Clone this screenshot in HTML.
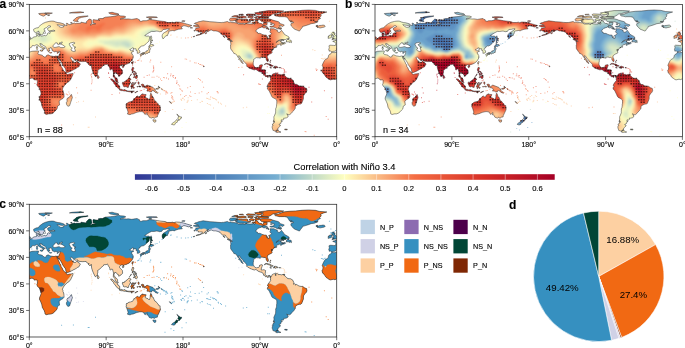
<!DOCTYPE html><html><head><meta charset="utf-8"><title>Correlation with Niño 3.4</title><style>html,body{margin:0;padding:0;background:#fff}svg{display:block}text{font-family:'Liberation Sans', Arial, sans-serif;fill:#000;stroke:#000;stroke-width:0.12px}</style></head><body><svg width="685" height="348" viewBox="0 0 685 348"><defs><path id="land" fill-rule="evenodd" d="M-5.0 47.8L-2.6 48.3L-0.5 47.9L2.6 46.9L6.0 46.7L8.4 46.5L9.4 46.7L8.6 49.4L9.4 50.1L11.3 50.4L13.0 50.8L13.7 51.8L15.4 52.7L17.1 52.2L17.1 51.1L18.8 50.4L20.5 51.2L21.3 51.5L24.8 52.1L26.5 51.6L27.6 51.9L28.6 51.9L28.3 53.4L27.8 53.0L27.8 53.8L28.6 54.9L29.3 56.4L30.3 58.2L30.5 59.1L31.6 60.4L31.8 62.1L32.9 63.5L33.7 65.6L35.4 67.4L36.5 67.9L37.0 68.5L36.9 69.1L38.4 70.2L40.1 69.5L41.8 69.4L43.8 69.0L43.7 70.2L42.7 72.3L41.4 75.0L39.7 77.2L38.7 77.6L36.3 79.7L35.0 81.3L33.9 82.9L33.1 84.8L33.7 86.0L33.7 87.1L34.4 88.5L34.7 90.4L34.8 92.6L33.7 94.0L31.6 95.2L29.8 96.8L30.1 98.8L30.3 100.5L28.3 101.7L28.1 103.2L27.6 104.8L26.5 105.8L25.2 107.3L23.8 108.5L21.9 109.4L19.2 109.5L17.1 110.1L15.7 109.4L15.5 107.6L14.8 105.8L14.1 104.6L13.0 102.8L12.4 99.6L11.3 97.0L10.1 94.6L10.4 92.6L11.4 90.5L11.8 88.9L11.3 87.1L10.5 84.7L10.1 83.6L8.1 81.6L7.5 80.0L8.0 79.0L8.2 77.2L8.3 75.9L7.6 75.4L6.0 75.5L5.1 75.6L4.5 74.5L2.9 73.7L2.0 73.8L0.9 74.2L-0.2 74.5L-1.8 75.2L-3.4 74.8L-6.4 75.5L-7.9 74.8L-9.2 73.8L-10.7 72.8L-11.3 71.9L-11.7 71.0L-12.8 69.9L-13.3 68.9L-14.3 68.4L-14.2 67.5L-14.9 66.4L-14.1 65.3L-13.7 63.4L-13.9 62.2L-14.5 61.0L-13.8 59.1L-12.4 56.4L-11.1 54.9L-9.6 54.2L-8.7 53.4L-8.2 52.6L-8.4 51.6L-7.3 50.0L-6.5 49.7L-5.8 49.4L-5.0 47.8ZM302.4 47.8L304.8 48.3L306.9 47.9L310.0 46.9L313.4 46.7L315.8 46.5L316.8 46.7L316.0 49.4L316.8 50.1L318.7 50.4L320.4 50.8L321.1 51.8L322.8 52.7L324.5 52.2L324.5 51.1L326.2 50.4L327.9 51.2L328.7 51.5L332.2 52.1L333.9 51.6L335.0 51.9L336.0 51.9L335.7 53.4L335.2 53.0L335.2 53.8L336.0 54.9L336.7 56.4L337.7 58.2L337.9 59.1L339.0 60.4L339.2 62.1L340.3 63.5L341.1 65.6L342.8 67.4L343.9 67.9L344.4 68.5L344.3 69.1L345.8 70.2L347.5 69.5L349.2 69.4L351.2 69.0L351.1 70.2L350.1 72.3L348.8 75.0L347.1 77.2L346.1 77.6L343.7 79.7L342.4 81.3L341.3 82.9L340.5 84.8L341.1 86.0L341.1 87.1L341.8 88.5L342.1 90.4L342.2 92.6L341.1 94.0L339.0 95.2L337.2 96.8L337.5 98.8L337.7 100.5L335.7 101.7L335.5 103.2L335.0 104.8L333.9 105.8L332.6 107.3L331.2 108.5L329.3 109.4L326.6 109.5L324.5 110.1L323.1 109.4L322.9 107.6L322.2 105.8L321.5 104.6L320.4 102.8L319.8 99.6L318.7 97.0L317.5 94.6L317.8 92.6L318.8 90.5L319.2 88.9L318.7 87.1L317.9 84.7L317.5 83.6L315.5 81.6L314.9 80.0L315.4 79.0L315.6 77.2L315.7 75.9L315.0 75.4L313.4 75.5L312.5 75.6L311.9 74.5L310.3 73.7L309.4 73.8L308.3 74.2L307.2 74.5L305.6 75.2L304.0 74.8L301.0 75.5L299.5 74.8L298.2 73.8L296.7 72.8L296.1 71.9L295.7 71.0L294.6 69.9L294.1 68.9L293.1 68.4L293.2 67.5L292.5 66.4L293.3 65.3L293.7 63.4L293.5 62.2L292.9 61.0L293.6 59.1L295.0 56.4L296.3 54.9L297.8 54.2L298.7 53.4L299.2 52.6L299.0 51.6L300.1 50.0L300.9 49.7L301.6 49.4L302.4 47.8ZM42.1 90.0L43.1 93.1L42.3 95.3L41.4 97.9L40.3 101.3L38.6 101.9L37.3 100.1L37.0 98.3L37.9 96.8L37.6 94.8L38.4 93.5L39.7 93.2L41.0 91.4ZM27.6 51.9L27.8 53.0L28.6 54.0L29.2 54.9L29.7 53.4L29.9 54.5L31.3 56.4L32.4 58.2L33.4 60.4L34.6 62.2L36.3 64.5L36.5 66.3L37.0 67.6L37.1 68.2L38.4 68.1L41.0 67.0L41.9 66.6L44.6 65.1L46.1 64.4L47.2 63.8L48.2 62.8L49.4 62.6L50.1 61.3L51.1 59.5L50.0 58.6L48.7 58.0L48.2 57.4L48.2 56.2L47.8 56.6L47.2 57.1L46.5 57.8L44.8 58.0L44.1 57.9L44.1 57.3L44.0 56.4L43.4 56.9L43.4 57.5L42.9 56.7L42.8 56.1L42.0 55.1L41.0 53.4L41.4 52.9L42.7 52.7L43.4 53.9L44.8 55.1L46.5 55.9L48.1 55.4L48.7 55.8L48.9 56.6L49.4 56.8L51.7 57.1L53.2 57.2L55.1 57.1L56.8 57.0L57.2 57.5L57.6 58.3L58.2 58.6L58.7 58.9L60.0 59.2L58.9 59.7L60.0 60.9L60.6 61.1L61.6 60.7L61.9 59.8L62.2 60.9L62.2 62.6L62.6 64.4L63.0 65.7L63.9 68.0L65.1 70.6L65.7 71.9L66.2 72.2L66.8 71.5L67.6 71.2L68.1 70.3L68.2 68.8L68.6 67.8L68.4 65.9L69.3 65.4L70.3 64.7L71.1 63.8L72.6 62.4L73.3 61.9L74.2 61.1L74.3 60.4L75.1 60.2L76.4 60.2L77.3 60.0L78.1 59.5L78.4 59.7L78.6 60.6L79.3 61.7L80.5 63.5L80.6 65.3L81.4 65.4L82.2 64.8L82.8 64.4L83.3 65.0L83.8 67.0L84.2 68.4L84.1 70.6L83.9 72.3L85.0 73.2L85.6 73.8L85.6 74.6L86.0 75.9L86.5 76.7L87.3 77.4L88.4 78.2L89.1 78.1L88.4 77.1L88.3 76.0L88.0 74.7L87.3 73.9L86.5 73.3L85.9 73.0L85.4 71.9L84.8 71.3L84.7 70.1L85.2 69.0L85.4 68.3L85.8 67.5L86.2 68.0L86.7 68.3L87.4 68.6L88.0 69.7L88.4 70.0L89.2 70.2L89.5 71.8L90.1 71.4L91.1 70.9L91.5 70.2L92.3 69.8L93.2 68.9L93.3 67.9L93.2 67.2L93.0 65.9L92.4 65.2L91.9 64.7L91.0 63.9L90.3 62.9L90.4 61.9L91.1 61.0L92.2 60.4L93.6 60.4L93.8 61.5L94.4 61.5L94.3 60.6L95.2 60.4L96.5 60.0L97.5 59.7L99.6 58.7L100.8 57.8L102.1 56.4L103.2 54.7L104.1 53.0L103.2 52.7L104.1 52.0L104.1 51.4L103.2 50.6L102.7 49.1L101.9 48.7L102.8 47.5L104.6 46.7L103.7 46.2L101.6 46.5L100.8 45.7L100.5 45.0L101.6 44.8L102.1 44.2L103.3 43.4L104.3 43.6L103.8 45.1L105.0 44.5L106.1 44.2L106.9 44.5L106.7 45.3L106.6 45.9L108.0 46.3L107.9 47.2L108.0 48.1L107.8 48.8L108.9 48.9L110.2 48.4L110.6 47.6L110.5 46.7L109.8 45.7L108.9 44.8L109.3 44.1L110.7 43.3L110.8 42.5L111.6 42.1L112.7 41.4L113.7 41.6L115.7 40.4L117.0 39.2L118.3 37.9L119.8 36.6L119.8 35.7L120.2 34.0L120.7 32.6L120.1 32.2L119.1 31.6L117.4 31.8L115.4 31.1L117.0 30.1L118.0 29.4L120.0 28.2L122.3 27.0L124.7 27.1L127.2 26.7L128.8 26.8L130.2 27.3L132.4 27.0L133.8 25.1L136.6 24.9L137.0 24.7L140.0 24.3L139.4 25.6L138.2 26.2L136.6 27.3L135.1 28.2L133.9 29.0L133.2 30.0L132.9 31.0L132.9 32.6L133.3 33.5L133.8 34.5L135.5 32.6L136.6 31.3L138.2 31.2L138.5 30.0L139.4 28.4L139.2 27.3L140.7 26.5L143.5 26.1L145.4 26.5L145.8 25.9L146.9 25.6L149.0 24.9L153.0 24.4L151.6 22.3L152.4 22.4L153.7 21.7L154.6 21.2L156.7 21.7L159.5 22.6L162.5 21.1L159.7 20.3L158.0 19.8L155.4 19.0L154.1 18.6L152.0 18.2L150.3 17.8L146.9 17.6L145.4 17.9L145.2 18.7L143.5 17.8L141.7 18.1L137.9 18.1L135.8 17.2L132.4 16.8L128.5 16.3L124.7 15.6L120.4 15.2L117.0 16.3L113.6 16.3L112.3 16.9L111.0 16.8L110.1 16.2L110.2 15.4L108.4 14.6L108.0 14.2L105.9 14.4L102.5 15.0L99.1 14.5L96.9 14.6L93.9 14.3L90.9 14.8L92.2 13.9L93.9 13.7L96.5 12.5L94.8 11.7L91.4 11.5L89.1 10.8L85.4 11.9L81.1 12.3L76.0 12.8L73.9 13.7L73.9 14.2L70.9 14.1L68.7 14.6L70.4 16.1L68.7 15.7L66.6 15.6L64.0 15.2L63.6 16.3L63.9 18.7L66.2 19.2L66.2 19.7L63.0 19.7L61.5 20.9L60.8 20.6L62.0 19.4L62.6 18.5L62.2 16.8L61.9 15.2L59.8 14.7L58.5 15.9L57.2 17.2L57.0 18.1L57.2 18.7L55.5 18.5L51.7 17.8L51.5 18.8L48.7 18.9L47.0 18.9L46.1 19.2L45.3 18.6L42.7 19.4L40.1 20.3L39.7 20.5L38.9 19.4L37.8 18.9L37.0 18.9L37.7 20.7L37.6 21.2L35.9 20.8L34.2 21.6L34.6 22.4L32.0 23.0L31.2 22.8L29.7 22.1L27.8 20.2L29.9 20.6L32.9 21.1L34.6 20.7L35.3 20.1L34.0 19.3L30.7 18.4L28.6 18.2L26.5 17.6L24.8 16.9L23.7 16.7L22.0 16.7L19.6 17.0L16.2 17.9L13.7 19.0L12.3 20.0L10.7 21.2L9.4 22.5L8.9 23.4L7.3 23.5L5.3 24.3L4.3 24.9L4.4 26.1L4.9 27.3L6.1 28.2L6.8 28.1L8.1 27.5L9.1 27.1L9.1 26.5L9.6 27.3L10.2 28.5L10.8 29.8L11.1 30.3L12.2 30.4L13.3 29.9L14.0 29.4L14.3 28.4L14.3 27.7L15.6 27.1L16.1 26.5L14.8 25.8L14.9 24.3L17.3 23.1L19.0 21.5L20.6 21.3L21.7 22.1L19.7 23.1L18.4 23.7L18.4 25.1L19.0 26.1L19.6 26.6L21.3 26.3L23.1 26.0L24.5 25.8L25.8 26.5L23.9 26.9L21.2 27.0L20.1 27.2L20.9 27.9L20.6 29.1L19.3 28.4L18.4 28.8L17.9 29.5L18.0 30.3L17.1 31.1L16.7 31.4L16.0 31.4L15.6 31.0L14.1 31.3L12.2 31.8L11.5 31.2L10.3 31.6L9.3 31.8L8.7 31.4L8.1 31.0L8.5 30.4L8.8 29.8L9.3 29.6L9.0 28.8L9.1 28.5L8.1 28.9L7.0 29.1L6.9 30.0L7.2 30.4L7.3 31.0L7.6 31.8L7.4 31.8L6.9 32.1L6.1 32.3L4.1 32.6L3.4 33.5L3.0 34.0L1.6 34.4L0.1 35.7L-1.0 35.8L-1.4 35.5L-1.4 36.4L-4.0 36.7L-3.7 37.2L-2.9 37.3L-1.9 37.7L-1.0 38.6L-0.9 39.2L-1.0 40.0L-1.3 41.0L-1.7 41.2L-3.2 41.0L-4.9 40.9L-6.8 40.8L-7.9 41.5L-7.5 42.2L-7.4 43.1L-7.6 43.9L-8.0 45.2L-7.5 45.5L-7.6 45.9L-7.7 46.7L-6.7 46.7L-5.9 46.6L-5.4 47.2L-4.8 47.6L-4.5 47.5L-3.8 47.0L-2.0 46.9L-1.8 47.0L-0.9 46.2L-0.4 45.6L0.2 45.2L-0.3 44.5L0.8 43.5L1.9 42.9L2.8 42.1L2.6 41.7L3.0 41.2L4.6 41.2L5.1 41.4L6.2 40.8L7.6 40.2L8.4 40.5L8.8 41.0L9.0 41.5L10.1 42.2L10.4 42.5L11.6 43.0L12.1 43.4L12.6 43.6L13.3 44.1L13.5 44.5L13.7 45.2L13.4 45.8L13.7 46.0L14.2 45.5L14.7 44.9L14.1 44.4L14.7 43.7L15.4 44.1L15.7 44.3L15.8 44.0L15.4 43.6L14.4 43.1L13.8 42.4L12.9 42.4L12.1 41.9L11.5 40.9L10.8 40.5L10.7 39.7L10.5 39.3L11.8 39.2L11.6 39.6L11.9 39.9L12.3 39.4L13.0 40.5L14.0 41.0L15.5 41.8L16.4 42.4L16.6 43.0L16.6 43.7L17.1 44.4L17.2 44.5L17.7 45.0L18.2 45.6L18.0 46.0L18.5 46.8L19.2 47.3L19.8 47.3L19.5 46.3L20.1 46.4L20.2 46.0L20.5 46.2L20.5 45.7L19.9 45.3L19.6 44.7L19.3 44.1L19.6 43.6L20.3 44.1L20.8 43.9L20.8 43.3L22.1 43.4L22.4 44.0L22.3 44.5L22.8 44.7L22.9 45.5L22.5 45.6L23.3 46.0L23.4 46.7L24.2 46.9L24.8 47.1L25.3 47.5L26.0 47.4L26.2 46.8L27.3 47.2L28.0 47.6L29.0 47.4L29.5 46.9L30.3 47.1L30.9 47.1L30.7 47.6L30.6 48.1L30.6 49.0L30.3 49.5L29.9 50.5L29.7 51.1L29.3 51.7L28.9 51.9ZM335.0 51.9L335.2 53.0L336.0 54.0L336.6 54.9L337.1 53.4L337.3 54.5L338.7 56.4L339.8 58.2L340.8 60.4L342.0 62.2L343.7 64.5L343.9 66.3L344.4 67.6L344.5 68.2L345.8 68.1L348.4 67.0L349.3 66.6L352.0 65.1L353.5 64.4L354.6 63.8L355.6 62.8L356.8 62.6L357.5 61.3L358.5 59.5L357.4 58.6L356.1 58.0L355.6 57.4L355.6 56.2L355.2 56.6L354.6 57.1L353.9 57.8L352.2 58.0L351.5 57.9L351.5 57.3L351.4 56.4L350.8 56.9L350.8 57.5L350.3 56.7L350.2 56.1L349.4 55.1L348.4 53.4L348.8 52.9L350.1 52.7L350.8 53.9L352.2 55.1L353.9 55.9L355.5 55.4L356.1 55.8L356.3 56.6L356.8 56.8L359.1 57.1L360.6 57.2L362.5 57.1L364.2 57.0L364.6 57.5L365.0 58.3L365.6 58.6L366.1 58.9L367.4 59.2L366.3 59.7L367.4 60.9L368.0 61.1L369.0 60.7L369.3 59.8L369.6 60.9L369.6 62.6L370.0 64.4L370.4 65.7L371.3 68.0L372.5 70.6L373.1 71.9L373.6 72.2L374.2 71.5L375.0 71.2L375.5 70.3L375.6 68.8L376.0 67.8L375.8 65.9L376.7 65.4L377.7 64.7L378.5 63.8L380.0 62.4L380.7 61.9L381.6 61.1L381.7 60.4L382.5 60.2L383.8 60.2L384.7 60.0L385.5 59.5L385.8 59.7L386.0 60.6L386.7 61.7L387.9 63.5L388.0 65.3L388.8 65.4L389.6 64.8L390.2 64.4L390.7 65.0L391.2 67.0L391.6 68.4L391.5 70.6L391.3 72.3L392.4 73.2L393.0 73.8L393.0 74.6L393.4 75.9L393.9 76.7L394.7 77.4L395.8 78.2L396.5 78.1L395.8 77.1L395.7 76.0L395.4 74.7L394.7 73.9L393.9 73.3L393.3 73.0L392.8 71.9L392.2 71.3L392.1 70.1L392.6 69.0L392.8 68.3L393.2 67.5L393.6 68.0L394.1 68.3L394.8 68.6L395.4 69.7L395.8 70.0L396.6 70.2L396.9 71.8L397.5 71.4L398.5 70.9L398.9 70.2L399.7 69.8L400.6 68.9L400.7 67.9L400.6 67.2L400.4 65.9L399.8 65.2L399.3 64.7L398.4 63.9L397.7 62.9L397.8 61.9L398.5 61.0L399.6 60.4L401.0 60.4L401.2 61.5L401.8 61.5L401.7 60.6L402.6 60.4L403.9 60.0L404.9 59.7L407.0 58.7L408.2 57.8L409.5 56.4L410.6 54.7L411.5 53.0L410.6 52.7L411.5 52.0L411.5 51.4L410.6 50.6L410.1 49.1L409.3 48.7L410.2 47.5L412.0 46.7L411.1 46.2L409.0 46.5L408.2 45.7L407.9 45.0L409.0 44.8L409.5 44.2L410.7 43.4L411.7 43.6L411.2 45.1L412.4 44.5L413.5 44.2L414.3 44.5L414.1 45.3L414.0 45.9L415.4 46.3L415.3 47.2L415.4 48.1L415.2 48.8L416.3 48.9L417.6 48.4L418.0 47.6L417.9 46.7L417.2 45.7L416.3 44.8L416.7 44.1L418.1 43.3L418.2 42.5L419.0 42.1L420.1 41.4L421.1 41.6L423.1 40.4L424.4 39.2L425.7 37.9L427.2 36.6L427.2 35.7L427.6 34.0L428.1 32.6L427.5 32.2L426.5 31.6L424.8 31.8L422.8 31.1L424.4 30.1L425.4 29.4L427.4 28.2L429.7 27.0L432.1 27.1L434.6 26.7L436.2 26.8L437.6 27.3L439.8 27.0L441.2 25.1L444.0 24.9L444.4 24.7L447.4 24.3L446.8 25.6L445.6 26.2L444.0 27.3L442.5 28.2L441.3 29.0L440.6 30.0L440.3 31.0L440.3 32.6L440.7 33.5L441.2 34.5L442.9 32.6L444.0 31.3L445.6 31.2L445.9 30.0L446.8 28.4L446.6 27.3L448.1 26.5L450.9 26.1L452.8 26.5L453.2 25.9L454.3 25.6L456.4 24.9L460.4 24.4L459.0 22.3L459.8 22.4L461.1 21.7L462.0 21.2L464.1 21.7L466.9 22.6L469.9 21.1L467.1 20.3L465.4 19.8L462.8 19.0L461.5 18.6L459.4 18.2L457.7 17.8L454.3 17.6L452.8 17.9L452.6 18.7L450.9 17.8L449.1 18.1L445.3 18.1L443.2 17.2L439.8 16.8L435.9 16.3L432.1 15.6L427.8 15.2L424.4 16.3L421.0 16.3L419.7 16.9L418.4 16.8L417.5 16.2L417.6 15.4L415.8 14.6L415.4 14.2L413.3 14.4L409.9 15.0L406.5 14.5L404.3 14.6L401.3 14.3L398.3 14.8L399.6 13.9L401.3 13.7L403.9 12.5L402.2 11.7L398.8 11.5L396.5 10.8L392.8 11.9L388.5 12.3L383.4 12.8L381.3 13.7L381.3 14.2L378.3 14.1L376.1 14.6L377.8 16.1L376.1 15.7L374.0 15.6L371.4 15.2L371.0 16.3L371.3 18.7L373.6 19.2L373.6 19.7L370.4 19.7L368.9 20.9L368.2 20.6L369.4 19.4L370.0 18.5L369.6 16.8L369.3 15.2L367.2 14.7L365.9 15.9L364.6 17.2L364.4 18.1L364.6 18.7L362.9 18.5L359.1 17.8L358.9 18.8L356.1 18.9L354.4 18.9L353.5 19.2L352.7 18.6L350.1 19.4L347.5 20.3L347.1 20.5L346.3 19.4L345.2 18.9L344.4 18.9L345.1 20.7L345.0 21.2L343.3 20.8L341.6 21.6L342.0 22.4L339.4 23.0L338.6 22.8L337.1 22.1L335.2 20.2L337.3 20.6L340.3 21.1L342.0 20.7L342.7 20.1L341.4 19.3L338.1 18.4L336.0 18.2L333.9 17.6L332.2 16.9L331.1 16.7L329.4 16.7L327.0 17.0L323.6 17.9L321.1 19.0L319.7 20.0L318.1 21.2L316.8 22.5L316.3 23.4L314.7 23.5L312.7 24.3L311.7 24.9L311.8 26.1L312.3 27.3L313.5 28.2L314.2 28.1L315.5 27.5L316.5 27.1L316.5 26.5L317.0 27.3L317.6 28.5L318.2 29.8L318.5 30.3L319.6 30.4L320.7 29.9L321.4 29.4L321.7 28.4L321.7 27.7L323.0 27.1L323.5 26.5L322.2 25.8L322.3 24.3L324.7 23.1L326.4 21.5L328.0 21.3L329.1 22.1L327.1 23.1L325.8 23.7L325.8 25.1L326.4 26.1L327.0 26.6L328.7 26.3L330.5 26.0L331.9 25.8L333.2 26.5L331.3 26.9L328.6 27.0L327.5 27.2L328.3 27.9L328.0 29.1L326.7 28.4L325.8 28.8L325.3 29.5L325.4 30.3L324.5 31.1L324.1 31.4L323.4 31.4L323.0 31.0L321.5 31.3L319.6 31.8L318.9 31.2L317.7 31.6L316.7 31.8L316.1 31.4L315.5 31.0L315.9 30.4L316.2 29.8L316.7 29.6L316.4 28.8L316.5 28.5L315.5 28.9L314.4 29.1L314.3 30.0L314.6 30.4L314.7 31.0L315.0 31.8L314.8 31.8L314.3 32.1L313.5 32.3L311.5 32.6L310.8 33.5L310.4 34.0L309.0 34.4L307.5 35.7L306.4 35.8L306.0 35.5L306.0 36.4L303.4 36.7L303.7 37.2L304.5 37.3L305.5 37.7L306.4 38.6L306.5 39.2L306.4 40.0L306.1 41.0L305.7 41.2L304.2 41.0L302.5 40.9L300.6 40.8L299.5 41.5L299.9 42.2L300.0 43.1L299.8 43.9L299.4 45.2L299.9 45.5L299.8 45.9L299.7 46.7L300.7 46.7L301.5 46.6L302.0 47.2L302.6 47.6L302.9 47.5L303.6 47.0L305.4 46.9L305.6 47.0L306.5 46.2L307.0 45.6L307.6 45.2L307.1 44.5L308.2 43.5L309.3 42.9L310.2 42.1L310.0 41.7L310.4 41.2L312.0 41.2L312.5 41.4L313.6 40.8L315.0 40.2L315.8 40.5L316.2 41.0L316.4 41.5L317.5 42.2L317.8 42.5L319.0 43.0L319.5 43.4L320.0 43.6L320.7 44.1L320.9 44.5L321.1 45.2L320.8 45.8L321.1 46.0L321.6 45.5L322.1 44.9L321.5 44.4L322.1 43.7L322.8 44.1L323.1 44.3L323.2 44.0L322.8 43.6L321.8 43.1L321.2 42.4L320.3 42.4L319.5 41.9L318.9 40.9L318.2 40.5L318.1 39.7L317.9 39.3L319.2 39.2L319.0 39.6L319.3 39.9L319.7 39.4L320.4 40.5L321.4 41.0L322.9 41.8L323.8 42.4L324.0 43.0L324.0 43.7L324.5 44.4L324.6 44.5L325.1 45.0L325.6 45.6L325.4 46.0L325.9 46.8L326.6 47.3L327.2 47.3L326.9 46.3L327.5 46.4L327.6 46.0L327.9 46.2L327.9 45.7L327.3 45.3L327.0 44.7L326.7 44.1L327.0 43.6L327.7 44.1L328.2 43.9L328.2 43.3L329.5 43.4L329.8 44.0L329.7 44.5L330.2 44.7L330.3 45.5L329.9 45.6L330.7 46.0L330.8 46.7L331.6 46.9L332.2 47.1L332.7 47.5L333.4 47.4L333.6 46.8L334.7 47.2L335.4 47.6L336.4 47.4L336.9 46.9L337.7 47.1L338.3 47.1L338.1 47.6L338.0 48.1L338.0 49.0L337.7 49.5L337.3 50.5L337.1 51.1L336.7 51.7L336.3 51.9ZM24.8 43.0L23.9 42.4L23.5 41.9L23.8 41.3L24.5 40.4L25.4 39.5L26.2 38.4L27.3 38.4L28.2 38.7L27.8 39.3L28.5 39.5L28.6 40.0L29.2 40.2L30.2 39.7L31.2 39.4L30.3 39.3L29.9 38.8L29.7 38.6L30.3 38.5L31.4 38.2L32.0 37.8L33.2 37.7L32.7 38.2L32.4 38.8L31.9 39.4L31.3 39.6L31.9 39.8L32.3 40.0L33.4 40.5L33.9 40.9L35.0 41.5L35.6 42.2L35.5 42.7L33.9 43.2L32.4 43.2L31.0 43.0L30.1 42.3L28.9 42.3L27.2 42.8L25.9 43.0ZM40.1 39.1L41.4 38.5L42.7 38.2L44.4 37.9L45.4 38.3L45.3 39.2L44.0 39.5L43.5 40.1L43.0 40.3L43.8 41.3L44.8 41.9L45.1 42.5L46.5 42.8L45.2 43.2L45.3 44.1L45.2 44.6L45.8 45.0L46.0 46.3L46.1 46.8L44.4 47.1L42.3 46.3L41.8 45.5L41.8 44.7L43.0 43.8L42.3 43.6L41.8 42.8L41.2 42.3L40.6 41.5L40.6 40.6L40.0 40.0ZM-4.9 35.2L-3.5 35.0L-2.6 34.7L-2.0 34.8L-1.1 34.6L-0.1 34.6L1.2 34.3L0.6 34.0L0.9 33.7L1.5 33.1L1.1 32.7L0.3 32.7L0.1 32.2L-0.3 31.5L-1.0 31.2L-1.2 30.9L-1.7 30.2L-2.6 30.0L-2.2 29.7L-1.8 29.0L-1.5 28.7L-1.7 28.5L-3.6 28.7L-3.3 28.3L-2.6 27.9L-2.6 27.7L-4.3 27.7L-4.5 28.3L-5.0 28.8L-5.0 29.1L-4.7 29.6L-5.0 30.6L-4.2 30.1L-4.0 30.5L-4.4 31.0L-3.8 31.1L-3.0 31.0L-2.9 31.3L-2.5 31.7L-2.6 32.3L-2.8 32.3L-3.9 32.3L-4.0 32.8L-3.5 33.1L-4.0 33.4L-4.5 33.6L-4.4 33.9L-3.4 33.9L-2.7 34.0L-2.3 33.9L-2.6 34.2L-3.6 34.2L-3.8 34.4L-4.4 34.9ZM302.5 35.2L303.9 35.0L304.8 34.7L305.4 34.8L306.3 34.6L307.3 34.6L308.6 34.3L308.0 34.0L308.3 33.7L308.9 33.1L308.5 32.7L307.7 32.7L307.5 32.2L307.1 31.5L306.4 31.2L306.2 30.9L305.7 30.2L304.8 30.0L305.2 29.7L305.6 29.0L305.9 28.7L305.7 28.5L303.8 28.7L304.1 28.3L304.8 27.9L304.8 27.7L303.1 27.7L302.9 28.3L302.4 28.8L302.4 29.1L302.7 29.6L302.4 30.6L303.2 30.1L303.4 30.5L303.0 31.0L303.6 31.1L304.4 31.0L304.5 31.3L304.9 31.7L304.8 32.3L304.6 32.3L303.5 32.3L303.4 32.8L303.9 33.1L303.4 33.4L302.9 33.6L303.0 33.9L304.0 33.9L304.7 34.0L305.1 33.9L304.8 34.2L303.8 34.2L303.6 34.4L303.0 34.9ZM301.1 30.5L302.2 30.7L302.5 31.2L302.7 31.5L302.1 31.8L302.2 32.4L302.0 33.3L301.4 33.4L300.3 33.7L299.0 34.0L298.5 33.4L299.1 33.0L299.7 32.5L298.7 32.2L298.9 31.8L299.7 31.5L300.1 31.5L300.1 31.0L300.3 30.7ZM288.0 23.1L288.6 22.8L286.9 22.1L288.6 21.7L286.5 21.6L287.8 20.8L289.0 21.6L290.1 21.1L292.0 21.0L293.6 20.7L294.9 20.8L295.8 21.6L295.9 22.1L294.6 22.8L292.9 23.1L291.2 23.5L290.1 23.4L289.0 23.1ZM9.4 9.1L12.8 8.9L14.5 8.8L16.2 9.4L17.9 10.0L16.2 10.3L15.8 11.0L14.1 11.8L12.0 11.0L9.8 9.9ZM15.4 8.6L18.8 8.4L23.1 8.7L20.5 9.4L17.9 9.3ZM18.4 10.4L20.5 10.7L19.6 11.2L18.4 11.0ZM44.0 16.3L44.4 15.4L45.7 14.6L47.0 13.2L49.5 12.3L53.8 11.8L58.5 11.5L58.9 11.7L56.4 12.3L52.1 13.0L50.0 13.8L48.7 15.0L47.8 15.9L49.1 16.8L48.9 17.1L47.0 17.0L45.3 16.8ZM40.1 8.6L44.4 8.6L47.8 8.6L51.2 8.3L54.6 8.0L51.2 7.4L47.0 7.6L42.7 8.0ZM81.1 9.7L85.4 10.4L89.7 10.1L88.8 9.3L85.4 8.6L82.8 7.9L79.4 8.4ZM117.0 12.8L119.5 13.4L122.1 13.3L124.7 13.2L128.1 13.1L127.2 12.5L123.0 12.3L119.5 12.3ZM119.5 14.5L122.1 14.7L122.5 14.4L120.4 14.1ZM152.4 16.8L153.7 16.3L155.8 16.5L155.4 16.9L153.7 16.9ZM41.2 18.3L42.3 18.1L43.0 18.5L41.8 18.8ZM121.8 31.4L122.4 33.1L122.3 34.4L123.0 36.0L123.6 36.4L122.1 36.0L121.8 37.5L122.5 38.2L121.8 38.3L121.3 38.9L121.3 37.5L121.3 36.2L121.1 34.4L121.0 33.3L121.3 32.2ZM121.0 39.2L122.1 40.0L124.1 40.3L124.5 41.2L123.3 41.5L122.3 42.3L121.1 41.8L120.4 42.1L120.1 42.5L119.5 42.8L119.5 41.9L119.9 41.2L120.7 41.2L120.9 40.7ZM120.3 42.8L120.8 43.7L121.3 44.5L120.4 45.7L120.4 46.7L120.2 47.9L119.5 48.6L119.4 48.1L118.6 48.9L118.0 48.9L116.9 48.8L116.9 49.1L116.0 49.9L115.4 49.2L115.6 48.9L114.4 48.9L113.1 49.1L111.8 49.4L112.2 49.0L113.6 48.1L114.6 48.1L116.0 48.0L116.7 46.9L117.2 46.3L117.0 46.7L117.2 46.9L118.7 46.0L119.4 45.1L119.3 44.2L119.5 43.6L119.8 43.0ZM113.1 49.5L114.9 49.2L115.0 49.6L114.6 50.1L114.0 49.8L113.6 50.5L113.1 50.0ZM111.9 49.5L112.5 50.1L112.6 50.5L112.3 51.2L111.6 52.0L111.2 51.8L111.2 51.0L110.8 50.5L110.7 50.0L111.3 49.7ZM103.7 57.1L104.2 57.3L103.8 58.2L103.2 60.0L102.6 59.1L102.7 58.0L103.3 57.2ZM92.8 62.4L93.5 63.3L94.4 62.8L94.8 62.0L94.4 61.7L93.3 61.8ZM68.2 70.8L68.6 70.7L69.3 71.8L69.9 72.9L69.7 73.6L68.8 74.2L68.3 73.9L68.1 72.8L68.1 71.9ZM103.0 63.1L104.3 63.1L104.5 64.4L103.8 65.3L103.8 66.6L104.6 66.9L105.9 67.2L106.0 68.3L105.3 67.9L104.7 67.7L103.9 67.1L103.0 67.2L103.0 66.6L102.5 66.2L102.3 65.0L102.7 64.7L102.8 63.9ZM107.1 70.7L107.9 71.9L108.1 72.9L107.8 73.8L107.1 74.4L106.8 74.1L105.9 73.7L105.9 73.0L105.4 72.9L104.3 73.3L104.3 72.5L105.0 71.9L105.7 72.1L106.5 71.8L106.7 71.4ZM106.1 68.4L107.0 68.4L107.3 69.6L106.8 70.4L106.6 70.4L106.2 69.8L106.2 69.2ZM104.2 68.9L105.2 69.2L105.9 69.7L105.4 70.1L105.3 71.2L104.7 71.1L104.5 70.2L104.1 70.2L104.1 69.0ZM100.1 72.0L101.2 70.9L102.0 69.4L101.9 70.3L101.0 71.4L100.4 72.1ZM102.8 67.6L103.7 67.6L103.6 68.5L103.1 68.4ZM81.4 74.4L83.3 74.8L83.9 75.7L84.3 76.0L85.6 77.1L86.7 77.9L88.0 78.9L88.6 79.4L88.3 80.1L89.1 80.4L89.6 81.4L90.5 82.0L90.3 84.5L89.8 84.6L89.3 84.2L88.7 83.7L87.4 82.7L85.7 80.3L84.6 79.1L84.4 77.9L83.4 77.2L82.6 76.1L82.1 75.8L81.4 74.8ZM89.8 85.4L90.5 84.6L91.2 84.8L92.5 84.9L92.7 85.3L94.3 85.5L94.8 85.0L96.1 85.5L96.2 85.7L97.3 86.2L97.8 86.4L97.7 87.0L96.5 86.7L94.8 86.6L93.1 86.2L92.6 86.3L90.9 85.9ZM97.8 86.5L98.8 86.5L99.6 86.7L100.3 86.6L101.6 86.7L102.5 86.7L104.9 86.6L105.0 86.8L104.2 87.2L102.5 87.2L101.6 87.1L99.9 87.4L98.7 87.1L98.2 87.1ZM105.5 88.5L106.3 87.6L108.6 86.8L108.4 87.1L106.7 87.8L105.9 88.5ZM101.6 87.8L102.7 87.7L103.1 88.3L102.5 88.5L101.6 88.0ZM93.6 77.5L94.2 78.0L95.0 78.0L95.1 77.1L96.5 76.6L97.3 75.5L98.2 75.0L99.1 74.1L99.7 73.2L100.5 73.7L100.8 74.2L101.8 74.8L101.2 75.5L100.7 75.6L100.4 76.5L100.8 77.4L101.6 78.5L100.7 78.7L100.3 79.9L99.7 80.5L99.5 81.6L99.1 82.6L99.2 82.9L97.9 83.0L97.9 82.5L96.5 82.2L95.5 82.5L94.1 81.9L93.9 80.7L93.2 79.5L93.0 78.5ZM106.6 78.1L106.9 78.1L106.3 79.0L105.0 78.9L103.3 78.9L102.5 78.9L102.6 80.2L103.7 80.2L105.4 80.2L105.4 80.0L104.9 80.7L103.8 81.1L103.6 81.6L104.3 82.3L105.2 83.3L104.7 84.1L103.8 83.6L103.3 82.9L103.2 81.8L102.7 82.5L102.8 84.2L102.1 84.3L102.0 82.9L101.5 82.5L101.4 81.8L101.9 81.0L102.3 80.1L102.3 79.1L103.1 78.2L104.6 78.5L105.7 78.6ZM108.9 77.4L109.6 77.6L109.9 78.5L109.8 79.1L109.5 80.1L109.1 79.6L108.9 78.7ZM109.3 82.0L110.6 81.8L111.7 82.3L111.4 82.6L109.7 82.5ZM107.6 82.2L108.4 82.1L108.6 82.6L107.8 82.7ZM112.0 80.1L113.1 79.7L114.4 80.1L114.6 81.1L115.1 82.3L115.7 82.3L116.8 81.3L117.8 80.7L120.1 81.6L122.6 82.5L123.5 82.8L124.5 84.0L125.5 84.6L126.2 84.9L125.5 85.3L126.2 86.3L126.8 87.0L127.5 87.3L128.1 88.3L128.8 88.5L128.1 88.8L125.7 87.8L124.7 86.5L123.6 86.2L123.0 86.1L122.5 86.4L122.4 86.9L122.5 87.4L121.3 87.5L120.4 87.4L119.8 86.9L118.7 86.5L117.8 86.8L117.6 85.9L118.4 85.4L117.8 84.2L117.0 83.7L115.5 83.3L114.1 82.6L113.4 82.9L113.0 81.9L114.0 81.6L112.7 81.3L111.9 80.6ZM126.6 84.3L128.1 83.9L129.4 83.1L130.0 83.1L130.0 83.8L128.9 84.6L127.7 84.9L126.7 84.5ZM128.8 81.7L129.4 81.9L130.6 83.3L130.5 83.6L129.4 82.4ZM132.1 84.1L133.1 84.9L133.0 85.5L132.2 84.8ZM140.0 97.1L141.3 97.8L142.6 99.0L142.0 99.0L140.5 97.8ZM121.7 88.8L122.5 90.4L122.8 92.1L124.1 93.0L124.5 94.3L125.4 96.3L126.8 97.1L127.4 98.0L128.8 99.4L128.8 100.0L129.7 100.6L130.1 101.3L130.8 101.2L130.8 103.5L131.2 104.6L130.7 106.1L129.6 108.4L129.2 109.3L128.3 111.1L128.1 112.5L126.4 112.8L125.0 113.9L123.8 113.2L123.7 112.8L122.5 113.7L120.9 113.2L119.9 112.8L119.3 111.6L118.7 110.8L118.3 110.2L117.4 110.4L117.8 109.5L117.7 108.1L116.0 110.1L115.4 109.8L114.6 108.5L114.2 107.7L112.0 107.2L110.1 107.3L107.6 107.9L105.9 108.5L104.1 109.3L102.0 109.7L100.7 110.3L98.3 109.7L98.2 108.9L98.7 108.8L98.8 107.6L97.9 104.8L97.5 103.6L96.9 102.5L96.7 101.4L97.1 101.3L96.9 100.1L97.5 98.6L97.6 99.2L98.3 98.4L99.7 97.6L101.3 97.3L102.9 96.8L103.8 96.0L104.3 95.3L104.3 94.6L104.9 93.8L105.5 94.6L105.5 93.8L106.3 93.1L107.0 92.3L108.4 91.6L109.1 92.3L109.5 92.6L109.7 92.4L110.4 92.5L110.7 92.5L111.0 91.4L111.7 90.3L112.3 90.1L113.1 90.1L113.0 89.3L113.6 89.6L114.8 90.0L115.9 90.1L116.8 90.1L116.6 91.0L116.1 91.6L116.0 92.4L115.6 92.6L116.6 93.4L117.6 93.7L118.7 94.2L119.2 94.8L120.2 94.9L120.7 93.6L120.9 92.2L120.9 90.8L121.1 90.5L121.3 89.1ZM123.6 115.3L125.1 115.6L126.6 115.5L126.6 116.6L126.4 117.5L125.4 117.8L124.7 117.7L124.0 116.6L123.6 115.7ZM147.5 109.7L148.5 110.4L149.0 111.0L149.3 111.9L149.9 111.6L150.2 112.0L150.5 112.5L152.4 112.6L152.0 113.5L151.9 114.0L151.1 114.2L151.2 114.3L150.6 115.3L149.7 116.1L149.3 115.8L149.5 115.1L149.4 114.7L148.4 114.0L148.7 113.8L149.1 112.9L149.2 112.2L148.7 111.5L148.0 110.4ZM147.5 115.1L147.7 115.5L148.0 115.8L148.8 115.5L148.8 116.2L148.3 116.8L147.8 118.0L147.2 118.1L146.3 118.5L146.0 119.2L145.8 119.9L145.0 120.4L143.7 120.5L143.0 120.1L142.3 120.1L142.2 119.7L143.0 118.9L143.3 118.7L144.1 118.1L145.3 117.4L146.0 117.0L146.5 116.2L147.0 115.5ZM10.6 45.9L11.4 45.7L13.3 45.6L12.9 47.0L12.2 46.8L10.7 46.2ZM7.0 43.2L8.1 43.0L8.4 43.7L8.2 44.9L7.5 45.1L7.2 44.5L7.1 43.7ZM7.3 41.9L8.0 41.5L8.1 42.3L7.9 42.9L7.3 42.4ZM20.1 48.0L20.9 48.2L22.5 48.2L22.4 48.5L20.9 48.6L20.1 48.3ZM27.6 48.4L28.2 48.2L29.5 47.9L29.0 48.5L28.2 48.9L27.7 48.8ZM9.4 30.3L10.8 29.9L10.5 30.9L9.6 30.7ZM15.5 28.8L16.2 28.3L16.1 28.8L15.5 29.2ZM173.8 16.4L177.6 16.9L180.6 17.3L185.3 17.6L188.7 18.0L192.1 18.2L193.0 18.0L193.8 18.1L198.1 17.1L199.8 18.1L200.9 17.5L202.4 18.2L204.9 18.2L207.5 18.6L209.2 19.6L211.8 19.7L214.3 19.5L215.2 20.5L215.6 19.6L216.9 19.1L218.2 19.4L220.3 19.6L222.9 19.6L224.1 19.0L225.4 20.0L225.9 19.1L225.4 18.1L226.3 16.0L228.4 16.8L228.8 17.9L229.7 18.5L230.5 19.1L232.3 19.1L232.7 20.0L233.1 20.1L234.4 18.7L234.4 17.8L237.4 17.8L238.0 18.3L237.8 19.1L237.4 19.8L238.0 20.3L236.1 21.0L233.8 20.7L234.0 21.2L233.1 21.6L232.3 22.8L230.0 23.5L228.8 24.0L228.0 24.9L227.1 25.5L226.5 26.5L227.0 27.5L228.0 27.6L228.6 29.1L230.1 28.9L232.3 29.5L232.7 30.0L234.8 30.6L237.1 30.7L237.2 32.6L238.2 33.5L238.7 34.1L239.9 34.0L240.1 33.1L239.9 31.8L239.3 31.2L241.2 30.4L242.1 29.5L242.0 28.7L240.7 27.8L240.4 27.3L241.4 26.5L240.8 25.6L240.8 24.3L242.9 24.4L244.5 24.3L245.9 25.0L247.6 25.6L248.0 25.5L248.1 27.1L249.1 27.8L250.2 27.9L251.1 27.3L251.9 26.2L252.4 26.1L252.8 26.9L254.0 28.0L254.7 29.5L255.9 30.4L257.9 31.5L258.6 31.8L258.7 32.0L259.8 32.8L259.9 33.3L258.9 34.0L257.0 34.7L256.2 35.1L254.6 35.1L250.7 35.1L249.8 35.9L249.2 36.0L247.9 37.0L246.6 38.1L247.6 37.5L248.9 36.6L249.8 36.3L252.3 36.0L252.6 36.3L251.0 37.0L251.9 37.2L251.9 37.8L252.3 38.5L253.2 38.9L254.9 38.9L255.3 37.9L255.7 37.9L256.2 38.6L256.3 38.9L255.3 39.4L253.1 40.0L252.3 40.6L251.4 41.1L251.0 40.7L251.2 40.0L252.3 39.4L252.1 39.2L251.0 39.4L250.2 39.8L249.2 40.3L248.5 40.4L247.5 40.9L247.0 41.5L247.1 41.8L246.8 42.1L247.1 42.5L247.6 42.6L247.6 42.3L247.6 42.7L246.6 42.8L245.9 43.0L245.2 43.0L245.9 43.2L246.0 43.1L244.6 43.6L244.2 43.5L244.2 43.7L244.0 44.5L243.4 45.1L242.9 44.6L243.3 45.2L243.3 45.9L242.6 46.7L242.2 45.9L242.3 44.7L242.1 44.8L242.2 45.9L242.2 46.7L242.5 46.8L242.9 48.3L242.1 48.9L240.8 49.5L240.0 49.7L239.2 50.5L238.2 51.2L237.9 52.7L238.7 54.3L239.1 55.8L239.0 56.6L238.7 57.2L238.1 57.2L237.6 56.4L237.2 55.7L236.8 54.9L236.8 54.0L236.5 53.7L235.7 52.8L234.5 53.2L234.2 52.8L232.9 52.7L232.3 52.7L231.4 52.6L231.1 52.9L231.2 53.5L231.1 53.8L230.5 53.7L229.7 53.6L229.3 53.4L228.6 53.4L227.3 53.2L226.5 53.5L225.5 54.2L224.4 54.9L224.2 55.7L224.4 56.5L224.0 57.8L223.9 59.8L224.3 60.9L225.3 62.4L225.7 62.9L226.8 63.4L228.0 63.2L228.3 63.0L229.0 63.0L230.0 62.3L230.1 61.9L230.2 61.0L230.2 60.9L230.8 60.6L232.3 60.3L233.1 60.4L233.3 60.8L232.8 61.6L232.7 62.4L232.3 63.1L232.4 63.3L232.1 63.9L232.0 64.8L231.7 65.5L232.3 65.4L233.3 65.4L234.0 65.3L235.2 65.4L236.4 66.2L236.2 67.0L236.0 68.4L235.9 68.8L235.9 69.8L236.5 70.6L237.2 71.3L238.1 71.6L239.2 71.1L239.9 70.9L240.8 71.2L241.3 71.7L241.7 72.3L241.4 73.0L240.9 73.0L240.6 72.3L240.5 72.2L240.4 71.5L239.5 71.4L239.3 71.8L239.0 72.2L239.1 72.8L238.3 73.0L238.1 72.7L237.6 72.4L237.2 72.1L236.6 72.3L235.9 72.0L235.7 71.2L235.5 71.1L234.9 70.6L234.7 70.9L234.1 70.5L234.2 69.8L234.1 69.5L233.4 68.6L232.9 68.4L232.7 67.8L232.3 67.7L231.8 67.7L230.7 67.4L229.7 67.1L228.7 66.6L227.6 65.6L226.1 65.1L225.0 65.6L223.7 65.1L222.1 64.5L220.6 63.9L220.1 63.5L218.3 62.6L217.1 61.4L217.5 61.1L217.5 60.4L216.5 58.9L215.4 57.9L214.0 56.8L213.8 55.8L212.7 54.8L211.6 53.8L211.1 52.7L210.5 51.8L209.4 51.3L209.4 52.0L209.9 53.1L210.5 53.9L211.5 55.3L212.4 56.4L213.2 58.0L214.0 58.7L213.6 59.2L213.3 58.7L211.7 57.7L211.5 56.4L210.5 55.7L209.2 54.9L209.9 54.7L210.0 54.2L209.2 53.4L208.6 52.7L207.8 51.3L207.3 50.5L206.3 49.5L204.5 49.0L204.3 48.3L203.3 47.1L202.8 46.0L202.4 45.9L201.8 45.0L201.2 43.7L201.4 42.5L201.1 41.6L201.5 40.1L201.5 38.6L200.9 36.7L202.4 37.0L202.9 37.5L202.8 36.6L202.2 35.9L201.1 35.3L199.4 34.6L198.5 34.0L197.9 33.3L197.2 32.4L196.1 31.5L196.0 30.9L194.9 30.6L193.4 30.9L191.7 29.1L190.8 28.0L188.1 26.9L186.6 26.5L184.4 26.5L183.0 26.0L182.3 25.6L181.0 25.8L179.8 26.5L178.9 27.1L177.7 27.2L178.0 26.8L178.2 25.9L179.3 25.4L177.9 25.8L177.0 26.5L176.1 27.1L175.7 27.2L175.6 28.0L173.8 29.1L172.1 29.7L170.4 30.5L168.5 30.9L167.9 31.0L166.7 31.3L166.9 30.9L168.6 30.3L170.4 30.0L172.1 29.1L172.9 28.0L173.3 27.6L172.1 27.5L170.4 27.6L168.9 27.7L169.2 27.3L168.8 26.5L167.4 26.5L166.5 26.0L165.6 25.1L166.5 24.3L166.7 23.7L167.8 23.7L169.1 23.4L170.1 23.0L169.9 22.5L169.8 22.1L168.6 22.5L166.2 22.5L165.2 21.9L163.9 21.5L165.7 20.9L167.5 20.6L169.1 21.2L169.2 20.7L168.6 20.4L167.5 20.2L166.9 19.7L165.0 19.1L165.5 18.6L167.8 18.1L168.2 17.9L169.2 17.4L170.8 17.1ZM256.8 37.4L257.4 36.6L256.8 36.5L257.9 35.6L258.5 34.7L260.0 33.9L259.4 34.8L259.0 35.3L259.6 35.2L260.0 35.7L261.7 35.9L262.1 36.4L261.7 37.2L262.4 37.4L262.1 38.2L261.3 37.7L260.0 38.0L260.2 37.4L258.9 37.4L258.2 37.4ZM252.4 38.2L254.5 38.4L254.0 38.8L252.9 38.6ZM252.3 35.4L254.5 35.8L254.7 36.1L253.2 35.8ZM202.1 36.7L200.7 36.4L200.1 36.0L198.3 35.2L197.8 34.6L199.0 34.8L200.4 35.3L201.5 36.0ZM193.8 31.6L194.9 31.8L195.5 33.3L194.4 32.6ZM175.5 28.7L177.4 28.2L177.4 28.8L176.3 29.3ZM160.8 23.4L162.2 23.2L163.3 23.5L162.2 23.7ZM164.5 26.3L165.7 26.1L165.9 26.5L165.0 26.6ZM163.9 32.2L165.5 31.8L165.3 32.2L164.1 32.5ZM251.9 24.8L251.0 24.8L249.3 24.4L247.6 24.1L245.9 23.2L243.8 22.6L242.1 22.8L240.8 22.5L240.5 22.1L243.4 21.6L244.2 21.6L244.6 20.7L245.1 19.6L243.4 19.1L242.1 18.3L240.4 17.7L239.9 17.4L237.4 17.7L234.8 17.6L233.1 17.2L231.8 16.8L231.0 15.9L231.0 14.6L234.0 14.3L237.4 14.4L239.1 14.4L242.1 15.1L243.4 15.7L245.9 16.4L248.9 17.2L250.2 18.1L249.8 18.8L252.8 19.8L255.1 20.6L254.5 21.2L253.2 22.1L251.3 21.1L249.8 21.3L251.0 22.5L252.2 23.5L252.2 24.3L251.5 24.2L248.9 23.2L250.6 24.3ZM269.8 26.6L268.1 25.9L265.0 24.7L263.3 22.8L262.1 21.7L261.5 20.4L262.1 18.8L263.9 18.5L264.3 17.7L260.9 17.5L260.8 17.0L263.0 16.8L259.8 16.1L259.4 15.2L257.9 12.8L255.3 12.3L251.0 12.3L250.6 12.4L248.5 11.9L246.3 11.5L245.1 10.4L249.3 9.7L251.9 8.6L255.3 7.5L260.4 6.9L266.4 6.6L273.2 5.9L279.2 5.6L286.1 6.0L290.3 7.1L297.6 7.6L293.7 8.8L291.2 10.1L292.0 11.6L290.3 13.2L291.2 14.1L288.6 15.4L288.6 17.2L285.2 17.2L288.2 17.6L285.2 18.8L281.8 19.3L279.2 20.3L275.4 21.5L273.2 22.1L272.8 23.4L271.5 24.7L270.7 26.2ZM247.6 6.1L254.5 6.6L252.8 7.5L250.2 8.1L246.8 9.1L243.4 9.7L242.5 10.4L240.8 11.5L239.1 12.1L234.8 12.0L231.4 12.0L232.3 11.0L234.0 10.1L233.1 9.3L234.0 8.4L229.7 7.7L233.1 7.1L239.1 6.2ZM225.4 8.4L229.7 7.9L232.7 8.8L232.3 10.1L228.8 10.3L225.9 9.3ZM239.1 12.7L239.1 13.6L236.5 13.7L232.3 13.7L228.8 13.5L228.4 12.3L226.3 11.6L228.8 11.5L231.4 12.1L235.7 12.5ZM225.9 15.9L230.1 15.3L230.5 14.2L226.3 14.0L225.6 15.0ZM220.3 15.9L224.6 16.3L225.0 15.0L222.0 14.1L219.9 15.0ZM217.7 18.9L217.7 18.4L221.2 17.8L221.3 17.0L218.2 16.6L218.2 15.0L217.3 14.6L215.2 14.8L213.5 15.1L210.1 14.6L206.6 15.4L205.8 16.2L208.3 16.5L206.2 17.2L207.1 17.8L208.3 18.3L210.5 18.9L214.3 18.8ZM200.2 15.9L202.6 16.7L205.8 15.9L208.8 14.7L207.1 13.9L204.1 13.7L201.1 13.8L200.2 15.0ZM207.5 13.1L212.6 13.7L216.9 13.2L216.9 12.3L214.3 11.7L210.9 12.2L207.5 12.2ZM218.6 13.1L223.7 13.2L224.1 12.2L221.2 11.7L218.6 12.2ZM225.0 13.2L227.6 13.5L227.6 12.8L225.4 12.7ZM217.7 11.0L223.7 10.8L226.3 10.6L224.6 9.8L218.6 9.5L216.9 10.3ZM202.4 12.3L206.6 12.5L208.8 11.9L208.3 11.0L204.9 11.2ZM210.1 10.6L214.3 10.4L213.5 9.8L210.1 10.0ZM233.1 22.9L234.8 23.6L236.5 22.9L238.7 23.1L238.2 22.5L236.1 21.9L235.2 21.3L234.0 21.4L232.9 22.2ZM222.4 18.5L224.6 19.0L225.9 18.5L225.4 17.7L223.3 17.7ZM241.2 20.0L242.9 20.0L242.9 19.4L241.2 19.4ZM236.5 24.0L237.8 23.9L239.1 24.3L237.4 24.5ZM238.7 24.4L239.5 24.3L239.5 25.1L238.8 25.0ZM237.4 32.5L238.7 32.5L238.8 32.8L237.6 32.8ZM241.3 71.7L241.8 71.8L242.7 71.1L242.9 70.2L243.5 69.6L244.0 69.4L245.2 69.2L246.2 68.4L246.7 69.0L246.0 69.6L246.3 69.8L246.0 70.6L246.3 71.3L246.8 70.7L246.4 69.8L246.9 69.5L247.4 69.2L247.6 68.6L247.8 69.2L249.0 69.5L249.3 70.1L250.3 70.0L251.0 70.0L251.7 70.5L252.2 70.4L252.6 70.1L254.5 69.9L254.0 70.3L255.3 70.9L255.5 71.5L256.2 71.9L257.7 73.4L258.6 74.1L260.3 74.2L261.3 74.3L262.7 75.1L263.4 75.5L263.9 76.7L264.3 77.6L264.7 77.9L264.7 78.7L263.9 79.4L264.3 79.6L265.1 79.1L266.1 79.6L266.0 80.6L267.0 79.9L268.1 80.4L269.1 81.0L269.6 81.6L270.4 81.5L271.7 81.9L273.2 81.8L274.5 82.6L275.5 83.4L277.3 84.0L277.3 84.5L277.7 85.6L277.6 86.5L276.9 87.9L275.8 89.0L274.5 90.8L274.1 92.4L274.2 93.9L273.9 95.1L273.0 97.3L272.4 98.8L271.5 99.7L270.5 99.7L269.4 99.9L267.9 100.5L266.5 101.5L266.0 101.9L266.0 103.7L265.7 104.6L265.0 105.2L264.5 106.1L262.9 107.7L261.8 109.1L260.5 110.2L259.4 110.2L258.0 109.8L257.5 109.4L257.5 109.9L258.0 110.1L258.6 110.6L258.4 111.1L259.0 111.4L258.3 112.9L257.3 113.4L255.3 113.8L254.4 113.7L254.4 115.1L253.8 115.6L252.0 115.4L251.9 116.4L253.1 116.9L252.5 117.2L251.9 117.1L251.8 117.6L251.6 118.6L251.5 119.1L249.8 119.9L249.7 120.4L251.1 120.9L251.1 121.5L249.6 122.9L248.9 123.5L248.3 124.9L249.0 125.5L248.1 125.7L246.9 125.9L246.9 126.8L245.5 126.6L243.6 125.9L243.4 124.8L242.9 123.5L242.9 122.2L243.8 121.0L242.8 120.6L243.8 119.5L243.9 118.6L245.1 118.2L245.2 116.7L244.5 116.1L244.7 114.6L244.6 113.3L244.5 112.5L245.0 111.7L245.4 110.7L246.3 108.5L246.3 107.2L246.4 105.8L246.3 104.5L246.9 103.3L247.2 101.8L247.3 100.2L247.2 99.8L247.5 98.9L247.5 97.2L247.4 95.7L246.5 94.9L245.9 94.4L244.2 93.5L243.2 93.0L242.2 91.6L241.6 90.0L241.1 89.1L240.3 87.4L239.9 86.5L239.2 85.5L238.1 84.7L238.1 83.9L238.0 83.5L238.7 82.5L239.1 82.3L239.2 81.6L238.7 81.7L238.2 81.3L238.5 80.2L238.7 79.7L239.0 79.3L239.3 78.5L240.0 78.1L240.1 77.8L240.5 77.2L241.6 75.9L241.2 75.6L241.2 74.5L241.3 73.6L240.9 73.0ZM248.9 125.8L249.3 126.4L249.6 126.8L250.6 127.4L251.7 127.6L250.6 127.9L249.1 127.8L247.6 128.1L246.3 127.4L247.2 127.1L247.5 126.3L247.3 125.9ZM244.0 117.3L244.2 116.2L244.7 116.4L244.6 117.7ZM255.3 124.7L256.6 124.6L256.7 125.4L255.5 125.4ZM256.8 124.7L258.0 124.8L257.9 125.5L256.8 125.5ZM234.9 60.1L235.7 59.6L236.4 59.1L237.0 59.0L237.7 59.0L238.7 59.2L239.5 59.5L240.8 59.7L241.5 60.2L242.5 60.7L242.8 61.1L243.4 61.2L244.1 61.5L243.3 61.8L242.7 61.8L241.1 61.9L241.6 61.4L241.1 61.1L240.8 61.1L240.3 60.4L239.4 60.2L239.1 60.2L238.7 59.9L238.1 59.9L237.6 59.8L237.1 59.4L236.3 59.8L236.0 59.8L235.4 60.2ZM243.8 63.2L244.4 63.5L245.5 63.3L246.2 63.7L246.4 63.9L246.7 63.3L247.7 63.1L248.7 63.3L249.0 63.0L248.3 62.4L248.0 62.5L247.0 61.9L246.2 61.8L245.7 62.0L244.7 61.9L245.3 62.2L245.6 63.0L244.6 63.1L244.1 62.9ZM240.5 63.3L240.6 63.1L241.7 63.2L242.3 63.5L241.7 63.6L241.1 63.6ZM250.0 63.1L251.4 63.2L251.2 63.5L250.0 63.5ZM254.5 70.5L254.5 69.9L255.4 69.8L255.3 70.5ZM240.5 57.2L241.0 57.2L241.1 58.0L240.7 58.0ZM241.0 55.7L241.7 55.9L241.5 56.4L241.1 56.2ZM174.2 61.6L175.0 61.9L174.6 62.6L174.2 62.4Z"/><clipPath id="cland"><use href="#land" clip-rule="evenodd"/></clipPath><clipPath id="cax"><rect x="0" y="0" width="307.4" height="132.3"/></clipPath><pattern id="dots" x="-1.281" y="-1.323" width="2.562" height="2.646" patternUnits="userSpaceOnUse"><rect x="0.53" y="0.62" width="1.5" height="1.4" fill="#260803" fill-opacity="0.7"/></pattern><filter id="bl" x="-2%" y="-2%" width="104%" height="104%"><feGaussianBlur stdDeviation="0.9"/></filter><linearGradient id="cbar" x1="0" x2="1" y1="0" y2="0"><stop offset="0.000" stop-color="#313695"/><stop offset="0.167" stop-color="#4575b4"/><stop offset="0.333" stop-color="#74add1"/><stop offset="0.500" stop-color="#ffffbf"/><stop offset="0.667" stop-color="#f46d43"/><stop offset="0.833" stop-color="#d73027"/><stop offset="1.000" stop-color="#a50026"/></linearGradient></defs><rect width="685" height="348" fill="#fff"/><g transform="translate(29.3,4.4)"><g clip-path="url(#cax)"><g clip-path="url(#cland)"><g stroke-width="0.6" filter="url(#bl)"><path fill="#87b8cf" stroke="#87b8cf" d="M219.7 52l.3-.4l.7 .4l-.7 .3z"/><path fill="#97c2cc" stroke="#97c2cc" d="M219 52l1-1.2l2 1.1v.1v.1l-2 .8zM220 51.6l-.3 .4l.3 .3l.7-.3z"/><path fill="#a7cbca" stroke="#a7cbca" d="M220 50l2 .9l.6 1.1l-.6 1.6l-2-.1l-1.8-1.5zM220 50.8l-1 1.2l1 .9l2-.8v-.1v-.1zM251.3 106l.7-.8l2 .1l.4 .7v2l-.4 .5l-2 .1l-.6-.6z"/><path fill="#b7d4c8" stroke="#b7d4c8" d="M124.7 26l1.3-.3l.3 .3l-.3 1.7l-.6 .3l-1.4 .5l-1.9-.5l1.9-.9zM96.3 40l1.7-.9l1.2 .9l-.9 2h-.3h-.1zM218.1 50l1.9-.8l2 .8l1.2 2l-.2 2l-1 .4l-2-.2l-.4-.2l-1.6-1.2l-.9-.8l.9-1.9zM220 50l-1.8 2l1.8 1.5l2 .1l.6-1.6l-.6-1.1l-2-.9zM250.3 106l1.7-1.7l2-.3l1.1 2l.2 2l-1.3 1.6l-1.9 .4h-.1h-.1l-1.9-1.7l-.1-.3l.1-.3zM252 105.2l-.7 .8l.1 2l.6 .6l2-.1l.4-.5v-2l-.4-.7z"/><path fill="#c7dec6" stroke="#c7dec6" d="M121.3 26l.7-.3l2-.2l2-.2l.9 .7l.1 2h-1l-2 2v.4l-2-.3l-.5-.1l-1.5-1.1l-.7-.9l.7-.6zM126 25.7l-1.3 .3l-.7 1.1l-1.9 .9l1.9 .5l1.4-.5l.6-.3l.3-1.7zM86 38l2-.2l1.6 .2l.3 2l-1.9 .4l-2-.3l-.1-.1zM90.9 38l1.1-.1l2-.7l2-.7l2 .5l2 1l1.6 2l-.1 2l-1.5 .9l-2 .1l-2-.9l-.3-.1l-1.7-1.2l-2-.8h-1.4zM98 39.1l-1.7 .9l1.6 2h.1h.3l.9-2zM216.4 50l1.6-1.3l2-.2l2 .7l.7 .8l1.1 2l.2 1.1l.2 .9l-.2 .2l-2 .8l-2-.3l-2-.7h-.1l-1.9-1.7l-.2-.3l.2-.8zM220 49.2l-1.9 .8l-.1 .1l-.9 1.9l.9 .8l1.6 1.2l.4 .2l2 .2l1-.4l.2-2l-1.2-2zM251 104l1-.6l2-.7l1 1.3l.9 2l.1 .9l.2 1.1l-.2 .5l-1 1.5l-1 .8l-2 .3l-2-.3l-.9-.8l-.4-2l.5-2l.8-.9zM252 104.3l-1.7 1.7l-.3 1.7l-.1 .3l.1 .3l1.9 1.7h.1h.1l1.9-.4l1.3-1.6l-.2-2l-1.1-2z"/><path fill="#d7e7c4" stroke="#d7e7c4" d="M119 26l1-.4l2-.7l2-.1h2l1.5 1.2l.5 1.8l.2 .2l.1 .3l-.3-.3h-1l-.1-2l-.9-.7l-2 .2l-2 .2l-.7 .3l-1.3 1.4l-.7 .6l.7 .9l1.5 1.1l.5 .1l2 .3v1.5l-2-.3l-2-.3l-2-.4l-1.7-.9v-2l1.7-1.2zM10.1 32l1.9-1.3l2-.2l2 .7l.9 .8l1 2l-.5 2l-1.4 1l-2 .6l-2-.9l-1.1-.7l-.9-1.6l-.4-.4l.4-1.7zM80.9 36l1.1-.2l1.6 .2l.4 .1h2l1-.1l1-.1h2l2-.1l2-.4l2-.2l2 .3l1.3 .5l.7 .3l2 1.5l.2 .2l1.2 2l-.2 2l-1.2 1.1l-2 .9h-2l-2-.7l-2-.7l-2-.5h-2l-2 .4l-2-.3l-.5-.2l-1.5-.6l-2-.8l-1.9-.6l-.1-.1l-2-.3l-2 .2l-2-1.7l-.1-.1l.1-.1l2-1.2l2 .2l2-.4zM86 38l-.1 2l.1 .1l2 .3l1.9-.4l-.3-2l-1.6-.2zM92 37.9l-1.1 .1l-.3 2h1.4l2 .8l1.7 1.2l.3 .1l2 .9l2-.1l1.5-.9l.1-2l-1.6-2l-2-1l-2-.5l-2 .7zM215.6 48l.4-.2l2-.6l2 .4l.7 .4l1.3 .5l1.3 1.5l.7 1.2l.4 .8l.3 2l-.7 .9l-2 .6l-2-.2l-2-.6l-2-.7h-.1l-1.5-2l.1-2zM218 48.7l-1.6 1.3l-.4 1.2l-.2 .8l.2 .3l1.9 1.7h.1l2 .7l2 .3l2-.8l.2-.2l-.2-.9l-.2-1.1l-1.1-2l-.7-.8l-2-.7zM253.1 102l.9-.4l.8 .4l1.2 2v.1l.6 1.9l.3 2l-.6 2l-.3 .4l-2 1.4l-1 .2l-1 .2l-1.6-.2h-.4l-2-1.6l-.4-.4l-.3-2l.7-1.6l.1-.4l1.6-2l.3-.2l2-1.3zM252 103.4l-1 .6l-1 1.1l-.8 .9l-.5 2l.4 2l.9 .8l2 .3l2-.3l1-.8l1-1.5l.2-.5l-.2-1.1l-.1-.9l-.9-2l-1-1.3z"/><path fill="#e7f1c2" stroke="#e7f1c2" d="M8.3 26l1.7-.4h2l2 .3l.4 .1l1.6 .5l2 1.1l.5 .4l1.5 1.5l.4 .5l1.2 2l.4 1l.3 1v2l-.3 .3l-2 1.1l-1 .6l-1 .4l-2 .7l-2 .2l-2-.2l-2-.6l-1.5-.5l-.5-.2l-2-.9l-2-.6l-1-.3l-1-.5l-2-.7l-2-.5v-.3v-2v-1.4l1-.6l1-.5l2-1l1-.5l1-.4l2-.8l2-.7zM12 30.7l-1.9 1.3l-.1 .3l-.4 1.7l.4 .4l.9 1.6l1.1 .7l2 .9l2-.6l1.4-1l.5-2l-1-2l-.9-.8l-2-.7zM115.8 26l.2-.1l2-.7l2-.7l2-.4l2-.1l2 .3l2 1.6l.2 .1l1.3 2l.5 1.3l.6 .7l.2 2l-.3 .5l-.5-.5v-2l-1.7-1.7l-.1-.3l-.2-.2l-.5-1.8l-1.5-1.2h-2l-2 .1l-2 .7l-1 .4l-1 .8l-1.7 1.2v2l1.7 .9l2 .4l2 .3l2 .3v.1v1.8l-2-.6l-2 .1l-2 .3l-2 .1l-2-.7l-1.5-1l-.5-.7l-.5-1.3l.5-1.7l.1-.3l1.9-1zM307.5 29.5l.5 .5l1.6-1.6l.4-.2v1.8v2v2v1.8l-2-.8l-2-.6l-1.6-.4l-.4-.3l-.5-1.7l.5-.7l2-1.1l.3-.2zM92.5 34l1.5-.1l2-.1l2 .1l.4 .1l1.6 .4l2 1l1 .6l1 .8l1.2 1.2l.4 2l-.6 2l-1 1.3l-.7 .7l-1.3 .7l-2 .4l-2-.1l-2-.5l-1.8-.5l-.2-.1l-2-.4l-2 .1l-1.3 .4l-.7 .1l-2-.1l-2-.8l-2-.7l-1.7-.5l-.3-.1l-2-.6l-2-.4l-2-.7l-.5-.2l-1.5-1l-2-.6l-.9-.4l-.5-2l1.4-.9l2 .2l2-.1l2-.1l2 .1l2-.2l2-.4l2-.1l2-.1l2-.2l2-.1l2-.1zM82 35.8l-1.1 .2l-.9 .5l-2 .4l-2-.2l-2 1.2l-.1 .1l.1 .1l2 1.7l2-.2l2 .3l.1 .1l1.9 .6l2 .8l1.5 .6l.5 .2l2 .3l2-.4h2l2 .5l2 .7l2 .7h2l2-.9l1.2-1.1l.2-2l-1.2-2l-.2-.2l-2-1.5l-.7-.3l-1.3-.5l-2-.3l-2 .2l-2 .4l-2 .1h-2l-1 .1l-1 .1h-2l-.4-.1zM37.3 42l.7-1.5l1 1.5l-1 .4zM211.6 46l.4-.5l2-.5l2 .2l2 .5l.7 .3l1.3 .4l2 1.3l.3 .3l1.7 2l1.1 2l.2 2l-1.3 1.6l-1.5 .4l-.5 .1l-1-.1l-1-.1l-2-.4l-2-.6l-2-.9l-1.4-2l-.4-2l-.2-2zM216 47.8l-.4 .2l-1.1 2l-.1 2l1.5 2h.1l2 .7l2 .6l2 .2l2-.6l.7-.9l-.3-2l-.4-.8l-.7-1.2l-1.3-1.5l-1.3-.5l-.7-.4l-2-.4zM251.1 102l.9-.3l2-.8l2 .7l.3 .4l.5 2l.5 2l.3 2l-.2 2l-1.2 2l-.2 .2l-2 1.1l-2 .2l-2-.1l-2-.7l-1-.7l-1-1.5l-.3-.5l-.1-2l.4-.9l.4-1.1l1.6-1.9l.1-.1l1.9-1.4zM254 101.6l-.9 .4l-1.1 .5l-2 1.3l-.3 .2l-1.6 2l-.1 .4l-.7 1.6l.3 2l.4 .4l2 1.6h.4l1.6 .2l1-.2l1-.2l2-1.4l.3-.4l.6-2l-.3-2l-.6-1.9v-.1l-1.2-2z"/><path fill="#f7fac0" stroke="#f7fac0" d="M9.6 22l.4-.1h2l1 .1l1 .1l2 .4l2 .6l1.5 .9l.5 .4l1.6 1.6l.4 .5l.9 1.5l1.1 1.8l.1 .2l.9 2l.9 2l-.1 2l-1.8 1.7l-.3 .3l-1.7 .8l-2 .9l-.9 .3l-1.1 .4l-2 .4l-2 .2h-2l-2-.3l-2-.4l-2-.3h-.3l-1.7-.3l-2-.4l-2-.5l-2-.6v-.2v-2v-1.7l2 .5l2 .7l1 .5l1 .3l2 .6l2 .9l.5 .2l1.5 .5l2 .6l2 .2l2-.2l2-.7l1-.4l1-.6l2-1.1l.3-.3v-2l-.3-1l-.4-1l-1.2-2l-.4-.5l-1.5-1.5l-.5-.4l-2-1.1l-1.6-.5l-.4-.1l-2-.3h-2l-1.7 .4l-.3 .1l-2 .7l-2 .8l-1 .4l-1 .5l-2 1l-1 .5l-1 .6v-.6v-2v-2l2 2l2-2v-1.9l.2-.1l1.8-.6l2-.6l2-.6zM117.4 24l.6-.1l2-.4l2-.1h2l2 .4l.4 .2l1.6 1.2l1.2 .8l.8 1.1l1.2 .9l.8 .9l2 .8l.9 .3l.5 2l-.8 2l-.6 .7l-1.4 1.3h-.6v-2l-1.5-1.5l.3-.5l-.2-2l-.6-.7l-.5-1.3l-1.3-2l-.2-.1l-2-1.6l-2-.3l-2 .1l-2 .4l-2 .7l-2 .7l-.2 .1l-1.8 1l-1.9 1l-.1 .3l-.5 1.7l.5 1.3l.5 .7l1.5 1l2 .7l2-.1l2-.3l2-.1l2 .6v.2v2v.9l-1.4-.9l-.6-.3l-1.3 .3l-.7 .3l-2 1.2l-1.4 .5l-.6 .3l-2 .3h-2l-.9 1.4l-1.1 .8l-1.6 1.2l-.4 .1l-2 1.7l-.1 .2l-1.9 1.4l-1.6 .6l-.4 .1l-2 .2l-2-.2l-.5-.1l-1.5-.4l-2-.6l-2-.4l-2 .1l-2 .4l-2-.1l-2-.5l-2-.4l-.2-.1l-1.8-.7l-2-.7l-1.8-.6h-.2l-2-.9l-2-.7l-2-.4h-.3l-1.7-.5l-2-.4l-1.3 .9l-.7 .2l-2 1l-2 .4l-2-.9l-.6-.7l.5-2l.1-.1l2-1.2l2-.1l2 .5l2-.4l.4-.7l1.6-.9l1.9-1.1h.1l2-.2l2-.1l2 .1l2 .1l2-.1l2-.3l2-.3l2-.2l2-.3l2-.1l2 .1l2-.1l2-.2l2-.1l2 .2l2 .6l1.6 .9l.4 .2l2-.1l.2-.1l1.5-2l.3-1l.2-1l1-2l.8-.7l1.7-1.3l.3-.1l2-.7l2-.7zM94 33.9l-1.5 .1h-.5l-2 .1l-2 .1l-2 .2l-2 .1l-2 .1l-2 .4l-2 .2l-2-.1l-2 .1l-2 .1l-2-.2l-1.4 .9l.5 2l.9 .4l2 .6l1.5 1l.5 .2l2 .7l2 .4l2 .6l.3 .1l1.7 .5l2 .7l2 .8l2 .1l.7-.1l1.3-.4l2-.1l2 .4l.2 .1l1.8 .5l2 .5l2 .1l2-.4l1.3-.7l.7-.7l1-1.3l.6-2l-.4-2l-1.2-1.2l-1-.8l-1-.6l-2-1l-1.6-.4l-.4-.1l-2-.1zM302.5 28l1.5-1.1l1.4-.9h.6v2l1.5 1.5l-1.2 .5l-.3 .2l-2 1.1l-.5 .7l.5 1.7l.4 .3l1.6 .4l2 .6l2 .8v.2v2v1.4l-2-.4l-2-.6l-1.2-.4l-.8-.3l-2-1.1l-.7-.6l-1.2-2l-.1-2l.8-2l1.2-1.5zM309.6 28.4l.4-.4v.2zM257.7 32l.3-.2l.6 .2l1.4 1.8l.1 .2l-.1 .3l-1.4 1.7l-.6 .3l-.6-.3l-.7-2zM36.5 38l1.5-.2l1.2 .2l.8 .3l2 1.5l.2 .2l.2 2l-.4 .4l-2 1.1l-2 .1l-2-1.3l-.4-.3l-.6-2l1-1.8zM38 40.5l-.7 1.5l.7 .4l1-.4zM209.3 44l.7-.6l2-.9l2 .1l2 .5l2 .9h.1l1.9 1.1l1.1 .9l.9 .6l1.2 1.4l.8 .9l.6 1.1l1.1 2l.2 2l-1.4 2l-.5 .3l-2 .3l-2-.2l-2-.3l-.9-.1l-1.1-.2l-2-.7l-2-1.1l-1.5-2l-.4-2l-.1-.3l-1.2-1.7l-.4-2zM212 45.5l-.4 .5l.4 2l.2 2l.4 2l1.4 2l2 .9l2 .6l2 .4l1 .1l1 .1l.5-.1l1.5-.4l1.3-1.6l-.2-2l-1.1-2l-1.7-2l-.3-.3l-2-1.3l-1.3-.4l-.7-.3l-2-.5l-2-.2zM248.9 102l1.1-.4l2-.6l2-.8l2-.1l1.2 1.9l.3 2l.5 2l.4 2l.1 2l-.5 1.8l-.1 .2l-1.8 2l-.1 .1l-2 .8l-2 .1l-2-.1l-2-.4l-1.3-.5l-.7-.4l-2-1.6v-.1l-.9-1.9v-1.1l.9-.9v-1.7l.1-.3l1.9-1.7l.2-.3l1.8-1.5zM252 101.7l-.9 .3l-1.1 .6l-1.9 1.4l-.1 .1l-1.6 1.9l-.4 1.1l-.4 .9l.1 2l.3 .5l1 1.5l1 .7l2 .7l2 .1l2-.2l2-1.1l.2-.2l1.2-2l.2-2l-.3-2l-.5-2l-.5-2l-.3-.4l-2-.7zM149.9 116l.1-.3l.2 .3l.2 1.6l-.4 .4l-.5 .5l.2-.5z"/><path fill="#fef7b8" stroke="#fef7b8" d="M8 20l.7-.7l1.3-.1h2h2l2 .2l2 .1l1.5 .5l.5 .2l2 1.3l.7 .5l1.3 1.5l.3 .5l.9 2l.8 2l.9 2l1.1 1.6l.4 .4l1.6 1.6l.7 .4l1.3 .9l2 .4l2 .1l2 .2l2 .4h.1l1.9 .7l2 1l.9 .3l1.1 1l1.6 1l-.5 2l-1.1 1l-.8 1l-1.2 .9l-2 .4l-2-.2l-2-.4l-1.4-.7l-.6-.4l-1.9-1.6l-.1-.2l-1.9-1.8l-.1-.1l-2-.9h-2l-2 .3l-2 .7h-.1l-1.9 .7l-2 .7l-1.9 .6h-.1l-2 .5l-2 .2h-2l-2-.2l-2-.2l-2-.1l-2 .1l-2 .1l-2-.1l-.4-.3l-1.6-.6v-1.4v-1.8l2 .6l2 .5l2 .4l1.7 .3h.3l2 .3l2 .4l2 .3h2l2-.2l2-.4l1.1-.4l.9-.3l2-.9l1.7-.8l.3-.3l1.8-1.7l.1-2l-.9-2l-.9-2l-.1-.2l-1.1-1.8l-.9-1.5l-.4-.5l-1.6-1.6l-.5-.4l-1.5-.9l-2-.6l-2-.4l-1-.1l-1-.1h-2l-.4 .1l-1.6 .2l-2 .6l-2 .6l-1.8 .6l-.2 .1v-.1l2-2h2zM38 37.8l-1.5 .2l-.5 .2l-1 1.8l.6 2l.4 .3l2 1.3l2-.1l2-1.1l.4-.4l-.2-2l-.2-.2l-2-1.5l-.8-.3zM113 24l1-.3l2-.5l2-.4l2-.1l2-.1l2 .1l2 .6l1.4 .7l.6 .4l2 1.5l.2 .1l1.8 1.4l1.8 .6l.2 .1l2 .7l1.5 1.2l.5 1.7l.1 .3h-.1l-2 2l-2 2h-1.4l1.4-1.3l.6-.7l.8-2l-.5-2l-.9-.3l-2-.8l-.8-.9l-1.2-.9l-.8-1.1l-1.2-.8l-1.6-1.2l-.4-.2l-2-.4h-2l-2 .1l-2 .4l-.6 .1l-1.4 .5l-2 .7l-2 .7l-.3 .1l-1.7 1.3l-.8 .7l-1 2l-.2 1l-.3 1l-1.5 2l-.2 .1l-2 .1l-.4-.2l-1.6-.9l-2-.6l-2-.2l-2 .1l-2 .2l-2 .1l-2-.1l-2 .1l-2 .3l-2 .2l-2 .3l-2 .3l-2 .1l-2-.1l-2-.1l-2 .1l-2 .2h-.1l-1.9 1.1l-1.6 .9l-.4 .7l-2 .4l-2-.5l-2 .1l-2 1.2l-.1 .1l-.5 2l.6 .7l2 .9l2-.4l2-1l.7-.2l1.3-.9l2 .4l1.7 .5h.3l2 .4l2 .7l2 .9h.2l1.8 .6l2 .7l1.8 .7l.2 .1l2 .4l2 .5l2 .1l2-.4l2-.1l2 .4l2 .6l1.5 .4l.5 .1l2 .2l2-.2l.4-.1l1.6-.6l1.9-1.4l.1-.2l2-1.7l.4-.1l1.6-1.2l1.1-.8l.9-1.4h2l2-.3l.6-.3l1.4-.5l2-1.2l.7-.3l1.3-.3l.6 .3l1.4 .9v1.1l2 2v1.2l-2 .2l-2 .3l-.9 .3l-1.1 .3l-2 1l-1.2 .7l-.8 .4l-.9 .5l.9-.9l-2-2l-2 2l1.6 1.6l-.5 .4l-1.1 .4l-2 .7l-2-.4h-2l-2 .4l-2 .2l-2 .1l-2-.3l-2-.5l-2-.6h-.1l-1.9-.4h-2l-1.8 .4h-.2h-2h-.1l-1.9-.4l-2-.4l-2-.7l-1.2-.5l-.8-.3l-2-.9l-2-.8h-.2l-1.8-.6l-2-.3l-2-.1l-2 .2l-2 .7l-.3 .1l-1.7 .6l-2 .5l-2 .3l-2-.7l-1.5-.7l-.5-.7l-1.5-1.3l1.5-2l2-1.1l1.4-.9l.6-.2l2-.6l2-.1l2 .1l2-.3l1.4-.9l.6-.3l2-.7l2-.3l2-.1l2 .1l2 .2l2 .1l2-.5l2-.5h.2l1.8-.4l2-.2l2-.1l2 .1h2l2-.4l2-.3l2-.2l2-.1l1.8-.4l.2-.1l2-1.9l1.9-2l.1-.1l2-.8l2-.7zM300 28l2-2h2h1.4l-1.4 .9l-1.5 1.1l-.5 .5l-1.2 1.5l-.8 2l.1 2l1.2 2l.7 .6l2 1.1l.8 .3l1.2 .4l2 .6l2 .4v.6v2v.4h-2l-.9-.4l-1.1-.4l-2-.8l-2-.6l-.6-.2l-1.4-.6l-.9-.5l.9-.9l-2-2l-1.4-1.4l-.2-.6l.2-2l.7-2h.7zM257.9 29.9l.1 .1h2l2 2v2l1.8 1.8v.2l-.9 2l-.9 .9l-1.9 1.1h-.1l-2-2l-2 2l-.2 .2l-.9-.2l-.9-.5l-.7-1.5l.2-2l.5-2v-.1l1-1.9l1-1.2l1.6-.8zM258 31.8l-.3 .2l-1 2l.7 2l.6 .3l.6-.3l1.4-1.7l.1-.3l-.1-.2l-1.4-1.8zM207.3 42l.7-.5l2-.9l2-.2l2 .2l2 .6l1.5 .8l.5 .2l2 1.4l.3 .4l1.7 1.4l.4 .6l1.6 1.9l.1 .1l1.2 2l.7 1.3l.4 .7l.2 2l-.6 1.3l-.5 .7l-1.5 .8l-2 .3l-2-.1l-2-.3l-2-.3l-2-.2l-.9-.2l-1.1-.4l-2-1.2l-.6-.4l-1.4-1.5l-.5-.5l-1.5-1.8l-.1-.2l-.7-2v-2l.4-2l.4-.5zM210 43.4l-.7 .6l-.9 2l.4 2l1.2 1.7l.1 .3l.4 2l1.5 2l2 1.1l2 .7l1.1 .2l.9 .1l2 .3l2 .2l2-.3l.5-.3l1.4-2l-.2-2l-1.1-2l-.6-1.1l-.8-.9l-1.2-1.4l-.9-.6l-1.1-.9l-1.9-1.1h-.1l-2-.9l-2-.5l-2-.1zM252.7 100l1.3-.4l2-.6l1.9 1l.1 .5l.2 1.5v2l.5 2l.6 2l.3 2l-.2 2l-.8 1.4l-.6 .6l-2 2l-2 .6l-2 .2l-2-.1l-2-.3l-1.5-.4l-.5-.1l-2-.8l-1.9-1.1l-.1-.1v-1.9v-2l1.1-1.1v1.1l.9 1.9v.1l2 1.6l.7 .4l1.3 .5l2 .4l2 .1l2-.1l2-.8l.1-.1l1.8-2l.1-.2l.5-1.8l-.1-2l-.4-2l-.5-2l-.3-2l-1.2-1.9l-2 .1l-2 .8l-2 .6l-1.1 .4l-.9 .5l-1.8 1.5l-.2 .3l-1.9 1.7l-.1 .3v-.3v-2v-.6l2-1.1l.4-.3l1.6-.8l2-.5l2-.4zM146.2 112l1.8-1.3l2-.5h2l.4 .2l1.6 1.6v2l-2 2l-1.6 1.6l-.2-1.6l-.2-.3l-.1 .3l-.2 2l-.2 .5l-1.5 1.5l-2 2h-2h-2l-2-2v-.2l1.7-1.8l.3-.3l1.3-1.7l.7-1l.6-1l1.4-1.8z"/><path fill="#fde6aa" stroke="#fde6aa" d="M10 18l1.4-1.4h.6l2 .1l2 .1l2 .1l2 .3l2 .6l.7 .2l1.3 .6l2 1.3l.1 .1l1.5 2l.4 1.2l.2 .8l.4 2l.3 2l1.1 1.6l.4 .4l1.6 1.1l1.5 .9l.5 .2l2 .8l2 .5l2 .5h.1l1.9 .6l2 .7l2 .4l2 .2l2-.2l2-.1l2-.2l2-.6l2-.6l1.1-.2l.9-.1h2h2l2-.2l2-1l1.9-.7h.1l2-.3l2-.2l2 .1l2 .3l1.1 .1l.9 .1l.4-.1l1.6-.4l2-.7l2-.6l2-.2h2l2 .2l2-.1l.8-.2l1.2-.4l2-.6l2-.7l.8-.3l1.2-.4l2-1.3l.4-.3l1.6-.9l2-1.1l2-.4l2-.5l2-.6l2-.5l2-.2h2l2 .1l1.4 .1h.6l2 .7l2 1.1l.3 .2l1.7 1.3l1.6 .7l.4 .3l2 .9l2 .4l1.5 .4l.5 .4l1.7 1.6l.3 .7v1.3h-1.9l-.1-.3l-.5-1.7l-1.5-1.2l-2-.7l-.2-.1l-1.8-.6l-1.8-1.4l-.2-.1l-2-1.5l-.6-.4l-1.4-.7l-2-.6l-2-.1l-2 .1l-2 .1l-2 .4l-2 .5l-1 .3l-1 .4l-2 .7l-2 .8l-.1 .1l-1.9 2l-2 1.9l-.2 .1l-1.8 .4l-2 .1l-2 .2l-2 .3l-2 .4h-2l-2-.1l-2 .1l-2 .2l-1.8 .4h-.2l-2 .5l-2 .5l-2-.1l-2-.2l-2-.1l-2 .1l-2 .3l-2 .7l-.6 .3l-1.4 .9l-2 .3l-2-.1l-2 .1l-2 .6l-.6 .2l-1.4 .9l-2 1.1l-1.5 2l1.5 1.3l.5 .7l1.5 .7l2 .7l2-.3l2-.5l1.7-.6l.3-.1l2-.7l2-.2l2 .1l2 .3l1.8 .6h.2l2 .8l2 .9l.8 .3l1.2 .5l2 .7l2 .4l1.9 .4h.1h2h.2l1.8-.4h2l1.9 .4h.1l2 .6l2 .5l2 .3l2-.1l2-.2l2-.4h2l2 .4l2-.7l1.1-.4l.5-.4l.4 .4l1.1-1.1l.9-.5l.8-.4l1.2-.7l2-1l1.1-.3l.9-.3l2-.3l2-.2v.8h-2l-2 2v1.7l-.8 .3l-1.2 .3l-2 .6l-2 .8l-.8 .3l-1.2 .3l-2 .4l-2 .2l-2-.2l-2-.2l-2-.1h-2h-2l-2-.3l-.4-.1l-1.6-.5l-2-.7l-2-.4l-2-.1l-2 .3l-2 .1l-2-.3l-2-.2l-.9-.2l-1.1-.4l-2-1l-1.3-.6l-.7-.3l-2-1l-2-.5l-2-.1l-2 .1l-2 .2l-2 .6l-2 .8l-.5 .2l-1.5 .4l-2 .5l-2-.2l-2-.3l-2-.2l-2 .1l-2 .6l-1.7 1.1l-.3 .1l-2 .7h-2l-2-.4l-1.2-.4l-.8-.2l-2-1.2l-1.1-.6l-.9-.8l-2-1.1l-.4-.1l-1.6-.7l-2-.3l-2 .1l-2 .5l-1.1 .4l-.9 .2l-2 .7l-2 .8l-1.5 .3l-.5 .1l-2 .2h-2l-2-.2h-2l-2 .1l-2 .7l-1.3 1.1l-.7 1.5l-.2 .5l-1.4 2l-.4 .3l-2 .3v-.6v-2v-2v-2v-2v-.6l1.6 .6l.4 .3l2 .1l2-.1l2-.1l2 .1l2 .2l2 .2h2l2-.2l2-.5h.1l1.9-.6l2-.7l1.9-.7h.1l2-.7l2-.3h2l2 .9l.1 .1l1.9 1.8l.1 .2l1.9 1.6l.6 .4l1.4 .7l2 .4l2 .2l2-.4l1.2-.9l.8-1l1.1-1l.5-2l-1.6-1l-1.1-1l-.9-.3l-2-1l-1.9-.7h-.1l-2-.4l-2-.2l-2-.1l-2-.4l-1.3-.9l-.7-.4l-1.6-1.6l-.4-.4l-1.1-1.6l-.9-2l-.8-2l-.9-2l-.3-.5l-1.3-1.5l-.7-.5l-2-1.3l-.5-.2l-1.5-.5l-2-.1l-2-.2h-2h-2l-1.3 .1zM254.2 30l1.8-1.6l.2-.2l1.7 1.7l-.3 .1l-1.6 .8l-1 1.2l-1 1.9v.1l-.5 2l-.2 2l.7 1.5l.9 .5l.9 .2l-1.7 1.7h-.1l-2-1.9v-.1l-.4-1.9l.1-2l.3-2l.9-2l1.1-1.7zM296 30h1.3l-.7 2l-.2 2l.2 .6l-.6-.6v-2zM263.8 35.8l.2 .2v2l-2 2h-1.9l1.9-1.1l.9-.9l.9-2zM209.3 38l.7-.1l.9 .1l1.1 .1l2 .6l2 .7l1.3 .6l.7 .3l2 1.7l1.9 2l.1 .1l1.4 1.9l.6 .7l.6 1.3l1.3 2l.1 .1l1 1.9l.3 2l-.6 1.3l-.7 .7v.3l-2 1.1l-2 .2l-2-.1l-2-.3l-2-.2h-2l-2-.2l-2-.5l-.9-.3l-1.1-.6l-1.8-1.2l-.2-.2v-2l-2-2l-1-1l-.2-1v-2l.3-2l.9-1.9v-.1l1.8-2l.2-.3l2-1.5zM208 41.5l-.7 .5l-1.3 1.5l-.4 .5l-.4 2v2l.7 2l.1 .2l1.5 1.8l.5 .5l1.4 1.5l.6 .4l2 1.2l1.1 .4l.9 .2l2 .2l2 .3l2 .3l2 .1l2-.3l1.5-.8l.5-.7l.6-1.3l-.2-2l-.4-.7l-.7-1.3l-1.2-2l-.1-.1l-1.6-1.9l-.4-.6l-1.7-1.4l-.3-.4l-2-1.4l-.5-.2l-1.5-.8l-2-.6l-2-.2l-2 .2zM298 40l1.1-1.1l.9 .5l1.4 .6l.6 .2l2 .6l2 .8l1.1 .4l.9 .4h2v1.6v2v.3l-.8 1.7l-1.2 2l-2 .6l-2-.3l-.9-.3l-1.1-1.5l-.4-.5l-.8-2l-.8-.7l-2-1.2v-.1v-2zM255.8 98l.2-.2l2-.4l.4 .6l.4 2l.1 2l-.1 2l.5 2l.7 1.7l.2 .3l.5 2l-.1 1.4l-.6 .6l-1.4 1.4l.8-1.4l.2-2l-.3-2l-.6-2l-.5-2v-2l-.2-1.5l-.1-.5l-1.9-1l-2 .6l-1.3 .4l-.7 .3l-2 .4l-2 .5l-1.6 .8l-.4 .3l-2 1.1v-1.4l1.6-1.6l.4-.1l1.2-.3l.8-.1l2-.1h2l2-.8zM147.1 108h.9h2l2 2l.4 .4l-.4-.2h-2l-2 .5l-1.8 1.3l-.2 .2l-1.4 1.8l-.6 1l-.7 1l-1.3 1.7l-.3 .3l-1.7 1.8v-1.8l2-2l2-2l2-2v-2v-1.4zM242 114v-.1l.1 .1l1.9 1.1l2 .8l.5 .1l1.5 .4l2 .3l2 .1l2-.2l2-.6l-2 2l-.8 .8l-1.2 .1l-2-.1l-2-.3l-2-.4l-1.4-.1l-.6-.1l-2-.2v-1.7zM123.6 116l.4-.1l.6 .1l1.4 .5l2 1.2v.3h-2h-2h-2v-.9z"/><path fill="#fcd59b" stroke="#fcd59b" d="M18 16l1.2-1.2l.8 .1l2 .3l2 .4l1.3 .4l.7 .3l2 1.1l.9 .6l1.1 1.2l.7 .8l.9 2l.2 2l.1 2l.1 .3l.5 1.7l1.5 1.8l.2 .2l1.8 1.1l2 .7l.7 .2l1.3 .4l2 .6l2 .5l2 .4l1 .1l1 .1l2 .1l2-.2l2-.3l2-.4l2-.3l2-.2h2l2 .2l2-.2l1.5-.8l.5-.2l2-.6l2-.4l2-.2h2l2 .3l2 .3l2-.6l1.4-.6l.6-.3l2-.6l2-.2h2l2 .3l2-.1l2-.8l.6-.3l1.4-.7l2-1l.6-.3l1.4-.8l2-1.1l.2-.1l1.8-.8l2-.5l2-.4l1.6-.3l.4-.1l2-.5l2-.4l2-.1l2 .2l2 .2l2 .2l1.4 .5l.6 .2l2 1.2l1.2 .6l.8 .6l2 .9l1.2 .5l.8 .4l2 .4l2 .3l1.9 .9l.1 .1l1 .9l-1 1v.7l-.3-.7l-1.7-1.6l-.5-.4l-1.5-.4l-2-.4l-2-.9l-.4-.3l-1.6-.7l-1.7-1.3l-.3-.2l-2-1.1l-2-.7h-.6l-1.4-.1l-2-.1h-2l-2 .2l-2 .5l-2 .6l-2 .5l-2 .4l-2 1.1l-1.6 .9l-.4 .3l-2 1.3l-1.2 .4l-.8 .3l-2 .7l-2 .6l-1.2 .4l-.8 .2l-2 .1l-2-.2h-2l-2 .2l-2 .6l-2 .7l-1.6 .4l-.4 .1l-.9-.1l-1.1-.1l-2-.3l-2-.1l-2 .2l-2 .3h-.1l-1.9 .7l-2 1l-2 .2h-2h-2l-.9 .1l-1.1 .2l-2 .6l-2 .6l-2 .2l-2 .1l-2 .2l-2-.2l-2-.4l-2-.7l-1.9-.6h-.1l-2-.5l-2-.5l-2-.8l-.5-.2l-1.5-.9l-1.6-1.1l-.4-.4l-1.1-1.6l-.3-2l-.4-2l-.2-.8l-.4-1.2l-1.5-2l-.1-.1l-2-1.3l-1.3-.6l-.7-.2l-2-.6l-2-.3l-2-.1l-2-.1l-2-.1h-.6l.6-.6h2h2zM295.1 24l.9-.7v.7zM253.7 28l.3-.3l.9-.8l1.1 1.1l.2 .2l-.2 .2l-1.8 1.6l-.2 .3l-1.1 1.7l-.9 2l-.3 2l-.1 2l.4 1.9v.1l2 1.9h.1l-.1 .1h-2l-1.2-2l-.4-2v-2l.2-2l.5-2l.9-1.7l.2-.3zM206.5 36l1.5-.6l2 .1l1.5 .5l.5 .1l2 .8l2 .8l.7 .3l1.3 .6l1.7 1.4l.3 .3l1.4 1.7l.6 .7l.8 1.3l1.2 1.5l.3 .5l.9 2l.8 1.2l.6 .8l1.1 2l.3 2l-1.3 1.3l.6-1.3l-.3-2l-1-1.9l-.1-.1l-1.3-2l-.6-1.3l-.6-.7l-1.4-1.9l-.1-.1l-1.9-2l-2-1.7l-.7-.3l-1.3-.6l-2-.7l-2-.6l-1.1-.1l-.9-.1l-.7 .1l-1.3 .2l-2 1.5l-.2 .3l-1.8 2v.1l-.9 1.9l-.3 2v2l.2 1l-1-1l-1.2-1.2l.1-.8l.4-2l.7-1.4l.3-.6l1.3-2l.4-.8l1-1.2l1-1.7zM22.9 42l1.1-.4l2-.5l2-.1l2 .3l1.6 .7l.4 .1l2 1.1l.9 .8l1.1 .6l2 1.2l.8 .2l1.2 .4l2 .4h2l2-.7l.3-.1l1.7-1.1l2-.6l2-.1l2 .2l2 .3l2 .2l2-.5l1.5-.4l.5-.2l2-.8l2-.6l2-.2l2-.1l2 .1l2 .5l2 1l.7 .3l1.3 .6l2 1l1.1 .4l.9 .2l2 .2l2 .3l2-.1l2-.3l2 .1l2 .4l2 .7l1.6 .5l.4 .1l2 .3h2h2l2 .1l2 .2l2 .2l2-.2l2-.4l1.2-.3l.8-.3l2-.8l2-.6l1.2-.3l.8-.3v.3v2l-.4 .4l-1.6 .4l-2 .5l-2 .5l-1 .2l-1 .2l-2 .2h-2l-1.8-.2l-.2-.2l-.2 .2l-1-.2l-.8-.1l-2-.3l-2-.2l-2-.2l-2-.2l-2-.7l-.9-.3l-1.1-.4l-2-.6l-2-.1l-2 .4h-2l-2-.3l-2-.3l-2-.3l-1-.4l-1-.5l-2-1l-.8-.5l-1.2-.7l-2-.5h-2l-2 .2l-2 .3l-2 .7l-2 .7l-2 .7l-1.7 .6l-.3 .1h-2l-1.8-.1h-.2l-2-.1l-.5 .1l-1.5 .2l-2 .5l-2 .7l-1.7 .6l-.3 .1l-2-.1l-2-.6l-2-.7l-1.1-.7l-.9-.5l-2-1.2l-.7-.3l-1.3-.8l-2-.5l-2-.3l-2 .1l-2 .4l-2 .6l-1.2 .5l-.8 .3l-2 .7l-2 .5l-2 .2l-2-.1l-2-.1l-2-.1l-2 .3l-.5 .3l-1.5 1.2l-.6 .8l-1.2 2l-.2 .2l-2 1.5l-.9 .3l-1.1 .3v-.3v-1.4l2-.3l.4-.3l1.4-2l.2-.5l.7-1.5l1.3-1.1l2-.7l2-.1h2l2 .2h2l2-.2l.5-.1l1.5-.3l2-.8l2-.7zM298 46v-1.9l2 1.2l.8 .7l.8 2l.4 .5l1.1 1.5l.9 .3l2 .3l2-.6l1.2-2l.8-1.7v1.7v1.3l-.4 .7l-1.6 1.4l-1.5 .6l-.5 .2l-2 .2l-2-.2l-.5-.2l-1.5-.9l-1.8-1.1l-.2-.2v-1.8zM208 56l-1.8-1.8l1.8 1.2l1.1 .6l.9 .3l2 .5l2 .2h2l2 .2l2 .3l2 .1l2-.2l2-1.1v.7l-2 .9l-.6 .1l-1.4 .1l-2-.1h-.1l-1.9-.3l-2-.1l-2 .1l-2 .1l-2-.2l-.6-.2zM127.6 82l.4-.3l1.2 .3l.8 .6l.5 1.4l-.5 .8l-2 .6l-1.1-1.4zM257.4 96l.6-.7l.2 .7l1.2 2l.3 2l-.1 2l-.3 2l.7 2v.1l1.1 1.9l.7 2v.2l-1.2 1.2l.1-1.4l-.5-2l-.2-.3l-.7-1.7l-.5-2l.1-2l-.1-2l-.4-2l-.4-.6l-2 .4l-.2 .2l-1.8 1l-2 .8h-2l-2 .1l-.8 .1l-1.2 .3l-.4 .1l.4-.4v-1.2l2 .1l2 .2l2 .3l2-1l.7-.4l1.3-1.5zM39.2 100l.8-1.2l1.1 1.2l-1.1 .8zM146 108h1.1l-1.1 .6zM122 116l-1.2-1.2l1.2-.3l2-.1l2 .5l2 .6v.5v1.7l-2-1.2l-1.4-.5l-.6-.1l-.4 .1l-1.6 1.1zM242 118v-.3l2 .2l.6 .1l1.4 .1l2 .4l2 .3l2 .1l1.2-.1l-1.2 1.2l.9 .9l-.9 .2h-2l-2-.3l-2-.7l-2 .3l-2 .7l-2 .7v-1.8z"/><path fill="#fbc48d" stroke="#fbc48d" d="M20 14l-1.1-1.1l1.1-.1h.8l1.2 1.2h2l2 2h2h2h2l2 2l.6-.6l.4 .6l1 1.4l.3 .6l.2 2l-.5 1.2l-.4 .8l-.5 2l.2 2l.7 .8l1.9 1.2h.1l2 .8l2 .7l1.8 .5l.2 .1l2 .3l2 .2l2 .2l2-.1l2-.3l2-.3l1-.1l1-.1l2-.1l2-.1l2 .3l2-.2l2-.9l2-.5l1.7-.4l.3-.1l2-.3l2-.1l2 .5h.1l1.9 .3l.9-.3l1.1-.6l2-.9l1.9-.5h.1l2-.4l2 .1l1.4 .3l.6 .1l1.2-.1l.8-.1l2-1.3l1.1-.6l.9-.6l2-1.2l.4-.2l1.6-.9l2-.9l.6-.2l1.4-.4l2-.3l2-.1l2-.2l2-.6l2-.4h2l2 .4l2 .3l2 .2l2 .7l.4 .4l1.6 1l2 1h.1l1.9 .9l2 .8l1.7 .3l.3 .1l2-.1l2 .4l2 1.5l.1 .1h-.1l-1 1l-1-.9l-.1-.1l-1.9-.9l-2-.3l-2-.4l-.8-.4l-1.2-.5l-2-.9l-.8-.6l-1.2-.6l-2-1.2l-.6-.2l-1.4-.5l-2-.2l-2-.2l-2-.2l-2 .1l-2 .4l-2 .5l-.4 .1l-1.6 .3l-2 .4l-2 .5l-1.8 .8l-.2 .1l-2 1.1l-1.4 .8l-.6 .3l-2 1l-1.4 .7l-.6 .3l-2 .8l-2 .1l-2-.3h-2l-2 .2l-2 .6l-.6 .3l-1.4 .6l-2 .6l-2-.3l-2-.3h-2l-2 .2l-2 .4l-2 .6l-.5 .2l-1.5 .8l-2 .2l-2-.2h-2l-2 .2l-2 .3l-2 .4l-2 .3l-2 .2l-2-.1l-1-.1l-1-.1l-2-.4l-2-.5l-2-.6l-1.3-.4l-.7-.2l-2-.7l-1.8-1.1l-.2-.2l-1.5-1.8l-.5-1.7l-.1-.3l-.1-2l-.2-2l-.9-2l-.7-.8l-1.1-1.2l-.9-.6l-2-1.1l-.7-.3l-1.3-.4l-2-.4l-2-.3l-.8-.1zM294.2 22l1.8-1.4v1.4v1.3l-.9 .7h-1.1h-2h-.4l.4-.2l2-1.7zM262 24l-.1-.1h.1l.2 .1l1.8 .8l1.9 1.2h-1.9zM253 26l1-.9v.9l.9 .9l-.9 .8l-.3 .3l-1.5 2l-.2 .3l-.9 1.7l-.5 2l-.2 2v2l.4 2l1.2 2h-1.5l-.5-1.1l-.3-.9l-.4-2l-.1-2v-2l.3-2l.5-1.5l.2-.5l1.2-2l.6-.9zM268 28l-1.8-1.8l1.8 1.1l1.5 .7zM205 34l1-.8l2-.7l2 .1l2 1l.3 .4l1.7 1l1.9 1l.1 .1l2 .6l1.8 1.3l.2 .2l1.3 1.8l.7 1l.5 1l1.2 2l.3 .3l1 1.7l.8 2l.2 .3l1.3 1.7l.7 1.3l.4 .7l.3 2h-.7l-.3-2l-1.1-2l-.6-.8l-.8-1.2l-.9-2l-.3-.5l-1.2-1.5l-.8-1.3l-.6-.7l-1.4-1.7l-.3-.3l-1.7-1.4l-1.3-.6l-.7-.3l-2-.8l-2-.8l-.5-.1l-1.5-.5l-2-.1l-1.5 .6l-.5 .3l-1 1.7l-1 1.2l-.4 .8l-1.3 2l-.3 .6l-.7 1.4l-.4 2l-.1 .8l-.8-.8v-2v-.6l.6-1.4l1.3-2l.1-.2l1.2-1.8l.8-2v-.2zM20.8 44l1.2-.5l2-.6l2-.4l2-.1l2 .3l2 .5l1.3 .8l.7 .3l2 1.2l.9 .5l1.1 .7l2 .7l2 .6l2 .1l.3-.1l1.7-.6l2-.7l2-.5l1.5-.2l.5-.1l2 .1h.2l1.8 .1h2l.3-.1l1.7-.6l2-.7l2-.7l2-.7l2-.3l2-.2h2l2 .5l1.2 .7l.8 .5l2 1l1 .5l1 .4l2 .3l2 .3l2 .3h2l2-.4l2 .1l2 .6l1.1 .4l.9 .3l2 .7l2 .2l2 .2l2 .2l2 .3l.8 .1l1 .2l-1 1l-.8-.2l-2-.4l-2-.3l-2-.2l-.8-.1l-1.2-.2l-2-.7l-2-.8l-1-.3l-1-.3l-2-.3l-2 .5h-2l-2-.3l-2-.3l-2-.3l-2-.7l-.6-.3l-1.4-.7l-2-1.3l-2-.6l-2 .1l-2 .3l-.8 .2l-1.2 .2l-2 .6l-2 .7l-1.2 .5l-.8 .3l-2 .7l-2 .2h-2h-2l-2 .3l-1.9 .5h-.1l-2 .6l-2 .4h-2l-2-.5l-1-.5l-1-.4l-2-1.3l-.4-.3l-1.6-1l-2-.8l-1.1-.2l-.9-.2l-2-.2h-2l-2 .4h-.1l-1.9 .8l-2 .8l-1.1 .4l-.9 .4l-2 .5l-2 .2h-2l-2-.3l-2-.2l-2 .5l-1 .9l-1 1.4l-.4 .6l-1.6 1.8l-.2 .2l-1.8 1.1l-2 .6v-1.4l1.1-.3l.9-.3l2-1.5l.2-.2l1.2-2l.6-.8l1.5-1.2l.5-.3l2-.3l2 .1l2 .1l2 .1l2-.2l2-.5l2-.7zM115 50l1-.2l2-.5l2-.5l1.6-.4l-1.6 1.6h-2h-2l-1.8 1.8h-.2l-2 .1l-2-.2h-.3l-1.5-1.5l1.8 .2h2l2-.2zM298 50v-.2l.2 .2l1.8 1.1l1.5 .9l.5 .2l2 .2l2-.2l.5-.2l1.5-.6l1.6-1.4l.4-.7v.7v1.3l-.8 .7l-1.2 .8l-2 .8l-2 .3h-2l-2-.4l-2-.7l-2-.8zM210 58l-.6-.6l.6 .2l2 .2l2-.1l2-.1l2 .1l1.9 .3h.1l2 .1l1.4-.1l.6-.1l2-.9v.7l-.6 .3l-1.4 .4l-2 .1l-2-.1l-2-.2h-2l-2 .3l-2 .3l-1.3-.1zM125.9 82l.1-.1l2-1.6l2 .2l1.7 1.5l.3 1.1l.2 .9l-.2 .7l-.6 1.3l-1.4 .9h-2l-1.2-.9l-.8-1.2l-.3-.8zM128 81.7l-.4 .3l-.7 2l1.1 1.4l2-.6l.5-.8l-.5-1.4l-.8-.6zM255.8 92l.2-.2l1.4 .2l.6 .3l.9 1.7l.7 2l.4 .8l.3 1.2l.2 2l-.2 2l-.3 1.3l-.1 .7l.1 .4l.9 1.6l1.1 1.9l.1 .1l.6 1.3l-.7 .7l-.2 .2v-.2l-.7-2l-1.1-1.9v-.1l-.7-2l.3-2l.1-2l-.3-2l-1.2-2l-.2-.7l-.6 .7l-1.4 .5l-1.3 1.5l-.7 .4l-2 1l-2-.3l-2-.2l-2-.1v-.8l-1.3-1.3l1.3 .8l2 .5h.2l1.8 .4l2 .6l1.8-1l.2-.4l1.4-1.6l.1-2zM39.2 96l.8-.5l2 .3l.6 .2l.9 .5l-1.5 1.5v2v2h-2h-2h-.9l-.6-2l.6-2l.9-1.1zM40 98.8l-.8 1.2l.8 .8l1.1-.8zM118 114l-.1-.1l.1-.1l2-.9l2-.2l2 .4l2 .5l1.6 .4l.4 .1v1.4l-2-.6l-2-.5l-2 .1l-1.2 .3l-.8-.8zM240 122v-.2l2-.7l2-.7l2-.3l2 .7l2 .3h2l.9-.2l1.1 1.1h2h1.3l-1.3 .3l-2 .7l-.8 .2l-1.2-1.2l-2 2l.1 .1l-.1 .1l-2 .4l-2 .7l-1.1 .7l-.9 1l-.5 .5l-1.5-1.5l-2-2z"/><path fill="#f9b37f" stroke="#f9b37f" d="M22.6 10l1.4-.2v.2zM10 12l-2-2l2 .2l2 .3l2 .5l2 .2l2-.3l2-.5l1.9-.3l-1.9 1.9l.8 .8h-.8l-1.1 .1l-.9-.9h-2h-2h-2zM40 16l.7 2l-.2 2l-.5 1l-.3 1l-.9 2l-.5 2l.6 2l1.1 .7l1.9 1.3h.1l2 .6l2 .3l2 .2l2 .3l2-.1l2-.3l2-.1l2-.1l2-.1l2-.1l2 .1l2-.2l1.8-.5l.2-.1l2-.3l2-.6l2-.5l2-.1l2 .2l2 .2l2-.8l2-.8l2-.7l2-.3h2h2l1-.2l1-.3l2-1.2l.8-.5l1.2-.9l1.7-1.1l.3-.2l2-1.1l2-.6l.9-.1l1.1-.1l2 .1h.3l1.7 .1l2-.1l2-.8l2-.5l2 .1l2 .8l1.1 .4l.9 .2l2 .1l2 .7l1 1l1 .6l2 .9l1.4 .5l.6 .3l2 .8l2 .4l2-.3l2-.2l2 1l2 1.7l.5 .3h-.5h-1.9l-.1-.1l-2-1.5l-2-.4l-2 .1l-.3-.1l-1.7-.3l-2-.8l-1.9-.9h-.1l-2-1l-1.6-1l-.4-.4l-2-.7l-2-.2l-2-.3l-2-.4h-2l-2 .4l-2 .6l-2 .2l-2 .1l-2 .3l-1.4 .4l-.6 .2l-2 .9l-1.6 .9l-.4 .2l-2 1.2l-.9 .6l-1.1 .6l-2 1.3l-.8 .1l-1.2 .1l-.6-.1l-1.4-.3l-2-.1l-2 .4h-.1l-1.9 .5l-2 .9l-1.1 .6l-.9 .3l-1.9-.3h-.1l-2-.5l-2 .1l-2 .3l-.3 .1l-1.7 .4l-2 .5l-2 .9l-2 .2l-2-.3l-2 .1l-2 .1l-1 .1l-1 .1l-2 .3l-2 .3l-2 .1l-2-.2l-2-.2l-2-.3l-.2-.1l-1.8-.5l-2-.7l-2-.8h-.1l-1.9-1.2l-.7-.8l-.2-2l.5-2l.4-.8l.5-1.2l-.2-2l-.3-.6l-1-1.4l-.4-.6l1.4-1.4h2zM168.9 16l1.1-1.9l.1-.1h1.9h2h2h2l2 2h2h2h2h2h2h1.9l.1 .1l.9 1.9l.4 2l-1.3 .5l-2-.2l-2 .2l-2 .4l-2 .5l-2 .1l-2-.9l-.9-.6l-1.1-1.3l-1.2-.7l-.8-.8l-2-.7l-2 .1l-1.6 1.4l-.4 .1l-.5-.1zM293.2 20l.8-.6l.8-.6l1.2 1.2v.6l-1.8 1.4l-.2 .1l-2 1.7l-.4 .2h-1.6h-2h-1.5l1.5-.7l2-1.1l.4-.2l1.6-1.1zM254.7 22l1.3-.5v.5l-2 2v1.1l-1 .9l-1 1.1l-.6 .9l-1.2 2l-.2 .5l-.5 1.5l-.3 2v2l.1 2l.4 2l.3 .9l.5 1.1h-.5l-.6 .6l-.2-.6l-.7-2l-.2-2l-.3-2v-.2l-.2-1.8v-2l.2-.9l.2-1.1l.9-2l.9-1.8l.1-.2l1.6-2l.3-.3l2-1.4zM260 22v-.9l2 .3l1.5 .6l.5 .2l2 1.4l.4 .4l1.6 1.1l2 .7l1.3 .2l.6 .1l-1.9 1.9h-.5l-1.5-.7l-1.8-1.1l-.2-.2h-.1l-1.9-1.2l-1.8-.8l-.2-.1h-.1zM209.3 28l.7-.1l.4 .1l1.6 .6l1.7 1.4l.3 .4l1.1 1.6l.9 1.9l2-.1l.3 .2l1.7 .7l.8 1.3l1.1 2l.1 .1l.6 1.9l.8 2l.6 .9l.5 1.1l1.2 2l.3 .8l.5 1.2l1.5 2v.1l1.1 1.9l.3 2h-.7l-.3-2l-.4-.7l-.7-1.3l-1.3-1.7l-.2-.3l-.8-2l-1-1.7l-.3-.3l-1.2-2l-.5-1l-.7-1l-1.3-1.8l-.2-.2l-1.8-1.3l-2-.6l-.1-.1l-1.9-1l-1.7-1l-.3-.4l-2-1l-2-.1l-2 .7l-1 .8l-1 1.8v.2l-.8 2l-1.2 1.8l-.1 .2l-1.3 2l-.6 1.4v-1.4v-1.5l.3-.5l1.4-2l.3-.5l.8-1.5l.7-2l.5-1.1l1-.9l1-1.7l.4-.3l1.6-1.8zM23.9 44h.1l2-.4h2l2 .2l.9 .2l1.1 .2l2 .8l1.6 1l.4 .3l2 1.3l1 .4l1 .5l2 .5h2l2-.4l2-.6h.1l1.9-.5l2-.3h2h2l2-.2l2-.7l.8-.3l1.2-.5l2-.7l2-.6l1.2-.2l.8-.2l2-.3l2-.1l2 .6l2 1.3l1.4 .7l.6 .3l2 .7l2 .3l2 .3l2 .3h2l2-.5l2 .3l1 .3l1 .3l2 .8l2 .7l1.2 .2l.8 .1l2 .2l2 .3l2 .4l.8 .2l-.8 .8v.2l-.6-.2l-1.4-.3l-2-.5l-2-.3l-2-.3l-1.5-.6l-.5-.2l-2-.8l-2-.6l-1.9-.4h-.1h-.1l-1.9 .5l-2 .1l-2-.4l-1.1-.2l-.9-.2l-2-.2l-2-.5l-2-1l-.1-.1l-1.9-1.3l-2-.7l-2 .3l-2 .3l-2 .3l-2 .6l-1.2 .5l-.8 .3l-2 .8l-2 .8l-1 .1l-1 .2l-2 .1l-2 .1l-2 .2l-2 .5l-2 .6l-1.8 .3h-.2h-1.6h-.4l-2-.5l-2-.9l-.7-.6l-1.3-.8l-1.6-1.2l-.4-.2l-2-.8l-2-.3h-2l-2 .1l-2 .4l-1.8 .8l-.2 .1l-2 .9l-2 .9l-.4 .1l-1.6 .5l-2 .2l-2-.1l-2-.3l-1-.3l-1-.2l-.6 .2l-1.4 .8l-.8 1.2l-1.2 1.7l-.3 .3l-1.7 1.4l-1.1 .6l-.9 .4l-2 .7v-1.1v-.3l2-.6l1.8-1.1l.2-.2l1.6-1.8l.4-.6l1-1.4l1-.9l2-.5l2 .2l2 .3h2l2-.2l2-.5l.9-.4l1.1-.4l2-.8zM110 52l-.3-.3h.3l2 .2l2-.1h.2l-.2 .2l-1.3 1.3h-.7l-2-.2zM309.2 52l.8-.7v.7v.9l-1.7 1.1l-.3 .2l-2 .7l-2 .4l-2 .1l-2-.1l-2-.1l-2-.6l-2-.6l2-2l2 .8l2 .7l2 .4h2l2-.3l2-.8zM225.4 58l.6-.3v.3l.2 .2l-.2 .1l-2 .5l-2 .1l-2-.1l-2-.2l-2 .1l-2 .5l-2 .5h-.3l-1-1l1.3 .1l2-.3l2-.3h2l2 .2l2 .1l2-.1zM125.7 80h.3h2h2l2 2h1.6l.4 1.9v.1v.3l-.2 1.7h-1.8l-2 2l-.7 .7l-1.3-.2l-.8-.5l-1.2-.8l-.8-1.2l-.6-2v-2zM126 81.9l-.1 .1l-.2 2l.3 .8l.8 1.2l1.2 .9h2l1.4-.9l.6-1.3l.2-.7l-.2-.9l-.3-1.1l-1.7-1.5l-2-.2zM255 92l1-1l2 .2l.9 .8l1.1 2l.6 2l.5 2l.1 2l-.2 2l-.3 2l1.1 2l.2 .4l1.3 1.6l.3 .4l-.9 .9l-.6-1.3l-.1-.1l-1.1-1.9l-.9-1.6l-.1-.4l.1-.7l.3-1.3l.2-2l-.2-2l-.3-1.2l-.4-.8l-.7-2l-.9-1.7l-.6-.3l-1.4-.2l-.2 .2l-.3 2l-.1 2l-1.4 1.6l-.2 .4l-1.8 1l-2-.6l-1.8-.4h-.2l-2-.5l-1.3-.8l-.7-.7l-2-2l-1.5-1.5l1.5 .5l1.4 1l.6 .5l1.8 1.5l.2 .1l2 1l2 .6l.4 .3l1.6 .6l1.1-.6l.9-1.4l.5-.6l.2-2zM39.5 94l.5-.2l2-.3l2 .2v.3v2l-.5 .5l-.9-.5l-.6-.2l-2-.3l-.8 .5l-1.2 .9l-.9 1.1l-.6 2l.6 2h-1.1v-2l-1.3-1.3l.2-.7l1.1-1.5l.4-.5l1.6-1.3zM117.3 112l.7-.2l2-.8l2 .1l2 .8l.3 .1l1.7 .6l2 .4h1l-1 1v.1l-.4-.1l-1.6-.4l-2-.5l-2-.4l-2 .2l-2 .9l-.1 .1l-1.5-1.5zM254 124l-.8-.8l.8-.2l2-.7l1.3-.3h.7l2 2v.8l-2 .5l-2 .3l-.7 .4h-1.3l-2 2h-2l-2 2h-2l-2-2l-.5-.5l.5-.5l.9-1l1.1-.7l2-.7l2-.4l.1-.1l1.9 1.9z"/><path fill="#f8a270" stroke="#f8a270" d="M10 8l.2-.2l.6 .2l1.2 .2l2 .6l2 .4l2-.6l1.5-.6l.5-.2l2-.7l2-.5v1.4v1.8l-1.4 .2h-.6l-.1 .1l-1.9 .3l-2 .5l-2 .3l-2-.2l-2-.5l-2-.3l-2-.2v-2zM38 8l.7-.7l1.3 .5l.3 .2l1.7 .9l1.8 1.1l.2 .2l1.9 1.8l.1 .2l1 1.8l-.2 2l-.6 2l-.2 .4l-.6 1.6l-1.4 1.6l-.4 .4l-1.6 1.5l-.4 .5l-.7 2l.6 2l.5 .4l2 .8h2h2l2 .2l2 .1l2-.1l2 .2l2 .1l2-.2l2-.2h2l2-.1l2-.2l2-.2l2-.7l.2-.1l1.8-.7l2-.3h2h2l2-.5l1.2-.5l.8-.4l2-.8l2-.4l2-.1l2-.1l.6-.2l1.4-.5l2-1.4l.2-.1l1.8-1.6l.6-.4l1.4-1l2-.9l.8-.1l1.2-.2l2 .1l.2 .1l1.8 .3l2 .5h2l1.8-.8l.2-.2l2-1l2 .1l.7 1.1l1.3 .6l2 .8l2 .1l.9 .5l1.1 .4l1.7 1.6l.3 .2l2 .9l2 .5l.8 .4l1.2 .5l2 .5l2-.5l1.5-.5l.5-.2l.6 .2l1.4 .7l2 1.2l.2 .1l1.8 1.2l.6 .2l-.6 .6h-1.5l-.5-.3l-2-1.7l-2-1l-2 .2l-2 .3l-2-.4l-2-.8l-.6-.3l-1.4-.5l-2-.9l-1-.6l-1-1l-2-.7l-2-.1l-.9-.2l-1.1-.4l-2-.8l-2-.1l-2 .5l-2 .8l-2 .1l-1.7-.1h-.3l-2-.1l-1.1 .1l-.9 .1l-2 .6l-2 1.1l-.3 .2l-1.7 1.1l-1.2 .9l-.8 .5l-2 1.2l-1 .3l-1 .2h-2h-2l-2 .3l-2 .7l-2 .8l-2 .8l-2-.2l-2-.2l-2 .1l-2 .5l-2 .6l-2 .3l-.2 .1l-1.8 .5l-2 .2l-2-.1l-2 .1l-2 .1l-2 .1l-2 .1l-2 .3l-2 .1l-2-.3l-2-.2l-2-.3l-2-.6h-.1l-1.9-1.3l-1.1-.7l-.6-2l.5-2l.9-2l.3-1l.5-1l.2-2l-.7-2l2-2l2-2l-2-2h-2zM118.8 12l1.2-1.3h2l.9 1.3l-.9 2l-2 .3l-.6-.3zM168 16l2-2h.1l-.1 .1l-1.1 1.9l.6 2l.5 .1l.4-.1l1.6-1.4l2-.1l2 .7l.8 .8l1.2 .7l1.1 1.3l.9 .6l2 .9l2-.1l2-.5l2-.4l2-.2l2 .2l1.3-.5l-.4-2l-.9-1.9l-.1-.1h.1h2h2l1.1-1.1l.4 1.1l.5 1.1l1.1 .9l.9 .4l2 .1l2 .7l1.7 .8l.3 .2l2 1.2l1.3 .6l.7 .3l2 .7l2 .5l2 .2l2-.1l2 .2l.2 .2l1.8 1.5l.5 .5l1.5 1.3l.8 .7l1.2 1l.5 1l-.4 2l-.1 .2l-1.9 1.8l-.1 .2l-.5 1.8v2l.3 2l.2 .6l.3 1.4l1 2l.7 1.3l.4 .7l.9 2l.7 1l.8 1l1.1 2l.1 1.1l.2 .9h-.2h-.6l-.3-2l-1.1-1.9v-.1l-1.5-2l-.5-1.2l-.3-.8l-1.2-2l-.5-1.1l-.6-.9l-.8-2l-.6-1.9l-.1-.1l-1.1-2l-.8-1.3l-1.7-.7l-.3-.2l-2 .1l-.9-1.9l-1.1-1.6l-.3-.4l-1.7-1.4l-1.6-.6l-.4-.1l-.7 .1l-1.3 .2l-1.6 1.8l-.4 .3l-1 1.7l-1 .9l-.5 1.1l-.7 2l-.8 1.5l-.3 .5l-1.4 2l-.3 .5v-.5v-1.4l.4-.6l1.3-2l.3-.6l.6-1.4l.9-2l.5-1.8l.1-.2v-2l-.1-.3l-1.1-1.7l-.9-.5l-2-1.2l-.5-.3l-1.5-1.4l-2-.2l-2 .5l-2 .2l-2 .1l-2 .4l-2 .2l-2-.1l-2-.3l-2-.8l-1.2-.6l-.8-.5l-2-.9l-2-.4l-2 .1l-2 .3l-2 .2l-2 .5l-1.2 .7l-.8 .8l-1.1 1.2l-.9 .8l-.7 .5l-1.3-1.3h-2l-2-2l-2 2v2h-.2l.1-2l.1-.6l.2-1.4l1.1-2l.7-.8l1.5-1.2l.2-.3l.3 .3h2h2l2-2h2zM293.4 17.4l.6 .6l.8 .8l-.8 .6l-.8 .6l-1.2 .9l-1.6 1.1l-.4 .2l-2 1.1l-1.5 .7h-.5l-1.9-1.9l.2-.1l1.7-.5l2-.8l1.3-.7l.7-.4l2-1.3l.5-.3zM253.1 20l.9-.4l2-.7l1.3-.2l-1.3 1.3v1.5l-1.3 .5l-.7 .3l-2 1.4l-.3 .3l-1.6 2l-.1 .2l-.9 1.8l-.9 2l-.2 1.1l-.2 .9v2l.2 1.8v.2l.3 2l.2 2l.7 2l.2 .6l-.9 .9l-.5-1.2l-.1-.3l-.6-2l-.2-2l-.4-2l-.4-2l-.1-2l.1-2l.5-2l.9-2l.3-.7l.6-1.3l1.4-1.8l.2-.2l1.8-1.4zM260 20l-1.4-1.4l1.4-.1l2 .2l2 .5l1.6 .8l.4 .3l1.5 1.7l.5 .4l2 1.2l2-.3l2-.2l1-.1l-1 1l-2 2l-.1 .1l-.6-.1l-1.3-.2l-2-.7l-1.6-1.1l-.4-.4l-2-1.4l-.5-.2l-1.5-.6l-2-.3zM22.2 46l1.8-.8l2-.4l2-.1h2l2 .3l2 .8l.4 .2l1.6 1.2l1.3 .8l.7 .6l2 .9l2 .5h.4h1.6h.2l1.8-.3l2-.6l2-.5l2-.2l2-.1l2-.1l1-.2l1-.1l2-.8l2-.8l.8-.3l1.2-.5l2-.6l2-.3l2-.3l2-.3l2 .7l1.9 1.3l.1 .1l2 1l2 .5l2 .2l.9 .2l1.1 .2l2 .4l2-.1l1.9-.5h.1h.1l1.9 .4l2 .6l2 .8l.5 .2l1.5 .6l2 .3l2 .3l2 .5l1.4 .3l.6 .2v1.1l-2-.7l-2-.6h-.1l-1.9-.3l-2-.3l-2-.7l-1.2-.7l-.8-.3l-2-.6l-2-.3l-2 .4h-2l-2-.4l-2-.5l-2-.1l-1.1-.2l-.9-.2l-2-.7l-1.1-1.1l-.9-.6l-2-.8l-2 .5l-2 .3l-2 .3l-1.1 .3l-.9 .3l-2 .8l-2 .9h-.1l-1.9 .8l-2 .4l-2 .1l-2 .1l-2 .3l-1.1 .3l-.9 .3l-2 .5l-2 .3h-2l-2-.4l-1.2-.7l-.8-.3l-2-1.7l-2-1.5l-1.4-.5l-.6-.2l-2-.1l-2 .1l-1.9 .2h-.1l-2 .6l-2 .9l-1.1 .5l-.9 .6l-2 1l-1.3 .4l-.7 .3l-2 .3l-2-.2l-2-.4h-.2l-1.8-.3l-.4 .3l-1.6 1.5l-.4 .5l-1.6 1.4l-.7 .6l-1.3 .8l-2 1l-.6 .2l-1.4 .5v-.5v-.9l2-.7l.9-.4l1.1-.6l1.7-1.4l.3-.3l1.2-1.7l.8-1.2l1.4-.8l.6-.2l1 .2l1 .3l2 .3l2 .1l2-.2l1.6-.5l.4-.1l2-.9l2-.9zM110 54v-.9l2 .2h.7l-.7 .7zM308.3 54l1.7-1.1v1.1v.4l-2 1.1l-1.2 .5l-.8 .3l-2 .4l-2 .1h-2l-2 .1l-2-.2l-2-.4l-1.2-.3l-.6-.2l1.8-1.8l2 .6l2 .6l2 .1l2 .1l2-.1l2-.4l2-.7zM212 60l-.3-.3h.3l2-.5l2-.5l2-.1l2 .2l2 .1l2-.1l2-.5l.2-.1l.5 .5l-.7 .2l-2 .3h-2h-2l-2-.2l-2 .2l-2 .6l-.5 .2zM124 80h1.7l-1.1 2v2l.6 2l.8 1.2l1.2 .8l.8 .5l1.3 .2l-1.3 1.3l-.1 .1l-.2-.1l-1.7-1l-1-1l-1-1.7l-.2-.3l-.4-2v-2zM133.6 82h.4v1.9zM133.8 86l.2-1.7v1.7zM40.1 92l1.9-.5l2-.3v.8v1.7l-2-.2l-2 .3l-.5 .2l-1.5 .7l-1.6 1.3l-.4 .5l-1.1 1.5l-.2 .7l-.7-.7l-2 2v-.1l.4-1.9l1.6-1.7l.2-.3l1.8-1.5l.6-.5l1.4-1l2-1zM240 92v-1.9l2 1l.8 .9l1.2 .9l1 1.1l1 .9l1.7 1.1l.3 .1l2 1l1.3 .9l.7 .3l.5-.3l1.3-2l.1-2l.1-.9l.2-1.1l1.8-1.8l2 .2l1.9 1.6l.1 .2l.8 1.8l.7 2l.4 2v2l-.2 2v2l.3 .6l1.1 1.4l.9 1.2l.4 .4l-.4 .4l-.4 .4l-.3-.4l-1.3-1.6l-.2-.4l-1.1-2l.3-2l.2-2l-.1-2l-.5-2l-.6-2l-1.1-2l-.9-.8l-2-.2l-1 1l-.3 2l-.2 2l-.5 .6l-.9 1.4l-1.1 .6l-1.6-.6l-.4-.3l-2-.6l-2-1l-.2-.1l-1.8-1.5l-.6-.5l-1.4-1l-1.5-.5zM141.9 98l.1-.1l.9-1l1.1 1.1v2h-2h-1.6zM118.5 110l1.5-.4l2 .2l.3 .2l1.7 .9l2 .6l2 .5l2-.1v.1l-1 1h-1l-2-.4l-1.7-.6l-.3-.1l-2-.8l-2-.1l-2 .8l-.7 .2l-.9 .4l-.4-.4l-.9-.9l.9-.2l2-.7zM99.6 112l.4-.1l2-.1h.2l-.2 .2h-2zM255.3 126l.7-.4l2-.3l2-.5v1.2h-2h-2z"/><path fill="#f79262" stroke="#f79262" d="M10.2 7.8l1.8-1.8h2h2h2h2h2h2v.6l-2 .5l-2 .7l-.5 .2l-1.5 .6l-2 .6l-2-.4l-2-.6l-1.2-.2zM38.7 7.3l1.3-1.3h2h2h2h2h2h2h.9l1.1 .8l1.4 1.2l.6 .8l1 1.2l.4 2l-1 2l-.4 .3l-1.3 1.7l-.7 .7l-1.2 1.3l-.8 .8l-1.1 1.2l-.9 1.2l-.7 .8l-1.3 1.7l-.4 .3l.4 1.7l.2 .3l1.8 .2l2 .6l2 .7l1.1 .5l.9 .2l2 .4l2-.3l1.6-.3l.4-.2l2-.2l2 .1l2 .2l2 .1l2-1.4l1.6-.6l.4-.3l2-.6l2-.1h2l2-.4l1.2-.6l.8-.7l2-.9l1.6-.4l.4-.1l2-.3h2l2-1.1l.5-.5l1.5-1.8l.2-.2l1.8-1.5l.8-.5l1.2-.6l2-.6l2-.1l2 .2l2 .8l.6 .3l1.4 .6l2-.1l.4-.5l1.3-2l.3-.6l.5-1.4l.5-1l1-1h2h2h2h2h.1l.5 2l-.6 1.9v.1l-2 1.8l-.5 .2l-.9 2l1.4 .6l2-.1l2 1l.3 .5l1.7 1.6l.6 .4l1.4 .6l2 .4l2 .9l.3 .1l1.7 .5l1.4-.5l.6-.2l2-.8l2 .4l1.2 .6l.8 .5l2 1l1.9 .5h.1l-1.4 1.4l-.6-.2l-1.8-1.2l-.2-.1l-2-1.2l-1.4-.7l-.6-.2l-.5 .2l-1.5 .5l-2 .5l-2-.5l-1.2-.5l-.8-.4l-2-.5l-2-.9l-.3-.2l-1.7-1.6l-1.1-.4l-.9-.5l-2-.1l-2-.8l-1.3-.6l-.7-1.1l-2-.1l-2 1l-.2 .2l-1.8 .8h-2l-2-.5l-1.8-.3l-.2-.1l-2-.1l-1.2 .2l-.8 .1l-2 .9l-1.4 1l-.6 .4l-1.8 1.6l-.2 .1l-2 1.4l-1.4 .5l-.6 .2l-2 .1l-2 .1l-2 .4l-2 .8l-.8 .4l-1.2 .5l-2 .5h-2h-2l-2 .3l-1.8 .7l-.2 .1l-2 .7l-2 .2l-2 .2l-2 .1h-2l-2 .2l-2 .2l-2-.1l-2-.2l-2 .1l-2-.1l-2-.2h-2h-2l-2-.8l-.5-.4l-.6-2l.7-2l.4-.5l1.6-1.5l.4-.4l1.4-1.6l.6-1.6l.2-.4l.6-2l.2-2l-1-1.8l-.1-.2l-1.9-1.8l-.2-.2l-1.8-1.1l-1.7-.9l-.3-.2zM120 10.7l-1.2 1.3l.6 2l.6 .3l2-.3l.9-2l-.9-1.3zM44 25.5l-.4 .5l.4 1l2-.7l1.9-.3l-1.9-.6zM200 12l.7-.7l.3 .7l1 1.6l.2 .4l1.8 1.5l.7 .5l1.3 .7l2 .9l.7 .4l1.3 .8l2 .7l2 .4l.7 .1l1.3 .1h2l2 .1l2 .8l1.8 1l.2 .2l2 1.5l.3 .3l1.7 1.8l.2 .2l.9 2l.1 2l-.7 2l-.5 .7l-1.1 1.3l-.9 1.4l-.4 .6l-.6 2l-.1 2l.2 2l.9 1.9v.1l1.3 2l.7 1.8l.1 .2l1.6 2l.3 .6l.7 1.4l.3 2h-.8l-.2-.9l-.1-1.1l-1.1-2l-.8-1l-.7-1l-.9-2l-.4-.7l-.7-1.3l-1-2l-.3-1.4l-.2-.6l-.3-2v-2l.5-1.8l.1-.2l1.9-1.8l.1-.2l.4-2l-.5-1l-1.2-1l-.8-.7l-1.5-1.3l-.5-.5l-1.8-1.5l-.2-.2l-2-.2l-2 .1l-2-.2l-2-.5l-2-.7l-.7-.3l-1.3-.6l-2-1.2l-.3-.2l-1.7-.8l-2-.7l-2-.1l-.9-.4l-1.1-.9l-.5-1.1l-.4-1.1l.9-.9zM63.4 14h.6h1.9l.1 .2l.1 1.8l-.1 .1l-.9-.1l-1.1-.8zM155.2 16l.8-1.6v1.6l1.7 1.7l-.2 .3l-1.5 1.2l-.7 .8l-1.1 2l-.2 1.4l-.1 .6l-.1 2h-1.8h-2h-1.7l1.7-.3l1.7-1.7l.3-.8l.4-1.2l.6-2l.9-2l.1-.1zM258 16l-.1-.1h.1l2-.1l2 .1l1.8 .1h.2l2 .2l2 .6l2 1.2l2 .9l2 .1l2 .1l2 .2l2 .3l2 .2l2-.2l2-.6l2-.8l.3-.2l1.7-.9l1.8-1.1l.2-.1v.1l1.4 1.4l-.9 .6l-.5 .3l-2 1.3l-.7 .4l-1.3 .7l-2 .8l-1.7 .5l-.2 .1l-.1-.1l-2-2l-2 2h-2h-2l-1 1l-1 .1l-2 .2l-2 .3l-2-1.2l-.5-.4l-1.5-1.7l-.4-.3l-1.6-.8l-2-.5l-2-.2l-1.4 .1l-.6-.6l-.7 .7l-1.3 .2l-2 .7l-.9 .4l-1.1 .6l-1.8 1.4l-.2 .2l-1.4 1.8l-.6 1.3l-.3 .7l-.9 2l-.5 2l-.1 2l.1 2l.4 2l.4 2l.2 2l.6 2l.1 .3l.5 1.2l-.5 .5h-.7l-.7-2l-.5-2l-.1-1.2l-.1-.8l-.6-2l-.7-2l-.4-2l-.2-2l.1-2l.3-2l.6-2l.9-2l.1-.1l1.7-1.9l.3-.2l2-1.4l.8-.4l.8-.4l.4 .4h2h2zM164.8 22l1.2-.7l2-.5l2-.2l2-.3l2-.1l2 .4l2 .9l.8 .5l1.2 .6l2 .8l2 .3l2 .1l2-.2l2-.4l2-.1l2-.2l2-.5l2 .2l1.5 1.4l.5 .3l2 1.2l.9 .5l1.1 1.7l.1 .3v2l-.1 .2l-.5 1.8l-.9 2l-.6 1.4l-.3 .6l-1.3 2l-.4 .6v-.6l-.4-.4l.4-.6l.7-1l1.1-2l.2-.7l.5-1.3l.3-2l-.7-2l-.1-.1l-2-1.9l-2-1.2l-2-.6l-2 .1l-2 .3l-2 .4l-2 .5l-2 .3l-2-.1l-2-.5l-2-.8l-.7-.4l-1.3-.7l-2-.8l-2-.4h-2l-2 .3l-2 .6l-1.6 1l-.4 .4l-1.4 1.6l-.6 .9l-.5 .6l-1.5-1.5l-.7-.7l.7-.5l.9-.8l1.1-1.2zM26.1 46l1.9-.2l2-.1l2 .1l.6 .2l1.4 .5l2 1.5l2 1.7l.8 .3l1.2 .7l2 .4h2l2-.3l2-.5l.9-.3l1.1-.3l2-.3l2-.1l2-.1l2-.4l1.9-.8h.1l2-.9l2-.8l.9-.3l1.1-.3l2-.3l2-.3l2-.5l2 .8l.9 .6l1.1 1.1l2 .7l.9 .2l1.1 .2l2 .1l2 .5l2 .4h2l2-.4l2 .3l2 .6l.8 .3l1.2 .7l2 .7l2 .3l1.9 .3h.1l2 .6l2 .7v.7v.5l-1-.5l-1-.4l-2-.7l-2-.5l-2-.1l-.8-.3l-1.2-.4l-2-1.1l-1.5-.5l-.5-.1l-2-.3l-2 .3l-2-.1l-2-.4l-2-.7h-2l-2-.1l-2-.6h-.1l-1.9-1.5l-.2-.5l-1.8-.8l-2 .7l-.5 .1l-1.5 .3l-2 .1l-2 .7l-2 .8l-.2 .1l-1.8 .9l-2 .8l-1.4 .3l-.6 .2l-2 .2l-2 .1l-2 .3l-2 .5l-2 .6l-1.2 .1l-.8 .1l-2 .3l-1.9-.4h-.1l-2-.7l-1.2-1.3l-.8-.6l-.9-1.4l-1.1-.8l-2-.6l-2 .1l-2 .3l-2 .4l-1.9 .6l-.1 .1l-2 1l-1.5 .9l-.5 .4l-2 1.4l-.5 .2l-1.5 .8l-2 .1l-2-.3l-2-.2l-2 .3l-2 1.1l-.2 .2l-1.8 1l-1.7 1l-.3 .2l-2 1.1l-2 .6v-1.4l1.4-.5l.6-.2l2-1l1.3-.8l.7-.6l1.6-1.4l.4-.5l1.6-1.5l.4-.3l1.8 .3h.2l2 .4l2 .2l2-.3l.7-.3l1.3-.4l2-1l.9-.6l1.1-.5l2-.9l2-.6zM292 56l.2-.2l.6 .2l1.2 .3l2 .4l2 .2l2-.1h2l2-.1l2-.4l.8-.3l1.2-.5l2-1.1v1.4l-.3 .2l-1.7 1l-2 .8l-1.2 .2l-.8 .2h-2h-2l-2 .2h-2l-2-.2l-2-.2zM213.5 60l.5-.2l2-.6l2-.2l2 .2h2h2l2-.3l.7-.2l.4 .4l-1.1 .3l-2 .3l-2-.1h-2l-2-.1l-2 .2l-.9 .3l-.8 .3l-.3-.3zM27.9 64l.1-.1l.1 .1l-.1 .1zM1.5 68l.5-2l2 1.1l.5 .9l-.5 1l-2-.4zM309 68l1-1.8v1.8v1zM31 80l1-.7l.6 .7l-.6 .6zM122.4 80h1.6l-.6 2v2l.4 2l.2 .3l1 1.7l1 1l1.7 1l.2 .1l-1.2 1.2l-.7-.4l-1-.9l-1-1l-.7-1l-.8-2l-.4-2v-2zM238 88l-.5-.5l.5-.1l2 .2l1.2 .4l.8 .3l.8 1.7l1.2 1.3l.5 .7l1.5 1.6l.5 .4l1.5 1.1l1.1 .9l.9 .5l2 1.2l1.1-1.7l-.1-2l.4-2l.6-1l1-1l1-.6l2 .1l.8 .5l1.2 .9l.8 1.1l.9 2l.3 1.1l.2 .9l.5 2l.1 2l-.2 2l.4 2l1 1.3l.7 .7l.7 .6l-1 1l-.4-.4l-.9-1.2l-1.1-1.4l-.3-.6v-2l.2-2v-2l-.4-2l-.7-2l-.8-1.8l-.1-.2l-1.9-1.6l-2-.2l-1.8 1.8l-.2 1.1l-.1 .9l-.1 2l-1.3 2l-.5 .3l-.7-.3l-1.3-.9l-2-1l-.3-.1l-1.7-1.1l-1-.9l-1-1.1l-1.2-.9l-.8-.9l-2-1v-.1zM40.1 90l1.9-.8l2-.5v1.3v1.2l-2 .3l-1.9 .5h-.1l-2 1l-1.4 1l-.6 .5l-1.8 1.5l-.2 .3l-1.6 1.7l-.4 1.9v.1l-1.9 1.9h-.1l-2-1.8l-.7-.1l-1.3-.6l-1.4-1.4l-.6-1.8v-.2l2-.1l1.6 .1l.4 .1l.7-.1l1.3-.1l2-.5l2-1.1l.4-.3l1.6-1.3l1-.7l1-.9l2-1.1zM138 96h2h2l.9 .9l-.9 1l-.1 .1l-1.5 2h-.4l-2-2zM101.1 108l.9-.1l.4 .1l1.6 .7l2 .6l.5 .2l-.5 .5h-2l-1.8 1.8h-.2l-2 .1l-.4 .1h-1.6l-2-2v-1.3l2-.2l2-.3zM114 110l-.3-.3l.3 .1l2-.4l2-.5l2-.3l2 .3l2 1l.4 .1l1.6 .6l2 .5l2-.3v1.1l-2 .1l-2-.5l-2-.6l-1.7-.9l-.3-.2l-2-.2l-1.5 .4l-.5 .2l-2 .7l-.9 .2z"/><path fill="#f58154" stroke="#f58154" d="M52.9 6h1.1l2 2l2 2h2v2l2 2h1.4l.6 1.2l1.1 .8l.9 .1l.1-.1l-.1-1.8l-.1-.2h.1l2-2h2h2l2-2h2l2-2v-1.3l2 .3h2h2l2 .1l1.3 .2l.7 .7h1.7l.3 .1l.2 .1l1.8 1.8h2h2l2 2h2h2h2h2h2l2 2h2l2-2l1-1l-.5 1l-.5 1.4l-.3 .6l-1.3 2l-.4 .5l-2 .1l-1.4-.6l-.6-.3l-2-.8l-2-.2l-2 .1l-2 .6l-1.2 .6l-.8 .5l-1.8 1.5l-.2 .2l-1.5 1.8l-.5 .5l-2 1.1h-2l-2 .3l-.4 .1l-1.6 .4l-2 .9l-.8 .7l-1.2 .6l-2 .4h-2l-2 .1l-2 .6l-.4 .3l-1.6 .6l-2 1.4l-2-.1l-2-.2l-2-.1l-2 .2l-.4 .2l-1.6 .3l-2 .3l-2-.4l-.9-.2l-1.1-.5l-2-.7l-2-.6l-1.8-.2l-.2-.3l-.4-1.7l.4-.3l1.3-1.7l.7-.8l.9-1.2l1.1-1.2l.8-.8l1.2-1.3l.7-.7l1.3-1.7l.4-.3l1-2l-.4-2l-1-1.2l-.6-.8l-1.4-1.2zM70 19.7l-.7 .3l-1.3 .5l-2 .8l-2 .4l-2-.1l-2-.1l-2 .3l-.3 .2l-1.5 2l.6 2l1.2 .7l2-.6l.2-.1l1.8-1.4l2-.3l2 .4l2 1.3l2 .1l.2-.1l1.5-2l.3-.5l1.7-1.5l.3-.6l2-1.3l.3-.1l-.3-.9l-2-.8l-2 .7zM124.1 10h1.9h.4l-.1 2l-.3 1.4l-.1 .6l-.9 2l.6 2l.4 .2l1.1 1.8l.9 .8l1.7 1.2l.3 .1l2 .3l2 1l2 .6l2-.9l2-.9h2l2 .8l1.9 1h.1l2 .5l1.1-.5l.9-.7l.8-1.3l.6-2l.5-2l.1-.7l.4-1.3l.6-2h1h2v.4l-.8 1.6l-1.2 1.9l-.1 .1l-.9 2l-.6 2l-.4 1.2l-.3 .8l-1.7 1.7l-1.7 .3h-.3h-.1l-1.9-.5l-2-1l-.8-.5l-1.2-.6l-2-.4l-2 .8l-.6 .2l-1.4 .5l-1.7-.5l-.3-.1l-2-.9l-2-.4l-1.4-.6l-.6-.4l-1.7-1.6l-.3-.5l-2-1l-2 .1l-1.4-.6l.9-2l.5-.2l2-1.8v-.1l.6-1.9zM200.7 11.3l1.3-1.3h2l.6 2l1.4 1.9v.1l2 1.3l1.4 .7l.6 .3l2 .7l2 .4l2 .2l2 .2l1.5 .2l.5 .1l2 .5l2 .7l1.8 .7l.2 .1l2 1l1.9 .9l.1 .1l2 1.5l.7 .4h-.7l-2 2l2 2h1.1l-1.1 1.7l-.1 .3l-1.2 2l-.7 .9l-.8 1.1l-1.2 1.6l-.3 .4l-1.2 2l-.5 1.7l-.1 .3l-.1 2l.2 .4l.9 1.6l1.1 1.9l.1 .1l1.2 2l.7 .9l.5 1.1l1.1 2l.3 2h-.9l-.3-2l-.7-1.4l-.3-.6l-1.6-2l-.1-.2l-.7-1.8l-1.3-2v-.1l-.9-1.9l-.2-2l.1-2l.6-2l.4-.6l.9-1.4l1.1-1.3l.5-.7l.7-2l-.1-2l-.9-2l-.2-.2l-1.7-1.8l-.3-.3l-2-1.5l-.2-.2l-1.8-1l-2-.8l-2-.1h-2l-1.3-.1l-.7-.1l-2-.4l-2-.7l-1.3-.8l-.7-.4l-2-.9l-1.3-.7l-.7-.5l-1.8-1.5l-.2-.4l-1-1.6zM253.2 14l.8-.2l2-.5l2-.3l2-.1h2l2 .1l2 .3l2 .4l1.3 .3l.7 .2l2 .6l2 .3l2 .1l2 .1l1 .7l1 .7l2 .8l2-.2l2-.7l1.3-.6l.7-.4l2-1.1l.9-.5l1.1-.6l1.5-.9l-1.5 1.5v1.9l-.2 .1l-1.8 1.1l-1.7 .9l-.3 .2l-2 .8l-2 .6l-2 .2l-2-.2l-2-.3l-2-.2l-2-.1l-2-.1l-2-.9l-2-1.2l-2-.6l-2-.2h-.2l-1.8-.1l-2-.1l-2 .1h-.1l-1.9-1.9h-2zM247.3 16l.7-.2l2-.8l1.5-.5l-1.5 1.5l1.6 1.6l-.8 .4l-.8 .4l-2 1.4l-.3 .2l-1.7 1.9l-.1 .1l-.9 2l-.6 2l-.3 2l-.1 2l.2 2l.4 2l.7 2l.6 2l.1 .8l.1 1.2l.5 2l.7 2h-1.3l-.1 .1v-.1l-.7-2l-.6-2l-.4-2l-.2-.5l-.6-1.5l-.8-2l-.6-1.5l-.3-.5l-.9-2l-.8-1.9l-.1-.1l-.9-2l-.1-2l.8-2l.3-.4l1-1.6l1-1.4l.6-.6l1.4-.7l2-.8zM166.4 24l1.6-1l2-.6l2-.3h2l2 .4l2 .8l1.3 .7l.7 .4l2 .8l2 .5l2 .1l2-.3l2-.5l2-.4l2-.3l2-.1l2 .6l2 1.2l2 1.9l.1 .1l.7 2l-.3 2l-.5 1.3l-.2 .7l-1.1 2l-.7 1l-.4 .6l-.6-.6l.6-1l.4-.3l1.2-1.7l.6-2l-.1-2l-1.3-2l-.4-.4l-2-1.4l-.8-.2l-1.2-.4l-2-.1l-2 .4l-.3 .1l-1.7 .5l-2 .9l-2 .4h-2l-2-.5l-2-.9l-.5-.4l-1.5-.9l-2-1l-.7-.1l-1.3-.3h-2l-1.9 .3h-.1l-2 1.1l-.9 .9l-1.1 1.9l-.1 .1l-.8 2l-.5 2l-.5 2h-.1h-2v-2v-2l2-2l-.5-.5l.5-.6l.6-.9l1.4-1.6zM43.6 26l.4-.5l2-.1l1.9 .6l-1.9 .3l-2 .7zM69.5 46l.5-.1l2-.7l1.8 .8l.2 .5l1.9 1.5h.1l2 .6l2 .1h2l2 .7l2 .4l2 .1l2-.3l2 .3l.5 .1l1.5 .5l2 1.1l1.2 .4l.8 .3l2 .1l2 .5l2 .7l1 .4l1 .5v1.2l-2-1l-1.4-.7l-.6-.3l-2-.7l-2 .3l-2-.4l-1.2-.9l-.8-.4l-2-.5l-2-.6l-2 .1l-2-.1l-1.9-.5h-.1l-2-.9l-2 .1l-2 .2l-2-.5l-2-.4l-2-.4l-.5-.1l-1.5-.6l-2-.1l-2-.3l-2 .8l-.4 .2l-1.6 .8l-2 1l-.5 .2l-1.5 .6l-2 .8l-2 .2l-2 .1l-2 .2l-.5 .1l-1.5 .4l-2 .9l-2 .5l-.8 .2l-1.2 .5l-2 1.2l-.2 .3l-1.8 .8l-1.4-.8l-.2-2l-.3-2l-.1-.1l-.8-1.9l-1-2l-.2-.1l-2-.5l-2 .4l-1 .2l-1 .2l-2 .8l-2 .9l-.2 .1l-1.8 1.4l-.7 .6l-1.3 1.5l-.5 .5l-1.3 2l-.2 .3l-1.8 1.7h-.2h-.1l-1.9-1.9l-.3-.1l-1.7-.7l-2-.3l-2 .1l-2 .6l-.6 .3l-1.4 .5l-2 1.2l-.5 .3l-1.5 1.2l-2 .6v-1.8v-.1l2-.6l2-1.1l.3-.2l1.7-1l1.8-1l.2-.2l2-1.1l2-.3l2 .2l2 .3l2-.1l1.5-.8l.5-.2l2-1.4l.5-.4l1.5-.9l2-1l.1-.1l1.9-.6l2-.4l2-.3l2-.1l2 .6l1.1 .8l.9 1.4l.8 .6l1.2 1.3l2 .7h.1l1.9 .4l2-.3l.8-.1l1.2-.1l2-.6l2-.5l2-.3l2-.1l2-.2l.6-.2l1.4-.3l2-.8l1.8-.9l.2-.1l2-.8l2-.7l2-.1zM72 45.8l-.5 .2l.5 1.3l.4-1.3zM309.7 56l.3-.2v.2v1.4l-1.1 .6l-.9 .8l-2 1h-2l-2-.2h-2l-2 .1l-2 .3h-.5l-1.5 .1h-2h-2v-.1l2-2l2 .2l2 .2h2l2-.2h2h2l.8-.2l1.2-.2l2-.8zM215.1 60l.9-.3l2-.2l2 .1h2l2 .1l2-.3l1.1-.3l.4 .4l-1.5 .5h-.5l-1.5 .1l-1.5-.1h-.5h-1.3h-.7h-.2l-1.8-.1l-1 .1l-1 .2l-1.3 .5l-.4-.4zM229.9 58.1l.1-.1h.1h-.1zM24.1 62l1.9-1.5l2 .2l1.6 1.3l.4 .6l.4 1.4l-.2 2l-.2 .2l-2 .1l-.9-.3l-1.1-.6l-1.2-1.4zM28 63.9l-.1 .1l.1 .1l.1-.1zM-.7 66l.7-1.4l2-.4l2 .9l.9 .9l.9 2l-.4 2l-1.4 1.1l-2-.1l-1.4-1l-.6-.9l-.4-1.1zM2 66l-.5 2l.5 .6l2 .4l.5-1l-.5-.9zM306.7 66l1.3-1.8l2 .2v1.6v.2l-1 1.8l1 1v1v1.2l-2-1.1v-.1l-1.1-2zM31.9 78h.1h.1l1.7 2l-1.8 1.8l-2-.5l-.9-1.3l.9-1zM32 79.3l-1 .7l1 .6l.6-.6zM120.8 80h1.2h.4l-.3 2v2l.4 2l.8 2l.7 1l1 1l1 .9l.7 .4l-.7 .7v.9l-1.1-.9l-.9-.7l-1.2-1.3l-.8-1.3l-.4-.7l-.7-2l-.2-2l-.1-2zM236 86v-.9l2-.2l2 .4l1.2 .7l.8 .3l1.4 1.7l.6 1.1l.2 .9l1.5 2l.3 .3l1.9 1.7h.1l2 1.6l.6 .4l1.4 .7l.4-.7l-.2-2l.4-2l1.2-2l.2-.3l2-1.3l2 .1l2 1.4l.1 .1l1.6 2l.3 .8l.3 1.2l.6 2l.7 2l.1 2v2l.3 .9l.8 1.1l1.2 1.2v.8l-.6 .6l-.7-.6l-.7-.7l-1-1.3l-.4-2l.2-2l-.1-2l-.5-2l-.2-.9l-.3-1.1l-.9-2l-.8-1.1l-1.2-.9l-.8-.5l-2-.1l-1 .6l-1 1l-.6 1l-.4 2l.1 2l-1.1 1.7l-2-1.2l-.9-.5l-1.1-.9l-1.5-1.1l-.5-.4l-1.5-1.6l-.5-.7l-1.2-1.3l-.8-1.7l-.8-.3l-1.2-.4l-2-.2l-.5 .1zM37.5 89.5l.5 .5l2-2h2h2v.7l-2 .5l-1.9 .8h-.1l-2 1.1l-1 .9l-1 .7l-1.6 1.3l-.4 .3l-2 1.1l-2 .5l-1.3 .1l-.7 .1l-.4-.1l-1.6-.1l-2 .1v.2l.6 1.8l1.4 1.4l1.3 .6l.7 .1l2 1.8h.1l-.1 .1v2l-.3 .3l-.4-.3l-1.3-1.3l-2-.7h-.2l-1.8-1l-1.1-1l-.9-1.6l-.1-.4l-.3-2l.4-1l.7-1l1.3-.4l2 .1h2l2 .1l2-.1l2-1.1l.8-.6l1.2-1.3l.8-.7zM96 106v-.7l2 .1l2 .1l2 .2l1.5 .3l.5 .1l2 .7l2 .6l2 .4l1.5 .2h-1.5h-2l-1.5 1.5l-.5-.2l-2-.6l-1.6-.7l-.4-.1l-.9 .1l-1.1 .2l-2 .3l-2 .2v-.7zM116.1 108l1.9-.3l2-.2l2 .5h.1l1.9 1.1l2 .7l1.1 .2l.9 .2l1.1-.2l.9-.2l1.9-1.8l.1-.1v.1l-2 2v.8l-2 .3l-2-.5l-1.6-.6l-.4-.1l-2-1l-2-.3l-2 .3l-2 .5l-2 .4l-.3-.1l-1.6-1.6l1.9 .1l2-.2z"/><path fill="#f47045" stroke="#f47045" d="M78 6h2h2h2h2l1.3 1.3l-1.3-.2l-2-.1h-2h-2l-2-.3zM297 8l1-1.2v1.2l-2 2l-2 2l-.5 .5l-1.5 .9l-1.1 .6l-.9 .5l-2 1.1l-.7 .4l-1.3 .6l-2 .7l-2 .2l-2-.8l-1-.7l-1-.7l-2-.1l-2-.1l-2-.3l-2-.6l-.7-.2l-1.3-.3l-2-.4l-2-.3l-2-.1h-2l-2 .1l-2 .3l-2 .5l-.8 .2h-1.2l-.5 .5l-1.5 .5l-2 .8l-.7 .2l-1.3 .5l-2 .8l-1.4 .7l-.6 .6l-1 1.4l-1 1.6l-.3 .4l-.8 2l.1 2l.9 2l.1 .1l.8 1.9l.9 2l.3 .5l.6 1.5l.8 2l.6 1.5l.2 .5l.4 2l.6 2l.7 2v.1l-.6 .6l-.4-.7l-.9-1.9v-.1l-.5-2l-.7-2l-.8-1.3l-.4-.7l-.9-2l-.7-.9l-1.2-1.1l-.8-.8l-2-.5l-2 .4l-.9 .9l-1.1 .7l-1.1 1.3l-.9 1l-.8 1l-1.2 2v.1l-1.2 1.9l-.3 2l1.2 2l.3 .4l.7 1.6l1.3 1.6l.3 .4l1 2l.7 1.2l.3 .8l.3 2l-.1 .5l-.5-.5h-.1l-.3-2l-1.1-2l-.5-1.1l-.7-.9l-1.2-2l-.1-.1l-1.1-1.9l-.9-1.6l-.2-.4l.1-2l.1-.3l.5-1.7l1.2-2l.3-.4l1.2-1.6l.8-1.1l.7-.9l1.2-2l.1-.3l1.1-1.7h.9l2-2l-2-2h-1.3l-.7-.4l-2-1.5l-.1-.1l-1.9-.9l-2-1l-.2-.1l-1.8-.7l-2-.7l-2-.5l-.5-.1l-1.5-.2l-2-.2l-2-.2l-2-.4l-2-.7l-.6-.3l-1.4-.7l-2-1.3v-.1l-1.4-1.9l-.6-2h2l.4 2l1.6 1.7l.5 .3l1.5 1l2 .4l2 .2l2 .1l2 .2l.3 .1l1.7 .5l2 .6l2 .4l2 .3l.8 .2l1.2 .5l2 .5l2 .2l2-.1l2-.5l.8-.6l1.2-.6l1.8-1.4l.2-.1l2-.9l2-.7l.5-.3l1.5-.4l2-.4l2-.6l1.2-.6l.8-.3l2-.4l2-.3l2-.3l2-.2h2l2 .3l2 .3l2 .3l2 .4l1.2 .2l.8 .3l2 .4l2 .3l2 .3l1 .7l1 .8l2 .9l2-.2l2-.8l1-.7l1-.5l2-1.1l.6-.4l1.4-.6l2-1.1l.4-.3l1.6-1.1zM89.7 8h.3l.2 .2l-.2-.1zM126.4 10h1.6l.3 .3l-.2 1.7l-.1 .4l-.6 1.6l-.6 2l.1 2l1.1 2l2 1.6l2 .2l.4 .2l1.6 .9l2 .7l2-1.1l1-.5l1-.6l2-.1l2 .4l.5 .3l1.5 1l2 .5l1.6-1.5l.4-1.6l.1-.4l.4-2l.2-2l.1-.8l1.2-1.2h1l-.6 2l-.4 1.3l-.1 .7l-.5 2l-.6 2l-.8 1.3l-.9 .7l-1.1 .5l-2-.5h-.1l-1.9-1l-2-.8h-2l-2 .9l-2 .9l-2-.6l-2-1l-2-.3l-.3-.1l-1.7-1.2l-.9-.8l-1.1-1.8l-.4-.2l-.6-2l.9-2l.1-.6l.3-1.4zM69.3 20l.7-.3l2-.7l2-.7l2 .8l.3 .9l-.3 .1l-2 1.3l-.3 .6l-1.7 1.5l-.3 .5l-1.5 2l-.2 .1l-2-.1l-2-1.3l-2-.4l-2 .3l-1.8 1.4l-.2 .1l-2 .6l-1.2-.7l-.6-2l1.5-2l.3-.2l2-.3l2 .1l2 .1l2-.4l2-.8zM170.1 24l1.9-.3h2l1.3 .3l.7 .1l2 1l1.5 .9l.5 .4l2 .9l2 .5h2l2-.4l2-.9l1.7-.5l.3-.1l2-.4l2 .1l1.2 .4l.8 .2l2 1.4l.4 .4l1.3 2l.1 2l-.6 2l-1.2 1.7l-.4 .3l-.6 1l-.6-.6l.2-.4l1.4-1.2l.6-.8l.8-2l-.4-2l-1-1.3l-.7-.7l-1.3-1l-2-.6l-2-.1l-2 .4l-2 1.2l-.3 .1l-1.3 .4l-.4-.4h-2h-2h-2h-2l-.3 .3l-.2-.3l-1.5-1.3l-.7-.7l-1.3-.9l-2-.3l-2 .1l-2 .1l-1.3 1l-.7 1.6l-.2 .4l-.5 2l-.1 2l-.1 .9l-1.1 1.1h-1.9l.5-2l.5-2l.8-2l.1-.1l1.1-1.9l.9-.9l2-1.1zM71.5 46l.5-.2l.4 .2l-.4 1.3zM29 48l1-.2l2-.4l2 .5l.2 .1l1 2l.8 1.9l.1 .1l.3 2l.2 2l1.4 .8l1.8-.8l.2-.3l2-1.2l1.2-.5l.8-.2l2-.5l2-.9l1.5-.4l.5-.1l2-.2l2-.1l2-.2l2-.8l1.5-.6l.5-.2l2-1l1.6-.8l.4-.2l2-.8l2 .3l2 .1l1.5 .6l.5 .1l2 .4l2 .4l2 .5l2-.2l2-.1l2 .9h.1l1.9 .5l2 .1l2-.1l2 .6l2 .5l.8 .4l1.2 .9l2 .4l2-.3l2 .7l.6 .3l1.4 .7l2 1v.3v.7l-1.5-.7l-.5-.3l-2-1.2l-1.2-.5l-.8-.3l-1.3 .3l-.7 .2h-2l-1-.2l-1-.7l-2-1.1l-.7-.2l-1.3-.5l-2-.1l-2-.3l-2-.6l-.9-.5l-1.1-.4l-2 .1l-1.5 .3l-.5 .1l-1.2-.1l-.8-.1l-2-.4l-2-.4l-2-.6l-2-.2l-.9-.3l-1.1-.3l-.7 .3l-1.3 .6l-2 1l-.8 .4l-1.2 .6l-2 1l-1 .4l-1 .3l-2 .2h-2l-2 .1l-2 .8l-1.1 .6l-.9 .5l-2 1l-.8 .5l-1.2 .8l-1.9 1.2h-.1l-2 .3l-1.1-.3l-.9-.6l-1.4-1.4l-.3-2v-2l-.3-1l-.3-1l-1.7-1.6l-2 .5l-2 .6l-1 .5l-1 .5l-2 1.5l-1.6 2l-.4 .6l-1 1.4l-.7 2l-.3 .3l-2 1.1h-2l-2-1l-1-.4l-1-.7l-2-.6l-2-.1l-2 .2l-2 .9l-.4 .3l-1.6 1.1l-1 .9l-.2 2l1.2 .9l2 .9l.3 .2l1.7 1.6l.2 .4l.2 2l-.1 2l-.3 .9l-1.3 1.1l-.7 .5l-2 .1l-1.4-.6l-.6-.4l-1-1.6l-1-2v-.1v-1.9v-2v-2v-2v-.2l2-.6l1.5-1.2l.5-.3l2-1.2l1.4-.5l.6-.3l2-.6l2-.1l2 .3l1.7 .7l.3 .1l1.9 1.9h.1h.2l1.8-1.7l.2-.3l1.3-2l.5-.5l1.3-1.5l.7-.6l1.8-1.4l.2-.1l2-.9l2-.8zM0 64.6l-.7 1.4l.3 2l.4 1.1l.6 .9l1.4 1l2 .1l1.4-1.1l.4-2l-.9-2l-.9-.9l-2-.9zM308.9 58l1.1-.6v.6v.6l-1.5 1.4l-.1 2l1.6 1.3v.7v.4l-2-.2l-1.3 1.8l.2 2l1.1 2v.1l2 1.1v.8v.6l-2-.4l-.2-.2l-1.6-2l-.2-.3l-.4-1.7l-.2-2l.1-2l-.7-2l-.8-.5l-2-.9l-2-.2l-2 .3l-2 .4l-2 .5l-1.7 .4h-.3l-2 .2v-.2v-1.9h2h2l1.5-.1h.5l2-.3l2-.1h2l2 .2h2l2-1zM23.8 60l.2-.1l2-.6l2-.2l2 .6l.3 .3l.5 2l.6 2l.4 2l-1.8 2l-2-.3l-2-1l-1.1-.7l-.9-1l-.5-1l-.4-2zM26 60.5l-1.9 1.5l.7 2l1.2 1.4l1.1 .6l.9 .3l2-.1l.2-.2l.2-2l-.4-1.4l-.4-.6l-1.6-1.3zM217 60l1-.1l1.8 .1h.2h.7h1.3h.5l1.5 .1l1.5-.1h.5l1.5-.5l.4 .4l-.4 .1l-1.5 .3h-2l-2-.1l-2 .1h-2l-2 .5l-.9 .3l-.4-.4l1.3-.5zM228.4 59.6l1.5-1.5l.1-.1h.1h.8l-.9 .6zM29.5 78l.5-.4l2-.6l2 .5l.4 .5l.7 2l-1.1 1.7l-.3 .3l-1.7 .5h-2l-2-.2l-.3-.3v-2l.3-.4zM32 78h-.1l-1.9 1l-.9 1l.9 1.3l2 .5l1.8-1.8l-1.7-2zM119.5 79.5l.5 .5h.8l-.2 2l.1 2l.2 2l.7 2l.4 .7l.8 1.3l1.2 1.3l.9 .7l1.1 .9v1.1l2 2l.3 .3l-.3-.2l-.1-.1l-1.9-1.4l-.7-.6l-1.3-1.1l-1-.9l-1-1l-.7-1l-1.2-2l-.1-.2l-.4-1.8v-2v-2v-2zM236 84v-.8l2-.2l2 .1l1.1 .9l.9 .7l1 1.3l1 1.2l.4 .8l.6 2l1 1.3l.5 .7l1.5 1.4l1.8 .6l.2 .2l.3-.2l1.6-2l.1-.2l1.2-1.8l.8-1.1l1.3-.9l.7-.3l2 .1l.4 .2l1.6 1.2l.7 .8l1.3 1.5l.2 .5l.6 2l.7 2l.5 1.2l.2 .8l.3 2l.4 2l1.1 1.3l.3 .4l-.3 .3v1.2l-1.2-1.2l-.8-1.1l-.3-.9v-2l-.1-2l-.7-2l-.6-2l-.3-1.2l-.3-.8l-1.6-2l-.1-.1l-2-1.4l-2-.1l-2 1.3l-.2 .3l-1.2 2l-.4 2l.2 2l-.4 .7l-1.4-.7l-.6-.4l-2-1.6h-.1l-1.9-1.7l-.3-.3l-1.5-2l-.2-.9l-.6-1.1l-1.4-1.7l-.8-.3l-1.2-.7l-2-.4l-2 .2zM35 90l1-1.4l.3-.3l1.2 1.2l-.7 .5l-.8 .7l-1.2 1.3l-.8 .6l-2 1.1l-2 .1l-2-.1h-2l-2-.1l-1.3 .4l-.7 1l-.4 1l.3 2l.1 .4l.9 1.6l1.1 1l1.8 1h.2l2 .7l1.3 1.3l.4 .3l-.8 .8l-.9-.6l-.5-.5l-1.5-1l-2-.5l-.8-.5l-1.2-1.1l-.8-.9l-1.1-2v-2l1.1-2l.8-.6l2-.6l2-.1l2-.1h2l2 .1l1.1-.7l.9-.9zM131.3 99.3l.7 .7v.6l-.2-.6zM96 104l-1.5-1.5l1.5 .4l2 .4l2 .2l2 .4l.4 .1l1.6 .6l2 .6l2 .4l2 .4h.2l1.8 .6l2 .5h2l2-.5l2-.1l2 .7l1.5 .8l.5 .3l2 .8l2 .4l2-.8l.8-.7l.9-2l.3-1.1v1.1v1.9l-.1 .1l-1.9 1.8l-.9 .2l-1.1 .2l-.9-.2l-1.1-.2l-2-.7l-1.9-1.1h-.1l-2-.5l-2 .2l-1.9 .3h-.1l-2 .2l-1.9-.1l-.1-.1h-.5l-1.5-.2l-2-.4l-2-.6l-2-.7l-.5-.1l-1.5-.3l-2-.2l-2-.1l-2-.1z"/><path fill="#f16740" stroke="#f16740" d="M295.3 8l.7-.8l1-1.2h1v.8l-1 1.2l-1 .9l-1.6 1.1l-.4 .3l-2 1.1l-1.4 .6l-.6 .4l-2 1.1l-1 .5l-1 .7l-2 .8l-2 .2l-2-.9l-1-.8l-1-.7l-2-.3l-2-.3l-2-.4l-.8-.3l-1.2-.2l-2-.4l-2-.3l-2-.3l-2-.3h-2l-2 .2l-2 .3l-2 .3l-2 .4l-.8 .3l-1.2 .6l-2 .6l-2 .4l-1.5 .4l-.5 .3l-2 .7l-2 .9l-.2 .1l-1.8 1.4l-1.2 .6l-.8 .6l-2 .5l-2 .1l-2-.2l-2-.5l-1.2-.5l-.8-.2l-2-.3l-2-.4l-2-.6l-1.7-.5l-.3-.1l-2-.2l-2-.1l-2-.2l-2-.4l-1.5-1l-.5-.3l-1.6-1.7l-.4-2l1-1v1l.4 2l.6 .6l2 1.3l.7 .1l1.3 .3l2 .2l2 .2l2 .3l2 .3l2 .6l.4 .1l1.6 .4l2 .4l2 .3l2 .2l2 .1l2-.2l2-.7l.9-.5l1.1-.5l2-1.2l.7-.3l1.3-.6l2-.6l2-.6l.8-.2l1.2-.3l2-.7l2-.6l1.3-.4l.7-.2l2-.5l2-.3l2-.1l2 .1l2 .2l2 .3l1.7 .5l.3 .1l2 .5l2 .3l2 .2l2 .4l1.8 .5l.2 .1l2 1.1l.8 .8l1.2 .8l2-.6l.5-.2l1.5-.9l2-1l.2-.1l1.8-1l2-1l2-1zM128.3 10.3l1 1l-.1 .7l-.6 2l-.6 2v.8v1.2v.1l.7 1.9l1.3 1.1l2 .2l1.3 .7l.7 .3l2 .9l1.9-1.2l.1-.1l2-1.2l2-.2l2 .3l1.9 1.2l.1 .1l2 .6l.7-.7l.7-2v-2l-.1-2h.7l.8-.8l-.1 .8l-.2 2l-.4 2l-.1 .4l-.4 1.6l-1.6 1.5l-2-.5l-1.5-1l-.5-.3l-2-.4l-2 .1l-1 .6l-1 .5l-2 1.1l-2-.7l-1.6-.9l-.4-.2l-2-.2l-2-1.6l-1.1-2l-.1-2l.6-2l.6-1.6l.1-.4zM168.7 26l1.3-1l2-.1l2-.1l2 .3l1.3 .9l.7 .7l1.5 1.3l.2 .3l-.9 .9l-.8-1.2l-2-1.9l-.5-.1l-1.5-.2l-2 .1h-2l-.1 .1l-.9 2l-.1 2l.1 2h-1l-.9 .9l.1-.9l.1-2l.5-2l.2-.4zM189.7 28l.3-.1l2-1.2l2-.4l2 .1l2 .6l1.3 1l.7 .7l1 1.3l.4 2l-.8 2l-.6 .8l-1.4 1.2l-.2 .4l-.4-.4h-.4l.4-.2l2-1.8l1-2l-.7-2l-.3-.4l-1.7-1.6l-.3-.2l-2-.9l-2-.1l-2 .6l-.9 .6l-1.1 .8l-.9 .3l-.7-.7zM233.1 32l.9-.9l2-.4l2 .5l.8 .8l1.2 1.1l.7 .9l.9 2l.4 .7l.8 1.3l.7 2l.5 2v.1l.9 1.9l.4 .7l-.7 .7l-.6-1.2l-.1-.2l-.7-2l-.6-2l-.6-1.4l-.3-.6l-1.1-2l-.6-.9l-1-1.1l-1-1l-2-.7l-2 .4l-1.8 1.3l-.2 .2l-1.6 1.8l-.4 .5l-1.1 1.5l-.9 1.5l-.3 .5l-.4 2l.7 1.2l.5 .8l.9 2l.6 .7l.9 1.3l1.1 1.8l.1 .2l.8 2l.3 2l-.1 1.1l-.6-.6l.1-.5l-.3-2l-.3-.8l-.7-1.2l-1-2l-.3-.4l-1.3-1.6l-.7-1.6l-.3-.4l-1.2-2l.3-2l1.2-1.9v-.1l1.2-2l.8-1l.9-1l1.1-1.3zM65.3 48l.7-.3l1.1 .3l.9 .3l2 .2l2 .6l2 .4l2 .4l.8 .1l1.2 .1l.5-.1l1.5-.3l2-.1l1.1 .4l.9 .5l2 .6l2 .3l2 .1l1.3 .5l.7 .2l2 1.1l1 .7l1 .2h2l.7-.2l1.3-.3l.8 .3l1.2 .5l2 1.2l.5 .3l1.5 .7v.8l-2-1l-.8-.5l-1.2-.8l-2-.8l-2 .4l-2 .1l-2-.4l-.7-.5l-1.3-.9l-2-.7l-2-.2l-1-.2l-1-.2l-2-.7l-2-1.1h-.2l-1.8 .3l-2 .3l-2-.1l-2-.1l-2-.3l-.3-.1l-1.7-.6l-2-.4l-2-.5l-2 .8l-1.3 .7l-.7 .4l-2 .9l-1.3 .7l-.7 .4l-2 .6l-2 .3h-2l-2-.1l-1.5 .8l-.5 .4l-2 1.1l-.8 .5l-1.2 1l-1.5 1l-.5 .3l-2 .9h-2l-2-.6l-1.9-.6l-.1-.1l-1.3-1.9l.2-2v-2l-.5-2l-.4-.3l-2 .3h-.1l-1.9 .6l-2 1l-.5 .4l-1.5 1.9l-.1 .1l-1.2 2l-.6 2l1.9 1l2-.6l1.5-.4l.5-.2l2 .2l1.8 2v2l.2 .8l.4 1.2l.6 2l-.8 2l-.2 .2l-2 .9l-2-.4l-1.3-.7l-.7-.4l-2-1.2l-.4-.4l-.9-2l-.6-2l-.1-.4l-2-1.2l-2 .3l-2-.3l-.9-.4l-1.1-.6l-2-.8l-1.9-.6h-.1l-2-.4l-2 .2l-.5 .2l-1.5 .5l-1.7 1.5v2l1.7 1.2l1.4 .8l.6 .6l.8 1.4v2v2l-.7 2l-.1 .1l-2 1.3l-2 .2l-2-.6l-1-1l-1-1.6v-.4v-2v-.1v.1l1 2l1 1.6l.6 .4l1.4 .6l2-.1l.7-.5l1.3-1.1l.3-.9l.1-2l-.2-2l-.2-.4l-1.7-1.6l-.3-.2l-2-.9l-1.2-.9l.2-2l1-.9l1.6-1.1l.4-.3l2-.9l2-.2l2 .1l2 .6l1 .7l1 .4l2 1h2l2-1.1l.3-.3l.7-2l1-1.4l.4-.6l1.6-2l2-1.5l1-.5l1-.5l2-.6l2-.5l1.7 1.6l.3 1l.3 1v2l.3 2l1.4 1.4l.9 .6l1.1 .3l2-.3h.1l1.9-1.2l1.2-.8l.8-.5l2-1l.9-.5l1.1-.6l2-.8l2-.1h2l2-.2l1-.3l1-.4l2-1l1.2-.6l.8-.4l2-1zM24 59.9l-.2 .1l-.7 2l.4 2l.5 1l.9 1l1.1 .7l2 1l2 .3l1.8-2l-.4-2l-.6-2l-.5-2l-.3-.3l-2-.6l-2 .2zM227.9 59.9l.1 .1l.4-.4l1.6-1l.9-.6h.9l-1.8 1.2l-1.4 .8l-.6 .2l-2 .4h-2l-2-.2l-2 .2l-2 .1l-2 .6l-.5 .2l-.4-.4l.9-.3l2-.5h2l2-.1l2 .1h2l1.5-.3zM308.5 60l1.5-1.4v1l-.5 .4l.1 2l.4 .3v1l-1.6-1.3zM172 60h2h2v2l-2 2l-2-2zM292.3 62l1.7-.4l2-.5l2-.4l2-.3l2 .2l2 .9l.8 .5l.7 2l-.1 2l.2 2l.4 1.7l.2 .3l1.6 2l.2 .2l2 .4v1l-2-.3l-1.6-1.3l-.4-.5l-.8-1.5l-.5-2l-.2-2l-.2-2l-.3-.5l-1-1.5l-1-.6l-2-.4l-2 .5l-1.4 .5l-.6 .3l-2 .5l-2 .3l-2 .2v-1.1l2-.2zM32 76h.2l1.8 .4l1.3 1.6l.7 1.4l.6 .6l-.6 1l-.5 1l-1.5 .8l-2 .3l-2 .1l-2-.2l-1-1l-.1-2l1.1-1.5l.5-.5l1.5-1.1zM30 77.6l-.5 .4l-1.5 1.6l-.3 .4v2l.3 .3l2 .2h2l1.7-.5l.3-.3l1.1-1.7l-.7-2l-.4-.5l-2-.5zM118.6 78.6l.9 .9l.1 .5v2v2v2l.4 1.8l.1 .2l1.2 2l.7 1l1 1l1 .9l1.3 1.1l.7 .6l1.9 1.4l.1 .1l.3 .2l1.7 1.7l1.3 1.3l.5 .7l.2 .6v1.4v2v.9l-.3 1.1l-.9 2l-.8 .7l-2 .8l-2-.4l-2-.8l-.5-.3l-1.5-.8l-2-.7l-2 .1l-2 .5h-2l-2-.5l-1.8-.6h-.2l-2-.4l-2-.4l-2-.6l-1.6-.6l-.4-.1l-2-.4l-2-.2l-2-.4l-1.5-.4l-.5-.5v-1.3l2 .5l2 .6l.5 .2l1.5 .4l2 .6l2 .5l2 .5l2 .5l2 .4l2 .5l1.6 .6l.4 .1l2 .2l.8-.3l1.2-.4h2l1 .4l1 .4l2 1.1l1.1 .5l.9 .3l2 .6l1.6-.9l.4-.5l.8-1.5l.6-2v-2l-.7-2l-.7-.9l-1.1-1.1l-.9-.7l-1.6-1.3l-.4-.3l-2-1.5l-.3-.2l-1.7-1.6l-.4-.4l-1.5-2l-.1-.2l-.9-1.8l-.3-2l.1-2v-2l-.2-2zM236 82v-.1l2-.4h2l.6 .5l1.4 1.1l.6 .9l1.4 1.8l.1 .2l.9 2l.7 2l.3 .3l1.2 1.7l.8 .8l2 .6l1.3-1.4l.7-1.2l.5-.8l1.5-2l2-.8l2 .1l1.3 .7l.7 .5l1.3 1.5l.7 .8l.7 1.2l.6 2l.7 1.7l.1 .3l.6 2l.5 2l.8 1.9l.1 .1l.9 1l-.7 .7l-.3-.4l-1.1-1.3l-.4-2l-.3-2l-.2-.8l-.5-1.2l-.7-2l-.6-2l-.2-.5l-1.3-1.5l-.7-.8l-1.6-1.2l-.4-.2l-2-.1l-.7 .3l-1.3 .9l-.8 1.1l-1.2 1.8l-.1 .2l-1.6 2l-.3 .2l-.2-.2l-1.8-.6l-1.5-1.4l-.5-.7l-1-1.3l-.6-2l-.4-.8l-1-1.2l-1-1.3l-.9-.7l-1.1-.9l-2-.1l-2 .2zM35.1 88l.9-1.3v1.3l.3 .3l-.3 .3l-1 1.4l-1 1.1l-.9 .9l-1.1 .7l-2-.1h-2l-2 .1l-2 .1l-2 .6l-.8 .6l-1.1 2v2l1.1 2l.8 .9l1.2 1.1l.8 .5l2 .5l1.5 1l.5 .5l.9 .6l-.9 .9v-.1l-1.8-1.9l-.2-.1l-2-.5l-2-1.2l-.3-.2l-1.7-1.8l-.2-.2l-.7-2v-2l.9-1.6l.2-.4l1.8-1.3l1.7-.7l.3-.1h2l2-.3l2-.1l2 .1l1.5-1.6l.5-.5z"/><path fill="#ec5d3b" stroke="#ec5d3b" d="M258 6l2-.2l2 .1l.9 .1l1.1 .1l2 .4l2 .6l2 .9h.2l1.8 .2l2 .1l2 .3l2 .4l2 .8l.5 .2l1.5 .6h2l2-.6l2-1.1l1.8-.9l.2-.1l2-1.2l1-.7h1h2h1l-1 1.2l-.7 .8l-1.3 1l-2 1l-2 1l-1.8 1l-.2 .1l-2 1l-1.5 .9l-.5 .2l-2 .6l-1.2-.8l-.8-.8l-2-1.1l-.2-.1l-1.8-.5l-2-.4l-2-.2l-2-.3l-2-.5l-.3-.1l-1.7-.5l-2-.3l-2-.2l-2-.1l-2 .1l-2 .3l-2 .5l-.7 .2l-1.3 .4l-2 .6l-2 .7l-1.2 .3l-.8 .2l-2 .6l-2 .6l-1.3 .6l-.7 .3l-2 1.2l-1.1 .5l-.9 .5l-2 .7l-2 .2l-2-.1l-2-.2l-2-.3l-2-.4l-1.6-.4l-.4-.1l-2-.6l-2-.3l-2-.3l-2-.2l-2-.2l-1.3-.3l-.7-.1l-2-1.3l-.6-.6l-.4-2v-1l1-1h1.4l.1 2l.5 2h2l2 .2l2 .3l2 .2l2 .5l2 .8h.1l1.9 .4l2 .1l2 .1l2 .1l2-.2l2-.5l2-.8l2-.9l.5-.3l1.5-.7l2-.7l2-.6l2-.5l2-.5l2-.8l.5-.2l1.5-.6l2-.7l2-.4l1.8-.3zM129.3 11.3l.7 .7l1.4 1.4l-.3 .6l-.7 2l-.2 2l-.2 1.6v.4l2 .2l2 .8l1.2 1l.8 .4l.6-.4l1.4-1.7l.6-.3l1.4-1.1l2-.5l2-.1l2 .2l.3-.5l-.1-2h1.8h1.3l.1 2v2l-.7 2l-.7 .7l-2-.6l-.1-.1l-1.9-1.2l-2-.3l-2 .2l-2 1.2l-.1 .1l-1.9 1.2l-2-.9l-.7-.3l-1.3-.7l-2-.2l-1.3-1.1l-.7-1.9v-.1v-1.2v-.8l.6-2l.6-2zM169.9 26l.1-.1h2l2-.1l1.5 .2l.5 .1l2 1.9l.8 1.2l-.8 .8h-2h-2l-2 2h-2h-1l-.1-2l.1-2zM191.1 28l.9-.6l2-.6l2 .1l2 .9l.3 .2l1.7 1.6l.3 .4l.7 2l-1 2l-2 1.8l-.4 .2h-1.6l-.5-.5l.5 .1l2-.8l.9-.8l1.1-1.7l.1-.3l-.1-.3l-1-1.7l-1-1l-1.9-1h-.1l-2-.2l-.4 .2l-1.6 1l-1.3 1l-.2 .5l-.5-.5l-.9-.9l.9-.3zM232.2 34l1.8-1.3l2-.4l2 .7l1 1l1 1.1l.6 .9l1.1 2l.3 .6l.6 1.4l.6 2l.7 2l.1 .2l.6 1.2l-.6 .6v2l-.3 .3v-.3l-.6-2l-.6-2l-.5-1.6l-.2-.4l-1-2l-.8-1.5l-.4-.5l-1.6-1.9l-.1-.1l-1.9-1.2h-2l-1.5 1.2l-.5 .6l-1.1 1.4l-.9 1.4l-.4 .6l-.5 2l.7 2l.2 .5l.8 1.5l1.2 1.8l.1 .2l1.1 2l.8 2v.2l.7 1.8l-.3 2l-.4 .6l-.7 1.4l-1.3 1.1l-1.5 .9l-.5 .2l-2 .6l-2 .3h-2l-2-.2l-2 .2l-2 .3l-1.3 .6l-.7 .6v-.6l-.5-.5l.5-.2l2-.6l2-.1l2-.2l2 .2h2l2-.4l.6-.2l1.4-.8l1.8-1.2h.2l2-2l-.9-.9l.1-1.1l-.3-2l-.8-2l-.1-.2l-1.1-1.8l-.9-1.3l-.6-.7l-.9-2l-.5-.8l-.7-1.2l.4-2l.3-.5l.9-1.5l1.1-1.5l.4-.5l1.6-1.8zM29.9 50h.1l2-.3l.4 .3l.5 2v2l-.2 2l1.3 1.9l.1 .1l1.9 .6l2 .6h2l2-.9l.5-.3l1.5-1l1.2-1l.8-.5l2-1.1l.5-.4l1.5-.8l2 .1h2l2-.3l2-.6l.7-.4l1.3-.7l2-.9l.7-.4l1.3-.7l2-.8l2 .5l2 .4l1.7 .6l.3 .1l2 .3l2 .1l2 .1l2-.3l1.8-.3h.2l2 1.1l2 .7l1 .2l1 .2l2 .2l2 .7l1.3 .9l.7 .5l2 .4l2-.1l2-.4l2 .8l1.2 .8l.8 .5l2 1v.5l-.7 .7l-1.2-.7l-.1-.1l-2-1.1l-1.6-.8l-.4-.2l-1.2 .2l-.8 .2l-2 .2l-1.4-.4l-.6-.1l-2-1.1l-1.7-.8l-.3-.1l-2-.4l-2-.3l-2-.8l-.7-.4l-1.3-.5h-2l-2 .2l-2-.1l-2 .1h-2l-2-.4l-2-.5l-2-.4l-2 .7l-2 .7l-.4 .2l-1.6 1l-2 .8l-.5 .2l-1.5 .8l-2 .4h-2h-2l-1.2 .8l-.8 .7l-1.4 1.3l-.6 .8l-1.2 1.2l-.8 .9l-2 1.1h-.1l-1.9 .9l-2-.5l-.5-.4l-1.5-.4l-.7 .4l.5 2l.2 .4l1.2 1.6l.5 2l-.1 2l-1.4 2l1.8 2l2-1l2-1l2-.4v.4v2l-2 2l-2 2l-2 2l-2 2l-2 2l2 2v.7l-.9 1.3l-1.1 1.5l-.5 .5l-1.5 1.6l-2-.1l-2 .1l-2 .3h-2l-.3 .1l-1.7 .7l-1.8 1.3l-.2 .4l-.9 1.6v2l.7 2l.2 .2l1.7 1.8l.3 .2l2 1.2l2 .5l.2 .1l1.8 1.9v.1l-2 2l-2 2h-2h-2l-2 2h-2l-1.8-1.8l.2-.2l1.6-1.1l2-.3l2 .6l2-.4l1.3-.8l.7-2l-2-1.2l-.5-.8l-1.5-1.1l-1.7-.9l-.3-.4l-1.1-1.6l-.2-2l.3-2l1-1.6l.2-.4l1.8-1.6l.5-.4l1.5-.8l2-.6l2 .1l2-.6l.6-.1l1.4-.7l2-1.3l.6-2l-.6-.6l-2-.4l-2-.3l-.9-.7l-1.1-1l-.7-1v-2l.7-1.1l.6-.9l1.4-1.1l1.3-.9l.7-1.2l.9-.8l-.6-2l-.3-.1l-2-1.1l-1.2-.8l-.8-.4l-2-1l-.9-.6l-1.1-1l-.8-1l-1-2l-.2-.2l-2-.9l-1.7-.9l-.3-.1l-2-.9l-2-.2l-2-.3l-1.8-.5h-.2l-2-.3l-2 .2l-.1 .1l.1 .6l.9 1.4l1.1 .3l1.8 1.7l.2 1.3l.1 .7l-.1 .3l-.3 1.7v2l-.1 2l-1.2 2l-.4 .3l-2 1.2l-2 .4l-2-.2l-2-1.3v-.4v-2v-1.6l1 1.6l1 1l2 .6l2-.2l2-1.3l.1-.1l.7-2v-2v-2l-.8-1.4l-.6-.6l-1.4-.8l-1.7-1.2v-2l1.7-1.5l1.5-.5l.5-.2l2-.2l2 .4h.1l1.9 .6l2 .8l1.1 .6l.9 .4l2 .3l2-.3l2 1.2l.1 .4l.6 2l.9 2l.4 .4l2 1.2l.7 .4l1.3 .7l2 .4l2-.9l.2-.2l.8-2l-.6-2l-.4-1.2l-.2-.8v-2l-1.8-2l-2-.2l-.5 .2l-1.5 .4l-2 .6l-1.9-1l.6-2l1.2-2l.1-.1l1.5-1.9l.5-.4l2-1zM32 76l-2 .9l-1.5 1.1l-.5 .5l-1.1 1.5l.1 2l1 1l2 .2l2-.1l2-.3l1.5-.8l.5-1l.6-1l-.6-.6l-.7-1.4l-1.3-1.6l-1.8-.4zM309.5 60l.5-.4v.4v2v.3l-.4-.3zM296.6 62l1.4-.5l2-.5l2 .4l1 .6l1 1.5l.3 .5l.2 2l.2 2l.5 2l.8 1.5l.4 .5l1.6 1.3l2 .3v.4v1.9l-2-.1l-2-.9l-.9-.9l-1.1-1.8l-.1-.2l-.5-2l-.5-2l-.4-2l-.2-2l-.3-.4l-2-1.1l-2 .9l-1.4 .6l-.6 .4l-2 .7l-2 .4l-2 .3v-1.8v-.7l2-.2l2-.3l2-.5zM116.4 78h1.6l.6 .6l.1 1.4l.2 2v2l-.1 2l.3 2l.9 1.8l.1 .2l1.5 2l.4 .4l1.7 1.6l.3 .2l2 1.5l.4 .3l1.6 1.3l.9 .7l1.1 1.1l.7 .9l.7 2v2l-.6 2l-.8 1.5l-.4 .5l-1.6 .9l-2-.6l-.9-.3l-1.1-.5l-2-1.1l-1-.4l-1-.4h-2l-1.2 .4l-.8 .3l-2-.2l-.4-.1l-1.6-.6l-2-.5l-2-.4l-2-.5l-2-.5l-2-.5l-2-.6l-1.5-.4l-.5-.2l-2-.6l-2-.5v-.7l2-2v-.1l.2 .1l1.8 .7l2 1.1l.3 .2l1.7 .8l2 .8l2 .3l.9 .1l1.1 .2l2 .2l2 .3l2 .5l2 .3l2-.1l2 .3l.7 .3l1.3 .4l2 1.5l.1 .1l1.9 .6l2 .2l.6-.8l1-2l-.3-2l-1.3-1.9l-.1-.1l-1.9-1.6l-.4-.4l-1.6-1.4l-.8-.6l-1.2-.9l-1.3-1.1l-.7-.8l-1.1-1.2l-.9-1.2l-.6-.8l-.6-2v-2l.4-2v-2l-.5-2zM236 80v-.2l2-.5l2-.3l2 .9l.1 .1l1.2 2l.7 1.1l.5 .9l1.1 2l.4 1.4l.2 .6l.5 2l1.3 1.5l1.6 .5l.4 .1l.1-.1l1.3-2l.6-1.3l.5-.7l1.5-1.4l2-.5l2 .2l2 1l.7 .7l1.3 1.4l.4 .6l1.1 2l.5 1.4l.2 .6l.8 2l.8 2l.2 .7l1 1.3l1 1.2l.5 .3l-.5 .5l-1 1l-.9-1l-.1-.1l-.8-1.9l-.5-2l-.6-2l-.1-.3l-.7-1.7l-.6-2l-.7-1.2l-.7-.8l-1.3-1.5l-.7-.5l-1.3-.7l-2-.1l-2 .8l-1.5 2l-.5 .8l-.7 1.2l-1.3 1.4l-2-.6l-.8-.8l-1.2-1.7l-.3-.3l-.7-2l-.9-2l-.1-.2l-1.4-1.8l-.6-.9l-1.4-1.1l-.6-.5h-2l-2 .4z"/><path fill="#e64e35" stroke="#e64e35" d="M246.5 6l1.5-.6l2-1l1-.4h1h2l2 2h1.8l-1.8 .3l-2 .4l-2 .7l-1.5 .6l-.5 .2l-2 .8l-2 .5l-2 .5l-2 .6l-2 .7l-1.5 .7l-.5 .3l-2 .9l-2 .8l-2 .5l-2 .2l-2-.1l-2-.1l-2-.1l-1.9-.4h-.1l-2-.8l-2-.5l-2-.2l-2-.3l-2-.2h-2l-.5-2l-.1-2h.6h2h2h.9l1.1 .8l2 .7l1.5 .5l.5 .1l2 .7l2 .7l2 .2l2 .2l2 .1l2-.3l2-.8l1.9-.9l.1-.1l2-1.1l1.8-.8l.2-.1l2-.8l2-.5l2-.4zM258 6l2-2h2h2h2h2h2h2h.2l1.8 .2l2 .3l2 .3l2 .3l2 .2l2-.2l2-.5l1.2-.6h.8h2l2 2h1l-1 .7l-2 1.2l-.2 .1l-1.8 .9l-2 1.1l-2 .6h-2l-1.5-.6l-.5-.2l-2-.8l-2-.4l-2-.3l-2-.1l-1.8-.2h-.2l-2-.9l-2-.6l-2-.4l-1.1-.1l-.9-.1l-2-.1zM131.4 13.4l.6 .6l2 2h1l.4 2l.6 .1l.1-.1l1.3-2h.6h2h2h2h2h.2l.1 2l-.3 .5l-2-.2l-2 .1l-2 .5l-1.4 1.1l-.6 .3l-1.4 1.7l-.6 .4l-.8-.4l-1.2-1l-2-.8l-2-.2v-.4l.2-1.6l.2-2l.7-2zM193.6 28l.4-.2l2 .2h.1l1.9 1l1 1l1 1.7l.1 .3l-.1 .3l-1.1 1.7l-.9 .8l-2 .8l-.5-.1l-1.4-1.4l1.9 .1l.7-.2l1.3-.4l1.1-1.6l-1.1-1.7l-.4-.3l-1.6-.8l-2-.2l-1.3 1l-.6 2l1 1.1l-1.1-1.1l-1.5-1.5l.2-.5l1.3-1zM232.5 36l1.5-1.2h2l1.9 1.2l.1 .1l1.6 1.9l.4 .5l.8 1.5l1 2l.2 .4l.5 1.6l.6 2l.6 2v.3l-1.7 1.7l-2 2l.8 .8l-.8 .2l-.5-1l.5-.3l1.9-1.7v-2l-.3-2l-.6-2l-.9-2l-.1-.1l-1.6-1.9l-.4-.5l-2-1.5h-1.4h-.6l-1.7 2l-.3 .4l-.6 1.6l.2 2l.4 1.1l.4 .9l1.2 2l.4 1.1l.3 .9l1.1 2l.6 1.3l1.3 .7l-.9 2l-.4 .4l-1 1.6l-1 .9l-1.3 1.1l-.7 .3l-2 .7l-2 .4l-2 .3h-2l-2-.4l-2 .4l-1.5 .3l-.5 .3l-1.9 1.7h-.1v-1.4l.7-.6l1.3-.6l2-.3l2-.2l2 .2h2l2-.3l2-.6l.5-.2l1.5-.9l1.3-1.1l.7-1.4l.4-.6l.3-2l-.7-1.8v-.2l-.8-2l-1.1-2l-.1-.2l-1.2-1.8l-.8-1.5l-.2-.5l-.7-2l.5-2l.4-.6l.9-1.4l1.1-1.4zM61.6 52l.4-.2l2-.7l2-.7l2 .4l2 .5l2 .4h2l2-.1l2 .1l2-.2h2l1.3 .5l.7 .4l2 .8l2 .3l2 .4l.3 .1l1.7 .8l2 1.1l.6 .1l1.4 .4l2-.2l.8-.2l1.2-.2l.4 .2l1.6 .8l2 1.1l.1 .1l1.2 .7l-1.1 1.1l-.2-.2l-2-.9l-2-.5l-2 .2l-2 .4l-1.4-.8l-.6-.2l-2-1.1l-1.2-.7l-.8-.4l-2-.6l-2-.2l-2-.1l-1.6-.7l-.4-.2l-2-.4l-2 .1h-2l-2 .3l-2 .2h-.2l-1.8 .2l-2 .1l-2 .2l-2 .7l-2 .7l-.3 .1l-1.7 .6l-2 .8l-1.7 .6l-.3 .2l-1.2 .6l-.8-.8l-2 2v1.1l-.2 .9v.2l-1.8 1.8h-2l-2 2l-2 2v2v1.6l-2 .4l-2 1l-2 1l-1.8-2l1.4-2l.1-2l-.5-2l-1.2-1.6l-.2-.4l-.5-2l.7-.4l1.5 .4l.5 .4l2 .5l1.9-.9h.1l2-1.1l.8-.9l1.2-1.2l.6-.8l1.4-1.3l.8-.7l1.2-.8h2h2l2-.4l1.5-.8l.5-.2l2-.8zM3.9 60l.1-.1l2-.2l2 .3h.2l1.8 .5l2 .3l2 .2l2 .9l.3 .1l1.7 .9l2 .9l.2 .2l1 2l.8 1l1.1 1l.9 .6l2 1l.8 .4l1.2 .8l2 1.1l.3 .1l.6 2l-.9 .8l-.7 1.2l-1.3 .9l-1.4 1.1l-.6 .9l-.7 1.1v2l.7 1l1.1 1l.9 .7l2 .3l2 .4l.6 .6l-.6 2l-2 1.3l-1.4 .7l-.6 .1l-2 .6l-2-.1l-2 .6l-1.5 .8l-.5 .4l-1.8 1.6l-.2 .4l-1 1.6l-.3 2l.2 2l1.1 1.6l.3 .4l1.7 .9l1.5 1.1l.5 .8l2 1.2l-.7 2l-1.3 .8l-2 .4l-2-.6l-2 .3l-1.6 1.1l-.2 .2l-.2-.2v-2l-2-2v-2l-2-2v-1.4l.5-.6l1.3-2l.2-.4l.6-1.6l1.4-1.8l.1-.2l1.9-1.2l1.2-.8l.8-.5l2-1.4l.2-.1l1.8-.9l2-.5h2l.7-.6l-.1-2l-.6-.4l-2-1.6l-.9-2l.1-2l.8-1.4l.3-.6l1.7-1.6l.5-.4l1-2l-1.5-1.7l-.4-.3l-1.6-.8l-2-.7l-1.2-.5l-.8-.5l-1.8-1.5l-.2-.3l-1.5-1.7l-.5-.5l-1.8-1.5l-.2-.2l-1.2 .2l-.8 .1l-1.6 1.9l-.4 .3l-.7 1.7l-.1 2l.4 2l-.2 2l-1.3 2l-.1 .1l-2 1.7l-.1 .1l-1.9-1.9h-2h-2h-2v-1.6l2 1.3l2 .2l2-.4l2-1.2l.4-.3l1.2-2l.1-2v-2l.3-1.7l.1-.3l-.1-.7l-.2-1.3l-1.8-1.7l-1.1-.3l-.9-1.4zM296.6 64l1.4-.6l2-.9l2 1.1l.3 .4l.2 2l.4 2l.5 2l.5 2l.1 .2l1.1 1.8l.9 .9l2 .9l2 .1v.1h-2h-2h-2h-1.8l-.2-.4l-.8-1.6l-.6-2l-.2-2l-.4-1l-1.2-1l-.8-.3l-1.3 .3l-.7 .1l-2 .6l-2 .3l-.9 .1l-1.1-1.1v-2v-.2l2-.3l2-.4l2-.7zM60 66v-.4l2-.6l2-.7l2-.2l2 .9l.7 1l.9 2l-.4 2l-.3 2l.2 2l.2 .7l-1.3 1.3l-2-2l-2-2l-2-2v-2zM95.3 78l.7-.9l2 .6l.5 .3l-.5 1.3l-2 .2zM236 78l.3-.3l1.7-.5l2-.3l2 .3l1.1 .8l.9 1l.5 1l.7 2l.8 1.5l.3 .5l1.1 2l.2 2l.1 2l.3 .4h2l.3-.4l.5-2l1.2-1.7l.3-.3l1.7-1l2-.3l2 .4l1.6 .9l.4 .2l1.8 1.8l.2 .2l1.3 1.8l.7 1.4l.4 .6l.7 2l.8 2l.1 .3l1.6 1.7l.4 .5l2 1.1l1.3 .4h-1.3l-1.5 1.5l-.5-.3l-1-1.2l-1-1.3l-.2-.7l-.8-2l-.8-2l-.2-.6l-.5-1.4l-1.1-2l-.4-.6l-1.3-1.4l-.7-.7l-2-1l-2-.2l-2 .5l-1.5 1.4l-.5 .7l-.6 1.3l-1.3 2l-.1 .1l-.4-.1l-1.6-.5l-1.3-1.5l-.5-2l-.2-.6l-.4-1.4l-1.1-2l-.5-.9l-.7-1.1l-1.2-2l-.1-.1l-2-.9l-2 .3l-2 .5zM112.6 78h1.4h2h.4l.3 2l.5 2v2l-.4 2v2l.6 2l.6 .8l.9 1.2l1.1 1.2l.7 .8l1.3 1.1l1.2 .9l.8 .6l1.6 1.4l.4 .4l1.9 1.6l.1 .1l1.3 1.9l.3 2l-1 2l-.6 .8l-2-.2l-1.9-.6l-.1-.1l-2-1.5l-1.3-.4l-.7-.3l-2-.3l-2 .1l-2-.3l-2-.5l-2-.3l-2-.2l-1.1-.2l-.9-.1l-2-.3l-2-.8l-1.7-.8l-.3-.2l-2-1.1l-1.8-.7l-.2-.1v-1.9h2h2l.8-.8l.6 .8l.6 .4l2 1.6l2 .2l1.6-.2l.4-.1l2-1l1-.9l-.2-2l-.5-2l.7-2l1-2h2l2-2l-2-2l.1-2l-.1-.2l-.9-1.8z"/><path fill="#df402f" stroke="#df402f" d="M234.8 6l1.2-.9l2-1.1h2h2h2h2h2h2h1l-1 .4l-2 1l-1.5 .6l-.5 .2l-2 .4l-2 .5l-2 .8l-.2 .1l-1.8 .8l-2 1.1l-.1 .1l-1.9 .9l-2 .8l-2 .3l-2-.1l-2-.2l-2-.2l-2-.7l-2-.7l-.5-.1l-1.5-.5l-2-.7l-1.1-.8h1.1h2h2h2l1.9-1.9h.1l2 1l2 .8l.2 .1l1.8 .4l2-.2l.3-.2l1.7-1.5zM272.2 4h1.8h2h2h2h2h2h2h1.2l-1.2 .6l-2 .5l-2 .2l-2-.2l-2-.3l-2-.3l-2-.3zM135 16h1h1.4l-1.3 2l-.1 .1l-.6-.1zM192.7 30l1.3-1l2 .2l1.6 .8l.4 .3l1.1 1.7l-1.1 1.6l-1.3 .4l-.7 .2l-1.9-.1l-.1-.1l-.9-.9l-1-1.1zM234.6 38h1.4l2 1.5l.4 .5l1.6 1.9l.1 .1l.9 2l.6 2l.3 2v2l-1.9 1.7l-.5 .3l.5 1l.8-.2l1.2 1.2v2v.4l-2 .3l-2 1l-.3 .3l-1.7 1.3l-.8 .7l-1.2 .7l-2 .8l-2 .3l-1.5 .2l-.5 .1l-2 .3l-2-.1l-.8-.3l-1.2-.2l-1.2 .2l-.8 .5l-2 1.2l-.3 .3h-1.6l1.9-1.7l.5-.3l1.5-.3l2-.4l2 .4h2l2-.3l2-.4l2-.7l.7-.3l1.3-1.1l1-.9l1-1.6l.4-.4l.9-2l-1.3-.7l-.6-1.3l-1.1-2l-.3-.9l-.4-1.1l-1.2-2l-.4-.9l-.4-1.1l-.2-2l.6-1.6l.3-.4l1.7-2zM236 42.6l-1.3 1.4l.1 2l.3 2l.4 2l.5 .8l2 .6l1.7-1.4l.3-1.7l.1-.3l-.1-.5l-.4-1.5l-.9-2l-.7-.9zM71.8 54h.2l2-.2l2-.3h2l2-.1l2 .4l.4 .2l1.6 .7l2 .1l2 .2l2 .6l.8 .4l1.2 .7l2 1.1l.6 .2l1.4 .8l2-.4l2-.2l2 .5l2 .9l.2 .2l-.2 .2l2 2v.9l-1.1-.9l-.9-.5l-2-.7h-2l-1 .2l-1-1l-1.4 1.4l-.6 .2l-2-1.1l-.6-.5l-1.4-1.1l-1.2-.9l-.8-.5l-2-.7l-2-.3l-2 .1l-2 .3l-2-.1h-2l-2 .5l-1.2 .7l-.8 .9l-.6 1.1l-.3 2l.1 .8l-1.2 1.2l-2 2v2v2v2v2l-.7 .7l-.2-.7l-.2-2l.3-2l.4-2l-.9-2l-.7-1l-2-.9l-2 .2l-2 .7l-2 .6v-1.6l-2-2l-2-2l-1.2-1.2l1.2-.6l.3-.2l1.7-.6l2-.8l1.7-.6l.3-.1l2-.7l2-.7l2-.2l2-.1zM51.8 62l.2-.9v.9l-.2 .2zM12.8 64l1.2-.2l.2 .2l1.8 1.5l.5 .5l1.5 1.7l.2 .3l1.8 1.5l.8 .5l1.2 .5l2 .7l1.6 .8l.4 .3l1.5 1.7l-1 2l-.5 .4l-1.7 1.6l-.3 .6l-.8 1.4l-.1 2l.9 2l2 1.6l.6 .4l.1 2l-.7 .6h-2l-2 .5l-1.8 .9l-.2 .1l-2 1.4l-.8 .5l-1.2 .8l-1.9 1.2l-.1 .2l-1.4 1.8l-.6 1.6l-.2 .4l-1.3 2l-.5 .6v-.6v-2l-2-2v-2v-2v-2l2-2l-2-2v-2l-2-2v-2v-2l-.1-.1l.1-.1l2-1.7l.1-.1l1.3-2l.2-2l-.4-2l.1-2l.7-1.7l.4-.3l1.6-1.9zM18 81.7l-.6 .3l.6 .1l.1-.1zM107.8 65.8l.2 .2v2v2l2 2v2v2l2 2h.6l.5 2l.9 1.8l.1 .2l-.1 2h-2l-2 2l2 2l-1 2l-.7 2l.5 2l.2 2l-1 .9l-2 1l-.4 .1l-1.6 .2l-2-.2l-2-1.6l-.6-.4l-.6-.8l1.2-1.2v-2l-2-2l-2-2h-2h-2h-2h-2l-2-2l-.2-.2h.2l2-.1l1.6-1.7l.2-2l.2-2v-.2l.3-1.8l.9-2l.8-1l1.6-1h.4l.4-.4l1.6-.4l2-.2l2-.3l1.4-.7l.6-.3l2-1.6l.2-.1l1.6-2v-2zM96 77.1l-.7 .9l.7 1.5l2-.2l.5-1.3l-.5-.3zM296.7 68l1.3-.3l.8 .3l1.2 1l.4 1l.2 2l.6 2l.8 1.6l.2 .4h-.2h-2h-2l-2-2l-2-2l-2-2l-.9-.9l.9-.1l2-.3l2-.6zM242.2 74l1.8-.4l1.3 .4l.7 .9l.3 1.1l.5 2l.4 2l.5 2l.3 .5l2 1l2-.3l2-.3l2 .1l2 .6l.5 .4l1.5 .8l1.2 1.2l.8 .7l.9 1.3l1.1 1.7l.2 .3l1.3 2l.4 2l.1 .1l2 1.7l1 .2l1 .2l1.2-.2l.8-.3l1.7-1.7l.1-2l.2-2h.1l1.9 1.8v.2v2l-2 2v2v2h-2h-.7l-1.3-.4l-2-1.1l-.4-.5l-1.6-1.7l-.1-.3l-.8-2l-.7-2l-.4-.6l-.7-1.4l-1.3-1.8l-.2-.2l-1.8-1.8l-.4-.2l-1.6-.9l-2-.4l-2 .3l-1.7 1l-.3 .3l-1.2 1.7l-.5 2l-.3 .4h-2l-.3-.4l-.1-2l-.2-2l-1.1-2l-.3-.5l-.8-1.5l-.7-2l-.5-1l-.9-1l-1.1-.8l-2-.3l-2 .3l-1.7 .5l1.7-1.7l-.7-.7l.7-.2l2-.6l2-.5z"/><path fill="#d83228" stroke="#d83228" d="M232 6l2-2h2h2l-2 1.1l-1.2 .9l-.8 .5l-1.7 1.5l-.3 .2l-2 .2l-1.8-.4l-.2-.1l-2-.8l-2-1h-.1l.1-.1h2h2h2zM234.7 44l1.3-1.4l2 .5l.7 .9l.9 2l.4 1.5l.1 .5l-.1 .3l-.3 1.7l-1.7 1.4l-2-.6l-.5-.8l-.4-2l-.3-2zM238 48.7l-.6 1.3l.6 .3l.3-.3zM74.8 58l1.2-.7l2-.5h2l2 .1l2-.3l2-.1l2 .3l2 .7l.8 .5l1.2 .9l1.4 1.1l.6 .5l2 1.1l.6-.2l-.6 .6l-2 2v.1v-.1l-2-1.9v-.1l-1.8-2l-.2-.2l-2-1.2l-2-.3l-2 .4l-2 .9l-1.1 .4l-.9 .8l-1.2 1.2l-.6 2l.1 2h-.3v-2l-2-2h-2l-.8 .8l-.1-.8l.3-2l.6-1.1zM237.7 58l.3-.3l2-1l2-.3v1.6l1.1 1.1l-1.1-.2l-2 .6l-1 .5l-1 .5l-2 .9l-1.4 .6l-.6 .2l-2 .4l-2 .1l-2 .1l-2 .3l-2 .1l-2-.5l-2 1l-.4 .3l-.6 1l-1-1h-.3l.3-.3l2-1.2l.8-.5l1.2-.2l1.2 .2l.8 .3l2 .1l2-.3l.5-.1l1.5-.2l2-.3l2-.8l1.2-.7l.8-.7zM100 62l-1-1l1-.2h2l2 .7l.9 .5l1.1 .9v1.1l1.8 1.8v.2v2l-1.6 2l-.2 .1l-2 1.6l-.6 .3l-1.4 .7l-2 .3l-2 .2l-1.6 .4l1.6-1.6v-2l2-2h.3l1.7-.1l2-.9l.7-1l-.2-2l-.5-.5l-2-.3l-2 .8zM247.1 60h.9h2l2 2v2h-.2l-1.4-2l-.4-.4l-2-1.3zM243.3 70l.7-.4l2-.3l2 .5l.4 .2l1.6 1.8l.1 .2l.6 2l.4 2l.8 2l.1 .1l2 1.5l.7 .4l1.3 .4l2 1.1l.6 .5l1.4 .9l1 1.1l1 1l.7 1l1.3 2l1.4 2l.6 1l1.5 1l.5 .6l1.9-.6h.1l1.6-2l.4-.3l2-1.5l1.2-.2l.8-.2l2-.3v.5l-2 2v1.8l-1.9-1.8h-.1l-.2 2l-.1 2l-1.7 1.7l-.8 .3l-1.2 .2l-1-.2l-1-.2l-2-1.7l-.1-.1l-.4-2l-1.3-2l-.2-.3l-1.1-1.7l-.9-1.3l-.8-.7l-1.2-1.2l-1.5-.8l-.5-.4l-2-.6l-2-.1l-2 .3l-2 .3l-2-1l-.3-.5l-.5-2l-.4-2l-.5-2l-.3-1.1l-.7-.9l-1.3-.4l-1.8 .4h-.2l-2 .5l-2 .6l-.7 .2l-1.3-1.3l-.4-.4l.4-.1l2-.9l1.4-.6l.6-.3l2-1.1zM80 74v-.5l.1 .5l.5 2l.2 .8l-.8-.8zM89.3 76l.7-1.3l.2-.5l1.8 1.8l2-2h1.6l-1.6 1l-.8 1l-.9 2l-.3 1.8v.2l-.2 2l-.2 2l-1.6 1.7l-2 .1h-.2l-1.8-1.8l-2-2l-2-2v-1l1.1 1l.9 .5h2l.9-.5l1.1-1l.6-1zM17.4 82l.6-.3l.1 .3l-.1 .1z"/><path fill="#cd2727" stroke="#cd2727" d="M237.4 50l.6-1.3l.3 1.3l-.3 .3zM80.9 60l1.1-.4l2-.9l2-.4l2 .3l2 1.2l.2 .2l1.8 2v.1l2 1.9v.1v1.9v2v2l-2 2l-2 2l.2 .2l-.2 .5l-.7 1.3l-.7 2l-.6 1l-1.1 1l-.9 .5h-2l-.9-.5l-1.1-1v-1l-1.2-1.2l-.2-.8l-.5-2l-.1-.5v-1.5l2-2v-2l-2-2h-1.7l-.1-2l.6-2l1.2-1.2zM84 61.5l-.5 .5l-.1 2l.6 .9l1.5 1.1l.5 .4l2 .3l.2-.7l.6-2l-.2-2l-.6-.7l-2-1.1zM239 60l1-.5l2-.6l1.1 .2l.9 .9h2h1.1l.9 .3l2 1.3l.4 .4l1.4 2h-1.8l-2 2l2 2h2h2h2l2 2l2 2h2l1.1 1.1l-1.1 .2l-2 .7l-1.5 2l.5 2l1 1.6l.1 .4l1.3 2l.6 .7l.8 1.3l1.2 1.7l.2 .3l1 2l.8 1.2l2 .7l2-.8l1.3-1.1l.7-.4l2-1.2l.8-.4l1.2-1.2l1-.8l.9-2h.1v2v2v1.5l-2 .3l-.8 .2l-1.2 .2l-2 1.5l-.4 .3l-1.6 2h-.1l-1.9 .6l-.5-.6l-1.5-1l-.6-1l-1.4-2l-1.3-2l-.7-1l-1-1l-1-1.1l-1.4-.9l-.6-.5l-2-1.1l-1.3-.4l-.7-.4l-2-1.5l-.1-.1l-.8-2l-.4-2l-.6-2l-.1-.2l-1.6-1.8l-.4-.2l-2-.5l-2 .3l-.7 .4l-1.3 .6l-2 1.1l-.6 .3l-1.4 .6l-2 .9l-.4 .1l-1.6-1.6l-.1-.1h.1l2-1l1.5-.9l.5-.5l1.7-1.5l.1-.2l.2 .2h2l2-2l-2-2l-2-.4l-2-.1h-2l-2 .1l-2 .2l-2-.1l-2-.2l-2 .4l-1.3 .1l-.7 .2l-2 .3l-1.4 1.5h-.6l-1-1l.6-1l.4-.3l2-1l2 .5l2-.1l2-.3l2-.1l2-.1l2-.4l.6-.2l1.4-.6l2-.9zM100 64l2-.8l2 .3l.5 .5l.2 2l-.7 1l-2 .9l-1.7 .1h-.3v-2z"/><path fill="#c21c27" stroke="#c21c27" d="M83.5 62l.5-.5l2-1.3l2 1.1l.6 .7l.2 2l-.6 2l-.2 .7l-2-.3l-.5-.4l-1.5-1.1l-.6-.9zM224.7 64l1.3-.1l2-.4l2 .2l2 .1l2-.2l2-.1h2l2 .1l2 .4h-2l-2 2l1.8 1.8l-.1 .2l-1.7 1.5l-.5 .5l-1.5 .9l-2 1h-.1l-1.9-1.9l-.3-.3l.3-.1l2-.9l.9-.7l.4-2l-1.3-.5l-2 .1l-2-.4l-2-.5l-2 .9l-1.3 .4h-.7h-2h-1.4l1.4-1.5l2-.3zM260 74l2-.7l1.1-.2l.9 .9l2 2l.8 .8l-.8 .1l-2 1.1l-.6 2l.3 2l.3 .5l.9 1.5l1.1 1.9l.1 .1l1.9 1.3l2-.8l1.3-.5l.7-.4l1.4-1.6l.3-2l-.6-2h.9l2 2h1.9l-.9 2l-1 .8l-1.2 1.2l-.8 .4l-2 1.2l-.7 .4l-1.3 1.1l-2 .8l-2-.7l-.8-1.2l-1-2l-.2-.3l-1.2-1.7l-.8-1.3l-.6-.7l-1.3-2l-.1-.4l-1-1.6l-.5-2z"/><path fill="#b61126" stroke="#b61126" d="M224.7 66l1.3-.4l2-.9l2 .5l2 .4l2-.1l1.3 .5l-.4 2l-.9 .7l-2 .9l-.3 .1l-1.7-1.7h-2l-2-2zM264 78l2-1.1l.8-.1l1.2 1.2h2l2 2h1.1l.6 2l-.3 2l-1.4 1.6l-.7 .4l-1.3 .5l-2 .8l-1.9-1.3l-.1-.1l-1.1-1.9l-.9-1.5l-.3-.5l-.3-2l.6-2z"/></g></g><path d="M232.3 7.2h1.6v1.4h-1.6zm2.6 0h1.6v1.4h-1.6zm2.5 0h1.6v1.4h-1.6zm2.6 0h1.6v1.4h-1.6zm2.6 0h1.6v1.4h-1.6zm2.5 0h1.6v1.4h-1.6zm2.6 0h1.6v1.4h-1.6zm2.5 0h1.6v1.4h-1.6zm5.2 0h1.6v1.4h-1.6zm2.5 0h1.6v1.4h-1.6zm2.6 0h1.6v1.4h-1.6zm2.6 0h1.6v1.4h-1.6zm2.5 0h1.6v1.4h-1.6zm2.6 0h1.6v1.4h-1.6zm2.5 0h1.6v1.4h-1.6zm2.6 0h1.6v1.4h-1.6zm2.6 0h1.6v1.4h-1.6zm2.5 0h1.6v1.4h-1.6zm2.6 0h1.6v1.4h-1.6zm2.5 0h1.6v1.4h-1.6zm2.6 0h1.6v1.4h-1.6zm2.6 0h1.6v1.4h-1.6zm2.5 0h1.6v1.4h-1.6zm2.6 0h1.6v1.4h-1.6zm-84.5 2.7h1.6v1.4h-1.6zm2.5 0h1.6v1.4h-1.6zm5.1 0h1.6v1.4h-1.6zm2.6 0h1.6v1.4h-1.6zm2.6 0h1.6v1.4h-1.6zm2.5 0h1.6v1.4h-1.6zm7.7 0h1.6v1.4h-1.6zm2.6 0h1.6v1.4h-1.6zm2.5 0h1.6v1.4h-1.6zm2.6 0h1.6v1.4h-1.6zm5.1 0h1.6v1.4h-1.6zm2.6 0h1.6v1.4h-1.6zm2.5 0h1.6v1.4h-1.6zm2.6 0h1.6v1.4h-1.6zm2.6 0h1.6v1.4h-1.6zm2.5 0h1.6v1.4h-1.6zm2.6 0h1.6v1.4h-1.6zm2.6 0h1.6v1.4h-1.6zm2.5 0h1.6v1.4h-1.6zm2.6 0h1.6v1.4h-1.6zm2.5 0h1.6v1.4h-1.6zm2.6 0h1.6v1.4h-1.6zm2.6 0h1.6v1.4h-1.6zm2.5 0h1.6v1.4h-1.6zm2.6 0h1.6v1.4h-1.6zm2.5 0h1.6v1.4h-1.6zm2.6 0h1.6v1.4h-1.6zm2.6 0h1.6v1.4h-1.6zm-79.4 2.6h1.6v1.4h-1.6zm2.5 0h1.6v1.4h-1.6zm17.9 0h1.6v1.4h-1.6zm2.6 0h1.6v1.4h-1.6zm2.6 0h1.6v1.4h-1.6zm2.5 0h1.6v1.4h-1.6zm38.5 0h1.6v1.4h-1.6zm2.5 0h1.6v1.4h-1.6zm2.6 0h1.6v1.4h-1.6zm2.5 0h1.6v1.4h-1.6zm2.6 0h1.6v1.4h-1.6zm2.6 0h1.6v1.4h-1.6zm-76.9 2.7h1.6v1.4h-1.6zm2.6 0h1.6v1.4h-1.6zm2.5 0h1.6v1.4h-1.6zm2.6 0h1.6v1.4h-1.6zm2.6 0h1.6v1.4h-1.6zm5.1 0h1.6v1.4h-1.6zm5.1 0h1.6v1.4h-1.6zm2.6 0h1.6v1.4h-1.6zm2.5 0h1.6v1.4h-1.6zm2.6 0h1.6v1.4h-1.6zm41 0h1.6v1.4h-1.6zm2.5 0h1.6v1.4h-1.6zm-156.2 2.6h1.6v1.4h-1.6zm2.5 0h1.6v1.4h-1.6zm2.6 0h1.6v1.4h-1.6zm2.6 0h1.6v1.4h-1.6zm2.5 0h1.6v1.4h-1.6zm2.6 0h1.6v1.4h-1.6zm2.6 0h1.6v1.4h-1.6zm2.5 0h1.6v1.4h-1.6zm2.6 0h1.6v1.4h-1.6zm76.8 0h1.6v1.4h-1.6zm2.6 0h1.6v1.4h-1.6zm7.7 0h1.6v1.4h-1.6zm-105.1 2.7h1.6v1.4h-1.6zm2.6 0h1.6v1.4h-1.6zm2.6 0h1.6v1.4h-1.6zm2.5 0h1.6v1.4h-1.6zm5.2 0h1.6v1.4h-1.6zm2.5 0h1.6v1.4h-1.6zm2.6 0h1.6v1.4h-1.6zm20.5 5.3h1.6v1.4h-1.6zm2.5 0h1.6v1.4h-1.6zm2.6 0h1.6v1.4h-1.6zm2.6 0h1.6v1.4h-1.6zm-5.2 2.6h1.6v1.4h-1.6zm20.5 0h1.6v1.4h-1.6zm2.6 0h1.6v1.4h-1.6zm2.5 0h1.6v1.4h-1.6zm2.6 0h1.6v1.4h-1.6zm-2.6 2.7h1.6v1.4h-1.6zm2.6 0h1.6v1.4h-1.6zm33.3 0h1.6v1.4h-1.6zm2.6 0h1.6v1.4h-1.6zm5.1 0h1.6v1.4h-1.6zm-41 2.6h1.6v1.4h-1.6zm33.3 0h1.6v1.4h-1.6zm2.6 0h1.6v1.4h-1.6zm2.5 0h1.6v1.4h-1.6zm2.6 0h1.6v1.4h-1.6zm-12.8 2.6h1.6v1.4h-1.6zm2.5 0h1.6v1.4h-1.6zm2.6 0h1.6v1.4h-1.6zm2.6 0h1.6v1.4h-1.6zm2.5 0h1.6v1.4h-1.6zm2.6 0h1.6v1.4h-1.6zm-12.8 2.7h1.6v1.4h-1.6zm2.5 0h1.6v1.4h-1.6zm2.6 0h1.6v1.4h-1.6zm2.6 0h1.6v1.4h-1.6zm2.5 0h1.6v1.4h-1.6zm2.6 0h1.6v1.4h-1.6zm2.6 0h1.6v1.4h-1.6zm-15.4 2.6h1.6v1.4h-1.6zm2.5 0h1.6v1.4h-1.6zm2.6 0h1.6v1.4h-1.6zm2.6 0h1.6v1.4h-1.6zm2.5 0h1.6v1.4h-1.6zm2.6 0h1.6v1.4h-1.6zm2.6 0h1.6v1.4h-1.6zm-15.4 2.7h1.6v1.4h-1.6zm2.5 0h1.6v1.4h-1.6zm2.6 0h1.6v1.4h-1.6zm2.6 0h1.6v1.4h-1.6zm2.5 0h1.6v1.4h-1.6zm2.6 0h1.6v1.4h-1.6zm2.6 0h1.6v1.4h-1.6zm-176.8 2.6h1.6v1.4h-1.6zm2.6 0h1.6v1.4h-1.6zm161.3 0h1.6v1.4h-1.6zm2.6 0h1.6v1.4h-1.6zm2.6 0h1.6v1.4h-1.6zm2.5 0h1.6v1.4h-1.6zm2.6 0h1.6v1.4h-1.6zm-210.1 2.7h1.6v1.4h-1.6zm2.6 0h1.6v1.4h-1.6zm28.2 0h1.6v1.4h-1.6zm2.5 0h1.6v1.4h-1.6zm2.6 0h1.6v1.4h-1.6zm2.6 0h1.6v1.4h-1.6zm2.5 0h1.6v1.4h-1.6zm2.6 0h1.6v1.4h-1.6zm2.5 0h1.6v1.4h-1.6zm2.6 0h1.6v1.4h-1.6zm2.6 0h1.6v1.4h-1.6zm151.1 0h1.6v1.4h-1.6zm2.6 0h1.6v1.4h-1.6zm2.5 0h1.6v1.4h-1.6zm-215.1 2.6h1.6v1.4h-1.6zm2.5 0h1.6v1.4h-1.6zm2.6 0h1.6v1.4h-1.6zm2.5 0h1.6v1.4h-1.6zm2.6 0h1.6v1.4h-1.6zm23.1 0h1.6v1.4h-1.6zm2.5 0h1.6v1.4h-1.6zm2.6 0h1.6v1.4h-1.6zm2.5 0h1.6v1.4h-1.6zm2.6 0h1.6v1.4h-1.6zm2.6 0h1.6v1.4h-1.6zm2.5 0h1.6v1.4h-1.6zm2.6 0h1.6v1.4h-1.6zm2.5 0h1.6v1.4h-1.6zm2.6 0h1.6v1.4h-1.6zm2.6 0h1.6v1.4h-1.6zm2.5 0h1.6v1.4h-1.6zm2.6 0h1.6v1.4h-1.6zm2.6 0h1.6v1.4h-1.6zm2.5 0h1.6v1.4h-1.6zm140.9 0h1.6v1.4h-1.6zm2.6 0h1.6v1.4h-1.6zm-228 2.7h1.6v1.4h-1.6zm2.5 0h1.6v1.4h-1.6zm10.3 0h1.6v1.4h-1.6zm2.6 0h1.6v1.4h-1.6zm2.5 0h1.6v1.4h-1.6zm2.6 0h1.6v1.4h-1.6zm2.5 0h1.6v1.4h-1.6zm2.6 0h1.6v1.4h-1.6zm12.8 0h1.6v1.4h-1.6zm2.6 0h1.6v1.4h-1.6zm2.5 0h1.6v1.4h-1.6zm2.6 0h1.6v1.4h-1.6zm2.6 0h1.6v1.4h-1.6zm2.5 0h1.6v1.4h-1.6zm2.6 0h1.6v1.4h-1.6zm2.5 0h1.6v1.4h-1.6zm2.6 0h1.6v1.4h-1.6zm2.6 0h1.6v1.4h-1.6zm2.5 0h1.6v1.4h-1.6zm2.6 0h1.6v1.4h-1.6zm2.5 0h1.6v1.4h-1.6zm2.6 0h1.6v1.4h-1.6zm2.6 0h1.6v1.4h-1.6zm2.5 0h1.6v1.4h-1.6zm2.6 0h1.6v1.4h-1.6zm2.6 0h1.6v1.4h-1.6zm2.5 0h1.6v1.4h-1.6zm2.6 0h1.6v1.4h-1.6zm2.5 0h1.6v1.4h-1.6zm2.6 0h1.6v1.4h-1.6zm2.6 0h1.6v1.4h-1.6zm135.7 0h1.6v1.4h-1.6zm-233.1 2.6h1.6v1.4h-1.6zm2.6 0h1.6v1.4h-1.6zm2.5 0h1.6v1.4h-1.6zm2.6 0h1.6v1.4h-1.6zm7.7 0h1.6v1.4h-1.6zm2.6 0h1.6v1.4h-1.6zm2.5 0h1.6v1.4h-1.6zm2.6 0h1.6v1.4h-1.6zm2.5 0h1.6v1.4h-1.6zm2.6 0h1.6v1.4h-1.6zm2.6 0h1.6v1.4h-1.6zm2.5 0h1.6v1.4h-1.6zm2.6 0h1.6v1.4h-1.6zm2.5 0h1.6v1.4h-1.6zm2.6 0h1.6v1.4h-1.6zm2.6 0h1.6v1.4h-1.6zm10.2 0h1.6v1.4h-1.6zm2.6 0h1.6v1.4h-1.6zm2.5 0h1.6v1.4h-1.6zm2.6 0h1.6v1.4h-1.6zm2.6 0h1.6v1.4h-1.6zm2.5 0h1.6v1.4h-1.6zm2.6 0h1.6v1.4h-1.6zm2.5 0h1.6v1.4h-1.6zm2.6 0h1.6v1.4h-1.6zm2.6 0h1.6v1.4h-1.6zm2.5 0h1.6v1.4h-1.6zm2.6 0h1.6v1.4h-1.6zm2.6 0h1.6v1.4h-1.6zm2.5 0h1.6v1.4h-1.6zm2.6 0h1.6v1.4h-1.6zm2.5 0h1.6v1.4h-1.6zm2.6 0h1.6v1.4h-1.6zm2.6 0h1.6v1.4h-1.6zm-99.9 2.7h1.6v1.4h-1.6zm2.5 0h1.6v1.4h-1.6zm2.6 0h1.6v1.4h-1.6zm2.5 0h1.6v1.4h-1.6zm2.6 0h1.6v1.4h-1.6zm2.6 0h1.6v1.4h-1.6zm2.5 0h1.6v1.4h-1.6zm2.6 0h1.6v1.4h-1.6zm2.6 0h1.6v1.4h-1.6zm7.6 0h1.6v1.4h-1.6zm2.6 0h1.6v1.4h-1.6zm2.6 0h1.6v1.4h-1.6zm2.5 0h1.6v1.4h-1.6zm2.6 0h1.6v1.4h-1.6zm2.5 0h1.6v1.4h-1.6zm2.6 0h1.6v1.4h-1.6zm2.6 0h1.6v1.4h-1.6zm12.8 0h1.6v1.4h-1.6zm2.5 0h1.6v1.4h-1.6zm2.6 0h1.6v1.4h-1.6zm2.6 0h1.6v1.4h-1.6zm2.5 0h1.6v1.4h-1.6zm2.6 0h1.6v1.4h-1.6zm5.1 0h1.6v1.4h-1.6zm2.6 0h1.6v1.4h-1.6zm2.5 0h1.6v1.4h-1.6zm2.6 0h1.6v1.4h-1.6zm2.6 0h1.6v1.4h-1.6zm2.5 0h1.6v1.4h-1.6zm2.6 0h1.6v1.4h-1.6zm146 0h1.6v1.4h-1.6zm66.6 0h1.6v1.4h-1.6zm-302.3 2.6h1.6v1.4h-1.6zm2.6 0h1.6v1.4h-1.6zm2.5 0h1.6v1.4h-1.6zm2.6 0h1.6v1.4h-1.6zm2.6 0h1.6v1.4h-1.6zm2.5 0h1.6v1.4h-1.6zm2.6 0h1.6v1.4h-1.6zm2.6 0h1.6v1.4h-1.6zm15.3 0h1.6v1.4h-1.6zm2.6 0h1.6v1.4h-1.6zm2.5 0h1.6v1.4h-1.6zm2.6 0h1.6v1.4h-1.6zm17.9 0h1.6v1.4h-1.6zm2.6 0h1.6v1.4h-1.6zm2.6 0h1.6v1.4h-1.6zm2.5 0h1.6v1.4h-1.6zm10.3 0h1.6v1.4h-1.6zm2.5 0h1.6v1.4h-1.6zm2.6 0h1.6v1.4h-1.6zm2.6 0h1.6v1.4h-1.6zm130.6 0h1.6v1.4h-1.6zm2.6 0h1.6v1.4h-1.6zm2.5 0h1.6v1.4h-1.6zm2.6 0h1.6v1.4h-1.6zm2.5 0h1.6v1.4h-1.6zm15.4 0h1.6v1.4h-1.6zm48.7 0h1.6v1.4h-1.6zm2.6 0h1.6v1.4h-1.6zm2.5 0h1.6v1.4h-1.6zm2.6 0h1.6v1.4h-1.6zm2.5 0h1.6v1.4h-1.6zm-299.7 2.6h1.6v1.4h-1.6zm2.6 0h1.6v1.4h-1.6zm2.5 0h1.6v1.4h-1.6zm2.6 0h1.6v1.4h-1.6zm2.6 0h1.6v1.4h-1.6zm2.5 0h1.6v1.4h-1.6zm2.6 0h1.6v1.4h-1.6zm2.6 0h1.6v1.4h-1.6zm10.2 0h1.6v1.4h-1.6zm5.1 0h1.6v1.4h-1.6zm2.6 0h1.6v1.4h-1.6zm23 0h1.6v1.4h-1.6zm2.6 0h1.6v1.4h-1.6zm17.9 0h1.6v1.4h-1.6zm2.6 0h1.6v1.4h-1.6zm2.6 0h1.6v1.4h-1.6zm2.5 0h1.6v1.4h-1.6zm138.3 0h1.6v1.4h-1.6zm2.6 0h1.6v1.4h-1.6zm2.6 0h1.6v1.4h-1.6zm56.3 0h1.6v1.4h-1.6zm2.6 0h1.6v1.4h-1.6zm2.6 0h1.6v1.4h-1.6zm2.5 0h1.6v1.4h-1.6zm2.6 0h1.6v1.4h-1.6zm2.5 0h1.6v1.4h-1.6zm-297.1 2.7h1.6v1.4h-1.6zm2.5 0h1.6v1.4h-1.6zm2.6 0h1.6v1.4h-1.6zm2.6 0h1.6v1.4h-1.6zm2.5 0h1.6v1.4h-1.6zm2.6 0h1.6v1.4h-1.6zm2.6 0h1.6v1.4h-1.6zm2.5 0h1.6v1.4h-1.6zm2.6 0h1.6v1.4h-1.6zm2.5 0h1.6v1.4h-1.6zm2.6 0h1.6v1.4h-1.6zm2.6 0h1.6v1.4h-1.6zm28.1 0h1.6v1.4h-1.6zm2.6 0h1.6v1.4h-1.6zm17.9 0h1.6v1.4h-1.6zm2.6 0h1.6v1.4h-1.6zm2.6 0h1.6v1.4h-1.6zm2.5 0h1.6v1.4h-1.6zm140.9 0h1.6v1.4h-1.6zm2.6 0h1.6v1.4h-1.6zm58.9 0h1.6v1.4h-1.6zm2.6 0h1.6v1.4h-1.6zm2.5 0h1.6v1.4h-1.6zm2.6 0h1.6v1.4h-1.6zm2.5 0h1.6v1.4h-1.6zm-304.8 2.6h1.6v1.4h-1.6zm2.6 0h1.6v1.4h-1.6zm2.5 0h1.6v1.4h-1.6zm2.6 0h1.6v1.4h-1.6zm2.5 0h1.6v1.4h-1.6zm2.6 0h1.6v1.4h-1.6zm2.6 0h1.6v1.4h-1.6zm2.5 0h1.6v1.4h-1.6zm2.6 0h1.6v1.4h-1.6zm2.6 0h1.6v1.4h-1.6zm2.5 0h1.6v1.4h-1.6zm2.6 0h1.6v1.4h-1.6zm2.5 0h1.6v1.4h-1.6zm2.6 0h1.6v1.4h-1.6zm2.6 0h1.6v1.4h-1.6zm2.5 0h1.6v1.4h-1.6zm2.6 0h1.6v1.4h-1.6zm25.6 0h1.6v1.4h-1.6zm17.9 0h1.6v1.4h-1.6zm5.2 0h1.6v1.4h-1.6zm17.9 0h1.6v1.4h-1.6zm130.6 0h1.6v1.4h-1.6zm2.6 0h1.6v1.4h-1.6zm2.6 0h1.6v1.4h-1.6zm2.5 0h1.6v1.4h-1.6zm2.6 0h1.6v1.4h-1.6zm2.5 0h1.6v1.4h-1.6zm2.6 0h1.6v1.4h-1.6zm43.6 0h1.6v1.4h-1.6zm2.5 0h1.6v1.4h-1.6zm2.6 0h1.6v1.4h-1.6zm2.5 0h1.6v1.4h-1.6zm2.6 0h1.6v1.4h-1.6zm-302.3 2.7h1.6v1.4h-1.6zm2.6 0h1.6v1.4h-1.6zm2.5 0h1.6v1.4h-1.6zm2.6 0h1.6v1.4h-1.6zm2.6 0h1.6v1.4h-1.6zm2.5 0h1.6v1.4h-1.6zm2.6 0h1.6v1.4h-1.6zm2.6 0h1.6v1.4h-1.6zm2.5 0h1.6v1.4h-1.6zm2.6 0h1.6v1.4h-1.6zm2.5 0h1.6v1.4h-1.6zm2.6 0h1.6v1.4h-1.6zm2.6 0h1.6v1.4h-1.6zm2.5 0h1.6v1.4h-1.6zm2.6 0h1.6v1.4h-1.6zm46.1 0h1.6v1.4h-1.6zm12.8 0h1.6v1.4h-1.6zm143.5 0h1.6v1.4h-1.6zm2.5 0h1.6v1.4h-1.6zm2.6 0h1.6v1.4h-1.6zm2.5 0h1.6v1.4h-1.6zm2.6 0h1.6v1.4h-1.6zm2.6 0h1.6v1.4h-1.6zm2.5 0h1.6v1.4h-1.6zm2.6 0h1.6v1.4h-1.6zm38.4 0h1.6v1.4h-1.6zm2.6 0h1.6v1.4h-1.6zm2.5 0h1.6v1.4h-1.6zm2.6 0h1.6v1.4h-1.6zm-297.2 2.6h1.6v1.4h-1.6zm2.6 0h1.6v1.4h-1.6zm2.6 0h1.6v1.4h-1.6zm2.5 0h1.6v1.4h-1.6zm2.6 0h1.6v1.4h-1.6zm2.6 0h1.6v1.4h-1.6zm2.5 0h1.6v1.4h-1.6zm2.6 0h1.6v1.4h-1.6zm2.5 0h1.6v1.4h-1.6zm2.6 0h1.6v1.4h-1.6zm2.6 0h1.6v1.4h-1.6zm2.5 0h1.6v1.4h-1.6zm46.1 0h1.6v1.4h-1.6zm2.6 0h1.6v1.4h-1.6zm10.2 0h1.6v1.4h-1.6zm2.6 0h1.6v1.4h-1.6zm143.5 0h1.6v1.4h-1.6zm2.5 0h1.6v1.4h-1.6zm2.6 0h1.6v1.4h-1.6zm2.5 0h1.6v1.4h-1.6zm2.6 0h1.6v1.4h-1.6zm2.6 0h1.6v1.4h-1.6zm2.5 0h1.6v1.4h-1.6zm2.6 0h1.6v1.4h-1.6zm2.6 0h1.6v1.4h-1.6zm-253.7 2.7h1.6v1.4h-1.6zm2.6 0h1.6v1.4h-1.6zm2.6 0h1.6v1.4h-1.6zm2.5 0h1.6v1.4h-1.6zm2.6 0h1.6v1.4h-1.6zm2.6 0h1.6v1.4h-1.6zm2.5 0h1.6v1.4h-1.6zm2.6 0h1.6v1.4h-1.6zm7.7 0h1.6v1.4h-1.6zm51.2 0h1.6v1.4h-1.6zm7.7 0h1.6v1.4h-1.6zm2.5 0h1.6v1.4h-1.6zm2.6 0h1.6v1.4h-1.6zm140.9 0h1.6v1.4h-1.6zm2.6 0h1.6v1.4h-1.6zm2.5 0h1.6v1.4h-1.6zm2.6 0h1.6v1.4h-1.6zm2.5 0h1.6v1.4h-1.6zm2.6 0h1.6v1.4h-1.6zm2.6 0h1.6v1.4h-1.6zm2.5 0h1.6v1.4h-1.6zm2.6 0h1.6v1.4h-1.6zm2.6 0h1.6v1.4h-1.6zm-253.7 2.6h1.6v1.4h-1.6zm2.6 0h1.6v1.4h-1.6zm2.6 0h1.6v1.4h-1.6zm2.5 0h1.6v1.4h-1.6zm2.6 0h1.6v1.4h-1.6zm2.6 0h1.6v1.4h-1.6zm2.5 0h1.6v1.4h-1.6zm2.6 0h1.6v1.4h-1.6zm5.1 0h1.6v1.4h-1.6zm53.8 0h1.6v1.4h-1.6zm2.6 0h1.6v1.4h-1.6zm12.8 0h1.6v1.4h-1.6zm7.7 0h1.6v1.4h-1.6zm5.1 0h1.6v1.4h-1.6zm2.5 0h1.6v1.4h-1.6zm2.6 0h1.6v1.4h-1.6zm117.8 0h1.6v1.4h-1.6zm2.6 0h1.6v1.4h-1.6zm2.6 0h1.6v1.4h-1.6zm2.5 0h1.6v1.4h-1.6zm2.6 0h1.6v1.4h-1.6zm2.5 0h1.6v1.4h-1.6zm2.6 0h1.6v1.4h-1.6zm2.6 0h1.6v1.4h-1.6zm2.5 0h1.6v1.4h-1.6zm2.6 0h1.6v1.4h-1.6zm2.6 0h1.6v1.4h-1.6zm2.5 0h1.6v1.4h-1.6zm2.6 0h1.6v1.4h-1.6zm2.5 0h1.6v1.4h-1.6zm2.6 0h1.6v1.4h-1.6zm-263.9 2.7h1.6v1.4h-1.6zm2.6 0h1.6v1.4h-1.6zm2.6 0h1.6v1.4h-1.6zm2.5 0h1.6v1.4h-1.6zm2.6 0h1.6v1.4h-1.6zm2.6 0h1.6v1.4h-1.6zm2.5 0h1.6v1.4h-1.6zm2.6 0h1.6v1.4h-1.6zm2.5 0h1.6v1.4h-1.6zm89.7 0h1.6v1.4h-1.6zm120.4 0h1.6v1.4h-1.6zm2.6 0h1.6v1.4h-1.6zm2.5 0h1.6v1.4h-1.6zm2.6 0h1.6v1.4h-1.6zm2.5 0h1.6v1.4h-1.6zm2.6 0h1.6v1.4h-1.6zm2.6 0h1.6v1.4h-1.6zm2.5 0h1.6v1.4h-1.6zm2.6 0h1.6v1.4h-1.6zm2.6 0h1.6v1.4h-1.6zm2.5 0h1.6v1.4h-1.6zm2.6 0h1.6v1.4h-1.6zm2.5 0h1.6v1.4h-1.6zm2.6 0h1.6v1.4h-1.6zm2.6 0h1.6v1.4h-1.6zm-263.9 2.6h1.6v1.4h-1.6zm2.6 0h1.6v1.4h-1.6zm2.5 0h1.6v1.4h-1.6zm2.6 0h1.6v1.4h-1.6zm2.6 0h1.6v1.4h-1.6zm2.5 0h1.6v1.4h-1.6zm2.6 0h1.6v1.4h-1.6zm2.5 0h1.6v1.4h-1.6zm2.6 0h1.6v1.4h-1.6zm69.2 0h1.6v1.4h-1.6zm140.9 0h1.6v1.4h-1.6zm2.5 0h1.6v1.4h-1.6zm2.6 0h1.6v1.4h-1.6zm2.5 0h1.6v1.4h-1.6zm2.6 0h1.6v1.4h-1.6zm2.6 0h1.6v1.4h-1.6zm2.5 0h1.6v1.4h-1.6zm2.6 0h1.6v1.4h-1.6zm2.6 0h1.6v1.4h-1.6zm2.5 0h1.6v1.4h-1.6zm2.6 0h1.6v1.4h-1.6zm2.5 0h1.6v1.4h-1.6zm2.6 0h1.6v1.4h-1.6zm2.6 0h1.6v1.4h-1.6zm-263.9 2.7h1.6v1.4h-1.6zm2.6 0h1.6v1.4h-1.6zm2.5 0h1.6v1.4h-1.6zm2.6 0h1.6v1.4h-1.6zm2.6 0h1.6v1.4h-1.6zm2.5 0h1.6v1.4h-1.6zm2.6 0h1.6v1.4h-1.6zm2.5 0h1.6v1.4h-1.6zm2.6 0h1.6v1.4h-1.6zm212.6 0h1.6v1.4h-1.6zm2.6 0h1.6v1.4h-1.6zm2.5 0h1.6v1.4h-1.6zm10.3 0h1.6v1.4h-1.6zm2.6 0h1.6v1.4h-1.6zm2.5 0h1.6v1.4h-1.6zm2.6 0h1.6v1.4h-1.6zm2.5 0h1.6v1.4h-1.6zm2.6 0h1.6v1.4h-1.6zm-263.9 2.6h1.6v1.4h-1.6zm2.6 0h1.6v1.4h-1.6zm2.6 0h1.6v1.4h-1.6zm2.5 0h1.6v1.4h-1.6zm2.6 0h1.6v1.4h-1.6zm2.6 0h1.6v1.4h-1.6zm2.5 0h1.6v1.4h-1.6zm2.6 0h1.6v1.4h-1.6zm2.5 0h1.6v1.4h-1.6zm76.9 0h1.6v1.4h-1.6zm2.6 0h1.6v1.4h-1.6zm2.5 0h1.6v1.4h-1.6zm2.6 0h1.6v1.4h-1.6zm7.7 0h1.6v1.4h-1.6zm125.5 0h1.6v1.4h-1.6zm2.5 0h1.6v1.4h-1.6zm12.9 0h1.6v1.4h-1.6zm2.5 0h1.6v1.4h-1.6zm2.6 0h1.6v1.4h-1.6zm2.5 0h1.6v1.4h-1.6zm-261.3 2.7h1.6v1.4h-1.6zm2.6 0h1.6v1.4h-1.6zm2.6 0h1.6v1.4h-1.6zm2.5 0h1.6v1.4h-1.6zm2.6 0h1.6v1.4h-1.6zm84.5 0h1.6v1.4h-1.6zm2.6 0h1.6v1.4h-1.6zm2.6 0h1.6v1.4h-1.6zm2.5 0h1.6v1.4h-1.6zm2.6 0h1.6v1.4h-1.6zm2.5 0h1.6v1.4h-1.6zm2.6 0h1.6v1.4h-1.6zm2.6 0h1.6v1.4h-1.6zm128 0h1.6v1.4h-1.6zm12.9 0h1.6v1.4h-1.6zm2.5 0h1.6v1.4h-1.6zm2.6 0h1.6v1.4h-1.6zm2.5 0h1.6v1.4h-1.6zm-258.7 2.6h1.6v1.4h-1.6zm2.6 0h1.6v1.4h-1.6zm2.5 0h1.6v1.4h-1.6zm2.6 0h1.6v1.4h-1.6zm82 0h1.6v1.4h-1.6zm2.5 0h1.6v1.4h-1.6zm2.6 0h1.6v1.4h-1.6zm2.6 0h1.6v1.4h-1.6zm2.5 0h1.6v1.4h-1.6zm2.6 0h1.6v1.4h-1.6zm2.5 0h1.6v1.4h-1.6zm2.6 0h1.6v1.4h-1.6zm2.6 0h1.6v1.4h-1.6zm2.5 0h1.6v1.4h-1.6zm138.4 0h1.6v1.4h-1.6zm2.5 0h1.6v1.4h-1.6zm2.6 0h1.6v1.4h-1.6zm2.5 0h1.6v1.4h-1.6zm-258.7 2.6h1.6v1.4h-1.6zm2.6 0h1.6v1.4h-1.6zm2.5 0h1.6v1.4h-1.6zm2.6 0h1.6v1.4h-1.6zm76.8 0h1.6v1.4h-1.6zm2.6 0h1.6v1.4h-1.6zm2.6 0h1.6v1.4h-1.6zm2.5 0h1.6v1.4h-1.6zm2.6 0h1.6v1.4h-1.6zm2.6 0h1.6v1.4h-1.6zm2.5 0h1.6v1.4h-1.6zm2.6 0h1.6v1.4h-1.6zm2.5 0h1.6v1.4h-1.6zm2.6 0h1.6v1.4h-1.6zm2.6 0h1.6v1.4h-1.6zm2.5 0h1.6v1.4h-1.6zm2.6 0h1.6v1.4h-1.6zm138.3 0h1.6v1.4h-1.6zm-251 2.7h1.6v1.4h-1.6zm2.5 0h1.6v1.4h-1.6zm2.6 0h1.6v1.4h-1.6zm2.6 0h1.6v1.4h-1.6zm2.5 0h1.6v1.4h-1.6zm71.7 0h1.6v1.4h-1.6zm2.6 0h1.6v1.4h-1.6zm2.6 0h1.6v1.4h-1.6zm2.5 0h1.6v1.4h-1.6zm2.6 0h1.6v1.4h-1.6zm2.6 0h1.6v1.4h-1.6zm2.5 0h1.6v1.4h-1.6zm2.6 0h1.6v1.4h-1.6zm2.5 0h1.6v1.4h-1.6zm2.6 0h1.6v1.4h-1.6zm2.6 0h1.6v1.4h-1.6zm2.5 0h1.6v1.4h-1.6zm2.6 0h1.6v1.4h-1.6zm2.5 0h1.6v1.4h-1.6zm-115.2 2.6h1.6v1.4h-1.6zm2.5 0h1.6v1.4h-1.6zm2.6 0h1.6v1.4h-1.6zm2.6 0h1.6v1.4h-1.6zm2.5 0h1.6v1.4h-1.6zm82 0h1.6v1.4h-1.6zm2.6 0h1.6v1.4h-1.6zm2.5 0h1.6v1.4h-1.6zm2.6 0h1.6v1.4h-1.6zm2.5 0h1.6v1.4h-1.6zm2.6 0h1.6v1.4h-1.6zm2.6 0h1.6v1.4h-1.6zm2.5 0h1.6v1.4h-1.6zm2.6 0h1.6v1.4h-1.6zm2.5 0h1.6v1.4h-1.6zm-115.2 2.7h1.6v1.4h-1.6zm2.5 0h1.6v1.4h-1.6zm2.6 0h1.6v1.4h-1.6zm2.6 0h1.6v1.4h-1.6zm102.4 0h1.6v1.4h-1.6zm2.6 0h1.6v1.4h-1.6z" fill="#2a0a06" fill-opacity="0.7"/><use href="#land" fill="none" stroke="#1a1a1a" stroke-width="0.45"/><path d="M172.1 60.0h1v1h-1zM170.7 59.5h1v1h-1zM173.4 60.5h1v1h-1zM134.6 72.8h1v1h-1zM129.1 72.4h1v1h-1zM172.5 77.2h1v1h-1zM152.5 86.4h1v1h-1zM159.9 90.9h1v1h-1zM161.1 91.5h1v1h-1zM143.2 94.5h1v1h-1zM142.0 92.5h1v1h-1zM142.3 93.3h1v1h-1zM144.1 96.1h1v1h-1zM136.1 87.3h1v1h-1zM135.3 86.2h1v1h-1zM137.4 88.1h1v1h-1zM187.4 86.8h1v1h-1zM188.2 87.5h1v1h-1zM108.7 55.5h1v1h-1zM120.9 55.0h1v1h-1zM61.3 85.3h1v1h-1zM46.8 82.9h1v1h-1zM36.5 89.2h1v1h-1zM37.4 89.6h1v1h-1zM38.0 90.2h1v1h-1zM251.7 50.4h1v1h-1zM276.2 126.8h1v1h-1zM275.3 126.6h1v1h-1zM20.8 47.8h1v1h-1zM27.8 48.0h1v1h-1zM158.3 32.8h1v1h-1zM155.8 33.2h1v1h-1zM161.7 32.3h1v1h-1zM149.8 81.1h1v1h-1zM150.9 84.3h1v1h-1zM152.1 85.5h1v1h-1zM150.0 83.9h1v1h-1zM160.5 81.5h1v1h-1zM157.9 82.8h1v1h-1zM160.7 87.0h1v1h-1zM172.6 77.2h1v1h-1zM170.8 75.4h1v1h-1zM169.9 74.7h1v1h-1zM168.6 73.7h1v1h-1zM173.8 82.4h1v1h-1zM177.3 88.9h1v1h-1zM178.6 87.7h1v1h-1zM172.0 86.8h1v1h-1zM169.4 88.1h1v1h-1zM165.3 88.5h1v1h-1zM180.9 92.1h1v1h-1zM187.3 86.7h1v1h-1zM187.8 86.7h1v1h-1zM188.3 88.1h1v1h-1zM122.3 72.4h1v1h-1zM124.2 72.3h1v1h-1zM127.2 71.4h1v1h-1zM130.7 74.0h1v1h-1zM131.9 75.5h1v1h-1zM133.8 72.7h1v1h-1zM120.2 57.0h1v1h-1zM120.8 55.4h1v1h-1zM111.5 56.1h1v1h-1zM107.8 55.7h1v1h-1zM109.1 55.1h1v1h-1zM170.1 59.6h1v1h-1zM168.7 58.6h1v1h-1zM166.3 58.1h1v1h-1zM164.9 57.9h1v1h-1zM160.3 56.1h1v1h-1zM156.8 54.4h1v1h-1zM155.4 54.0h1v1h-1zM141.8 61.9h1v1h-1zM131.0 57.4h1v1h-1zM143.0 93.2h1v1h-1zM142.6 91.5h1v1h-1zM141.8 90.9h1v1h-1zM141.1 88.3h1v1h-1zM142.1 87.5h1v1h-1zM136.0 89.1h1v1h-1zM137.8 88.1h1v1h-1zM134.6 85.5h1v1h-1zM136.5 86.3h1v1h-1zM137.0 87.3h1v1h-1zM156.2 90.6h1v1h-1zM154.8 91.5h1v1h-1zM150.8 89.9h1v1h-1zM31.8 120.2h1v1h-1zM284.4 130.4h1v1h-1zM39.0 87.2h1v1h-1zM39.9 89.1h1v1h-1zM47.8 88.1h1v1h-1zM212.2 62.3h1v1h-1zM209.0 62.7h1v1h-1z" fill="#f5784d" fill-opacity="0.6"/><path d="M123.1 67.0h1v1h-1zM123.9 65.5h1v1h-1zM114.3 72.4h1v1h-1zM117.4 70.5h1v1h-1zM145.7 72.6h1v1h-1zM142.7 71.2h1v1h-1zM147.2 77.6h1v1h-1zM147.1 76.1h1v1h-1zM229.2 79.4h1v1h-1zM229.8 79.4h1v1h-1zM230.5 79.7h1v1h-1zM228.9 78.8h1v1h-1zM105.2 57.4h1v1h-1zM123.7 63.0h1v1h-1zM62.3 75.2h1v1h-1zM61.8 78.9h1v1h-1zM286.7 65.7h1v1h-1zM286.2 64.2h1v1h-1zM287.3 64.8h1v1h-1zM6.9 75.8h1v1h-1zM141.2 69.0h1v1h-1zM143.8 70.5h1v1h-1zM145.5 73.7h1v1h-1zM143.6 72.4h1v1h-1zM140.8 70.8h1v1h-1zM137.8 68.8h1v1h-1zM146.8 78.7h1v1h-1zM148.5 79.9h1v1h-1zM119.5 70.2h1v1h-1zM136.7 73.1h1v1h-1zM138.7 74.2h1v1h-1zM123.5 66.4h1v1h-1zM124.0 64.2h1v1h-1zM123.9 62.3h1v1h-1zM123.6 61.2h1v1h-1zM105.6 57.4h1v1h-1zM82.2 89.6h1v1h-1zM298.4 114.4h1v1h-1zM296.4 111.6h1v1h-1zM44.8 67.9h1v1h-1zM61.2 70.1h1v1h-1zM61.8 71.6h1v1h-1zM61.7 69.0h1v1h-1zM62.2 77.1h1v1h-1zM61.9 72.9h1v1h-1z" fill="#e95638" fill-opacity="0.6"/><path d="M157.3 97.6h1v1h-1zM158.3 95.3h1v1h-1zM151.5 94.6h1v1h-1zM152.6 93.5h1v1h-1zM151.1 94.4h1v1h-1zM134.0 85.9h1v1h-1zM133.5 85.0h1v1h-1zM179.2 94.4h1v1h-1zM177.5 93.6h1v1h-1zM183.1 93.0h1v1h-1zM185.6 94.3h1v1h-1zM190.8 98.3h1v1h-1zM170.4 97.6h1v1h-1zM213.5 102.8h1v1h-1zM141.6 98.3h1v1h-1zM143.0 97.6h1v1h-1zM142.5 97.2h1v1h-1zM125.0 80.6h1v1h-1zM127.6 87.3h1v1h-1zM128.4 87.5h1v1h-1zM130.6 89.0h1v1h-1zM110.1 53.9h1v1h-1zM110.9 52.1h1v1h-1zM46.9 97.5h1v1h-1zM48.7 96.8h1v1h-1zM285.1 45.5h1v1h-1zM283.0 44.9h1v1h-1zM292.5 50.0h1v1h-1zM292.8 53.9h1v1h-1zM293.6 54.2h1v1h-1zM295.3 53.3h1v1h-1zM294.9 53.8h1v1h-1zM291.6 53.6h1v1h-1zM59.3 122.4h1v1h-1zM58.4 122.3h1v1h-1zM11.6 45.8h1v1h-1zM20.0 47.7h1v1h-1zM153.4 93.4h1v1h-1zM15.7 13.2h1v1h-1zM299.6 16.3h1v1h-1zM140.8 30.4h1v1h-1zM141.4 30.2h1v1h-1zM151.5 33.1h1v1h-1zM147.2 32.2h1v1h-1zM167.5 94.8h1v1h-1zM172.1 96.3h1v1h-1zM172.6 96.7h1v1h-1zM161.8 95.6h1v1h-1zM176.9 93.4h1v1h-1zM178.0 93.7h1v1h-1zM180.5 94.4h1v1h-1zM182.7 92.8h1v1h-1zM183.7 93.6h1v1h-1zM184.8 93.5h1v1h-1zM186.5 94.8h1v1h-1zM186.8 95.2h1v1h-1zM188.4 97.2h1v1h-1zM188.7 97.8h1v1h-1zM191.6 99.3h1v1h-1zM179.3 99.5h1v1h-1zM180.8 100.0h1v1h-1zM177.6 98.7h1v1h-1zM183.7 103.2h1v1h-1zM195.8 101.0h1v1h-1zM142.9 104.5h1v1h-1zM135.4 106.7h1v1h-1zM154.9 104.6h1v1h-1zM144.5 96.7h1v1h-1zM133.6 85.3h1v1h-1zM132.3 84.2h1v1h-1zM131.4 83.5h1v1h-1zM158.4 92.9h1v1h-1zM157.5 96.3h1v1h-1zM158.1 96.3h1v1h-1zM157.4 97.5h1v1h-1zM154.5 94.8h1v1h-1zM153.1 93.2h1v1h-1zM151.8 95.5h1v1h-1zM65.7 112.2h1v1h-1zM43.6 119.8h1v1h-1zM46.0 92.9h1v1h-1zM53.6 96.3h1v1h-1zM216.9 102.3h1v1h-1z" fill="#fabc86" fill-opacity="0.6"/><path d="M110.5 85.9h1v1h-1zM111.8 85.7h1v1h-1zM114.3 84.3h1v1h-1zM108.3 78.2h1v1h-1zM106.7 75.8h1v1h-1zM107.8 75.1h1v1h-1zM102.8 60.8h1v1h-1zM5.1 78.6h1v1h-1zM302.0 92.9h1v1h-1zM294.6 85.8h1v1h-1zM254.4 64.6h1v1h-1zM254.8 66.0h1v1h-1zM254.5 65.3h1v1h-1zM253.3 63.6h1v1h-1zM251.6 63.3h1v1h-1zM79.6 72.5h1v1h-1zM89.8 88.1h1v1h-1zM281.9 97.0h1v1h-1zM213.8 69.8h1v1h-1z" fill="#db392b" fill-opacity="0.6"/><path d="M254.6 67.2h1v1h-1zM254.2 68.2h1v1h-1zM256.1 67.2h1v1h-1zM248.1 68.1h1v1h-1zM247.1 67.9h1v1h-1zM237.5 61.9h1v1h-1zM78.7 67.9h1v1h-1zM78.8 68.7h1v1h-1zM279.2 82.3h1v1h-1zM232.6 74.0h1v1h-1zM237.2 67.9h1v1h-1z" fill="#c82127" fill-opacity="0.6"/><path d="M301.1 24.2h1v1h-1zM305.8 25.7h1v1h-1zM304.3 26.8h1v1h-1zM300.9 28.2h1v1h-1zM301.5 27.5h1v1h-1zM7.2 41.7h1v1h-1zM7.3 43.6h1v1h-1zM2.0 44.0h1v1h-1zM132.3 34.6h1v1h-1zM129.7 37.0h1v1h-1zM127.2 38.5h1v1h-1zM125.4 39.2h1v1h-1zM156.4 117.7h1v1h-1zM144.0 125.2h1v1h-1zM141.2 123.6h1v1h-1zM135.2 127.0h1v1h-1zM152.2 122.7h1v1h-1zM239.5 108.5h1v1h-1zM237.9 108.7h1v1h-1zM238.5 102.1h1v1h-1zM205.9 53.3h1v1h-1z" fill="#ffffbf" fill-opacity="0.6"/></g></g><rect x="29.3" y="4.4" width="307.4" height="132.3" fill="none" stroke="#333" stroke-width="0.8"/><path d="M26.1 4.40H29.3" stroke="#333" stroke-width="0.7"/><text x="24.1" y="7.40" text-anchor="end" font-size="7">90°N</text><path d="M26.1 30.86H29.3" stroke="#333" stroke-width="0.7"/><text x="24.1" y="33.86" text-anchor="end" font-size="7">60°N</text><path d="M26.1 57.32H29.3" stroke="#333" stroke-width="0.7"/><text x="24.1" y="60.32" text-anchor="end" font-size="7">30°N</text><path d="M26.1 83.78H29.3" stroke="#333" stroke-width="0.7"/><text x="24.1" y="86.78" text-anchor="end" font-size="7">0°S</text><path d="M26.1 110.24H29.3" stroke="#333" stroke-width="0.7"/><text x="24.1" y="113.24" text-anchor="end" font-size="7">30°S</text><path d="M26.1 136.70H29.3" stroke="#333" stroke-width="0.7"/><text x="24.1" y="139.70" text-anchor="end" font-size="7">60°S</text><path d="M29.30 136.70000000000002v3.2" stroke="#333" stroke-width="0.7"/><text x="29.30" y="147.40" text-anchor="middle" font-size="7">0°</text><path d="M106.15 136.70000000000002v3.2" stroke="#333" stroke-width="0.7"/><text x="106.15" y="147.40" text-anchor="middle" font-size="7">90°E</text><path d="M183.00 136.70000000000002v3.2" stroke="#333" stroke-width="0.7"/><text x="183.00" y="147.40" text-anchor="middle" font-size="7">180°</text><path d="M259.85 136.70000000000002v3.2" stroke="#333" stroke-width="0.7"/><text x="259.85" y="147.40" text-anchor="middle" font-size="7">90°W</text><path d="M336.70 136.70000000000002v3.2" stroke="#333" stroke-width="0.7"/><text x="336.70" y="147.40" text-anchor="middle" font-size="7">0°</text><text x="37.3" y="132.8" font-size="9.1">n = 88</text><g transform="translate(375.0,4.4)"><g clip-path="url(#cax)"><g clip-path="url(#cland)"><g stroke-width="0.6" filter="url(#bl)"><path fill="#384ca0" stroke="#384ca0" d="M223.6 50l.4-.3l.9 .3l-.7 2h-.2h-.1z"/><path fill="#3d5aa7" stroke="#3d5aa7" d="M133.4 32l.6-1.2l1.4 1.2l-1.4 .8zM222.6 50l1.4-1.4l2 .8l.5 .6l-.4 2l-.1 .1l-2 .3l-1.1-.4zM224 49.7l-.4 .3l.3 2h.1h.2l.7-2z"/><path fill="#4169ae" stroke="#4169ae" d="M51.1 12l.9-.7h2l1.8 .7l.2 2l-2 1.4l-2 .5l-1.7-1.9zM61.9 13.9l.1 .1h2h.6l1.4 1.4l.2 .6l-.2 .3l-2 1.2l-1.9-1.5l-.1-1.2l-.1-.8zM133.7 30l.3-.2l.8 .2l1.2 1l.3 1l-.3 .7l-2 1.2l-1.5-1.9zM134 30.8l-.6 1.2l.6 .8l1.4-.8zM63.7 36l.3-.2l1.6 .2l-1.6 .7zM223.2 48l.8-.3l.9 .3l1.1 .5l1.5 1.5l-.8 2l-.7 .4l-2 .4l-2-.8h-.1l-.5-2l.6-1zM224 48.6l-1.4 1.4l.3 2l1.1 .4l2-.3l.1-.1l.4-2l-.5-.6zM11 84l1-.2l.8 .2v2l-.8 .4l-1.3-.4zM148.9 114l1.1-.6l.5 .6l-.5 1.9z"/><path fill="#4777b5" stroke="#4777b5" d="M53.7 8l.3-.3l1.3-.4l.7 .7l2 2h2v2l1.9 1.9v.1l.1 .8l.1 1.2l1.9 1.5l2-1.2l.2-.3l-.2-.6l-1.4-1.4h1.4l2-2h1.9l.1 .2l1.7 1.8l.3 .7l1.4 1.3l-1.4 1l-1.2 1l-.8 .2l-2 .9l-2 .8l-.6 .1l-1.4 .2l-1.7-.2h-.3l-2-.6l-2-.4l-2 .1l-2 .3l-2 .3l-1.9 .3h-.1h-.2l-1.8-.3l-1.4-1.7l.4-2l.6-2l.4-.6l.7-1.4l1.3-1.4l.8-.6l1.2-1.1zM52 11.3l-.9 .7l-.8 2l1.7 1.9l2-.5l2-1.4l-.2-2l-1.8-.7zM133.1 30l.9-.5l2 .4l.1 .1l.6 2l-.7 1.6l-.6 .4l-1.4 .7l-2-.5v-.2l-.1-.1l-.3-1.9l.4-.4zM134 29.8l-.3 .2l-1.2 2l1.5 1.9l2-1.2l.3-.7l-.3-1l-1.2-1zM61.9 34h.1l2-.4l2 .1l1.2 .3l.8 .3l2 .8l2 .6l1.1 .3l.9 .4l2 1.4l.1 .2l.5 2l-.6 2l-2 2l-1.8 2l-.2 .2l-2 .2l-1.1-.4l.1-2l-.5-2l-.5-.5l-2-.9l-2-.4l-.7-.2l-1.3-.6l-1.4-1.4l-.5-2zM64 35.8l-.3 .2l.3 .7l1.6-.7zM120.3 34l1.7-.3l.6 .3l.7 2l-.8 2l-.5 .6h-2l-.6-.6l-.1-2l.7-1.7zM221.4 48l.6-.6l2-.5l2 .6l.5 .5l1.5 1.6l.3 .4l-.3 .6l-.6 1.4l-1.4 .8l-2 .4l-2-.7l-1.1-.5l-.6-2zM224 47.7l-.8 .3l-1.2 1l-.6 1l.5 2h.1l2 .8l2-.4l.7-.4l.8-2l-1.5-1.5l-1.1-.5zM9.7 84l.3-.3l2-.3l2 .5l.1 .1v2l-.1 .2l-2 1l-2-.4l-.5-.8zM12 83.8l-1 .2l-.3 2l1.3 .4l.8-.4v-2zM148.8 112l1.2-.2l.5 .2l1.5 1.6l.4 .4l.2 1.4l-.6 .6l-2 2l-1.1 1.1l-.9-.4l-.4-.7l-.4-2l.1-2l.7-1.5zM150 113.4l-1.1 .6l1.1 1.9l.5-1.9z"/><path fill="#5284bc" stroke="#5284bc" d="M11.7 6.3l.3-.3h2h2h2h2h.1l-.1 .1l-2 1l-2 .8l-2-.2l-2-1zM51.5 6h.5h2l1.3 1.3l-1.3 .4l-.3 .3l-1.7 .9l-1.2 1.1l-.8 .6l-1.3 1.4l-.7 1.4l-.4 .6l-.6 2l-.4 2l1.4 1.7l1.8 .3h.2h.1l1.9-.3l2-.3l2-.3l2-.1l2 .4l2 .6h.3l1.7 .2l1.4-.2l.6-.1l2-.8l2-.9l.8-.2l1.2-1l1.4-1l-1.4-1.3l-.3-.7l-1.7-1.8l-.1-.2h.1h2l1.2-1.2l.8 .6l.8 .6l1.2 1l1.6 1l.4 .4l2 1.2l1.4 .4l.5 2l-1.9 1.2l-1.4 .8l-.6 .3l-2 .8l-2 .3h-2l-2 .1l-2 .4l-.4 .1l-1.6 .4l-2 .2l-2 .1l-2-.3l-2-.3h-2l-2 .3l-2 .1l-2 .3l-2 .7l-1.1 .5l-.9 .5l-2 .4l-2-.7l-.2-.2l-1.5-2l-.3-1.8v-.2l2-1.5l.5-.5l1.3-2l.2-.5l.9-1.5l1.1-1.6l.3-.4l1.7-1.6l.4-.4l1.6-1.8l.2-.2zM132.5 30l1.5-.9l2 .3l.6 .6l.4 2l-.6 1.6l-.4 .4l-.9 .9l-1.1 .5h-2v-1.2l2 .5l1.4-.7l.6-.4l.7-1.6l-.6-2l-.1-.1l-2-.4l-.9 .5l-1.1 1.6l-.4 .4l.3 1.9l-1.1-1.1l-.1-.8l1.3-1.3zM61 32l1-.2l2 .1h2l1.3 .1h.7l2 .6l2 .5l2 .3l1.8 .6l.2 .1l2 1.9v.1l.8 1.9l.1 2l-.9 2l-2 1.9l-.1 .1l-1.9 1l-.9 1l-1.1 .9l-2-.1l-2-.7l-.1-.1l-.4-2l-1.5-1.5l-1.6-.5l-.4-.1h-2l-2-.5l-.9-1.4l-1.1-1.6l-.3-.4l-.6-2l.6-2l.3-.3l2-1.5zM62 34h-.1l-1.8 2l.5 2l1.4 1.4l1.3 .6l.7 .2l2 .4l2 .9l.5 .5l.5 2l-.1 2l1.1 .4l2-.2l.2-.2l1.8-2l2-2l.6-2l-.5-2l-.1-.2l-2-1.4l-.9-.4l-1.1-.3l-2-.6l-2-.8l-.8-.3l-1.2-.3l-2-.1zM118.1 34l1.9-1.3l2 .2l2 1.1v2v1.8l-.1 .2l-1.8 2l-.1 .1l-2 .4l-1.3-.5l-.7-.9l-.6-1.1l.4-2l.2-1.4zM122 33.7l-1.7 .3l-.3 .3l-.7 1.7l.1 2l.6 .6h2l.5-.6l.8-2l-.7-2zM252.1 34l1.9-1.7l2 .8l.6 .9l-.4 2l-.2 .1h-2l-.3-.1zM220.3 48l1.7-1.7l2-.2l2 .6l1.3 1.3l.7 .7l1 1.3l-1 2l-2 1.2l-2 .4l-2-.6l-2-.9l-.1-.1l-.7-2l.8-1.5zM222 47.4l-.6 .6l-1.1 2l.6 2l1.1 .5l2 .7l2-.4l1.4-.8l.6-1.4l.3-.6l-.3-.4l-1.5-1.6l-.5-.5l-2-.6zM9.2 84l.8-.8l2-.1l2 .4l.5 .5l.1 2l-.6 .8l-2 1.2h-.9h-1.1l-1.3-2zM10 83.7l-.3 .3l-.2 2l.5 .8l2 .4l2-1l.1-.2v-2l-.1-.1l-2-.5zM147.4 112l.6-.5l2-.4l2 .8l.1 .1l1.8 2v.1l-1.3 1.3l-.2-1.4l-.4-.4l-1.5-1.6l-.5-.2l-1.2 .2l-.8 .5l-.7 1.5l-.1 2l.4 2l.4 .7l.9 .4l-.9 .9l-.8 .8l-.7-.8l-.5-.8l-.3-1.2l.2-2l.1-.4l.4-1.6z"/><path fill="#5d91c2" stroke="#5d91c2" d="M10.6 7.4l1.1-1.1l.3 .4l2 1l2 .2l2-.8l2-1l.1-.1h1.9h1.6l-1.6 .7l-2 1.2l-.1 .1l-1.9 .7l-2 .2l-2-.1l-2-.4l-.8-.4zM48.5 6h1.5h1.5l-1.3 2l-.2 .2l-1.6 1.8l-.4 .4l-1.7 1.6l-.3 .4l-1.1 1.6l-.9 1.5l-.2 .5l-1.3 2l-.5 .5l-2 1.5v.2l.3 1.8l1.5 2l.2 .2l2 .7l2-.4l.9-.5l1.1-.5l2-.7l2-.3l2-.1l2-.3h2l2 .3l2 .3l2-.1l2-.2l1.6-.4l.4-.1l2-.4l2-.1h2l2-.3l2-.8l.6-.3l1.4-.8l1.9-1.2l-.5-2l-1.4-.4l-2-1.2l-.4-.4l-1.6-1l-1.2-1l-.8-.6l-.8-.6l.8-.8h2l2 1.6l.6 .4l1.4 .9l2 .8l.8 .3l1.2 .7l1 1.3l-.5 2l-.5 .7l-1.3 1.3l-.7 1.2l-.7 .8l-.9 2l-.4 .9l-1.9 1.1l-.1 .1l-2 .5l-.8-.6l-1.2-.4l-2-.8l-2 .5l-2 .4l-2-.1h-2l-1.4 .4l-.6 1.1l-2 .1l-1.1-1.2l-.9-.2l-2-.1l-2 .1l-2-.2l-2-.4l-1.1 .8l-.9 1.8l-.3 .2l-1.7 2l-2-1.3l-.4-.7l-1.6-1l-.8-1l-1.2-1.2l-.6-.8l-.6-2l.2-2l1-1.4l.7-.6l.8-2l.5-1.7l.1-.3l.2-.3l1.7-1.7l-.7-.7l.7-.5l.9-.8l1.1-.6l2-1.2l.1-.2zM57.9 30l.1-.1l2-1.6h2l2 1.2l2-.2l2-.6l2 .5l1.1 .8l.9 .3l1.7-.3l.3-.2l2 .1l.1 .1l1.9 2l1 2l1 1.7l.1 .3l.4 2l.1 2l-.6 1.4l-.3 .6l-1.7 1.3l-.7 .7l-1.3 .7l-1.9 1.3h-.1l-2 1.6l-2-.4l-2-.7l-.8-.5l-1.2-1.8l-.5-.2l-1.5-.7l-2 .5l-.3 .2l-1.7 .6l-1.7-.6v-2l-.3-.4l-2-1.6h-.1l-1.9-2v-.1l-2-.8l-1.3-1.1l-.7-1.3l-2-.5l-.5-.2l.5-.9l2 .6l2-.8l1.2-.9l.8-.5l2-.8zM62 31.8l-1 .2l-1 .2l-2 1.5l-.3 .3l-.6 2l.6 2l.3 .4l1.1 1.6l.9 1.4l2 .5h2l.4 .1l1.6 .5l1.5 1.5l.4 2l.1 .1l2 .7l2 .1l1.1-.9l.9-1l1.9-1l.1-.1l2-1.9l.9-2l-.1-2l-.8-1.9v-.1l-2-1.9l-.2-.1l-1.8-.6l-2-.3l-2-.5l-2-.6h-.7l-1.3-.1h-2zM131.8 30l.2-.1l2-1.1l2 .2l1 1l.4 2l-.4 1l-.6 .6l.6-1.6l-.4-2l-.6-.6l-2-.3l-1.5 .9l-.5 .7l-1.3 1.3l.1 .8l-.8-.8v-.2zM249.5 30l.5-.5l2-.1l2 .4l.4 .2l1.6 .7l1.1 1.3l.9 1.3l.3 .7l-.1 2l-.2 .3l-2 .9l-2 .1l-2-.7l-1.2-.6l-.8-1.3l-.5-.7l-.4-2zM254 32.3l-1.9 1.7l1.6 2l.3 .1h2l.2-.1l.4-2l-.6-.9zM113.6 32l.4-.2l2-.2l2-.9l2 .8l1.5 .5l.5 .1l2 1v.9l-2-1.1l-2-.2l-1.9 1.3l-.1 .6l-.2 1.4l-.4 2l.6 1.1l.7 .9l1.3 .5l2-.4l.1-.1l1.8-2l.1-.2v.2l.7 .7l-.7 1l-.3 .3l-1.7 1.4l-1.7 .6l-.3 .1l-1.8-.1h-.2l-2-1.7l-1.1-.3l-.9-.4l-2-.3l-.6-1.3l-.5-2l-.1-2l1.2-.6zM132 36v-.6h2l1.1-.5l-1.1 1.1zM35.7 44l.3-.7l.2 .7l.6 2l1.2 1.2l.2 .8l-.2 .3l-2 .3l-.8-.6l-.1-2zM220.4 46l1.6-1.4l2 .3l2 .7l.3 .4l1.7 1.7l.2 .3l1.4 2l-1 2l-.6 .5l-2 1l-2 .5l-2-.5l-2-.7l-.8-.8l-1.1-2l1.3-2l.6-1.6zM222 46.3l-1.7 1.7l-.3 .5l-.8 1.5l.7 2l.1 .1l2 .9l2 .6l2-.4l2-1.2l1-2l-1-1.3l-.7-.7l-1.3-1.3l-2-.6zM90 52l2-.2l.1 .2l-.1 .2l-2-.2zM8.6 84l1.4-1.3h2l2 .4l.8 .9l.2 2l-1 1.4l-.9 .6l-1.1 1.1l-2-.2l-.7-.2l.7-.7l-2-2v-.1zM10 83.2l-.8 .8l-.5 2l1.3 2h1.1h.9l2-1.2l.6-.8l-.1-2l-.5-.5l-2-.4zM146.7 112l1.3-1.1l2-.5l2 .6l1.7 1l.3 .3v1.7l-.1 .1v-.1l-1.8-2l-.1-.1l-2-.8l-2 .4l-.6 .5l-1 2l-.4 1.6l-.1 .4l-.2 2l.3 1.2l.5 .8l.7 .8l-1.2 1.2l-1.1-2l-.4-2l.5-2l.6-2l.4-.8z"/><path fill="#6aa1cb" stroke="#6aa1cb" d="M268.3 4h1.7h2h2h2h2h2h2h2h2h2h2l.8 .8h-.8l-2 .2l-2 .2l-1.8 .8l-.2 .1l-2 1.5l-.6 .4l-1.4 .9l-2 .6l-.8 .5l-1.2 1.8l-.1 .2l-.3 2l.2 2l-1.8 1.3l-1.9-1.3l-.1-.1l-2-.9l-2-.1l-2-.7l-.2-.2l.2-1.5l.1-.5l1-2l.8-2l.1-.4l.2-1.6zM10 8l.6-.6l.6 .6l.8 .4l2 .4l2 .1l2-.2l1.9-.7l.1-.1l2-1.2l1.6-.7h.4v2v.4l-2 .8l-2 .5l-.9 .3l-1.1 .3l-2 .2l-2-.2l-1.3-.3l-.7-.2l-2-.6l-1.6-1.2zM38 8l2-2h2h2h2h2h.5l-.4 2l-.1 .2l-2 1.2l-1.1 .6l-.9 .8l-.7 .5l-1.3-1.3h-2zM76 10l2-2l1.9 2h.1l2 .9l2 1l.2 .1l1.8 .8l1.4 1.2l.3 2l-1.1 2l-.6 .8l-.8 1.2l-1.2 1.7l-.2 .3l-.5 2l-.2 2l-1.1 1.7l-.3 .3l-.5 2l.1 2l.3 2l.4 1.5l.2 .5l.6 2l.3 2l-.7 2l-.4 .3l-2 1.4l-.4 .3l-1.6 .8l-2 1.1l-.2 .1l-1.8 .9l-1.4 1.1l-.6 .4l-1.2-.4l-.8-.2l-2-.6l-1.9-1.2l-.1-.2l-2-.6l-2 .5l-.6 .3l-1.4 .4l-.9-.4l-1.1-.7l-1.7-1.3l-.3-.6l-2-1l-2-.3l-.5-.1l-1.5-.8l-.9-1.2l-1.1-1l-1.5-1l-.5-.3l-2-.3l-2 .1l-1 .5l-1 .8l-.7 1.2l-.2 2l-.5 2l.1 2l.2 2l-.9 1.3l-1.6 .7l-.4 .3l-2 .6l-1-.9l-.1-2l-.6-2l-.3-1.5l-.3-.5l.3-.2l.9-1.8l1.1-1.1l1-.9l1-1.2l1.2-.8l.8-1.9v-.1l.7-2l.8-2l.5-1.9v-.1v-.1l-.5-1.9l-1.1-2l-.4-.6l-1.3-1.4l.1-2l.4-2l.8-1.6l.3-.4l.3-2h1.4l2-2l.3-.3l-.2 .3l-.1 .3l-.5 1.7l-.8 2l-.7 .6l-1 1.4l-.2 2l.6 2l.6 .8l1.2 1.2l.8 1l1.6 1l.4 .7l2 1.3l1.7-2l.3-.2l.9-1.8l1.1-.8l2 .4l2 .2l2-.1l2 .1l.9 .2l1.1 1.2l2-.1l.6-1.1l1.4-.4h2l2 .1l2-.4l2-.5l2 .8l1.2 .4l.8 .6l2-.5l.1-.1l1.9-1.1l.4-.9l.9-2l.7-.8l.7-1.2l1.3-1.3l.5-.7l.5-2l-1-1.3l-1.2-.7l-.8-.3l-2-.8l-1.4-.9l-.6-.4l-2-1.6zM36 43.3l-.3 .7l-.6 2l.1 2l.8 .6l2-.3l.2-.3l-.2-.8l-1.2-1.2l-.6-2zM58 29.9l-.1 .1l-1.9 .7l-2 .8l-.8 .5l-1.2 .9l-2 .8l-2-.6l-.5 .9l.5 .2l2 .5l.7 1.3l1.3 1.1l2 .8v.1l1.9 2h.1l2 1.6l.3 .4v2l1.7 .6l1.7-.6l.3-.2l2-.5l1.5 .7l.5 .2l1.2 1.8l.8 .5l2 .7l2 .4l2-1.6h.1l1.9-1.3l1.3-.7l.7-.7l1.7-1.3l.3-.6l.6-1.4l-.1-2l-.4-2l-.1-.3l-1-1.7l-1-2l-1.9-2l-.1-.1l-2-.1l-.3 .2l-1.7 .3l-.9-.3l-1.1-.8l-2-.5l-2 .6l-2 .2l-2-1.2h-2zM246.2 22l1.8-.9l2 .4l1 .5l1 .5l1.7 1.5l.3 .2v1.8l2 2l2 2h.6l1 2l.4 2l-.2 2l-1.6 2l-.1 .1l-.1-.1l-.1 .1l-1.9 1l-2 .1l-2-.3l-2-.7l-.5-.2l-1.5-.7l-1.4-1.3l-.6-1.1l-.9-.9l-1.1-.9l-1.6-1.1l-.4-.3l-2-.7l-2-.1l-2 .3l-2 .3l-.9 .5l-1.1 .6l-2 1.4l-1.6 2l-.4 .6l-.8 1.4l-.7 2l-.4 2l.8 2l.9 2l.2 .2l1.6 1.8l.4 .6l.9 1.4l-.9 1.2l-.4 .8l-1.6 1.3l-1.7 .7l-.3 .1l-2 .6l-2-.4l-1.3-.3l-.7-.2l-1.9-1.8l-.1-.2l-1-1.8l1-1.8l.2-.2l.3-2l.2-2l-.2-2l-.1-2l.7-2l.6-2l.2-2l-.4-2l.5-2l1-2l1-1.6l.4-.4l1.6-1.1l2-.1l2 .1l2 .1h1l-1 1l2 2h2l2-2l-1.2-1.2h1.2l2 .1l2-.2l2-.7l2-1l2-.9zM250 29.5l-.5 .5l-.4 2l.4 2l.5 .7l.8 1.3l1.2 .6l2 .7l2-.1l2-.9l.2-.3l.1-2l-.3-.7l-.9-1.3l-1.1-1.3l-1.6-.7l-.4-.2l-2-.4zM222 44.6l-1.6 1.4l-.4 .4l-.6 1.6l-1.3 2l1.1 2l.8 .8l2 .7l2 .5l2-.5l2-1l.6-.5l1-2l-1.4-2l-.2-.3l-1.7-1.7l-.3-.4l-2-.7zM116.3 30l1.7-.8l1.6 .8l.4 .3l2 .6l2 .8v.3v1.1l-2-1l-.5-.1l-1.5-.5l-2-.8l-2 .9l-2 .2l-.4 .2l-1.6 1.4l-1.2 .6l.1 2l.5 2l.6 1.3l2 .3l.9 .4l1.1 .3l2 1.7h.2l1.8 .1l.3-.1l1.7-.6l1.7-1.4l.3-.3l.7-1l1.2 1.2v.1l-1.9 1.8l-.3 .2l-1.7 1.5l-.9 .5l-1.1 .9l-1.1 1.1l-.9 .9l-1.8-.9l-.2-.2l-.5-1.3l.5-.5l-2-2l-.2 .2l-.7-.2l-1.1-.2l-2-.8l-.3-1l-.3-2l-.5-2l-.6-2l1.7-1.4l1.2-.6l.8-.3l2-1l2-.5zM130.5 30l1.5-1l2-.8l2 .1l1.7 1.7l.3 2l-1 1l.4-1l-.4-2l-1-1l-2-.2l-2 1.1l-.2 .1l-1.8 1.8v-1.3zM300.7 44l1.3-1.3l2 .5l.8 .8l1.2 1.4l.5 .6l.3 2l-.8 1.2l-.8 .8l-.5 2l-.7 .9l-1.4-.9l-.6-1.3l-.3-.7l-.7-2l-.5-2zM-2 46v-1.2l1.1 1.2l.2 2l-1.3 2v-2zM89.5 52l.5-1l2-.6l1.1 1.6l-1.1 1.5l-2 .3zM90 52l2 .2l.1-.2l-.1-.2zM10 82h.1l1.9 .1l2 .5l1.4 1.4l.3 2l-.4 2l.6 2l.1 .2l.4 1.8l-.4 .3l-.8-.3l-1.2-.8l-2-.2l-2-.6l-.7-.4l-1-.3l1-1l.7 .2l2 .2l1.1-1.1l.9-.6l1-1.4l-.2-2l-.8-.9l-2-.4h-2l-1.4 1.3l-.6 1.9v-1.9l-.2-.2h.2zM147.7 110l.3-.2l2-.7l1.5 .4l.5 .5l2 2v.3l-.3-.3l-1.7-1l-2-.6l-2 .5l-1.3 1.1l-.7 1.2l-.4 .8l-.6 2l-.5 2l.4 2l1.1 2h-2h-.3l-.7-2l-.1-2l.6-2l.5-1l.3-1l.5-.8l1.2-1.2v-.8z"/><path fill="#77afd1" stroke="#77afd1" d="M264 4h2h2h.3l-.1 2l-.2 1.6l-.1 .4l-.8 2l-1 2l-.1 .5l-.2 1.5l.2 .2l2 .7l2 .1l2 .9l.1 .1l1.9 1.3l1.8-1.3l-.2-2l.3-2l.1-.2l1.2-1.8l.8-.5l2-.6l1.4-.9l.6-.4l2-1.5l.2-.1l1.8-.8l2-.2l2-.2h.8l1.2 1.2h2h2l-2 .6l-2 .6l-2 .2l-2-.5h-2l-2 .7l-.6 .4l-1.4 .7l-2 1.2l-.4 .1l-1.6 1.7l-.2 .3l-.6 2l-.1 2l-1.1 2h-.1l-1.9 .3l-.8-.3l-1.2-.7l-2-.8l-2-.1l-2-.1l-1-.3l-1-1l-1.1-1l-.3-2l.3-2l.5-2l.3-2zM78 6h.6l1.3 2l.1 .1l2 1.8l.4 .1l1.6 .5l2 .9l.9 .6l1.1 .8l1.2 1.2l.4 2l-1.6 1.2l-.4 .8l-1.6 2l-1.3 2l-.6 2l-.1 .3l-.3 1.7l-.9 2l-.5 2l-.1 2l.3 2l.6 2l.6 2l.3 2l-.1 2l-1.9 1.5l-.9 .5l-1.1 .3l-2 1l-1.5 .7l-.5 .2l-2 1l-1 .8l-1 .5l-1.9-.5h-.1l-2-.5l-2-1.2l-1.4-.3l-.6-.2l-.7 .2l-1.3 .2l-2 .5l-1.7-.7l-.3-.2l-2-1.5l-.5-.3l-1.5-.9l-2-.3l-2-.5l-.3-.3l-1.7-2l-2-1.2l-2-.2l-2 .5l-1.1 .9l-.9 1.2l-.2 .8l-.6 2l-.1 2l.1 2l-1.2 1.6l-.9 .4l-1.1 .9l-2 .6l-1.6-1.5l-.2-2l-.2-.6l-2-.9l-2-.4h-2l-.1-.1l-.4-2l.5-.2l2 .1l2-.4l1.6-1.5l.4-.2l1.7-1.8l.3-.3l1.5-1.7l.5-1.2l.4-.8l.6-2l1-1.7l.2-.3l.7-2l-.3-2l-.6-1.1l-.4-.9l-1.6-1.8l-.1-.2l.1-.7l.2-1.3l.3-2l.7-2l.1-2h.7h.6l-.3 2l-.3 .4l-.8 1.6l-.4 2l-.1 2l1.3 1.4l.4 .6l1.1 2l.5 1.9v.1v.1l-.5 1.9l-.8 2l-.7 2v.1l-.8 1.9l-1.2 .8l-1 1.2l-1 .9l-1.1 1.1l-.9 1.8l-.3 .2l.3 .5l.3 1.5l.6 2l.1 2l1 .9l2-.6l.4-.3l1.6-.7l.9-1.3l-.2-2l-.1-2l.5-2l.2-2l.7-1.2l1-.8l1-.5l2-.1l2 .3l.5 .3l1.5 1l1.1 1l.9 1.2l1.5 .8l.5 .1l2 .3l2 1l.3 .6l1.7 1.3l1.1 .7l.9 .4l1.4-.4l.6-.3l2-.5l2 .6l.1 .2l1.9 1.2l2 .6l.8 .2l1.2 .4l.6-.4l1.4-1.1l1.8-.9l.2-.1l2-1.1l1.6-.8l.4-.3l2-1.4l.4-.3l.7-2l-.3-2l-.6-2l-.2-.5l-.4-1.5l-.3-2l-.1-2l.5-2l.3-.3l1.1-1.7l.2-2l.5-2l.2-.3l1.2-1.7l.8-1.2l.6-.8l1.1-2l-.3-2l-1.4-1.2l-1.8-.8l-.2-.1l-2-1l-2-.9h-.1l-1.9-2zM8 8h.4l1.6 1.2l2 .6l.7 .2l1.3 .3l2 .2l2-.2l1.1-.3l.9-.3l2-.5l2-.8v1l-2 .5l-.3 .1l-1.7 .4l-2 .5l-2 .1l-2-.1l-2-.5l-1.4-.4l-.6-.2l-2-1.2zM245.2 20l.8-.4l2-.7l2-.2l2 .2l2 .9l.2 .2l1.5 2l.2 .1l-1.9 1.9v.2l-.3-.2l-1.7-1.5l-1-.5l-1-.5l-2-.4l-1.8 .9l-.2 .1l-2 .9l-2 1l-2 .7l-2 .2l-2-.1h-1.2l-.8-.8h-2l-1 1h-1l-2-.1l-2-.1l-2 .1l-1.6 1.1l-.4 .4l-1 1.6l-1 2l-.5 2l.4 2l-.2 2l-.6 2l-.7 2l.1 2l.2 2l-.2 2l-.3 2l-.2 .2l-1 1.8l1 1.8l.1 .2l1.9 1.8l.7 .2l1.3 .3l2 .4l2-.6l.3-.1l1.7-.7l1.6-1.3l.4-.8l.9-1.2l-.9-1.4l-.4-.6l-1.6-1.8l-.2-.2l-.9-2l-.8-2l.4-2l.7-2l.8-1.4l.4-.6l1.6-2l2-1.4l1.1-.6l.9-.5l2-.3l2-.3l2 .1l2 .7l.4 .3l1.6 1.1l1.1 .9l.9 .9l.6 1.1l1.4 1.3l1.5 .7l.5 .2l2 .7l2 .3l2-.1l1.9-1l-1.3 1.3l-.6 .3l-2 .1l-2-.1l-2-.4l-2-.5l-2-.8l-1.7-2l-.3-.3l-2-1.5l-.5-.2l-1.5-.6l-2-.4l-2 .1l-2 .6l-.6 .3l-1.4 .7l-1.5 1.3l-.5 .5l-1.1 1.5l-.8 2l-.1 .4l-.2 1.6l.2 1.7v.3l.7 2l1.3 1.7l.2 .3l1.2 2l-1.4 1.8l-.1 .2l-1.9 1.5l-1.1 .5l-.9 .4l-2 .5l-2-.3l-2-.5l-.2-.1l-1.8-1.6l-.4-.4l-1-2l1-2l.4-2l-.1-2l-.4-2l-.2-2l.7-1.9v-.1l.7-2l.2-2l-.1-2l.4-2l.7-2l.1-.4l.7-1.6l.9-2l.4-.3l2-.3l2-.1h2l2-.1l2-.1l2-.2l2-.2l2-.3l1.8-.4h.2l2-.6l2-.8zM115.3 30l.7-.2l2-1l2 1l.5 .2l1.5 .5l2 .6v.6l-2-.8l-2-.6l-.4-.3l-1.6-.8l-1.7 .8l-.3 .2l-2 .5l-2 1l-.8 .3l-1.2 .6l-1.7 1.4l.6 2l.5 2l.3 2l.3 1l2 .8l1.1 .2l.7 .2l-.7 .7l-1.1-.3l-2-.4l-.2-.2l-.7-2l-.2-2l-.5-2l-.4-1.1l-.3-.9l.3-.7l2-1.3l2-.8l2-.8zM130.1 30l1.9-1.3l2-.7l2 .1l2 1.9v.3l.4 1.7h-.4l-.3-2l-1.7-1.7l-2-.1l-2 .8l-1.5 1l-.5 .5v-.4zM258.6 30h1.3l.1 .4l.6 1.6l.5 2l-.3 2l-.8 1.2l-.5 .8l-.8 .7l-.6-.6l.1-.1l1.6-2l.2-2l-.4-2zM125.9 39.9l.1 .1v1.2l-.9 .8h-1.1l-2 2v.4l-1.9 1.6l-.1 .1l-1.9 1.9l-.1 .1l-.6-.1l-1.4-.5l-1-1.5l-.3-.7l.8-.8l.5 1.3l.2 .2l1.8 .9l.9-.9l1.1-1.1l1.1-.9l.9-.5l1.7-1.5l.3-.2l1.9-1.8zM301.9 42h.1h.1l1.9 .5l1.5 1.5l.5 .6l1.3 1.4l.2 2l-1.2 2l-.3 .6l-.6 1.4l-1.4 1.9l-2-1l-.8-.9l-1-2l-.2-.7l-.4-1.3l-.2-2l.5-2h.1zM302 42.7l-1.3 1.3l-.2 2l.5 2l.7 2l.3 .7l.6 1.3l1.4 .9l.7-.9l.5-2l.8-.8l.8-1.2l-.3-2l-.5-.6l-1.2-1.4l-.8-.8zM-2 44.8v-.8l1.8 2l.2 1.6l.1 .4l-.1 .1l-1.1 1.9l-.8 2l-.1 .1v-.1v-2l1.3-2l-.2-2zM91.9 48l.1-.1l.3 .1l-.2 2l1.4 2l-1.5 2h-.1l-1.9 .2l-.1-.2l-.6-2l.7-1.3l2-.7zM90 51l-.5 1l.5 1.8l2-.3l1.1-1.5l-1.1-1.6zM95.4 52l.6-.6l.6 .6l-.6 2h-.1zM9.5 82l.5-.3l2 .2l.4 .1l1.6 .4l1.6 1.6l.3 2l.1 1.2l.2 .8l.5 2l1.1 2l.2 .7l2 1l.5 .3v2l-.5 .3l-.2-.3l-1.8-1.7l-.6-.3l-1.4-.7l-2-.8l-1.4-.5l-.6-.2l-2-.6l-2-1.2l.3-.3l1 .3l.7 .4l2 .6l2 .2l1.2 .8l.8 .3l.4-.3l-.4-1.8l-.1-.2l-.6-2l.4-2l-.3-2l-1.4-1.4l-2-.5l-1.9-.1h-.1l-2 1.8h-.2l-.3-.3l.5-.2zM146.8 110l1.2-.8l2-.6l.8 .2l.7 .7l-1.5-.4l-2 .7l-.3 .2l-1.7 1.2v-.6zM144 114l.8-.8l-.5 .8l-.3 1l-.5 1l-.6 2l.1 2l.7 2h-1l-.4-2l.1-2l.5-2l.8-1.7z"/><path fill="#87b8cf" stroke="#87b8cf" d="M259.5 4.5l.5-.5h2h2l-.3 2l-.3 2l-.5 2l-.3 2l.3 2l1.1 1l1 1l1 .3l2 .1l2 .1l2 .8l1.2 .7l.8 .3l1.9-.3h.1l1.1-2l.1-2l.6-2l.2-.3l1.6-1.7l.4-.1l2-1.2l1.4-.7l.6-.4l2-.7h2l2 .5l2-.2l2-.6l2-.6h2v1.9l-.2 .1l-1.8 .6l-2 .8l-2 .4l-2-.2l-2-.8l-2-.3l-2 .4l-2 .9l-.3 .2l-1.7 1.4l-.6 .6l-.8 2l-.3 2l-.3 1.2l-.3 .8l-1.7 1.3h-2l-2-.8l-1.5-.5l-.5-.2l-2-.3h-2l-2-.1l-2 .1l-1.4 .5l-.6 .4l-.9 .7l-1.1-1.1l-2 2v2l-.1 .1l-.2-.1l-1.5-2l-.2-.2l-2-.9l-2-.2l-2 .2l-2 .7l-.8 .4l-1.2 .6l-2 .8l-2 .6h-.2l-1.8 .4l-2 .3l-2 .2l-2 .2l-2 .1l-2 .1h-2l-2 .1l-2 .3l-.4 .3l-.9 2l-.7 1.6l-.1 .4l-.7 2l-.4 2l.1 2l-.2 2l-.7 2v.1l-.7 1.9l.2 2l.4 2l.1 2l-.4 2l-1 2l1 2l.4 .4l1.8 1.6l.2 .1l2 .5l2 .3l2-.5l.9-.4l1.1-.5l1.9-1.5l.1-.2l1.4-1.8l-1.2-2l-.2-.3l-1.3-1.7l-.7-2v-.3l-.2-1.7l.2-1.6l.1-.4l.8-2l1.1-1.5l.5-.5l1.5-1.3l1.4-.7l.6-.3l2-.6l2-.1l2 .4l1.5 .6l.5 .2l2 1.5l.3 .3l1.7 2l2 .8l2 .5l2 .4l2 .1l2-.1l.6-.3l-.6 .6l-.6 .6l-1.4 .1l-2-.1l-2-.2l-2-.3l-.6-.1l-1.4-.5l-2-1.5l-2-1.6l-.8-.4l-1.2-.6l-2-.4h-2l-2 .6l-.6 .4l-1.4 .9l-1.1 1.1l-.9 1.5l-.3 .5l-.5 2l.1 2l.5 2l.2 .2l1.2 1.8l.7 2l-1.5 2l-.4 .3l-2 1.5l-.5 .2l-1.5 .7l-2 .4l-2-.2l-2-.4l-.9-.5l-1.1-1.1l-.9-.9l-.9-2l.8-2l.3-2l-.2-2l-.7-2l-.3-2l1-2l.6-2l.3-1.9v-.1l.1-2l.2-2l.6-2l.5-2l.5-2l.1-.1l2-1.7l1.1-.2l.9-.2l2-.1l2-.2l2-.2l2-.2l2-.3l2-.4l2-.4l2-.4l2-.6l1.9-1h.1l2-1.2l1.8-.8l.2-.1l2-.8l1.5-.6l-1.5 1.5l2 2h2h2l2-2l-2-2h-2h-.8l.8-.3l2-1l.8-.7l1.2-1.1l.6-.9l.6-2l.1-2zM78.6 6h1.4h1l.8 2l.2 .1l2 .7l2 .8l.5 .4l1.5 1l1 1l1 1l.5 1l.1 2l-.6 .8l-1.4 1.2l-.6 .6l-1.1 1.4l-.9 1.6l-.3 .4l-.8 2l-.5 2l-.4 1.7l-.1 .3l-.5 2l-.1 2l.3 2l.4 1.7l.1 .3l.5 2l.6 2l.3 2l-1.5 2h-.1l-1.9 .3l-2 .7l-2 .7l-.6 .3l-1.4 .5l-2 .9l-.7 .6l-1.3 .7l-2-.5l-.8-.2l-1.2-.3l-2-1l-2-.4l-2 .4l-2 .4l-2-.9l-.5-.2l-1.5-1.2l-1.8-.8l-.2-.1l-2-.5l-2-.5l-1.1-.9l-.9-1.1l-1.9-.9h-.1l-2-.2l-.6 .2l-1.4 .5l-1.4 1.5l-.6 1.2l-.2 .8l-.3 2l-.1 2l-1.4 1.9l-.2 .1l-1.8 1.5l-1.8 .5h-.2h-.1l-1.9-1.5l-.6-.5l-1.4-1.5l-1.1-.5l-.9-.4l-2-.6l-1.8-1l-.2-.6l-.3-1.4l.3-.2l2-.8l2-.3l1.5-.7l.5-.2l2-1.4l.4-.4l1.6-1.8l.2-.2l1.1-2l.4-2l.3-.6l1.1-1.4l.7-2l-.1-2l-1-2l-.7-.8l-.6-1.2l.1-2l.3-2l.2-2l-.1-1.9l.1-.1h1.3l-.1 2l-.7 2l-.3 2l-.2 1.3l-.1 .7l.1 .2l1.6 1.8l.4 .9l.6 1.1l.3 2l-.7 2l-.2 .3l-1 1.7l-.6 2l-.4 .8l-.5 1.2l-1.5 1.7l-.3 .3l-1.7 1.8l-.4 .2l-1.6 1.5l-2 .4l-2-.1l-.5 .2l.4 2l.1 .1h2l2 .4l2 .9l.2 .6l.2 2l1.6 1.5l2-.6l1.1-.9l.9-.4l1.2-1.6l-.1-2l.1-2l.6-2l.2-.8l.9-1.2l1.1-.9l2-.5l2 .2l2 1.2l1.7 2l.3 .3l2 .5l2 .3l1.5 .9l.5 .3l2 1.5l.3 .2l1.7 .7l2-.5l1.3-.2l.7-.2l.6 .2l1.4 .3l2 1.2l2 .5h.1l1.9 .5l1-.5l1-.8l2-1l.5-.2l1.5-.7l2-1l1.1-.3l.9-.5l1.9-1.5l.1-2l-.3-2l-.6-2l-.6-2l-.3-2l.1-2l.5-2l.9-2l.3-1.7l.1-.3l.6-2l1.3-2l1.6-2l.4-.8l1.6-1.2l-.4-2l-1.2-1.2l-1.1-.8l-.9-.6l-2-.9l-1.6-.5l-.4-.1l-2-1.8l-.1-.1zM8 9.6v-1l2 1.2l.6 .2l1.4 .4l2 .5l2 .1l2-.1l2-.5l1.7-.4l.3-.1l2-.5v.6h-2l-1 1l-1 .3l-2 .3h-2l-2-.1l-2-.4l-2-.6l-1.3-.5zM288.5 20l1.5-1.3l1.3 1.3l-1 2l-.3 .2l-.6-.2zM133.2 28l.8-.3l2 .1l.4 .2l1.6 1.4l.4 .6l.4 2h-.4l-.4-1.7v-.3l-2-1.9l-2-.1l-2 .7l-1.9 1.3l-.1 .1v-.1l-.3-.3l.3-.1l2-1.2zM114 30l2-.7l2-.8l2 .9l1.7 .6l.3 .1l2 .5v.5l-2-.6l-1.5-.5l-.5-.2l-2-1l-2 1l-.7 .2l-1.3 .4l-2 .8l-2 .8l-2 1.3l-.3 .7l.3 .9l.4 1.1l.5 2l.2 2l.7 2l.2 .2l2 .4l1.1 .3l-.6 .6l-.5-.1l-2-.8l-.8-.6l-.6-2l-.2-2l-.4-1.6l-.1-.4l-.6-2l.7-1.7l.5-.3l1.5-.5l2-.8l2-.7zM259.9 30h.1l2 2v2l.3 .3l-.3 1.7l-1.1 2l-.9 .8l-.6 .6l-.7-.7l.8-.7l.5-.8l.8-1.2l.3-2l-.5-2l-.6-1.6zM125.1 42l.9-.8v.8zM300.8 42l1.2-.4l2 .3l.2 .1l1.8 1.8l.2 .2l1.8 2l.3 2l-.3 .6l-.8 1.4l-1.1 2l-.1 .1l-1.5 1.9l-.5 .4l-2-.3l-.3-.1l-1.7-1.8l-.1-.2l-.9-2l-.7-2l-.2-2l.7-2l1.2-1.2zM302 42h-.1l-1.9 2h-.1l-.5 2l.2 2l.4 1.3l.2 .7l1 2l.8 .9l2 1l1.4-1.9l.6-1.4l.3-.6l1.2-2l-.2-2l-1.3-1.4l-.5-.6l-1.5-1.5l-1.9-.5zM-2 44v-.6l.8 .6l1.2 1.3l.7 .7l.2 2l-.9 1.7l-.1 .3l-1.3 2l-.6 1.1v-1l.1-.1l.8-2l1.1-1.9l.1-.1l-.1-.4l-.2-1.6l-1.8-2zM113.7 45.7l.3 .3l.7-.7l.3 .7l1 1.5l1.4 .5l.6 .1l.1-.1l1.9-1.9l.1-.1l1.9-1.6v1.2l-.5 .4l-1.5 1.2l-.8 .8l-1.2 .7l-2-.2l-.9-.5l-1.1-1.8l-.1-.2zM90.9 48l1.1-1.1l2 .6l.5 .5l-.5 2l2 .5l1.4 1.5l-.7 2l-.7 .2l-1.6-.2l.1-2l-.5-2l-.2 2l-.2 2l-1.6 .3l-2 .2l-.4-.5l-.5-2l.9-1.6l1-.4zM92 47.9l-.1 .1l.1 2l-2 .7l-.7 1.3l.6 2l.1 .2l1.9-.2h.1l1.5-2l-1.4-2l.2-2zM96 51.4l-.6 .6l.5 2h.1l.6-2zM9 82l1-.5l2 .1l1.2 .4l.8 .2l1.7 1.8l.3 1.5l.2 .5l.5 2l.7 2l.6 1l.7 1l1.3 1l1.7 1l.3 .6l.4 1.4l.4 2l.2 2l-1 .3l-.7-.3l-1.3-1.7l-.1-.3l-1.4-2l-.5-.5l-2-1.3l-.5-.2l-1.5-.7l-2-.7l-1.9-.6h-.1l-2-1v-1l2 1.2l2 .6l.6 .2l1.4 .5l2 .8l1.4 .7l.6 .3l1.8 1.7l.2 .3l.5-.3v-2l-.5-.3l-2-1l-.2-.7l-1.1-2l-.5-2l-.2-.8l-.1-1.2l-.3-2l-1.6-1.6l-1.6-.4l-.4-.1l-2-.2l-.5 .3l-1.5 1.3l-.5 .2l-.3-.3l.8-.3zM255.7 96l.3-.1l.1 .1l-.1 .3zM146 110v-.1l2-1.3l2-.5l.2 .1l.6 .6l-.8-.2l-2 .6l-1.2 .8l-.8 .6zM142.4 115.6l1.3-1.3l-.8 1.7l-.5 2l-.1 2l.4 2h-.7l-.3-.3l-.1-1.7l.1-2l.3-1l.2-1z"/><path fill="#97c2cc" stroke="#97c2cc" d="M254.7 4.7l1.3 1.3h2l1.5-1.5l-.2 1.5l-.1 2l-.6 2l-.6 .9l-1.2 1.1l-.8 .7l-2 1l-.8 .3h-1.2l-.5 .5l-1.5 .6l-2 .8l-.2 .1l-1.8 .8l-2 1.2h-.1l-1.9 1l-2 .6l-2 .4l-2 .4l-2 .4l-2 .3l-2 .2l-2 .2l-2 .2l-2 .1l-.9 .2l-1.1 .2l-2 1.7l-.1 .1l-.5 2l-.5 2l-.6 2l-.2 2l-.1 2v.1l-.3 1.9l-.6 2l-1 2l.3 2l.7 2l.2 2l-.3 2l-.8 2l.9 2l.9 .9l1.1 1.1l.9 .5l2 .4l2 .2l2-.4l1.5-.7l.5-.2l2-1.5l.4-.3l1.5-2l-.7-2l-1.2-1.8l-.2-.2l-.5-2l-.1-2l.5-2l.3-.5l.9-1.5l1.1-1.1l1.4-.9l.6-.4l2-.6h2l2 .4l1.2 .6l.8 .4l2 1.6l2 1.5l1.4 .5l.6 .1l2 .3l2 .2l2 .1l1.4-.1l-1 1h-.4h-2l-2-.2l-2-.2l-2-.5l-1.3-.7l-.7-.5l-2-1.4l-.2-.1l-1.8-.9l-2-.5h-2l-2 .6l-1.1 .8l-.9 .9l-.8 1.1l-.6 2v2l.6 2l.8 1.6l.3 .4l1.6 2l-1.9 .7l-.9 1.3l-1.1 .8l-1.8 1.2h-.2l-.1 .1l-1.9 .9l-2 .4l-2-.2l-2-.3l-1.5-.9l-.5-.5l-1.5-1.5l-.5-1.2l-.4-.8l.4-.9l.4-1.1l.3-2l-.3-2l-.4-.9l-.4-1.1l-.3-2l.7-1.7l.2-.3l.7-2l.4-2l.1-2l.2-2l.3-2l.1-.4l.4-1.6l.5-2l1.1-1.7l.4-.3l1.6-.9l2-.5l2-.3l2-.3h.1l1.9-.3l2-.4l2-.4l2-.5l1.4-.4l.6-.2l2-.6l2-.7l.8-.5l1.2-1l1.5-1l.5-.4l2-1.3l.4-.3l1.6-1.2l1-.8l1-1l.9-1l1.1-1.8l.1-.2zM81 6h1h1.9l.1 .1l2 1.5l.4 .4l1.6 1.2l.7 .8l1.3 1.3l.4 .7l1 2v2l-1.4 1.7l-.4 .3l-1.6 1.8l-.2 .2l-1.2 2l-.6 1.5l-.2 .5l-.6 2l-.5 2l-.3 2l-.1 2l.2 2l.4 2l.7 2l.4 1.2l.2 .8l.6 2l1.2 1.8l.2 .2l1.8 1.8l2 .2h.2l1.8 .5l1.3 1.5l.7 1.3l.4 .7l1.6 1.8l.1 .2l-.1 .4l-.6 1.6l-1.4 .4l-2-.1l-2 .4l-2 .1l-.6-.8l-.5-2l1.1-2h.1l-.1-.6l-.2-1.4l-1.8-1.5l-2-.4l-.1-.1l-1.9-1.3l-2 .3l-2 .6l-1.4 .4l-.6 .1l-2 .7l-2 .9l-.3 .3l-1.7 .9l-2-.5l-1.8-.4h-.2l-2-.9l-2-.3l-2 .3l-2 .3l-2-.8l-1.2-.6l-.8-.6l-2-.9l-2-.5h-.3l-1.7-.4l-1.9-1.6l-.1-.2l-2-1.1l-2-.1l-2 .9l-.4 .5l-1.2 2l-.4 1.3l-.1 .7l-.2 2l-1.4 2l-.3 .3l-1.9 1.7l-.1 .1l-2 .5l-1.4-.6l-.6-.5l-1.9-1.5l-.1-.1l-2-1.2l-1.9-.7h-.1l-2-1.2l-1-.8l-.6-2l1.6-1.2l2-.7l.4-.1l1.6-.4l2-.8l1-.8l1-.8l1.1-1.2l.9-1.3l.4-.7l.7-2l.9-2l1.1-2l-.1-2l-1-1.7l-.1-.3l-1-2v-2l.1-2v-2v-1l.9-.9l.1 1.9l-.2 2l-.3 2l-.1 2l.6 1.2l.7 .8l1 2l.1 2l-.7 2l-1.1 1.4l-.3 .6l-.4 2l-1.1 2l-.2 .2l-1.6 1.8l-.4 .4l-2 1.4l-.5 .2l-1.5 .7l-2 .3l-2 .8l-.3 .2l.3 1.4l.2 .6l1.8 1l2 .6l.9 .4l1.1 .5l1.4 1.5l.6 .5l1.9 1.5h.1h.2l1.8-.5l1.8-1.5l.2-.1l1.4-1.9l.1-2l.3-2l.2-.8l.6-1.2l1.4-1.5l1.4-.5l.6-.2l2 .2h.1l1.9 .9l.9 1.1l1.1 .9l2 .5l2 .5l.2 .1l1.8 .8l1.5 1.2l.5 .2l2 .9l2-.4l2-.4l2 .4l2 1l1.2 .3l.8 .2l2 .5l1.3-.7l.7-.6l2-.9l1.4-.5l.6-.3l2-.7l2-.7l1.9-.3h.1l1.5-2l-.3-2l-.6-2l-.5-2l-.1-.3l-.4-1.7l-.3-2l.1-2l.5-2l.1-.3l.4-1.7l.5-2l.8-2l.3-.4l.9-1.6l1.1-1.4l.6-.6l1.4-1.2l.6-.8l-.1-2l-.5-1l-1-1l-1-1l-1.5-1l-.5-.4l-2-.8l-2-.7l-.2-.1zM92 46.9l-1.1 1.1l.1 2l-1 .4l-.9 1.6l.5 2l.4 .5l2-.2l1.6-.3l.2-2l.2-2l.5 2l-.1 2l1.6 .2l.7-.2l.7-2l-1.4-1.5l-2-.5l.5-2l-.5-.5zM297.8 8l.2-.1v.1l-2 2l-2 2l-.5 .5l-1.5 .5l-1.3-1l-.7-.2l-2-1.3l-1.4-.5l-.6-.2l-2 .2l-2 .9l-1.2 1.1l-.8 1.7l-.1 .3l-.3 2l-.1 2l-1.2 2l-.3 .2l-2 .5l-2-.3l-.9-.4l-1.1-.4l-2-.8l-2-.2l-2 .1l-2 .4l-1.6 .9l-.4 .5l-.9 1.5l-.2 .9l-.9-.9v-2l-.9-.9l.9-.7l.6-.4l1.4-.5l2-.1l2 .1h2l2 .3l.5 .2l1.5 .5l2 .8h2l1.7-1.3l.3-.8l.3-1.2l.3-2l.8-2l.6-.6l1.7-1.4l.3-.2l2-.9l2-.4l2 .3l2 .8l2 .2l2-.4l2-.8zM8 10v-.4l.7 .4l1.3 .5l2 .6l2 .4l2 .1h2l2-.3l1-.3l-1 1l.1 .1h-.1l-1.8 .1l-.2-.2h-2h-2h-.1l-1.9-.3l-2-.5l-1.3-.5zM288.2 18l1.8-1.5l2 .4l.3 1.1l.3 2l-.6 1.6l-.2 .4l-1.8 1.2l-2-.2l-1.5-1v-2l1.5-1.9zM290 18.7l-1.5 1.3l.9 2l.6 .2l.3-.2l1-2zM132.2 28l1.8-.7h2l1.2 .7l.8 .7l.8 1.3l.4 2h-.4l-.4-2l-.4-.6l-1.6-1.4l-.4-.2l-2-.1l-.8 .3l-1.2 .4l-2 1.2l-.3 .1l-.4-.4l.7-.2l2-1zM112.8 30l1.2-.4l2-.7l2-.8l2 .8l2 .7l1.5 .4l.5 .1v.5l-2-.5l-.3-.1l-1.7-.6l-2-.9l-2 .8l-2 .7l-2 .7l-2 .8l-1.5 .5l-.5 .3l-.7 1.7l.6 2l.1 .4l.4 1.6l.2 2l.6 2l.8 .6l2 .8l.5 .1l-.5 .5l1.7 1.7l.2 .3l.1 .2l1.1 1.8l.9 .5l2 .2l1.2-.7l.8-.8l1.5-1.2l.5-.4v.4v.6l-1.6 1.4l-.4 .3l-2 .9l-2-.1l-2-1l-.1-.1l-.7-2l-1.2-1.7l-.3-.3l-1.7-.9l-1.4-1.1l-.5-2l-.1-.6l-.1-1.4l-.5-2l-.6-2l.8-2l.4-.4l2-.6l2-.7zM262.3 34.3l1.2 1.2l-.1 .5l-1 2l-.4 .4l-1.8 1.6h-.2l-.6-.6l.6-.6l.9-.8l1.1-2zM299.7 42l.3-.2l2-.7l2 .4l.8 .5l1.2 1.2l1.1 .8l.9 1l1 1l.1 2l-1 2l-.1 .1l-1.4 1.9l-.6 .9l-.8 1.1l-1.2 .9l-2-.1l-1.7-.8l-.3-.3l-1.1-1.7l-.9-1.7l-.1-.2l.1-.1v-2v-2v-2v-.5zM302 41.6l-1.2 .4l-.8 .8l-1.2 1.2l-.7 2l.2 2l.7 2l.9 2l.1 .2l1.7 1.8l.3 .1l2 .3l.5-.4l1.5-1.9l.1-.1l1.1-2l.8-1.4l.3-.6l-.3-2l-1.8-2l-.2-.2l-1.8-1.8l-.2-.1zM-2 43.4v-.6l1.7 1.2l.3 .4l1.5 1.6l.2 2l-1 2l-.7 .7l-.8 1.3l-1.1 2l-.1 .1v-.1v-.9l.6-1.1l1.3-2l.1-.3l.9-1.7l-.2-2l-.7-.7l-1.2-1.3zM8.5 82l1.5-.8l2 .2l2 .6l1.9 2l.1 .4l.5 1.6l.8 2l.7 1.7l.1 .3l1.4 2l.5 .4l2 1.1l.5 .5l.6 2l.8 2l.1 .4l.5 1.6l-.5 .5l-2 .4l-2-.8l-.1-.1l-.7-2l-1.2-1.5l-.5-.5l-1.5-1.2l-2-.7l-.3-.1l-1.7-.7l-2-.5l-2-.8v-1l2 1h.1l1.9 .6l2 .7l1.5 .7l.5 .2l2 1.3l.5 .5l1.4 2l.1 .3l1.3 1.7l.7 .3l1-.3l-.2-2l-.4-2l-.4-1.4l-.3-.6l-1.7-1l-1.3-1l-.7-1l-.6-1l-.7-2l-.5-2l-.2-.5l-.3-1.5l-1.7-1.8l-.8-.2l-1.2-.4l-2-.1l-1 .5l-1 .9l-.8 .3l-.3-.3l1.1-.4zM254.8 96l1.2-.5l.4 .5l-.4 1.2zM256 95.9l-.3 .1l.3 .3l.1-.3zM147.9 108h.1h2l.2 .2l-.2-.1l-2 .5l-2 1.3v-.8zM142 116l.4-.4l-.2 .4l-.2 1l-.3 1l-.1 2l.1 1.7l-.9-.9l-.1-.8l.3-2l.3-1.3z"/><path fill="#a7cbca" stroke="#a7cbca" d="M249.2 6l.8-1.4l.3-.6h1.7h2l.7 .7l-.6 1.3l-.1 .2l-1.1 1.8l-.9 1l-1 1l-1 .8l-1.6 1.2l-.4 .3l-2 1.3l-.5 .4l-1.5 1l-1.2 1l-.8 .5l-2 .7l-2 .6l-.6 .2l-1.4 .4l-2 .5l-2 .4l-2 .4l-1.9 .3h-.1l-2 .3l-2 .3l-2 .5l-1.6 .9l-.4 .3l-1.1 1.7l-.5 2l-.4 1.6l-.1 .4l-.3 2l-.2 2l-.1 2l-.4 2l-.7 2l-.2 .3l-.7 1.7l.3 2l.4 1.1l.4 .9l.3 2l-.3 2l-.4 1.1l-.4 .9l.4 .8l.5 1.2l1.5 1.5l.5 .5l1.5 .9l2 .3l2 .2l2-.4l1.9-.9l-.6 .6l-1.3 .6l-2 .3l-2-.1l-2-.3l-2-1.1l-.1-.1l-1.9-1.9l-.1-.1l-1.2-2l1.1-2l.2-1.6l.1-.4l-.1-.3l-.4-1.7l-.7-2l-.3-2l.8-2l.6-1.6l.2-.4l.3-2l.2-2l.2-2l.2-2l.3-2l.6-2v-.1l1-1.9l1-1l2-.9l.3-.1l1.7-.6l2-.5l2-.3l2-.4l.8-.2l1.2-.4l2-.6l2-.7l.9-.3l1.1-.6l2-.9l.8-.5l1.2-.9l1.4-1.1l.6-.6l1.8-1.4l.2-.2l1.9-1.8l.1-.2zM83.9 6h.1h2l2 2h.8l1.2 1.4l.4 .6l1.1 2l.5 1.2l.2 .8l-.1 2l-.1 .2l-1.5 1.8l-.5 .6l-1.2 1.4l-.8 1.1l-.5 .9l-.9 2l-.6 1.9v.1l-.4 2l-.3 2v2l.1 2l.4 2l.2 .6l.5 1.4l.6 2l.7 2l.2 .2l1.5 1.8l.5 .5l2 .7l2 .5l.5 .3l1.5 1.8l.1 .2l1.2 2l.7 .8l.7 1.2l-.6 2h-.1l-2 .6l-2 .1l-2 .4l-2-.1l-.8-1l-.5-2l.8-2l-.7-2l-.8-.7l-2-.8l-1.2-.5l-.8-.6l-2 .2l-1.2 .4l-.8 .2l-2 .3l-2 .6l-2 .9l-2 1.1l-2-.5l-2-.4l-.8-.2l-1.2-.5l-2-.2l-2 .3l-2 .2l-2-.8l-2-1l-2-1l-2-.5l-2-.3l-.3-.2l-1.7-1.5l-1-.5l-1-.6h-2l-1.2 .6l-.8 .5l-1 1.5l-.7 2l-.3 1.4l-.1 .6l-1.2 2l-.7 .7l-1.5 1.3l-.5 .6l-2 .5l-2-.7l-.7-.4l-1.3-1l-1.5-1l-.5-.3l-2-.9l-1.5-.8l-.5-.3l-2-1.6l-.1-.1l-1.2-2l1.3-1.1l1.7-.9l.3-.1l2-.5l2-.6l1.6-.8l.4-.2l2-1.6l.2-.2l1.3-2l.5-1l.4-1l1-2l.6-1.3l.4-.7l-.1-2l-.3-.6l-.7-1.4l-1-2l-.1-2v-2l-.1-2v-.1l.9-.9v1v2l-.1 2v2l1 2l.1 .3l1 1.7l.1 2l-1.1 2l-.9 2l-.7 2l-.4 .7l-.9 1.3l-1.1 1.2l-1 .8l-1 .8l-2 .8l-1.6 .4l-.4 .1l-2 .7l-1.6 1.2l.6 2l1 .8l2 1.2h.1l1.9 .7l2 1.2l.1 .1l1.9 1.5l.6 .5l1.4 .6l2-.5l.1-.1l1.9-1.7l.3-.3l1.4-2l.2-2l.1-.7l.4-1.3l1.2-2l.4-.5l2-.9l2 .1l2 1.1l.1 .2l1.9 1.6l1.7 .4h.3l2 .5l2 .9l.8 .6l1.2 .6l2 .8l2-.3l2-.3l2 .3l2 .9h.2l1.8 .4l2 .5l1.7-.9l.3-.3l2-.9l2-.7l.6-.1l1.4-.4l2-.6l2-.3l1.9 1.3l.1 .1l2 .4l1.8 1.5l.2 1.4l.1 .6h-.1l-1.1 2l.5 2l.6 .8l2-.1l2-.4l2 .1l1.4-.4l.6-1.6l.1-.4l-.1-.2l-1.6-1.8l-.4-.7l-.7-1.3l-1.3-1.5l-1.8-.5h-.2l-2-.2l-1.8-1.8l-.2-.2l-1.2-1.8l-.6-2l-.2-.8l-.4-1.2l-.7-2l-.4-2l-.2-2l.1-2l.3-2l.5-2l.6-2l.2-.5l.6-1.5l1.2-2l.2-.2l1.6-1.8l.4-.3l1.4-1.7v-2l-1-2l-.4-.7l-1.3-1.3l-.7-.8l-1.6-1.2l-.4-.4l-2-1.5zM284 10l2-.2l.6 .2l1.4 .5l2 1.3l.7 .2l1.3 1l1.5-.5l-1.5 1.5v2l2 2l-.3 2l-.8 2l-.9 1.1l-1.5 .9h-.5h-2h-2l-2-2l-2-2l-2 2h-2h-2l-.2 .2l-.4-.2l-1.4-.4l-2-.9l-1.3-.7l-.7-.3l-2-.2l-2 .2l-.7 .3l-1.3 .9l-.9 1.1l-.5 2l.1 .7l-.7-.7l-1.1-1.1l.2-.9l.9-1.5l.4-.5l1.6-.9l2-.4l2-.1l2 .2l2 .8l1.1 .4l.9 .4l2 .3l2-.5l.3-.2l1.2-2l.1-2l.3-2l.1-.3l.8-1.7l1.2-1.1l2-.9zM290 16.5l-1.8 1.5l-.2 .1l-1.5 1.9v2l1.5 1l2 .2l1.8-1.2l.2-.4l.6-1.6l-.3-2l-.3-1.1zM284 11l-1.9 1l-.1 .1l-1 1.9l.1 2l.5 2l.4 1l2 .3l1.9-1.3h.1l1.9-2l.1-.2l.7-1.8l-.7-1.3l-.4-.7l-1.6-.8zM9.9 11.9l-1.2-1.2l1.3 .5l2 .5l1.9 .3h-1.9h-1.7l-.3-.1zM19 13l-.8-.8l1.8-.1h.1l.8 .8h-.9zM117.2 28l.8-.3l.8 .3l1.2 .4l2 .7l2 .5h.4l-.4 .4v.1l-.5-.1l-1.5-.4l-2-.7l-2-.8l-2 .8l-2 .7l-1.2 .4l-.8 .3l-2 .7l-2 .6l-.4 .4l-.8 2l.6 2l.5 2l.1 1.4l.1 .6l.5 2l1.4 1.1l1.7 .9l.3 .3l1.2 1.7l.7 2l.1 .1l2 1l2 .1l2-.9l.4-.3l1.6-1.4v1l-.5 .4l-1.5 1.1l-2 .7h-2l-2-.9l-.8-.9l-.7-2l-.5-.7l-1.3-1.3l-.7-.4l-2-1.6v-.1l-.5-1.9l-.2-2l-.4-2l-.5-2l.6-2l1-.9l2-.7l1.4-.4l.6-.2l2-.7l2-.7zM131.2 28l.8-.4l2-.6l2-.1l2 1.1l1.3 2l.3 2h-.4l-.4-2l-.8-1.3l-.8-.7l-1.2-.7h-2l-1.8 .7l-.2 .1l-2 1l-.7 .2l-.4-.4l1.1-.3zM263.5 35.5l.5 .5v2l-2 2h-1.8l1.8-1.6l.4-.4l1-2zM232.9 38l1.1-.8l2-.6h2l2 .5l1.8 .9l.2 .1l2 1.4l.7 .5l1.3 .7l2 .5l2 .2l2 .2h2h.4l-.4 .4h-2h-2l-.5 .5l-1.5-.3l-.9-.2l-1.1-.3l-2-.8l-1.4-.9l-.6-.4l-2-.9l-2-.7h-.8h-1.2l-2 .8l-1.2 1.2l-.8 1.5l-.2 .5l.1 2l.1 .3l.9 1.7l1.1 1.8l2-.4l.5 .6v2l-.5 .4l-2 .2l-2 1l-.3 .4l-1.7 1.3l-1.1 .7h-.7l1.8-1.2l1.1-.8l.9-1.3l1.9-.7l-1.6-2l-.3-.4l-.8-1.6l-.6-2v-2l.6-2l.8-1.1zM298.2 42l1.8-.8l2-.5l2 .4l1.4 .9l.6 .6l1.9 1.4l.1 .1l1.9 1.9l.1 2l-1.1 2l-.9 .8l-.8 1.2l-1.2 1.7l-.2 .3l-1.8 1.3l-2 .2l-2-.6l-.7-.9l-1.3-1.9v-.1l-.8-1.2l.7-.7l.1 .2l.9 1.7l1.1 1.7l.3 .3l1.7 .8l2 .1l1.2-.9l.8-1.1l.6-.9l1.4-1.9l.1-.1l1-2l-.1-2l-1-1l-.9-1l-1.1-.8l-1.2-1.2l-.8-.5l-2-.4l-2 .7l-.3 .2l-1.7 1.5v-1.3zM-2 42.8v-.7l2 1.5l.7 .4l1.3 1.4l.7 .6v2l-.7 1.1l-.5 .9l-1.5 1.6l-.3 .4l-1.2 2l-.5 .6v-.5l.1-.1l1.1-2l.8-1.3l.7-.7l1-2l-.2-2l-1.5-1.6l-.3-.4zM8 82l2-1l2 .1l2 .7l.4 .2l1.6 1.7l.2 .3l.7 2l.9 2l.2 .5l.5 1.5l1.5 1.8l.5 .2l1.5 .8l1.1 1.2l.7 2l.2 .5l.5 1.5l.9 2l-1.4 1.3l-2 .3l-2-.8l-.6-.8l-.9-2l-.5-.6l-1.3-1.4l-.7-.5l-2-.8l-2-.6l-.3-.1l-1.7-.4l-2-.6v-1l2 .8l2 .5l1.7 .7l.3 .1l2 .7l1.5 1.2l.5 .5l1.2 1.5l.7 2l.1 .1l2 .8l2-.4l.5-.5l-.5-1.6l-.1-.4l-.8-2l-.6-2l-.5-.5l-2-1.1l-.5-.4l-1.4-2l-.1-.3l-.7-1.7l-.8-2l-.5-1.6l-.1-.4l-1.9-2l-2-.6l-2-.2l-1.5 .8l-.5 .5l-1.1 .4l-.3-.3l1.4-.6zM254 96v-.1l2-.8l.8 .9l-.7 2l-.1 .2l-2 .4l-.1-.6zM256 95.5l-1.2 .5l1.2 1.2l.4-1.2zM146.5 108h1.4l-1.9 1.1v-.8zM140.2 117.8l1.1-1.1l-.3 1.3l-.3 2l.1 .8l-.8-.8v-.9l.2-1.1z"/><path fill="#b7d4c8" stroke="#b7d4c8" d="M243.8 6l.2-.3l1-1.7h1h2h2h.3l-.3 .6l-.8 1.4l-1.2 1.8l-.1 .2l-1.9 1.8l-.2 .2l-1.8 1.4l-.6 .6l-1.4 1.1l-1.2 .9l-.8 .5l-2 .9l-1.1 .6l-.9 .3l-2 .7l-2 .6l-1.2 .4l-.8 .2l-2 .4l-2 .3l-2 .5l-1.7 .6l-.3 .1l-2 .9l-1 1l-1 1.9v.1l-.6 2l-.3 2l-.2 2l-.2 2l-.2 2l-.3 2l-.2 .4l-.6 1.6l-.8 2l.3 2l.7 2l.4 1.7l.1 .3l-.1 .4l-.2 1.6l-1.1 2l1.2 2l.1 .1l1.9 1.9l.1 .1l2 1.1l2 .3l2 .1l2-.3l1.3-.6l-.6 .6l-.7 .3l-2 .2h-2l-2-.2l-2-1l-.7-.6l-1.3-1.3l-.9-.7l-1.1-1.7l-.1-.3l.1-.2l1.3-1.8l.1-2l-.5-2l-.7-2l-.2-1.5l-.1-.5l.1-.2l.6-1.8l.8-2l.4-2l.2-1.9v-.1l.1-2l.2-2l.1-2l.4-2l1-2l.2-.3l1.7-1.7l.3-.2l2-1.1l2-.7h.2l1.8-.5l2-.6l2-.6l1-.3l1-.4l2-.9l1.3-.7l.7-.5l2-1.5l2-2l2-1.9l.1-.1zM88.8 8h1.2l1.5 1.5l.3 .5l.2 .4l.5 1.6l.5 2l-.2 2l-.8 1.2l-.6 .8l-1.4 1.6l-.3 .4l-1.4 2l-.3 .8l-.5 1.2l-.6 2l-.4 2l-.2 2l-.1 2l.2 2l.3 2l.6 2l.7 2v.1l.9 1.9l1.1 1.3l1.1 .7l.9 .4l2 .7l1.4 .9l.6 .6l.8 1.4l1.2 1.8l.2 .2l1.1 2l-.6 2l-.7 .3l-2 .6l-2 .2l-2 .3l-2-.1l-1.1-1.3l-.3-2l.4-2l-1-1.8l-.2-.2l-1.8-1l-2-.9l-2 .1l-2 .4l-2 .2l-2 .7l-1.3 .5l-.7 .4l-2 .9l-2-.4l-2-.4l-1.9-.5h-.1l-2-.2l-1.9 .2h-.1l-2 .1l-.3-.1l-1.7-.6l-2-.9l-1.1-.5l-.9-.4l-2-.6l-2-.4l-.9-.6l-1.1-1l-2-.9l-2 .1l-2 1.3l-.3 .5l-.9 2l-.5 2l-.3 .5l-.9 1.5l-1.1 1.1l-1 .9l-1 1.1l-2 .6l-2-.5l-2-1.2h-.1l-1.9-1.3l-1.4-.7l-.6-.3l-2-1.1l-1-.6l-1-.8l-2-1.1l-.3-.1l-1.7-.8l-2 .2l-2-.4l-1.2-1l.8-2l.4-.3l2-.3l1.7 .6l.3 .5l2 .2l.9-.7l1.1-.3l2-.5l2-.6l1.8-.6l.2-.1l2-1.1l.9-.8l1.1-1.1l.6-.9l1.1-2l.3-.5l.7-1.5l1-2v-2l-1-2l-.7-1.5l-.3-.5l-.3-2l-.2-2l-.5-2l-.7-1.1l-1.1-.9h1.1l2 2l.1-.1v.1l.1 2v2l.1 2l1 2l.7 1.4l.3 .6l.1 2l-.4 .7l-.6 1.3l-1 2l-.4 1l-.5 1l-1.3 2l-.2 .2l-2 1.6l-.4 .2l-1.6 .8l-2 .6l-2 .5l-.3 .1l-1.7 .9l-1.3 1.1l1.2 2l.1 .1l2 1.6l.5 .3l1.5 .8l2 .9l.5 .3l1.5 1l1.3 1l.7 .4l2 .7l2-.5l.5-.6l1.5-1.3l.7-.7l1.2-2l.1-.6l.3-1.4l.7-2l1-1.5l.8-.5l1.2-.6h2l1 .6l1 .5l1.7 1.5l.3 .2l2 .3l2 .5l2 1l2 1l2 .8l2-.2l2-.3l2 .2l1.2 .5l.8 .2l2 .4l2 .5l2-1.1l2-.9l2-.6l2-.3l.8-.2l1.2-.4l2-.2l.8 .6l1.2 .5l2 .8l.8 .7l.7 2l-.8 2l.5 2l.8 1l2 .1l2-.4l2-.1l2-.6h.1l.6-2l-.7-1.2l-.7-.8l-1.2-2l-.1-.2l-1.5-1.8l-.5-.3l-2-.5l-2-.7l-.5-.5l-1.5-1.8l-.2-.2l-.7-2l-.6-2l-.5-1.4l-.2-.6l-.4-2l-.1-2v-2l.3-2l.4-2v-.1l.6-1.9l.9-2l.5-.9l.8-1.1l1.2-1.4l.5-.6l1.5-1.8l.1-.2l.1-2l-.2-.8l-.5-1.2l-1.1-2l-.4-.6zM10 12l-.1-.1h.1l.3 .1zM282.1 12l1.9-1l2 .2l1.6 .8l.4 .7l.7 1.3l-.7 1.8l-.1 .2l-1.9 2h-.1l-1.9 1.3l-2-.3l-.4-1l-.5-2l-.1-2l1-1.9zM284 12.1l-1.8 1.9l1 2l.8 .6l1.2-.6l.8-.6l.7-1.4l-.7-1zM19.8 13.8l-.8-.8l1-.1h.9l.9 .9l-1.8-.1zM294 18l1.1 1.1l-.2 .9l-.9 1.8l-.1 .2l-1.6 2h-.3h-1.5l1.5-.9l.9-1.1l.8-2l.3-2zM265.3 20l.7-.3l2-.2l2 .2l.7 .3l1.3 .7l2 .9l1.4 .4l.4 .2l-1.6 1.6l-.2-.1l-2-1.7l-2-1.1l-2-.4l-2 .7l-1 .8l-.7 2l.2 2h-.5l-1.3-1.3l-.1-.7l.5-2l.9-1.1zM115.9 28h.1l2-.6l2 .6l2 .6l2 .4l.9 .1l-.5 .5h-.4l-2-.5l-2-.7l-1.2-.4l-.8-.3l-.8 .3l-1.2 .4l-2 .7l-2 .7l-.6 .2l-1.4 .4l-2 .7l-1 .9l-.6 2l.5 2l.4 2l.2 2l.5 1.9v.1l2 1.6l.7 .4l1.3 1.3l.5 .7l.7 2l.8 .9l2 .9h2l2-.7l1.5-1.1l.5-.4v.4l-1.6 1.6l-.4 .3l-.3 .1h-1.7h-2l-.5 .5l-.9-.5l-.6-.2l-1.5-1.8l-.5-1.5l-.2-.5l-1.8-1.8l-.2-.2l-1.8-1.3l-.6-.7l-.4-2l-.2-2l-.4-2l-.4-1.8l-.1-.2l.1-.2l.4-1.8l1.6-1.4l1.8-.6l.2-.1l2-.6l2-.6zM130.1 28l1.9-.8l2-.6l2-.1l2 .8l.7 .7l1.1 2l.2 1.8v.2h-.4l-.3-2l-1.3-2l-2-1.1l-2 .1l-2 .6l-.8 .4l-1.2 .6l-1.1 .3l-.4-.4l1.5-.4zM236 38h1.2h.8l2 .7l2 .9l.6 .4l1.4 .9l2 .8l1.1 .3l.9 .2l1.5 .3l-1.1 1.1l-.4-.1l-2-.4l-2-.8l-.6-.3l-1.4-.8l-2-.9l-1-.3l-1-.3l-2-.1l-1 .4l-1 .7l-.8 1.3l.3 2l.5 .8l1.1 1.2l.9 .4l1.3 1.6l-.2 2l-1.1 .8l-2 .5l-1.3 .7l-.7 .4l-2 1.4l-.4 .2h-.7l1.1-.7l1.7-1.3l.3-.4l2-1l2-.2l.5-.4v-2l-.5-.6l-2 .4l-1.1-1.8l-.9-1.7l-.1-.3l-.1-2l.2-.5l.8-1.5l1.2-1.2zM-2 42v-.4l.8 .4l1.2 .9l1.9 1.1l.1 .1l2 1.8l.1 .1l-.1 .4l-.2 1.6l-1.4 2l-.4 .3l-1.7 1.7l-.3 .4l-1 1.6l-1 1.1v-.5l.5-.6l1.2-2l.3-.4l1.5-1.6l.5-.9l.7-1.1v-2l-.7-.6l-1.3-1.4l-.7-.4l-2-1.5zM298 42v-.9l2-.6l2-.2l2 .4l2 1.2l.1 .1l1.9 1.3l1.3 .7l.7 .7v1.3v2v1.4l-.3 .6l-1.7 1.6l-.3 .4l-1.3 2l-.4 .5l-2 1.3l-1.4 .2l-.6 .1l-2-.1h-.1l-1.6-2l-.3-.5l-1.2-1.5l-.3-.5l.7-.7l.8 1.2v.1l1.3 1.9l.7 .9l2 .6l2-.2l1.8-1.3l.2-.3l1.2-1.7l.8-1.2l.9-.8l1.1-2l-.1-2l-1.9-1.9l-.1-.1l-1.9-1.4l-.6-.6l-1.4-.9l-2-.4l-2 .5l-1.8 .8l-.2 .2zM7 82l1-.4l2-.9l2 .2l2 .6l.8 .5l1.2 1.3l.5 .7l.7 2l.8 1.6l.2 .4l.7 2l1.1 1.3l1.8 .7l.2 .1l1.7 1.9l.3 .9l.3 1.1l.8 2l.9 1.7l.2 .3l-.2 .5l-1.6 1.5l-.4 .2h-2l-.6-.2l-1.4-.5l-1.2-1.5l-.8-1.7l-.2-.3l-1.8-1.8l-.3-.2l-1.7-.7l-2-.5l-2-.4l-2-.4v-1l2 .6l1.7 .4l.3 .1l2 .6l2 .8l.7 .5l1.3 1.4l.5 .6l.9 2l.6 .8l2 .8l2-.3l1.4-1.3l-.9-2l-.5-1.5l-.2-.5l-.7-2l-1.1-1.2l-1.5-.8l-.5-.2l-1.5-1.8l-.5-1.5l-.2-.5l-.9-2l-.7-2l-.2-.3l-1.6-1.7l-.4-.2l-2-.7l-2-.1l-2 1l-1.4 .6l-.3-.3zM253.3 96l.7-1.1l2-.2l1.1 1.3l-.5 2l-.6 1.2l-1.2 .8l-.8 .6l-.5-.6l-.3-2zM254 95.9v.1l-.1 2l.1 .6l2-.4l.1-.2l.7-2l-.8-.9zM146 108h.5l-.5 .3zM140 118l.2-.2v.2l-.2 1.1z"/><path fill="#c7dec6" stroke="#c7dec6" d="M238.9 6l1.1-1.8l.1-.2h1.9h2h1l-1 1.7l-.2 .3l-1.7 2l-.1 .1l-2 1.9l-2 2l-2 1.5l-.7 .5l-1.3 .7l-2 .9l-1 .4l-1 .3l-2 .6l-2 .6l-1.8 .5h-.2l-2 .7l-2 1.1l-.3 .2l-1.7 1.7l-.2 .3l-1 2l-.4 2l-.1 2l-.2 2l-.1 2v.1l-.2 1.9l-.4 2l-.8 2l-.6 1.8l-.1 .2l.1 .5l.2 1.5l.7 2l.5 2l-.1 2l-1.3 1.8l-.1 .2l.1 .3l1.1 1.7l.9 .7l1.3 1.3l.7 .6l2 1l2 .2h2l2-.2l.7-.3l-.5 .5l-.2 .1l-.9 .1l-1.1 .2l-2-.1l-1.4-.1h-.6l-2-.9l-1.4-1.1l-.6-.6l-1.7-1.4l-.3-.5l-.7-1.5l.7-.9l.8-1.1l-.1-2l-.5-2l-.2-.6l-.5-1.4l-.2-2l.6-2l.1-.3l.6-1.7l.4-2l.2-2l.1-2l.1-2v-2l.2-2l.4-1l.4-1l1.4-2l.2-.2l2-1.5l.6-.3l1.4-.7l2-.8l1.6-.5l.4-.2l2-.7l2-.7l.8-.4l1.2-.6l2-1.4l1.9-2l.1-.2l1.4-1.8l.6-.9zM91.5 9.5l.5 .5h1.1l.5 2l.1 2l-.3 2l-1.2 2l-.2 .3l-1.4 1.7l-.6 .8l-.8 1.2l-.8 2l-.4 1.4l-.2 .6l-.4 2l-.1 2l-.1 2l.1 2l.4 2l.3 1.2l.2 .8l.6 2l1.1 2l.1 .1l2 1.5l.7 .4l1.3 .5l2 1.2l.2 .3l1.2 2l.6 .8l.9 1.2l.9 2l-.5 2l-1.3 .6l-2 .5l-2 .4l-2 .3l-2-.2l-1.3-1.6l-.3-2l.1-2l-.5-.9l-1-1.1l-1-.6l-2-.9l-2 .2l-2 .3l-2 .2l-2 .6l-.5 .2l-1.5 .7l-2 .8l-2-.4l-2-.3l-2-.4l-2-.2l-2 .3h-2l-1.4-.5l-.6-.2l-2-.8l-2-.9l-.3-.1l-1.7-.5l-2-.5l-1.6-1l-.4-.4l-2-.9l-2 .2l-1.6 1.1l-.4 .5l-.7 1.5l-.6 2l-.7 1.2l-.4 .8l-1.6 1.6l-.5 .4l-1.5 1.6l-1.3 .4l-.7 .3l-1.7-.3l-.3-.1l-2-.9l-1.7-1l-.3-.2l-2-1.1l-1.2-.7l-.8-.5l-2-1.2l-.6-.3l-1.4-.8l-2-.5h-2l-2-.2l-2-.3l-2-.2l.2-2l1.8-1.2l.5-.8l1.5-.9l2-.3l2 .5l2 .1l2-.4l2-.5l1.6-.5l.4-.2l2-.8l1.6-1l.4-.3l1.7-1.7l.3-.4l1-1.6l1-1.8l.1-.2l1-2v-2l-1-2l-.1-.2l-.9-1.8l-.5-2l-.5-2l-.1-.5l-.9-1.5l-1.1-.9l-2-1.1h-.1h.1h2h.9l1.1 .9l.7 1.1l.5 2l.2 2l.3 2l.3 .5l.7 1.5l1 2v2l-1 2l-.7 1.5l-.3 .5l-1.1 2l-.6 .9l-1.1 1.1l-.9 .8l-2 1.1l-.2 .1l-1.8 .6l-2 .6l-2 .5l-1.1 .3l-.9 .7l-2-.2l-.3-.5l-1.7-.6l-2 .3l-.4 .3l-.8 2l1.2 1l2 .4l2-.2l1.7 .8l.3 .1l2 1.1l1 .8l1 .6l2 1.1l.6 .3l1.4 .7l1.9 1.3h.1l2 1.2l2 .5l2-.6l1-1.1l1-.9l1.1-1.1l.9-1.5l.3-.5l.5-2l.9-2l.3-.5l2-1.3l2-.1l2 .9l1.1 1l.9 .6l2 .4l2 .6l.9 .4l1.1 .5l2 .9l1.7 .6l.3 .1l2-.1h.1l1.9-.2l2 .2h.1l1.9 .5l2 .4l2 .4l2-.9l.7-.4l1.3-.5l2-.7l2-.2l2-.4l2-.1l2 .9l1.8 1l.2 .2l1 1.8l-.4 2l.3 2l1.1 1.3l2 .1l2-.3l2-.2l2-.6l.7-.3l.6-2l-1.1-2l-.2-.2l-1.2-1.8l-.8-1.4l-.6-.6l-1.4-.9l-2-.7l-.9-.4l-1.1-.7l-1.1-1.3l-.9-1.9v-.1l-.7-2l-.6-2l-.3-2l-.2-2l.1-2l.2-2l.4-2l.6-2l.5-1.2l.3-.8l1.4-2l.3-.4l1.4-1.6l.6-.8l.8-1.2l.2-2l-.5-2l-.5-1.6l-.2-.4zM20 14l-.2-.2l.2-.1l1.8 .1l.2 .2h2l1.3 1.3l-1.3-.3l-2-.2l-2-.1l-.6-.1zM282.2 14l1.8-1.9l2 .9l.7 1l-.7 1.4l-.8 .6l-1.2 .6l-.8-.6zM284 13.5l-.5 .5l.5 .7l.7-.7zM295.1 19.1l.9 .9v.5l-.9 1.5l-1.1 1.6l-.3 .4h-1.4l1.6-2l.1-.2l.9-1.8zM265 22l1-.8l2-.7l2 .4l2 1.1l2 1.7l.2 .1l-.2 .2l-1.8 1.8l-.2-.6l-.3-1.2l-1.7-1.8l-.4-.2l-1.6-.4l-.8 .4l-1.2 1.8l-.1 .2l.1 .3l.6 1.7l1.4 1.7l.7 .3h-.7l-2-2h-1.5l-.2-2zM114.6 28l1.4-.5l2-.5l2 .5l1.6 .5l.4 .1l2 .4h1.5l-.6 .6l-.9-.1l-2-.4l-2-.6l-2-.6l-2 .6h-.1l-1.9 .7l-2 .6l-2 .6l-.2 .1l-1.8 .6l-1.6 1.4l-.4 1.8l-.1 .2l.1 .2l.4 1.8l.4 2l.2 2l.4 2l.6 .7l1.8 1.3l.2 .2l1.8 1.8l.2 .5l.5 1.5l1.5 1.8l.6 .2l.9 .5l-.6 .6l-.9-.4l-.8-.7l-1.2-1.6l-.2-.4l-.7-2l-1.1-1.1l-1.2-.9l-.8-.6l-1.2-1.4l-.3-2l-.2-2l-.3-1.3l-.2-.7l-.5-2l.5-2l.2-.2l2-1.7l.2-.1l1.8-.7l2-.6l2-.5zM128.6 28l1.4-.5l2-.8l2-.5l2-.1l2 .4l1.3 1.5l.7 1.3l.3 .4l-.3 .3v1.8l-.2-1.8l-1.1-2l-.7-.7l-2-.8l-2 .1l-2 .6l-1.9 .8l-.1 .1l-1.5 .4l-.4-.4zM235 40l1-.4l2 .1l1 .3l1 .3l2 .9l1.4 .8l.6 .3l2 .8l2 .4l.4 .1l-.4 .4h-2l-.6 .6l-1.4-.5l-.1-.1l-1.9-.9l-2-.7l-1.1-.4l-.9-.2l-2-.5l-.9 .7l.6 2l.3 .4l1 1.6l1 1.7l2-.6l.6 .9l-.6 .4h-2l-.3 1.6l-1.7 1.3l-2 .7l-2 1l-1.6 1h-.4h-.4l.4-.2l2-1.4l.7-.4l1.3-.7l2-.5l1.1-.8l.2-2l-1.3-1.6l-.9-.4l-1.1-1.2l-.5-.8l-.3-2l.8-1.3zM298 40l2-.2h2l.5 .2l1.5 .3l2 1.1l1.2 .6l.8 .6l2 .9v.5v.7l-.7-.7l-1.3-.7l-1.9-1.3l-.1-.1l-2-1.2l-2-.4l-2 .2l-2 .6zM-2 41.6v-.6l1.7 1l.3 .2l2 1.1l1.9 .7l.1 .1l2 .9l2 .5l2 .5l-2 .3l-2 1.4l-.1 .3l-1.9 .9l-.8 1.1l-1.2 1l-1 1l-1 1.2l-.5 .8l-1.5 1.7v-.6l1-1.1l1-1.6l.3-.4l1.7-1.7l.4-.3l1.4-2l.2-1.6l.1-.4l-.1-.1l-2-1.8l-.1-.1l-1.9-1.1l-1.2-.9zM119.7 50l.3-.1l.4-.3l-.4 .4zM309.7 50l.3-.6v.6v.4l-1.6 1.6l-.4 .4l-1.1 1.6l-.9 1.1l-1.4 .9l-.6 .4l-2 .3l-2-.1l-.9-.6l-1.1-1.3l-.7-.7l-1.3-1.6l-.2-.2l.2-.2l.5-.5l.3 .5l1.2 1.5l.3 .5l1.6 2h.1l2 .1l.6-.1l1.4-.2l2-1.3l.4-.5l1.3-2l.3-.4zM6 82l2-.8l2-.7l2 .1l2 .7l1.2 .7l.8 .9l.9 1.1l.7 2l.4 .9l.5 1.1l.8 2l.7 .8l2 .9l.5 .3l1.5 1.7l.3 .3l.6 2l.8 2l.3 .5l.8 1.5l-.7 2l-.1 .2l-2 .8l-2-.1l-2-.6l-.3-.3l-1.5-2l-.2-.5l-.9-1.5l-1.1-1.1l-1.7-.9l-.3-.1l-2-.4l-2-.2l-2-.2v-1.1l2 .4l2 .4l2 .5l1.7 .7l.3 .2l1.8 1.8l.2 .3l.8 1.7l1.2 1.5l1.4 .5l.6 .2h2l.4-.2l1.6-1.5l.2-.5l-.2-.3l-.9-1.7l-.8-2l-.3-1.1l-.3-.9l-1.7-1.9l-.2-.1l-1.8-.7l-1.1-1.3l-.7-2l-.2-.4l-.8-1.6l-.7-2l-.5-.7l-1.2-1.3l-.8-.5l-2-.6l-2-.2l-2 .9l-1 .4l-.7 .3zM253.9 94l.1-.1l.1 .1l1.9 .3l1.4 1.7l-.3 2l-1 2l-.1 .2l-2 1.5l-1.3-1.7l-.1-2l.1-2zM254 94.9l-.7 1.1l-.1 2l.3 2l.5 .6l.8-.6l1.2-.8l.6-1.2l.5-2l-1.1-1.3z"/><path fill="#d7e7c4" stroke="#d7e7c4" d="M235 6l1-1.8l.1-.2h1.9h2h.1l-.1 .2l-1.1 1.8l-.9 1.1l-.6 .9l-1.4 1.8l-.1 .2l-1.9 2l-2 1.4l-1.2 .6l-.8 .4l-2 .7l-2 .7l-.4 .2l-1.6 .5l-2 .8l-1.4 .7l-.6 .3l-2 1.5l-.2 .2l-1.4 2l-.4 1l-.4 1l-.2 2v2l-.1 2l-.1 2l-.2 2l-.4 2l-.6 1.7l-.1 .3l-.6 2l.2 2l.5 1.4l.2 .6l.5 2l.1 2l-.8 1.1l-.7 .9l.7 1.5l.3 .5l1.7 1.4l.6 .6l1.4 1.1l2 .9h.6l1.4 .1l2 .1l1.1-.2l.9-.1l.2-.1l-.2 .2v.4l-2 .2l-2-.1l-2-.2l-1-.3l-1-.4l-2-1.6h-.1l-1.9-1.5l-.4-.5l-.9-2l1.3-1.6l.3-.4l-.2-2l-.1-.3l-.6-1.7l-.6-2l-.1-2l.4-2l.6-2l.3-1.1l.2-.9l.2-2l.1-2v-2l-.1-2v-2l.6-2l1-1.7l.2-.3l1.8-1.9l.2-.1l1.8-1.3l1.6-.7l.4-.2l2-1l2-.7l.2-.1l1.8-1l2-.8l.4-.2l1.6-1.4l.6-.6l1.4-2zM93.1 10h.9h.4l.3 2v2l-.7 2v.1l-.9 1.9l-1.1 1.4l-.5 .6l-1.4 2l-.1 .3l-.6 1.7l-.5 2l-.4 2l-.1 2l-.1 2l.1 2l.3 2l.4 2l.6 2l.3 .6l1 1.4l1 .8l2 1l.3 .2l1.7 .9l.8 1.1l1.2 1.9v.1l1.6 2l.4 .9l.8 1.1l-.8 1.9v.1l-2 .9l-2 .4l-2 .6l-1 .1l-1 .1l-1-.1l-1-.1l-1.5-1.9l-.3-2l-.2-2l-1.8-2l-.2-.1l-2-.9l-2 .1l-2 .3l-2 .2l-1.6 .4l-.4 .1l-2 .9l-2 .7l-2-.4l-2-.2l-2-.3l-2-.1l-2 .2h-2l-2-.7l-.6-.2l-1.4-.5l-2-.8l-1.9-.7h-.1l-2-.6l-2-1.2l-.5-.2l-1.5-.6l-2 .2l-.6 .4l-1.4 1.5l-.2 .5l-.6 2l-1.2 2l-2 2l-1.9 2l-.1 .1l-2 .9l-2-.2l-1.8-.8l-.2-.1l-2-1l-1.3-.9l-.7-.4l-2-1.1l-.8-.5l-1.2-.8l-2-1l-1.1-.2l-.9-.2l-2-.1h-2h-2l-1.6 .3l-.4 .1l-2 .9l-2 .1l-2 .9l-2 1.6l-.4 .4l-1.6 2l-1.7 2l-.3 .3v-.3v-.3l1.5-1.7l.5-.8l1-1.2l1-1l1.2-1l.8-1.1l1.9-.9l.1-.3l2-1.4l2-.3l-2-.5l-2-.5l-2-.9l-.1-.1l-1.9-.7l-2-1.1l-.3-.2l-1.7-1v-.5l2 1l1.2 .5l.8 .4l2 .6l2 .2l2-.5l2-.2l.7-.5l1.3-.5l2-1.1l2-.2l2 .3l2 .1l2-.3l1.1-.3l.9-.3l2-.7l2-.9l.2-.1l1.8-1.4l.6-.6l1.4-1.6l.2-.4l1.1-2l.7-1.1l.4-.9v-2l-.4-.9l-.6-1.1l-1-2l-.4-1.3l-.4-.7l-.9-2l-.7-.9l-1.3-1.1l-.7-.4l-2-.7l-2-.6l-1.3-.3l-.7-.1l-2-.2l-1.5-.2l.9-.9l.6 .1l2 .1l2 .2l1.3 .3l.7 .7h1.9h.1l2 1.1l1.1 .9l.9 1.5l.1 .5l.5 2l.5 2l.9 1.8l.1 .2l1 2v2l-1 2l-.1 .2l-1 1.8l-1 1.6l-.3 .4l-1.7 1.7l-.4 .3l-1.6 1l-2 .8l-.4 .2l-1.6 .5l-2 .5l-2 .4l-2-.1l-2-.5l-2 .3l-1.5 .9l-.5 .8l-1.8 1.2l-.2 2l2 .2l2 .3l2 .2h2l2 .5l1.4 .8l.6 .3l2 1.2l.8 .5l1.2 .7l2 1.1l.3 .2l1.7 1l2 .9l.3 .1l1.7 .3l.7-.3l1.3-.4l1.5-1.6l.5-.4l1.6-1.6l.4-.8l.7-1.2l.6-2l.7-1.5l.4-.5l1.6-1.1l2-.2l2 .9l.4 .4l1.6 1l2 .5l1.7 .5l.3 .1l2 .9l2 .8l.6 .2l1.4 .5h2l2-.3l2 .2l2 .4l2 .3l2 .4l2-.8l1.5-.7l.5-.2l2-.6l2-.2l2-.3l2-.2l2 .9l1 .6l1 1.1l.5 .9l-.1 2l.3 2l1.3 1.6l2 .2l2-.3l2-.4l2-.5l1.3-.6l.5-2l-.9-2l-.9-1.2l-.6-.8l-1.2-2l-.2-.3l-2-1.2l-1.3-.5l-.7-.4l-2-1.5l-.1-.1l-1.1-2l-.6-2l-.2-.8l-.3-1.2l-.4-2l-.1-2l.1-2l.1-2l.4-2l.2-.6l.4-1.4l.8-2l.8-1.2l.6-.8l1.4-1.7l.2-.3l1.2-2l.3-2l-.1-2zM283.5 14l.5-.5l.7 .5l-.7 .7zM267.2 22l.8-.4l1.6 .4l.4 .2l1.7 1.8l.3 1.2l.2 .6l-.2 .2l-2 2h-1.3l-.7-.3l-1.4-1.7l-.6-1.7l-.1-.3l.1-.2zM268 23.6l-.3 .4l.3 .5l.9-.5zM295.1 22l.9-1.5v1.5v.7l-.9 1.3h-1.1h-.3l.3-.4zM133.1 26l.9-.3l2-.2l2 .3l.3 .2l1.7 1.9v.1l.8 1.2l-.5 .5l-.3-.4l-.7-1.3l-1.3-1.5l-2-.4l-2 .1l-2 .5l-2 .8l-1.4 .5l-.5 .1l-.1-.1h-2l-.5 .5h-1.5l-2-.4l-.4-.1l-1.6-.5l-2-.5l-2 .5l-1.4 .5l-.6 .2l-2 .5l-2 .6l-1.8 .7l-.2 .1l-2 1.7l-.2 .2l-.5 2l.5 2l.2 .7l.3 1.3l.2 2l.3 2l1.2 1.4l.8 .6l1.2 .9l1.1 1.1l.7 2l.2 .4l1.2 1.6l.8 .7l.9 .4l-.7 .7l-.2-.1l-2-1.6l-.1-.1l-.9-2l-.5-2l-.5-.5l-2-1.3l-.2-.2l-1.6-2l-.2-1.5l-.1-.5l-.2-2l-.6-2l-.4-2l.4-2l.9-1.2l1-.8l1-.6l2-.7l2-.5l.9-.2l1.1-.3l2-.7l2-.4l2 .4l2 .6l2 .3l2 .1l2-.4l2-.7l2-.7zM298 40l.9-.9l1.1-.1l2 .2l2 .7l.2 .1l1.8 .8l2 1l.5 .2l1.5 .6v.9l-2-.9l-.8-.6l-1.2-.6l-2-1.1l-1.5-.3l-.5-.2h-2zM235.1 42l.9-.7l2 .5l.9 .2l1.1 .4l2 .7l1.9 .9l.1 .1l1.4 .5l-1.4 1.4v.1l-2 1.1l-.2 .8l-1.8 1.3l-1.3 .7l-.7 .3l-2 1.4l-.8 .3l-1.2 .6l-2 1l-.6 .4h-1l1.6-1l2-1l2-.7l1.7-1.3l.3-1.6h2l.6-.4l-.6-.9l-2 .6l-1-1.7l-1-1.6l-.3-.4zM308.4 52l1.6-1.6v.7l-.9 .9l-1.1 1.2l-.5 .8l-1.5 1.8l-.3 .2l-1.7 1.1l-2 .2l-2-.2l-1.7-1.1l-.3-.3l-1.8-1.7l-.2-.3l-1-.7l.8-.8l.2 .2l1.3 1.6l.7 .7l1.1 1.3l.9 .6l2 .1l2-.3l.6-.4l1.4-.9l.9-1.1l1.1-1.6zM6 82v-.7l2-.6l2-.5l2 .2l2 .6l1.6 1l.4 .4l1.2 1.6l.7 2l.1 .1l.8 1.9l.9 2l.3 .3l2 1.1l1.1 .6l.9 1l.8 1l.6 2l.6 1.4l.4 .6l1.1 2l-.3 2l-1.2 1.4l-2 .4l-2-.2l-2-.4l-1.3-1.2l-.7-1.1l-.4-.9l-1.2-2l-.4-.4l-2-1l-2-.4h-2h-1.8l-.2-.2v-.9l2 .2l2 .2l2 .4l.3 .1l1.7 .9l1.1 1.1l.9 1.5l.2 .5l1.5 2l.3 .3l2 .6l2 .1l2-.8l.1-.2l.7-2l-.8-1.5l-.3-.5l-.8-2l-.6-2l-.3-.3l-1.5-1.7l-.5-.3l-2-.9l-.7-.8l-.8-2l-.5-1.1l-.4-.9l-.7-2l-.9-1.1l-.8-.9l-1.2-.7l-2-.7l-2-.1l-2 .7zM253.6 92l.4-.2l.2 .2l1.8 1.9l.1 .1l1.6 2v2l-.8 2l-.9 1.5l-.7 .5l-1.3 1.4l-1.7-1.4l-.3-.7l-.2-1.3l.2-2v-.5l.1-1.5l.6-2zM254 93.9l-.1 .1l-1.2 2l-.1 2l.1 2l1.3 1.7l2-1.5l.1-.2l1-2l.3-2l-1.4-1.7l-1.9-.3zM249.1 108l.9-1l2 .5l.1 .5l.6 2v2l-.7 .7l-1.4-.7l-.6-.3l-1.3-1.7z"/><path fill="#e7f1c2" stroke="#e7f1c2" d="M232 6l2-2h2h.1l-.1 .2l-1 1.8l-1 2l-1.4 2l-.6 .6l-1.6 1.4l-.4 .2l-2 .8l-1.8 1l-.2 .1l-2 .7l-2 1l-.4 .2l-1.6 .7l-1.8 1.3l-.2 .1l-1.8 1.9l-.2 .3l-1 1.7l-.6 2v2l.1 2v2l-.1 2l-.2 2l-.2 .9l-.3 1.1l-.6 2l-.4 2l.1 2l.6 2l.6 1.7l.1 .3l.2 2l-.3 .4l-1.3 1.6l.9 2l.4 .5l1.9 1.5h.1l2 1.6l1 .4l1 .3l2 .2l2 .1l2-.2v.4l-2 .3l-2-.1l-2-.3l-2-.6l-.1-.1l-1.9-1.3l-1.1-.7l-.9-.7l-1.2-1.3l-.6-2l1.4-2l-.4-2l-.6-2l-.5-2v-2l.3-2l.4-2l.5-2l.3-2v-2l-.1-2l-.3-2v-2l.3-2l.5-1.6l.2-.4l1.4-2l.4-.4l1.8-1.6l.2-.1l2-1.2l1.5-.7l.5-.3l2-1.1l1-.6l1-.8l1.7-1.2l.3-.3l1.6-1.7l.4-.8l.6-1.2zM94.4 10h1.5v2l-.2 2l-.6 2l-1.1 2l-1.5 2l-.5 .7l-.8 1.3l-.8 2l-.4 2v.3l-.2 1.7l-.1 2l-.2 2v2l.3 2l.2 1.6l.1 .4l.5 2l1.4 1.9l.2 .1l1.8 .9l1.6 1.1l.4 .2l1.4 1.8l.6 1l.7 1l1.3 1.7l.5 .3l1.4 2l-.1 2l-1.8 1l-2 .2l-2 .3l-1.6 .5l-.4 .3l-2 .3l-2-.3l-.4-.3l-1.4-2l-.2-2v-.2l-.5-1.8l-1.5-1.6l-.8-.4l-1.2-.5l-2 .1l-2 .2l-2 .1l-.3 .1l-1.7 .5l-2 .9l-2 .4l-2-.2l-2-.3l-2-.1h-2l-2 .2l-2-.1l-2-.7l-2-.6l-2-.7l-2-.7l-1.5-.6l-.5-.1l-2-1.2l-1.9-.7h-.1h-.2l-1.8 .3l-1.6 1.7l-.4 .8l-.4 1.2l-1.1 2l-.5 .6l-1.4 1.4l-.6 .6l-1.3 1.4l-.7 .8l-2 .8l-2 .1l-2-.6l-2-1.1l-2-1.3l-1-.7l-1-.5l-2-1.4l-.3-.1l-1.7-.8l-2-.4h-2l-2 .1l-2 .1l-2 .4l-1 .6l-1 .2h-2l-2 .5l-1.6 1.3l-.4 .3l-1.4 1.7l-.6 .9l-.9 1.1l-1.1 1.2v-.9l.3-.3l1.7-2l1.6-2l.4-.4l2-1.6l2-.9l2-.1l2-.9l.4-.1l1.6-.3h2h2l2 .1l.9 .2l1.1 .2l2 1l1.2 .8l.8 .5l2 1.1l.7 .4l1.3 .9l2 1l.2 .1l1.8 .8l2 .2l2-.9l.1-.1l1.9-2l2-2l1.2-2l.6-2l.2-.5l1.4-1.5l.6-.4l2-.2l1.5 .6l.5 .2l2 1.2l2 .6h.1l1.9 .7l2 .8l1.4 .5l.6 .2l2 .7h2l2-.2l2 .1l2 .3l2 .2l2 .4l2-.7l2-.9l.4-.1l1.6-.4l2-.2l2-.3l2-.1l2 .9l.2 .1l1.8 2l.2 2l.3 2l1.5 1.9l1 .1l1 .1l1-.1l1-.1l2-.6l2-.4l2-.9v-.1l.8-1.9l-.8-1.1l-.4-.9l-1.6-2v-.1l-1.2-1.9l-.8-1.1l-1.7-.9l-.3-.2l-2-1l-1-.8l-1-1.4l-.3-.6l-.6-2l-.4-2l-.3-2l-.1-2l.1-2l.1-2l.4-2l.5-2l.6-1.7l.1-.3l1.4-2l.5-.6l1.1-1.4l.9-1.9v-.1l.7-2v-2zM18 16l.5-.5l1.5 .2l2 .2l.7 .1l1.3 .3l2 .6l2 .7l.7 .4l1.3 1.1l.7 .9l.9 2l.4 .7l.4 1.3l1 2l.6 1.1l.4 .9v2l-.4 .9l-.7 1.1l-1.1 2l-.2 .4l-1.4 1.6l-.6 .6l-1.8 1.4l-.2 .1l-2 .9l-2 .7l-.9 .3l-1.1 .3l-2 .3l-2-.1l-2-.3l-2 .2l-2 1.1l-1.3 .5l-.7 .5l-2 .2l-2 .5l-2-.2l-2-.6l-.8-.4l-1.2-.5l-2-1v-.5h.1l1.9 .8l2 .8l2 .4l2-.1l2-.4l2-.2l2-.7l1.3-.6l.7-.2l2-.2l2 .1l2 .1l2-.3l2-.6l2-.8l.3-.1l1.7-.9l1.4-1.1l.6-.5l1.3-1.5l.7-1l.6-1l1.1-2l.1-2l-1.2-2l-.6-1.2l-.5-.8l-1.2-2l-.3-.6l-1.4-1.4l-.6-.5l-2-1.1l-1.4-.4l-.6-.2l-2-.5l-2-.4l-2-.4l-2-.3l-1.7-.2h1.7zM267.7 24l.3-.4l.9 .4l-.9 .5zM295.1 24l.9-1.3v1.3zM131.1 26l.9-.3l2-.5l2-.3l2 .3l1.4 .8l.6 .7l.9 1.3l.5 .6l-.6 .6l-.8-1.2v-.1l-1.7-1.9l-.3-.2l-2-.3l-2 .2l-.9 .3l-1.1 .2l-2 .7l-2 .7l-2 .4l-2-.1l-2-.3l-2-.6l-2-.4l-2 .4l-2 .7l-1.1 .3l-.9 .2l-2 .5l-2 .7l-1 .6l-1 .8l-.9 1.2l-.4 2l.4 2l.6 2l.2 2l.1 .5l.2 1.5l1.6 2l.2 .2l2 1.3l.5 .5l.5 2l.9 2l.1 .1l2 1.6l.2 .1l-.2 .2l-.8 .8l-1.2-.8h-.1l-1.5-2l-.3-2l-.1-.5l-.6-1.5l-1.4-.9l-1.4-1.1l-.6-.9l-.5-1.1l-.4-2l-.2-2l-.5-2l-.3-2l.3-2l1.3-2l.3-.2l2-1.2l2-.6h.2l1.8-.4l2-.4l2-.7l2-.3l2 .4l2 .4l2 .3h2l2-.4l2-.6zM298.9 39.1l.9-.9h.2l2 .4l2 .8l1.5 .6l.5 .2l2 .9l2 .7v.2v.6l-1.5-.6l-.5-.2l-2-1l-1.8-.8l-.2-.1l-2-.7l-2-.2zM241.8 48l.2-.8l2-1.1v1.9l-.4 .4l-1.6 .7l-1.6 .9l-.4 .1l-2 .9l-1.6 1l-.4 .2l-2 .9l-1.7 .9l-.2 .1l-.1-.1h-.6l.6-.4l2-1l1.2-.6l.8-.3l2-1.4l.7-.3l1.3-.7zM309.1 52l.9-.9v.7l-.2 .2l-1.8 2v.1l-1.5 1.9l-.5 .7l-2 1.1l-2 .2l-2-.3l-2-1.2l-.8-.5l-1.2-1.1l-1.4-.9l-.3-.3l.7-.7l1 .7l.2 .3l1.8 1.7l.3 .3l1.7 1.1l2 .2l2-.2l1.7-1.1l.3-.2l1.5-1.8l.5-.8zM303.2 74l.8-1.7l.8 1.7l-.8 1.7zM9.7 80h.3h.4l1.6 .1l2 .7l2 1.2l1.6 2l.4 1.2l.3 .8l.8 2l.9 1.8l.2 .2l1.8 1l1.7 1l.3 .4l1.3 1.6l.6 2l.1 .2l1 1.8l1 1.7l.2 .3v2l-.2 .6l-.9 1.4l-1.1 .9l-2 .3l-2-.5l-2-.4l-.4-.3l-1.6-1.3l-.4-.7l-.8-2l-.8-1.4l-.6-.6l-1.4-.8h-2l-2 .3h-.5l-1.3-1.3h1.8h2l2 .4l2 1l.4 .4l1.2 2l.4 .9l.7 1.1l1.3 1.2l2 .4l2 .2l2-.4l1.2-1.4l.3-2l-1.1-2l-.4-.6l-.6-1.4l-.6-2l-.8-1l-.9-1l-1.1-.6l-2-1.1l-.3-.3l-.9-2l-.8-1.9l-.1-.1l-.7-2l-1.2-1.6l-.4-.4l-1.6-1l-2-.6l-2-.2l-2 .5l-2 .6v-.7l2-.3zM252 92v-.1l2-1.2l1 1.3l1 1l.7 1l1.3 1.8l.1 .2l.1 2l-.2 .9l-.4 1.1l-1 2l-.6 1.2l-.8 .8l-.9 2l-.1 2l.2 2l.2 2l-.6 1.8l-.2 .2l-1.8 .8l-2-.8h-.1l-1.9-1.7l-.2-.3l-.8-2l.3-2l.7-1l.9-1l1.1-1.7l.3-.3l.7-2l.1-2l.2-2l.2-2l.2-2zM254 91.8l-.4 .2l-.9 2l-.6 2l-.1 1.5v.5l-.2 2l.2 1.3l.3 .7l1.7 1.4l1.3-1.4l.7-.5l.9-1.5l.8-2v-2l-1.6-2l-.1-.1l-1.8-1.9zM250 107l-.9 1l-.4 2l1.3 1.7l.6 .3l1.4 .7l.7-.7v-2l-.6-2l-.1-.5zM255 124l1-1.2l2 .3l1.1 .9l.9 1.8v.2h-2h-2h-1.4z"/><path fill="#f7fac0" stroke="#f7fac0" d="M225.9 6h.1h2h2h.6l-.6 1.2l-.4 .8l-1.6 1.7l-.3 .3l-1.7 1.2l-1 .8l-1 .6l-2 1.1l-.5 .3l-1.5 .7l-2 1.2l-.2 .1l-1.8 1.6l-.4 .4l-1.4 2l-.2 .4l-.5 1.6l-.3 2v2l.3 2l.1 2v2l-.3 2l-.5 2l-.4 2l-.3 2v2l.5 2l.6 2l.4 2l-1.4 2l.6 2l1.2 1.3l.9 .7l1.1 .7l1.9 1.3l.1 .1l2 .6l2 .3l2 .1l2-.3v.5l-2 .2l-2-.1l-2-.3l-2-.6l-1.1-.5l-.9-.7l-2-1.3l-1.9-2l-.1-.4l-.4-1.6l.4-1l.7-1l-.4-2l-.3-1l-.3-1l-.4-2v-2l.3-2l.3-2l.1-.4l.3-1.6l.4-2v-2l-.3-2l-.3-2l-.1-.7l-.1-1.3l-.1-2l.2-1.7v-.3l.9-2l1.1-1l1.1-1l.9-.7l1.8-1.3l.2-.2l2-1.3l.8-.5l1.2-1l1.1-1l.9-1.1l.7-.9zM95.9 10h.1l1.2 1.2v.8l-.4 2l-.7 2l-.1 .2l-1 1.8l-1 1.4l-.4 .6l-1.4 2l-.2 .5l-.6 1.5l-.2 2v2l-.2 2l-.3 2v2l.2 2l.2 2l.4 2l.5 .6l1.9 1.4h.1l2 1.3l.6 .7l1.3 2l.1 .1l1.3 1.9l.7 .9l1.8 1.1l.2 .3l2 1.7v.2l.1 1.8h-.1l-1.7 2l-.3 .2l-1.3-.2l-.7-.1l-2-.4l-2 .2l-.9 .3l-1.1 .8l-2 .2l-2-.4l-.9-.6l-1.1-2l-.2-2l-.8-2l-1-1.1l-1.9-.9h-.1h-.9h-1.1l-2 .2h-2l-2 .7l-2 .8l-1.7 .3h-.3h-.3l-1.7-.2l-2-.2h-2l-2 .1l-2 .1l-2-.2l-2-.5l-2-.6l-1.8-.5l-.2-.1l-2-.7l-2-.8l-.7-.4l-1.3-.7l-2-.9l-2 .6l-1 1l-.9 2l-.1 .2l-.9 1.8l-1.1 1.2l-.8 .8l-1.2 1.2l-.7 .8l-1.3 1.4l-1.3 .6l-.7 .4l-2 .3l-2-.4l-.5-.3l-1.5-.8l-1.9-1.2l-.1-.1l-2-1.4l-.6-.5l-1.4-.9l-2-1l-1-.1l-1-.2l-2 .2h-1h-1l-2 .2l-2 .3l-2 .4l-2-.1l-2 .6l-.8 .6l-1.2 1.1l-.8 .9l-1.2 1.9l-.1 .1l-1.8 2l-.1 .2v-.2v-.8l1.1-1.2l.9-1.1l.6-.9l1.4-1.7l.4-.3l1.6-1.3l2-.5h2l1-.2l1-.6l2-.4l2-.1l2-.1h2l2 .4l1.7 .8l.3 .1l2 1.4l1 .5l1 .7l2 1.3l2 1.1l2 .6l2-.1l2-.8l.7-.8l1.3-1.4l.6-.6l1.4-1.4l.5-.6l1.1-2l.4-1.2l.4-.8l1.6-1.7l1.8-.3h.2h.1l1.9 .7l2 1.2l.5 .1l1.5 .6l2 .7l2 .7l2 .6l2 .7l2 .1l2-.2h2l2 .1l2 .3l2 .2l2-.4l2-.9l1.7-.5l.3-.1l2-.1l2-.2l2-.1l1.2 .5l.8 .4l1.5 1.6l.5 1.8v.2l.2 2l1.4 2l.4 .3l2 .3l2-.3l.4-.3l1.6-.5l2-.3l2-.2l1.8-1l.1-2l-1.4-2l-.5-.3l-1.3-1.7l-.7-1l-.6-1l-1.4-1.8l-.4-.2l-1.6-1.1l-1.8-.9l-.2-.1l-1.4-1.9l-.5-2l-.1-.4l-.2-1.6l-.3-2v-2l.2-2l.1-2l.2-1.7v-.3l.4-2l.8-2l.8-1.3l.5-.7l1.5-2l1.1-2l.6-2l.2-2zM11.3 16.7l.7-.7h2h.3l1.7 .2l2 .3l2 .4l2 .4l2 .5l.6 .2l1.4 .4l2 1.1l.6 .5l1.4 1.4l.3 .6l1.2 2l.5 .8l.6 1.2l1.2 2l-.1 2l-1.1 2l-.6 1l-.7 1l-1.3 1.5l-.6 .5l-1.4 1.1l-1.7 .9l-.3 .1l-2 .8l-2 .6l-2 .3l-2-.1l-2-.1l-2 .2l-.7 .2l-1.3 .6l-2 .7l-2 .2l-2 .4l-2 .1l-2-.4l-2-.8l-1.9-.8h-.1v-.6l1.6 .6l.4 .2l2 .7l2 .3l2-.1l2-.4l2-.3l1-.4l1-.2l2-.7l2-.2l2 .1l2 .1l2-.3l2-.7l.2-.1l1.8-.8l1.9-1.2l.1-.1l2-1.7l.2-.2l1.5-2l.3-.4l.9-1.6l.1-2l-1-1.7l-.3-.3l-1.4-2l-.3-.6l-1.3-1.4l-.7-.7l-2-1.2l-.2-.1l-1.8-.7l-2-.6l-2-.6l-.6-.1l-1.4-.3l-2-.4l-2-.3l-2-.2zM116.2 26l1.8-.2l1.4 .2l.6 .1l2 .3l2 .2h2l2-.3l1-.3l1-.2l2-.7l2-.5l2-.3l2 .2l2 1.1l.5 .4l1.3 2l.1 .1l-.5 .5l-.5-.6l-.9-1.3l-.6-.7l-1.4-.8l-2-.3l-2 .3l-2 .5l-.9 .3l-1.1 .3l-2 .6l-2 .4h-2l-2-.3l-2-.4l-2-.4l-2 .3l-2 .7l-2 .4l-1.8 .4h-.2l-2 .6l-2 1.2l-.3 .2l-1.3 2l-.3 2l.3 2l.5 2l.2 2l.4 2l.5 1.1l.6 .9l1.4 1.1l1.4 .9l.6 1.5l.1 .5l.3 2l1.5 2h.1l1.2 .8l-1.1 1.1l-.1-.1l-2-1.1v-.7l-1.3-1.3l-.4-.7l.2-2l-.5-1.4l-.3-.6l-1.7-1.1l-.6-.9l-.9-2l-.2-2l-.1-2l-.2-.8l-.3-1.2l-.3-2l.1-2l.5-1.1l.5-.9l1.5-1.2l1.6-.8l.4-.1l2-.6l2-.3l2-.4l2-.6zM300 38l-1.4-1.4l1.4 .7l1.9 .7h.1l2 .8l2 .9l1 .3l1 .4l2 .6v.8l-2-.7l-2-.9l-.5-.2l-1.5-.6l-2-.8l-2-.4h-.2zM240.4 50l1.6-.9l1.6-.7l-1.6 1.6l-.4 .4l-1.6 .4l-2 .8l-.6 .4l-1.4 .6l-2 1.1l-.6 .3l-.9 .5l-.4-.4l.2-.1l1.7-.9l2-.9l.4-.2l1.6-1l2-.9zM309.8 52l.2-.2v.2v.5l-1.4 1.5l-.6 1l-.8 1l-1.2 1.7l-.6 .3l-1.4 .6h-2l-2-.4l-.5-.2l-1.5-.9l-2-1.1l-2-1.2l-.6-.2l.6-.6l.3-.3l.3 .3l1.4 .9l1.2 1.1l.8 .5l2 1.2l2 .3l2-.2l2-1.1l.5-.7l1.5-1.9v-.1zM-2 70v-.3l.3 .3l.6 2l.4 2l.3 2h-1.6v-2v-2zM303.9 70l.1-.1h2l.1 .1l.3 2l.3 2l.3 2h-1h-2h-2h-1.8l.5-2l.9-2l.4-.5zM304 72.3l-.8 1.7l.8 1.7l.8-1.7zM6 80l2-.1l2-.3l2 .2l.4 .2l1.6 .5l2 1.2l.5 .3l1.4 2l.1 .2l.7 1.8l.7 2l.6 1.1l.8 .9l1.2 .7l2 1.1l.3 .2l1.6 2l.1 .5l.3 1.5l1.4 2l.3 .5l1 1.5l.3 2l-.4 2l-.9 1.8l-.3 .2l-1.7 1.2l-2 .3l-2-.6l-2-.6l-.2-.3l-1.8-1.2l-.6-.8l-.9-2l-.4-2l-.1-.2l-1.9-1.8l-.1-.1l-1.1 .1l-.9 .1l-2 .8v-.9l-.5-.5h.5l2-.3h2l1.4 .8l.6 .6l.8 1.4l.8 2l.4 .7l1.6 1.3l.4 .3l2 .4l2 .5l2-.3l1.1-.9l.9-1.4l.2-.6v-2l-.2-.3l-1-1.7l-1-1.8l-.1-.2l-.6-2l-1.3-1.6l-.3-.4l-1.7-1l-1.8-1l-.2-.2l-.9-1.8l-.8-2l-.3-.8l-.4-1.2l-1.6-2l-2-1.2l-2-.7l-1.6-.1h-.4h-.3l-1.7 .3l-2 .3zM251.9 90l.1-.1l2-.2l.3 .3l1.6 2l.1 .1l1.3 1.9l.7 .9l.5 1.1l.2 2l-.4 2l-.3 1.2l-.4 .8l-1 2l-.6 1.7l-.1 .3l-.3 2l.3 2l.1 .7l.3 1.3l.3 2l-.1 1.5l-.5 .5l-2 2l-1.1 1.1l-.7-1.1l-.2-.1l-2-1.5l-.5-.4l-1.5-1.1l-.9-.9l-1.1-1.5l-.3-.5l-.3-2l.4-2l.2-.3l1.1-1.7l.9-1l.8-1l1.1-2l.1-.4l.4-1.6l.3-2l.2-2l.1-2l.1-2zM252 91.9v.1l-.3 2l-.2 2l-.2 2l-.2 2l-.1 2l-.7 2l-.3 .3l-1.1 1.7l-.9 1l-.7 1l-.3 2l.8 2l.2 .3l1.9 1.7h.1l2 .8l1.8-.8l.2-.2l.6-1.8l-.2-2l-.2-2l.1-2l.9-2l.8-.8l.6-1.2l1-2l.4-1.1l.2-.9l-.1-2l-.1-.2l-1.3-1.8l-.7-1l-1-1l-1-1.3zM252.6 120.6l1.4 1.4h2h2l2 2v1.8l-.9-1.8l-1.1-.9l-2-.3l-1 1.2l-.4 2h-.6l-2 2h-1.7l1-2l.3-.4l.4 .4l2-2l-1.6-1.6l.1-.4z"/><path fill="#fef7b8" stroke="#fef7b8" d="M222 8l2-2h1.9l-1.2 2l-.7 .9l-.9 1.1l-1.1 1l-1.2 1l-.8 .5l-2 1.3l-.2 .2l-1.8 1.3l-.9 .7l-1.1 1l-1.1 1l-.9 2v.3l-.2 1.7l.1 2l.1 1.3l.1 .7l.3 2l.3 2v2l-.4 2l-.3 1.6l-.1 .4l-.3 2l-.3 2v2l.4 2l.3 1l.3 1l.4 2l-.7 1l-.4 1l.4 1.6l.1 .4l1.9 2l2 1.3l.9 .7l1.1 .5l2 .6l2 .3l2 .1l2-.2v.5l-2 .2l-2-.2l-2-.3l-2-.6l-2-.9l-2-1.3l-.9-.7l-1.1-1.2l-.4-.8l-.6-2l.7-2l-.3-2l-.5-2l-.3-2v-2l.2-2l.3-2l.4-2l.3-2l-.1-2l-.4-2l-.4-2l-.3-2l-.3-2l-.3-2l-.3-2l.3-.5l1.5-1.5l.5-.1l2-1.1l1.1-.8l.9-.6l1.7-1.4l.3-.4l1.6-1.6l.4-.7l1-1.3zM97.2 11.2l.8 .8h.5l-.5 1.8v.2l-.8 2l-1.1 2l-.1 .1l-1.3 1.9l-.7 .8l-.9 1.2l-.7 2v2l.1 2l-.3 2l-.2 1.4l-.1 .6l-.1 2l.2 2v.2l.2 1.8l.6 2l1.2 .8l1.5 1.2l.5 .3l1.5 1.7l.5 .8l.4 1.2l1.5 2l.1 .1l2 1l2 .2l1.8-1.3l-.3-2l-1.3-2l-.2-.6l-.4-1.4l-.1-2l-.2-2l-.5-2l-.3-2l.1-2l.8-2l.6-.8l1.5-1.2l.5-.3l2-.6l2-.5l2-.3l2-.3h.2l1.8-.5l2-.2l2 .3l2 .3h2h2l2-.2l2-.5l2-.7l2-.5l2-.2l2 .1l.5 .1l1.5 .6l1.6 1.4l.4 .6l.7 1.4h-.7l-.1 .1l-.1-.1l-1.3-2l-.5-.4l-2-1.1l-2-.2l-2 .3l-2 .5l-2 .7l-1 .2l-1 .3l-2 .3h-2l-2-.2l-2-.3l-.6-.1l-1.4-.2l-1.8 .2h-.2l-2 .6l-2 .4l-2 .3l-2 .6l-.4 .1l-1.6 .8l-1.5 1.2l-.5 .9l-.5 1.1l-.1 2l.3 2l.3 1.2l.2 .8l.1 2l.2 2l.9 2l.6 .9l1.7 1.1l.3 .6l.5 1.4l-.2 2l.4 .7l-.7-.7l-2 2v2v1.2l-1 .8l-1 .4l-2 .9l-2-.6l-1.1-.7l-.9-.2l-2 .1l-.2 .1l-1.8 1.3l-2 .1l-2-.4l-1.5-1l-.5-1l-.2-1l-.3-2l-1-2l-.5-.5l-2-1.2h-2l-2 .2h-2l-2 .7l-1.8 .8l-.2 .1l-2 .2l-2-.3h-.4l-1.6-.1l-1.7 .1h-.3l-2 .2h-2l-2-.2h-.1l-1.9-.5l-2-.6l-2-.5l-1.6-.4l-.4-.2l-2-.8l-1.6-1l-.4-.2l-2-.9l-2 .8l-.3 .3l-1.2 2l-.5 1.3l-.4 .7l-1.6 1.8l-.2 .2l-1.8 1.9l-.1 .1l-1.8 2l-.1 .1l-2 1.2l-2 .4l-2-.3l-2-.9l-.7-.5l-1.3-.9l-1.4-1.1l-.6-.4l-2-1.6l-2-1.2l-2-.2l-2 .2l-2 .2l-2 .1l-2 .2l-2 .2l-2-.1l-1.7 .6l-.3 .1l-2 1.7l-.1 .2l-1.4 2l-.5 1l-.9 1l-1.1 1.3v-1.1l.1-.2l1.8-2l.1-.1l1.2-1.9l.8-.9l1.2-1.1l.8-.6l2-.6l2 .1l2-.4l2-.3l2-.2h1h1l2-.2l1 .2l1 .1l2 1l1.4 .9l.6 .5l2 1.4l.1 .1l1.9 1.2l1.5 .8l.5 .3l2 .4l2-.3l.7-.4l1.3-.6l1.3-1.4l.7-.8l1.2-1.2l.8-.8l1.1-1.2l.9-1.8l.1-.2l.9-2l1-1l2-.6l2 .9l1.3 .7l.7 .4l2 .8l2 .7l.2 .1l1.8 .5l2 .6l2 .5l2 .2l2-.1l2-.1h2l2 .2l1.7 .2h.3h.3l1.7-.3l2-.8l2-.7h2l2-.2h1.1h.9h.1l1.9 .9l1 1.1l.8 2l.2 2l1.1 2l.9 .6l2 .4l2-.2l1.1-.8l.9-.3l2-.2l2 .4l.7 .1l1.3 .2l.3-.2l1.7-2h.1l-.1-1.8v-.2l-2-1.7l-.2-.3l-1.8-1.1l-.7-.9l-1.3-1.9l-.1-.1l-1.3-2l-.6-.7l-2-1.3h-.1l-1.9-1.4l-.5-.6l-.4-2l-.2-2l-.2-2v-2l.3-2l.2-2v-2l.2-2l.6-1.5l.2-.5l1.4-2l.4-.6l1-1.4l1-1.8l.1-.2l.7-2l.4-2zM10.3 17.7l1-1l.7 .1l2 .2l2 .3l2 .4l1.4 .3l.6 .1l2 .6l2 .6l1.8 .7l.2 .1l2 1.2l.7 .7l1.3 1.4l.3 .6l1.4 2l.3 .3l1 1.7l-.1 2l-.9 1.6l-.3 .4l-1.5 2l-.2 .2l-2 1.7l-.1 .1l-1.9 1.2l-1.8 .8l-.2 .1l-2 .7l-2 .3l-2-.1l-2-.1l-2 .2l-2 .7l-1 .2l-1 .4l-2 .3l-2 .4l-2 .1l-2-.3l-2-.7l-.4-.2l-1.6-.6v-.5l2 .7l1.6 .4l.4 .1l2 .3l2-.2l1.3-.2l.7-.1l2-.2l2-.6l2-.6l2-.2h2l2 .1l2-.3l.2-.1l1.8-.7l2-1l.4-.3l1.6-1.1l1-.9l1-1l.8-1l1.2-1.8l.1-.2l.1-2l-.2-.4l-1.3-1.6l-.7-.9l-1-1.1l-1-1.1l-1.3-.9l-.7-.5l-2-.8l-2-.6l-.2-.1l-1.8-.7l-2-.5l-2-.5l-1.9-.3h-.1l-2-.3zM296 30h.3l-.1 2l.8 2l1 1l1.3 1l.7 .4l2 .9l1.4 .7l.6 .3l2 .8l2 .7l1.1 .2l.9 .2v.8l-2-.6l-1-.4l-1-.3l-2-.9l-2-.8h-.1l-1.9-.7l-1.4-.7l-.6-.6l-2-2v-2zM237.4 52l.6-.4l2-.8l1.6-.4l-1 1l-.6 .2l-1.2 .4l-.8 .1l-2 .9l-1.7 1l-.3 .3l-1.2 .5l-.3-.3l.9-.5l.6-.3l2-1.1zM110 54v-1.3l2 1.1l.1 .1l-.1 .1zM308.6 54l1.4-1.5v.6l-.8 .9l-1.2 2l-1.5 2l-.5 .9l-2 .6l-2-.2l-2-.6l-1.7-.7l-.3-.2l-2-1.1l-1.8-.7l-.2-.1l-1.4-.5l.8-.8l.6 .2l2 1.2l2 1.1l1.5 .9l.5 .2l2 .4h2l1.4-.6l.6-.3l1.2-1.7l.8-1zM-2 69.7v-1.3l1.5 1.6l.5 1.8v.2l.5 2l.6 2h-1.1h-.4l-.3-2l-.4-2l-.6-2zM301.5 70l.5-.4l2-1h2l.9 1.4l.4 2l.6 2l.1 .4l.6 1.6h-.6h-1l-.3-2l-.3-2l-.3-2l-.1-.1h-2l-.1 .1l-1.9 1.5l-.4 .5l-.9 2l-.5 2h-.2h-2l-.1-.1l.1-.1l.7-1.8l1.2-2l.1-.1zM6 80v-.6l2 .1l2-.3l2 .2l1.1 .6l.9 .3l2 1.1l.9 .6l1.1 1.5l.3 .5l.8 2l.7 2l.2 .5l1.4 1.5l.6 .3l2 1.1l.8 .6l1.2 1.5l.3 .5l.3 2l1.4 1.7l.4 .3l1.4 2l.2 .8l.2 1l-.2 .2v2l-2 2l-2 2l-2 2h-2h-2l-1.8 1.8l-.2-.1l-2-1.6l-.1-.1l-.3-2v-2l-.4-2v-2v-2l-1.2-1.2l-2 .6l-1.1 .6l-.9 1.2v-1.2v-1.1l2-.8l.9-.1l1.1-.1l.1 .1l1.9 1.8l.1 .2l.4 2l.9 2l.6 .8l1.8 1.2l.2 .3l2 .6l2 .6l2-.3l1.7-1.2l.3-.2l.9-1.8l.4-2l-.3-2l-1-1.5l-.3-.5l-1.4-2l-.3-1.5l-.1-.5l-1.6-2l-.3-.2l-2-1.1l-1.2-.7l-.8-.9l-.6-1.1l-.7-2l-.7-1.8l-.1-.2l-1.4-2l-.5-.3l-2-1.2l-1.6-.5l-.4-.2l-2-.2l-2 .3zM250.5 90l1.5-2l2 .7l1.2 1.3l.8 1l.4 1l1.6 2l1 2l.1 2l-.2 2l-.4 2l-.5 1.4l-.3 .6l-.8 2l-.2 2l.4 2l.7 2l.2 .4l.5 1.1l-.5 .5l-1.5 1.5l.1-1.5l-.3-2l-.3-1.3l-.1-.7l-.3-2l.3-2l.1-.3l.6-1.7l1-2l.4-.8l.3-1.2l.4-2l-.2-2l-.5-1.1l-.7-.9l-1.3-1.9l-.1-.1l-1.6-2l-.3-.3l-2 .2l-.1 .1l-.8 2l-.1 2l-.1 2l-.2 2l-.3 2l-.4 1.6l-.1 .4l-1.1 2l-.8 1l-.9 1l-1.1 1.7l-.2 .3l-.4 2l.3 2l.3 .5l1.1 1.5l.9 .9l1.5 1.1l.5 .4l2 1.5l.2 .1l.7 1.1l-.9 .9l.6 .6l-.1 1.4l-.1 .4l-.4-.4l-2 2l1.6 1.6l-.3 .4l-1 2h-.3l-2 2h-1.9l1.3-2l.6-.6l.9-1.4l.9-2l.2-1.7v-.3v-.3l-.3-1.7l-1.3-2l-.4-.3l-1.7-1.7l-.3-.3l-1.4-1.7l-.6-1.4l-.2-.6l-.1-2l.3-.9l.3-1.1l1.2-2l.5-.5l1.4-1.5l.6-.5l1-1.5l.7-2l.3-1.7l.1-.3l.1-2v-2l.1-2z"/><path fill="#fde6aa" stroke="#fde6aa" d="M217.7 8h.3h2h1l-1 1.3l-.4 .7l-1.6 1.6l-.3 .4l-1.7 1.4l-.9 .6l-1.1 .8l-2 1.1l-.5 .1l-1.5 1.5l-.3 .5l.3 2l.3 2l.3 2l.3 2l.4 2l.4 2l.1 2l-.3 2l-.4 2l-.3 2l-.2 2v2l.3 2l.5 2l.3 2l-.7 2l.6 2l.4 .8l1.1 1.2l.9 .7l2 1.3l2 .9l2 .6l2 .3l2 .2l2-.2v.2l.2 .2l-.2 .1l-2 .1l-2-.2l-1.4-.2l-.6-.1l-2-.5l-2-.9l-1-.5l-1-.7l-1.8-1.3l-.2-.2l-1-1.8l-.6-2l.3-2l-.1-2l-.6-2l-.2-2v-2l.2-1.8v-.2l.3-2l.3-2l.3-2l-.1-2l-.5-2l-.3-1.3l-.1-.7l-.4-2l-.6-2l-.9-1.9l-.1-.1l-1.4-2l-.5-.6l-.6-1.4l.6-1.4l2-.5l2 .2l.9-.3l1.1-.2l2-.9l1.3-.9l.7-.9l.8-1.1zM98 14v-.2l.5-1.8h1.4l-.8 2l-.9 2l-.2 .5l-.8 1.5l-1.2 1.8l-.1 .2l-1.8 2l-.1 .3l-.6 1.7l.1 2l.1 2l-.3 2l-.4 2v2l.2 2l.4 2l.5 1.1l.5 .9l1.5 1.1l.9 .9l1.1 1.3l.4 .7l.4 2l1.2 1.5l1.7 .5l.3 .1l.5-.1l1.4-2l-.7-2l-.6-2l.1-2l-.2-2l-.5-1.9v-.1l-.4-2l.1-2l.3-1.3l.2-.7l1.5-2l.3-.2l2-1l2-.5l1.2-.3l.8-.2l2-.1l2-.2l2-.6l2-.1l2 .4l2 .2h2l2-.1l2-.1l2-.6l1.6-.6l.4-.1l2-.4l2-.2h2l2 .5l.4 .2l1.6 1.3l.6 .7l1 2h-.9l-.7-1.4l-.4-.6l-1.6-1.4l-1.5-.6l-.5-.1l-2-.1l-2 .2l-2 .5l-2 .7l-2 .5l-2 .2h-2h-2l-2-.3l-2-.3l-2 .2l-1.8 .5h-.2l-2 .3l-2 .3l-2 .5l-2 .6l-.5 .3l-1.5 1.2l-.6 .8l-.8 2l-.1 2l.3 2l.5 2l.2 2l.1 2l.4 1.4l.2 .6l1.3 2l.3 2l-1.8 1.3l-2-.2l-2-1l-.1-.1l-1.5-2l-.4-1.2l-.5-.8l-1.5-1.7l-.5-.3l-1.5-1.2l-1.2-.8l-.6-2l-.2-1.8v-.2l-.2-2l.1-2l.1-.6l.2-1.4l.3-2l-.1-2v-2l.7-2l.9-1.2l.7-.8l1.3-1.9l.1-.1l1.1-2zM10 18l.3-.3h1.7l2 .3h.1l1.9 .3l2 .5l2 .5l1.8 .7l.2 .1l2 .6l2 .8l.7 .5l1.3 .9l1 1.1l1 1.1l.7 .9l1.3 1.6l.2 .4l-.1 2l-.1 .2l-1.2 1.8l-.8 1l-1 1l-1 .9l-1.6 1.1l-.4 .3l-2 1l-1.8 .7l-.2 .1l-2 .3l-2-.1h-2l-2 .2l-2 .6l-2 .6l-2 .2l-.7 .1l-1.3 .2l-2 .2l-2-.3l-.4-.1l-1.6-.4l-2-.7v-.5l2 .7l2 .5l2 .1l2-.1l2-.2l2-.3l2-.6l1.6-.5l.4-.1l2-.2h2l2 .1l2-.4l2-.8l1-.6l1-.6l1.9-1.4l.1-.1l1.9-1.9l.1-.2l1.2-1.8v-2l-1.2-1.5l-.4-.5l-1.6-1.6l-.4-.4l-1.6-1.2l-1.8-.8l-.2-.1l-2-.8l-2-.7l-1.6-.4l-.4-.1l-2-.6l-2-.4l-2-.3h-2l-.7 .1zM296.3 30h1.2l-.1 2l.6 1.1l.4 .9l1.6 1.4l.9 .6l1.1 .6l2 1.1l.6 .3l1.4 .6l2 .7l2 .3v.4v.2l-.9-.2l-1.1-.2l-2-.7l-2-.8l-.6-.3l-1.4-.7l-2-.9l-.7-.4l-1.3-1l-1-1l-.8-2zM43.7 46l.3-.3l2-.8l2 .9l.4 .2l1.6 1l2 .8l.4 .2l1.6 .4l2 .5l2 .6l1.9 .5h.1l2 .2h2l2-.2h.3l1.7-.1l1.6 .1h.4l2 .3l2-.2l.2-.1l1.8-.8l2-.7h2l2-.2h2l2 1.2l.5 .5l1 2l.3 2l.2 1l.5 1l1.5 1l2 .4l2-.1l1.8-1.3l.2-.1l2-.1l.9 .2l1.1 .7l2 .6l2-.9l1-.4l1-.8v.8v1l-2 .8l-.6 .2l-1.4 .2l-.8-.2l-1.2-.5l-2-1.4l-2 .4l-2 1.3h-2l-2-.4l-2-1.4l-.5-2l-.2-2l-1.3-2l-2-1.4l-2 .1l-2 .1h-2l-2 .8l-.9 .4l-1.1 .4l-2 .2l-2-.3l-2-.2l-2 .3l-2 .2h-2l-2-.2l-1.8-.4h-.2l-2-.6l-2-.5l-2-.5l-1-.4l-1-.4l-2-1.3l-.6-.3l-1.4-.7l-1.5 .7l-.5 .4l-1 1.6l-.8 2l-.2 .3l-1.6 1.7l-.4 .3l-1.7 1.7l-.3 .6l-1.2 1.4l-.8 1l-1.6 1l-.4 .3l-2 .5l-2-.1l-1.5-.7l-.5-.2l-2-1.5l-.3-.3l-1.7-1.4l-.7-.6l-1.3-1.1l-1.2-.9l-.8-.5l-2-.2l-2 .3l-2 .3l-1.4 .1h-.6l-2 .1h-2l-2-.1l-2 .5l-1.6 1.5l-.4 .6l-1 1.4l-.9 2l-.1 .2l-1.7 1.8l-.3 .3v-.3v-.7l1.1-1.3l.9-1l.5-1l1.4-2l.1-.2l2-1.7l.3-.1l1.7-.6l2 .1l2-.2l2-.2l2-.1l2-.2l2-.2l2 .2l2 1.2l2 1.6l.6 .4l1.4 1.1l1.3 .9l.7 .5l2 .9l2 .3l2-.4l2-1.2l.1-.1l1.8-2l.1-.1l1.8-1.9l.2-.2l1.6-1.8l.4-.7l.5-1.3zM238.8 52l1.2-.4l.6-.2l-.6 .6l.2 .2h-.2l-2 .3l-2 .9l-.9 .6l-1.1 .8l-.8 .4l-.4-.4l1.2-.5l.3-.3l1.7-1l2-.9zM309.2 54l.8-.9v.7l-.2 .2l-1.3 2l-.5 1.1l-.7 .9l-1.2 2l-.1 .2l-2 .1l-1.4-.3l-.6-.1l-2-.7l-2-.9l-.9-.3l-1.1-.6l-2-.7l-2-.4v-.3l.6-.6l1.4 .5l.2 .1l1.8 .7l2 1.1l.3 .2l1.7 .7l2 .6l2 .2l2-.6l.5-.9l1.5-2zM-2 68v-.7l1 .7l1 1.1l.3 .9l.4 2l.7 2l.6 1.2l.4 .8h-.4h-.9l-.6-2l-.5-2v-.2l-.5-1.8l-1.5-1.6zM302.5 68l1.5-.6l2 .1l.5 .5l1.3 2l.2 .9l.2 1.1l.6 2l1.1 2h-1.3l-.6-1.6l-.1-.4l-.6-2l-.4-2l-.9-1.4h-2l-2 1l-.5 .4l-1.5 1.9l-.1 .1l-1.2 2l-.7 1.8l-.1 .1l-1.4-1.4l.2-.5l1.3-1.8l.1-.2l1.7-2l.2-.1l2-1.7zM6 79.4v-.6l2 .3l2-.3l2 .2l1.9 1h.1l2 1.1l1.3 .9l.7 .9l.6 1.1l.9 2l.5 1.7l.1 .3l1.9 2l2 1l1.4 1l.6 .8l.6 1.2l.4 2l1 1.3l1.1 .7l.9 1.3l.7 .7l.2 1.1l-.7 .7l-.2-1l-.2-.8l-1.4-2l-.4-.3l-1.4-1.7l-.3-2l-.3-.5l-1.2-1.5l-.8-.6l-2-1.1l-.6-.3l-1.4-1.5l-.2-.5l-.7-2l-.8-2l-.3-.5l-1.1-1.5l-.9-.6l-2-1.1l-.9-.3l-1.1-.6l-2-.2l-2 .3zM249.9 86l.1-.1l.8 .1l1.2 .3l2 1.3l.4 .4l1.6 1.8l.1 .2l.7 2l1.2 1.5l.4 .5l1 2l.2 2l-.1 2l-.3 2l-.6 2l-.6 1.8l-.1 .2l-.3 2l.4 1.2l.3 .8l1.4 2l.1 .2l-1.3 1.3l-.5-1.1l-.2-.4l-.7-2l-.4-2l.2-2l.8-2l.3-.6l.5-1.4l.4-2l.2-2l-.1-2l-1-2l-1.6-2l-.4-1l-.8-1l-1.2-1.3l-2-.7l-1.5 2l-.2 2l-.1 2v2l-.1 2l-.1 .3l-.3 1.7l-.7 2l-1 1.5l-.6 .5l-1.4 1.5l-.5 .5l-1.2 2l-.3 1.1l-.3 .9l.1 2l.2 .6l.6 1.4l1.4 1.7l.3 .3l1.7 1.7l.4 .3l1.3 2l.3 1.7v.3v.3l-.2 1.7l-.9 2l-.9 1.4l-.6 .6l-1.3 2h-.1l-2-2l-.4-.4l.4-.1l2-1.2l.3-.3l1.7-1.9l.1-.1l-.1-.6l-.2-1.4l-.8-2l-1-1.2l-.8-.8l-1.2-1.1l-1-.9l-1-1.7v-.3v-2v-2l2-2v-2v-.1l1.9-1.9l.1-.1l2-1.7l.1-.2l.9-2l.6-2l.1-2v-2l-.1-2v-2v-2zM10.9 100l1.1-.6l2-.6l1.2 1.2v2v2l.4 2v2l.3 2l.1 .1l2 1.6l.2 .1l-.2 .2h-2l-2-2v-2l-2-2v-2l-2-2v-.8zM14 99.7l-.8 .3l.8 1.2l.3-1.2zM143.4 100l.6-.5v.5zM121.7 110l.3-.2l.2 .2l-.2 .2z"/><path fill="#fcd59b" stroke="#fcd59b" d="M215.2 8h.8h1.7l-.9 2l-.8 1.1l-.7 .9l-1.3 .9l-2 .9l-1.1 .2l-.9 .3l-2-.2l-2 .5l-.6 1.4l.6 1.4l.5 .6l1.4 2l.1 .1l.9 1.9l.6 2l.4 2l.1 .7l.3 1.3l.5 2l.1 2l-.3 2l-.3 2l-.3 2v.2l-.2 1.8v2l.2 2l.6 2l.1 2l-.3 2l.6 2l1 1.8l.2 .2l1.8 1.3l1 .7l1 .5l2 .9l2 .5l.6 .1l1.4 .2l2 .2l2-.1l.2-.1l.4 .4l-.6 .1h-2l-2-.1l-2-.4l-1.3-.2l-.7-.2l-2-.7l-1.9-1.1h-.1l-2-1.4l-.5-.6l-1-2l-.5-1.5l-.3-.5l.1-2l-.1-2l-.5-2l-.1-2l.1-2l.2-2l.2-2l.2-2l.2-2l-.2-2l-.4-2l-.5-2l-.5-2l-.4-.9l-.5-1.1l-1.1-2l-.4-.5l-1.1-1.5l-.9-1.9v-.1v-.1l.5-1.9l1.5-1l2 .1l2-.2l2-.8l.2-.1l1.8-1.4l.5-.6zM99.9 12h.1h1.2l-1 2l-.2 .4l-.8 1.6l-1 2l-.2 .4l-1 1.6l-1 1.3l-.6 .7l-.9 2l.3 2v2l-.5 2l-.3 1.4l-.1 .6v2l.1 .4l.3 1.6l.5 2l1.2 1.8l.1 .2l1.9 1.8l.4 .2l.9 2l-.1 2l.8 1l2 .2l1-1.2l-.8-2l-.2-.8l-.7-1.2l.5-2l-.2-2l-.6-2l-.3-2l.1-2l.3-2l.9-1.7l.2-.3l1.8-1.5l1.4-.5l.6-.2l2-.4l2-.3h2l2-.1l2-.6l2-.2l2 .5l2 .2l2-.1h2l2-.1l2-.6l.1-.1l1.9-.7l2-.3l2-.2l2-.1l2 .4l1.7 .9l.3 .3l1.5 1.7l.5 1.1l.4 .9h-.4h-.4l-1-2l-.6-.7l-1.6-1.3l-.4-.2l-2-.5h-2l-2 .2l-2 .4l-.4 .1l-1.6 .6l-2 .6l-2 .1l-2 .1h-2l-2-.2l-2-.4l-2 .1l-2 .6l-2 .2l-2 .1l-.8 .2l-1.2 .3l-2 .5l-2 1l-.3 .2l-1.5 2l-.2 .7l-.3 1.3l-.1 2l.4 2v.1l.5 1.9l.2 2l-.1 2l.6 2l.7 2l-1.4 2l-.5 .1l-.3-.1l-1.7-.5l-1.2-1.5l-.4-2l-.4-.7l-1.1-1.3l-.9-.9l-1.5-1.1l-.5-.9l-.5-1.1l-.4-2l-.2-2v-2l.4-2l.3-2l-.1-2l-.1-2l.6-1.7l.1-.3l1.8-2l.1-.2l1.2-1.8l.8-1.5l.2-.5l.9-2zM8.3 19.7l1-1l.7-.1h2l2 .3l2 .4l2 .6l.4 .1l1.6 .4l2 .7l2 .8l.2 .1l1.8 .8l1.6 1.2l.4 .4l1.6 1.6l.4 .5l1.2 1.5v2l-1.2 1.8l-.1 .2l-1.9 1.9l-.1 .1l-1.9 1.4l-1 .6l-1 .6l-2 .8l-2 .4l-2-.1h-2l-2 .2l-.4 .1l-1.6 .5l-2 .6l-2 .3l-2 .2l-2 .1l-2-.1l-2-.5l-2-.7v-.4v-.1l.4 .1l1.6 .6l2 .5l2 .1l2-.2l2-.2l2-.3l1.6-.5l.4-.1l2-.5l2-.2h2h2l2-.4l1.7-.8l.3-.2l2-1.2l.8-.6l1.2-1l1-1l1-1.6l.3-.4l-.3-2l-1.6-2l-.4-.4l-2-1.6l-2-1.1l-2-.8l-.3-.1l-1.7-.7l-2-.5l-2-.6l-1-.2l-1-.2l-2-.4l-2 .1zM298 30l.9-.9l-.5 .9v2l1.1 2l.5 .4l2 1.5l.2 .1l1.8 1.1l1.7 .9l.3 .1l2 .7l2 .3v.5l-2-.3l-2-.7l-1.4-.6l-.6-.3l-2-1.1l-1.1-.6l-.9-.6l-1.6-1.4l-.4-.9l-.6-1.1l.1-2zM44.5 46l1.5-.7l1.4 .7l.6 .3l2 1.3l1 .4l1 .4l2 .5l2 .5l2 .6h.2l1.8 .4l2 .2h2l2-.2l2-.3l2 .2l2 .3l2-.2l1.1-.4l.9-.4l2-.8h2l2-.1l2-.1l2 1.4l1.3 2l.2 2l.5 2l2 1.4l2 .4h2l2-1.3l2-.4l2 1.4l1.2 .5l.8 .2l1.4-.2l.6-.2l2-.8v1l-.2 .2l-1.8 .4l-2 .2l-2-.6l-.3-.2l-1.7-1.2l-2 .5l-1.3 .7l-.7 .1l-2 .1l-1.2-.2l-.8-.2l-2-1.3l-.3-.5l-.4-2l-.3-2l-1-1.6l-.4-.4l-1.6-1.2l-2 .2l-2 .2l-2-.1l-2 .9h-.1l-1.9 .7l-2 .2l-2-.4l-2-.1l-2 .3l-2 .3h-2l-2-.3l-2-.5l-1.5-.2l-.5-.2l-2-.4l-2-.5l-2-.8l-.2-.1l-1.8-1.1l-1.5-.9l-.5-.2l-.5 .2l-1.5 1.1l-.5 .9l-.8 2l-.7 .9l-1 1.1l-1 .6l-1.3 1.4l-.7 1.3l-.6 .7l-1.4 1.9l-.2 .1l-1.8 1.3l-2 .7l-2-.1l-2-.9l-1.2-1l-.8-.6l-1.6-1.4l-.4-.3l-1.8-1.7l-.2-.2l-2-1.6l-2-.2l-2 .4l-2 .3h-2h-2l-2-.1l-2-.2l-2 .5l-1.2 1.1l-.8 1.4l-.4 .6l-1 2l-.6 1.4l-.6 .6l-1.4 1.2v-.9l.3-.3l1.7-1.8l.1-.2l.9-2l1-1.4l.4-.6l1.6-1.5l2-.5l2 .1h2l2-.1h.6l1.4-.1l2-.3l2-.3l2 .2l.8 .5l1.2 .9l1.3 1.1l.7 .6l1.7 1.4l.3 .3l2 1.5l.5 .2l1.5 .7l2 .1l2-.5l.4-.3l1.6-1l.8-1l1.2-1.4l.3-.6l1.7-1.7l.4-.3l1.6-1.7l.2-.3l.8-2l1-1.6zM235.1 54l.9-.6l2-.9l2-.3h.2l.5 .5l-.7-.1l-2 .2l-2 1.1l-.2 .1l-1.8 1.3l-.4 .3l-.4-.4l.8-.4zM309.8 54l.2-.2v.2v.5l-1 1.5l-.9 2l-.1 .2l-1.1 1.8l-.9 1.1l-2 .1l-2-.7l-1-.5l-1-.4l-2-.9l-2-.7h-.2l-1.8-.5l-2-.3v-.9l2 .4l2 .7l1.1 .6l.9 .3l2 .9l2 .7l.6 .1l1.4 .3l2-.1l.1-.2l1.2-2l.7-.9l.5-1.1zM-2 67.3v-.9l2 1.3l.2 .3l.7 2l.5 2l.6 1.3l.3 .7l1.1 2h-1l-.4-.8l-.6-1.2l-.7-2l-.4-2l-.3-.9l-1-1.1zM300.9 68l1.1-.7l2-.9l2 .2l1.4 1.4l.6 .9l.4 1.1l.4 2l.9 2l.3 .6v1.4h-.1l-1.1-2l-.6-2l-.2-1.1l-.2-.9l-1.3-2l-.5-.5l-2-.1l-1.5 .6l-.5 .2l-2 1.7l-.2 .1l-1.7 2l-.1 .2l-1.3 1.8l-.2 .5l-.5-.5l-.6-.6l.6-.7l.5-.7l1.5-1.4l.5-.6l1.5-1.2zM6 78.8v-.6l2 .6l2-.4l2 .2l2 1.1l.4 .3l1.6 .8l1.8 1.2l.2 .3l1 1.7l.9 2l.1 .5l.3 1.5l1.7 1.7l.8 .3l1.2 .6l1.9 1.4l.1 .1l1 1.9l.3 2l.7 .9l1.8 1.1l.2 .3l1.5 1.7l.1 .4l-.7 .7l-.2-1.1l-.7-.7l-.9-1.3l-1.1-.7l-1-1.3l-.4-2l-.6-1.2l-.6-.8l-1.4-1l-2-1l-1.9-2l-.1-.3l-.5-1.7l-.9-2l-.6-1.1l-.7-.9l-1.3-.9l-2-1.1h-.1l-1.9-1l-2-.2l-2 .3zM248.7 86l1.3-1.3l2 .5l1.3 .8l.7 .5l1.4 1.5l.6 .6l.7 1.4l.5 2l.8 .9l.9 1.1l.9 2l.2 1.3l.1 .7v2l-.1 1.1l-.1 .9l-.5 2l-.6 2l-.3 2l1 2l.5 .6l.8 .6l-.8 .8l-.2 .2l-.1-.2l-1.4-2l-.3-.8l-.4-1.2l.3-2l.1-.2l.6-1.8l.6-2l.3-2l.1-2l-.2-2l-1-2l-.4-.5l-1.2-1.5l-.7-2l-.1-.2l-1.6-1.8l-.4-.4l-2-1.3l-1.2-.3l-.8-.1l-.1 .1l-.3 2v2v2l.1 2v2l-.1 2l-.6 2l-.9 2l-.1 .2l-2 1.7l-.1 .1l-1.9 1.9v-1.5l.4-.4l1.6-1.1l1-.9l1-1.2l.4-.8l.7-2l.2-2l-.2-2l-.1-2l-.2-2l-.2-2zM143.8 97.8l.2 .2v1.5l-.6 .5h-1.4h-.6l.6-.6l1.7-1.4zM13.2 100l.8-.3l.3 .3l-.3 1.2zM119.5 110l.5-.5l2-.8l1.5 1.3l-1.5 2h-.1l-1.9-.6zM122 109.8l-.3 .2l.3 .2l.2-.2zM242 116v-1.7l1 1.7l1 .9l1.2 1.1l.8 .8l1 1.2l.8 2l.2 1.4l.1 .6l-.1 .1l-1.7 1.9l-.3 .3l-2 1.2l-.4 .1l-1.6-1.6l-1.7-1.7h1.7l2-.2l.2-.1l1-2l-.8-2l-.4-.3l-2-.8l-.8-.1l.8-.8z"/><path fill="#fbc48d" stroke="#fbc48d" d="M211.7 10l.3-.8l.5-1.2h1.5h1.2l-.7 2l-.5 .6l-1.8 1.4l-.2 .1l-2 .8l-2 .2l-2-.1l-1.5 1l-.5 1.9v.1v.1l.9 1.9l1.1 1.5l.4 .5l1.1 2l.5 1.1l.4 .9l.5 2l.5 2l.4 2l.2 2l-.2 2l-.2 2l-.2 2l-.2 2l-.1 2l.1 2l.5 2l.1 2l-.1 2l.3 .5l.5 1.5l1 2l.5 .6l2 1.4h.1l1.9 1.1l2 .7l.7 .2l1.3 .2l2 .4l2 .1h2l.6-.1l.4 .4l-1 .1h-2l-2-.2l-2-.4l-2-.3l-.9-.2l-1.1-.4l-2-1l-1.1-.6l-.9-.6l-1.2-1.4l-.8-2l-1.2-2l-.1-2l.1-2l-.3-2l-.1-2l.1-2l.3-2l.2-2l.1-2l.1-2l-.2-2l-.5-2l-.5-1.9v-.1l-.7-2l-.9-2l-.4-.6l-.9-1.4l-1.1-1.4l-.6-.6l-1-2l.1-2l1.5-1.8l.7-.2l1.3-.3l.8 .3l1.2 .2l1-.2l1-.6zM101.2 12h.8h.5l-.5 .8l-.6 1.2l-1.2 2l-.2 .4l-.7 1.6l-1.3 2v.1l-1.2 1.9l-.8 1.9l-.1 .1l.1 1.7v.3v.1l-.1 1.9l-.6 2l-.5 2l.3 2l.5 2l.4 1.5l.2 .5l1.4 2l.4 .4l2 1l.7-1.4v-2l-.6-2l-.1-.4l-.3-1.6l.1-2l.2-1.9v-.1l.5-2l1.5-1.6l.5-.4l1.5-.8l2-.5l2-.3l2-.1l2 .2h2l1.5-.5l.5-.2l2-.2l1 .4l1 .3l2 .1l2-.2h2h2l.6-.2l1.4-.5l2-.7l2-.3l2-.2l2-.1l2 .2l2 1l.8 .6l1.2 1.4l.4 .6l.8 2h-.8l-.4-.9l-.5-1.1l-1.5-1.7l-.3-.3l-1.7-.9l-2-.4l-2 .1l-2 .2l-2 .3l-1.9 .7l-.1 .1l-2 .6l-2 .1h-2l-2 .1l-2-.2l-2-.5l-2 .2l-2 .6l-2 .1h-2l-2 .3l-2 .4l-.6 .2l-1.4 .5l-1.8 1.5l-.2 .3l-.9 1.7l-.3 2l-.1 2l.3 2l.6 2l.2 2l-.5 2l.7 1.2l.2 .8l.8 2l-1 1.2l-2-.2l-.8-1l.1-2l-.9-2l-.4-.2l-1.9-1.8l-.1-.2l-1.2-1.8l-.5-2l-.3-1.6l-.1-.4v-2l.1-.6l.3-1.4l.5-2v-2l-.3-2l.9-2l.6-.7l1-1.3l1-1.6l.2-.4l1-2l.8-1.6l.2-.4zM100 44.4l-.3 1.6l.3 .4l2-.2l.2-.2l-.2-.4zM8 20l.3-.3l1.7-.2l2-.1l2 .4l1 .2l1 .2l2 .6l2 .5l1.7 .7l.3 .1l2 .8l2 1.1l2 1.6l.4 .4l1.6 2l.3 2l-.3 .4l-1 1.6l-1 1l-1.2 1l-.8 .6l-2 1.2l-.3 .2l-1.7 .8l-2 .4h-2h-2l-2 .2l-2 .5l-.4 .1l-1.6 .5l-2 .3l-2 .2l-2 .2l-2-.1l-2-.5l-1.6-.6l-.4-.1v-.5l1.8 .6l.2 .1l2 .5h2l2-.1l2-.3l1.4-.2l.6-.1l2-.5l2-.4l2-.3l2-.1l2 .1l2-.5l.5-.2l1.5-.8l1.8-1.2l.2-.2l2-1.7l.1-.1l1.3-2l-.4-2l-1-1.2l-.8-.8l-1.2-.9l-1.7-1.1l-.3-.2l-2-.8l-2-.8l-.8-.2l-1.2-.4l-2-.5l-2-.5l-2-.4l-2 .2l-2 .3l-.8 .1zM300 28l2-2h.8l-.8 .6l-1.5 1.4l-.5 .6l-.8 1.4v2l.8 1.3l.6 .7l1.4 1.1l1.1 .9l.9 .6l2 1l1.3 .4l.7 .2l2 .4v.5l-2-.3l-2-.7l-.3-.1l-1.7-.9l-1.8-1.1l-.2-.1l-2-1.5l-.5-.4l-1.1-2v-2l.5-.9zM45.5 46l.5-.2l.5 .2l1.5 .9l1.8 1.1l.2 .1l2 .8l2 .5l2 .4l.5 .2l1.5 .2l2 .5l2 .3h2l2-.3l2-.3l2 .1l2 .4l2-.2l1.9-.7h.1l2-.9l2 .1l2-.2l2-.2l1.6 1.2l.4 .4l1 1.6l.3 2l.4 2l.3 .5l2 1.3l.8 .2l1.2 .2l2-.1l.7-.1l1.3-.7l2-.5l1.7 1.2l.3 .2l2 .6l2-.2l1.8-.4l-.9 .9l-.9 .2h-2l-2-.6l-1.2-.7l-.8-.6l-1.9 .6h-.1l-2 .4l-2 .1l-2-.4l-.4-.1l-1.6-1.1l-.7-.9l-.2-2l-.3-2l-.8-1.2l-.8-.8l-1.2-.9l-2 .2l-2 .2l-2-.1l-1.4 .6l-.6 .3l-2 .7l-2 .2l-2-.5l-2-.1l-2 .5l-2 .3h-2l-2-.3l-2-.6l-2-.3l-1.6-.2l-.4-.1l-2-.5l-2-.7l-1-.7l-1-.6l-2-1.2l-2 1.7l-.1 .1l-.7 2l-1.2 1.6l-.3 .4l-1.7 1l-1 1l-.9 2l-.1 .1l-1.3 1.9l-.7 .8l-1.6 1.2l-.4 .4l-2 1l-2 .3l-2-1.4l-.2-.3l-1.8-1.5l-.6-.5l-1.4-1.2l-.8-.8l-1.2-1.2l-.8-.8l-1.2-1l-2-.2l-2 .4l-2 .2h-2l-2-.1l-2-.3l-2-.2l-2 .5l-.8 .7l-1.1 2l-.1 .2l-.9 1.8l-.8 2l-.3 .6l-1.7 1.4l-.3 .6v-.6v-.8l1.4-1.2l.6-.6l.6-1.4l1-2l.4-.6l.8-1.4l1.2-1.1l2-.5l2 .2l2 .1h2h2l2-.3l2-.4l2 .2l2 1.6l.2 .2l1.8 1.7l.4 .3l1.6 1.4l.8 .6l1.2 1l2 .9l2 .1l2-.7l1.8-1.3l.2-.1l1.4-1.9l.6-.7l.7-1.3l1.3-1.4l1-.6l1-1.1l.7-.9l.8-2l.5-.9zM235.8 54l.2-.1l2-1.1l2-.2l.7 .1l.6 .6l-1.3-.2h-2l-1.6 .9l-.4 .3l-2 1.6h-.1l-.3-.3l.4-.3zM309 56l1-1.5v.7l-.6 .8l-.9 2l-.5 1.4l-.4 .6l-1.6 2h-.6l-1.4 .3l-.1-.3l-1.9-.8l-2-1.1l-.2-.1l-1.8-.9l-2-.7l-2-.2l-2-.1h-.1l.1-.1v-.8l2 .3l1.8 .5h.2l2 .7l2 .9l1 .4l1 .5l2 .7l2-.1l.9-1.1l1.1-1.8l.1-.2zM229.8 58.2l.2-.2h.2l-.2 .1zM-2 66v-1.1l.8 1.1l1.2 .8l.8 1.2l.7 2l.5 1.7l.1 .3l1.1 2l.8 1.4l.4 .6l1.6 1.5l.7 .5l1.3 .4l1.8-.4l.2-.1l.3 .1l1.7 .3l2 1.1l1 .6l1 .5l2 1.3l.2 .2l1.2 2l.6 1.5l.2 .5l.4 2l1.4 1.4l1.6 .6l.4 .2l2 1.4l.4 .4l1 2l.3 2l.3 .4l2 1.2l.6 .4l1.4 1.6l.2 .2l-.2 .2l-.4 .4l-.1-.4l-1.5-1.7l-.2-.3l-1.8-1.1l-.7-.9l-.3-2l-1-1.9l-.1-.1l-1.9-1.4l-1.2-.6l-.8-.3l-1.7-1.7l-.3-1.5l-.1-.5l-.9-2l-1-1.7l-.2-.3l-1.8-1.2l-1.6-.8l-.4-.3l-2-1.1l-2-.2l-2 .4l-2-.6v-.2l-2-2h-.6l-1.1-2l-.3-.7l-.6-1.3l-.5-2l-.7-2l-.2-.3l-2-1.3zM302.9 66l1.1-1l2 .4l.4 .6l1.6 1.6l.2 .4l.7 2l.6 2l.5 1.1v.9v.6l-.3-.6l-.9-2l-.4-2l-.4-1.1l-.6-.9l-1.4-1.4l-2-.2l-2 .9l-1.1 .7l-.9 .8l-1.5 1.2l-.5 .6l-1.5 1.4l-.5 .7l-.6 .7l-1.1-1.1l.3-.3l1.4-1.1l1-.9l1-.7l1.6-1.3l.4-.2l2-1.4zM249.4 84l.6-.3l1.4 .3l.6 .2l2 1.3l.5 .5l1.5 1.5l.3 .5l1 2l.4 2l.3 .4l1.3 1.6l.7 1.5l.2 .5l.3 2v2l.1 2l-.3 2l-.3 .8l-.4 1.2l-.3 2l.7 1.1l1.4 .9l.3 .3l-.9 .9l-.8-.6l-.5-.6l-1-2l.3-2l.6-2l.5-2l.1-.9l.1-1.1v-2l-.1-.7l-.2-1.3l-.9-2l-.9-1.1l-.8-.9l-.5-2l-.7-1.4l-.6-.6l-1.4-1.5l-.7-.5l-1.3-.8l-2-.5l-1.3 1.3l-.1 2l.2 2l.2 2l.1 2l.2 2l-.2 2l-.7 2l-.4 .8l-1 1.2l-1 .9l-1.6 1.1l-.4 .4v-.4v-.8l1.7-1.2l.3-.2l1.6-1.8l.4-.5l.7-1.5l.1-2l-.2-2l-.2-2l-.3-2l-.1-.8l-.2-1.2l-.1-2l.3-.6zM141.6 98l.4-.4l.8-.8l1 1l-.1 .2l-1.7 1.4l-.6 .6h-1.4l-.1-.1l.1-.1zM119.2 108l.8-.3h2l.8 .3l1.2 1l1 1l-.2 2l-.8 .6l-2 1.2l-.7 .2l-.9 .4l-.4-.4h-2l-.4-.4l-.6-1.6l.5-2l.5-.6zM120 109.5l-.5 .5l.5 1.4l1.9 .6h.1l1.5-2l-1.5-1.3zM129.9 112l.1-.1v.1l-.2 .2zM128 116v-.1v.1v2h-1zM240 120l1.2-1.2l.8 .1l2 .8l.4 .3l.8 2l-1 2l-.2 .1l-2 .2h-1.7l-.3-.3v-2z"/><path fill="#f9b37f" stroke="#f9b37f" d="M206 10l1.6-1.6l.2 1.6h.2h.1l.2-2h1.7h2h.5l-.5 1.2l-.3 .8l-1.7 1.4l-1 .6l-1 .2l-1.2-.2l-.8-.3l-1.3 .3l-.7 .2l-1.5 1.8l-.1 2l1 2l.6 .6l1.1 1.4l.9 1.4l.4 .6l.9 2l.7 2v.1l.5 1.9l.5 2l.2 2l-.1 2l-.1 2l-.2 2l-.3 2l-.1 2l.1 2l.3 2l-.1 2l.1 2l1.2 2l.8 2l1.2 1.4l.9 .6l1.1 .6l2 1l1.1 .4l.9 .2l2 .3l2 .4l2 .2h2l1-.1l.3 .3l-1.3 .2h-2l-2-.2l-2-.5l-2-.2l-2-.5l-.3-.1l-1.7-.8l-2-1l-.2-.2l-1.6-2l-.2-.4l-1.1-1.6l-.9-1.8l-.1-.2l-.4-2l.5-2l-.3-2l-.1-2l.2-2l.2-.7l.2-1.3l.2-2v-2v-2l-.3-2l-.1-.6l-.3-1.4l-.7-2l-.8-2l-.2-.4l-.8-1.6l-1.2-1.7l-.3-.3l-1.7-1.7l-.5-.3l-1.3-2l-.2-1.5l-.1-.5l.1-.3l.4-1.7l1.6-2h2zM101.4 14l.6-1.2l.5-.8h1.5h.1l-.1 .2l-1.1 1.8l-.9 .9l-.6 1.1l-1 2l-.4 1.1l-.4 .9l-1.2 2l.3 2l1.3 .9l2-.6l.9-.3l1.1-.3l2-.3l2-.1h2l2 .4l1.6 .3h.4h.1l1.9-1l2-.1l2 .8l2 .2l2-.3h2l2 .1l2-.7l2-.7l2-.3l2-.1l2-.3l2 .2l.8 .2l1.2 .5l2 1.5v.1l1.3 1.9l.6 2h-.7l-.8-2l-.4-.6l-1.2-1.4l-.8-.6l-2-1l-2-.2l-2 .1l-2 .2l-2 .3l-2 .7l-1.4 .5l-.6 .2h-2h-2l-2 .2l-2-.1l-1-.3l-1-.4l-2 .2l-.5 .2l-1.5 .5h-2l-2-.2l-2 .1l-2 .3l-2 .5l-1.5 .8l-.5 .4l-1.5 1.6l-.5 2v.1l-.2 1.9l-.1 2l.3 1.6l.1 .4l.6 2v2l-.7 1.4l-2-1l-.4-.4l-1.4-2l-.2-.5l-.4-1.5l-.5-2l-.3-2l.5-2l.6-2l.1-1.9v-.1v-.3l-.1-1.7l.1-.1l.8-1.9l1.2-1.9v-.1l1.3-2l.7-1.6l.2-.4zM98 29.5l-.5 .5l-1.5 .9l-.3 1.1l.3 1.2l1.7 .8l.3 .4l.1-.4l.5-2l-.4-2zM6.1 21.9l1.1-1.1l.8-.1l2-.3l2-.2l2 .4l2 .5l2 .5l1.2 .4l.8 .2l2 .8l2 .8l.3 .2l1.7 1.1l1.2 .9l.8 .8l1 1.2l.4 2l-1.3 2l-.1 .1l-2 1.7l-.2 .2l-1.8 1.2l-1.5 .8l-.5 .2l-2 .5l-2-.1l-2 .1l-2 .3l-2 .4l-2 .5l-.6 .1l-1.4 .2l-2 .3l-2 .1h-2l-2-.5l-.2-.1l-1.8-.6v-.5l2 .6l1.7 .5l.3 .1h2l1-.1l1-.1l2-.2l2-.2l2-.5l2-.5l2-.3l2-.1h2l.6-.1l1.4-.4l2-1.1l.8-.5l1.2-1.1l1.1-.9l.9-1l.7-1l-.7-1.8l-.1-.2l-1.9-1.9l-.2-.1l-1.8-1.2l-1.7-.8l-.3-.1l-2-.8l-2-.7l-1.7-.4l-.3-.1l-2-.5l-2-.3l-2 .2l-2 .3zM3.4 22.6l.6-.6h1.6l-1.6 .3zM300.5 28l1.5-1.4l.8-.6h1.2h.5l-.5 .4l-2 1.5l-.2 .1l-1.8 2v1.4v.6l1.6 2l.4 .3l2 1.7l2 1.1l2 .6l1.4 .3l.6 .1v.5l-2-.4l-.7-.2l-1.3-.4l-2-1l-.9-.6l-1.1-.9l-1.4-1.1l-.6-.7l-.8-1.3v-2l.8-1.4zM99.7 46l.3-1.6l2 1.2l.2 .4l-.2 .2l-2 .2zM43.9 48l.1-.1l2-1.7l2 1.2l1 .6l1 .7l2 .7l2 .5l.4 .1l1.6 .2l2 .3l2 .6l2 .3h2l2-.3l2-.5l2 .1l2 .5l2-.2l2-.7l.6-.3l1.4-.6l2 .1l2-.2l2-.2l1.2 .9l.8 .8l.8 1.2l.3 2l.2 2l.7 .9l1.6 1.1l.4 .1l2 .4l2-.1l2-.4h.1l1.9-.6l.8 .6l1.2 .7l2 .6h2l.9-.2l-.8 .8h-.1l-2-.1l-2-.6l-2-1.2l-2 .2l-2 .4l-2 .2l-2-.4l-1.1-.4l-.9-.6l-1-1.4l-.2-2l-.3-2l-.5-.8l-1.2-1.2l-.8-.6l-2 .2l-2 .2l-2-.2l-.8 .4l-1.2 .6l-2 .7l-2 .2l-2-.6h-2l-2 .6l-2 .3h-2l-2-.4l-2-.6l-2-.3l-2-.2l-1.8-.3h-.2l-2-.8l-1.8-1.2l-.2-.1l-2-1.2l-1.5 1.3l-.5 1.2l-.3 .8l-1.4 2l-.3 .3l-2 1.1l-.6 .6l-.8 2l-.6 1.3l-.5 .7l-1.5 1.9l-.2 .1l-1.8 1.7l-.6 .3l-1.4 1.4l-.9 .6l-1.1 1.9v.1l-2 .8l-.7-.8l.5-2l-.1-2l-1.4-2l-.3-.2l-1.9-1.8l-.1-.1l-1.9-1.9l-.1-.1l-1.8-1.9l-.2-.2l-2-.3l-2 .4l-.9 .1l-1.1 .1h-2l-.9-.1l-1.1-.1l-2-.4l-2-.3l-2 .5l-.3 .3l-1.2 2l-.5 1.2l-.4 .8l-.7 2l-.9 1.8l-.2 .2l-1.1 2l1.3 1.6l.2 .4l1.3 2l.5 2l.8 2l1.2 2l1.3 2l.7 .6l1.8 1.4l.2 .1l.2-.1l1.8-.6l2 .4l.2 .2l1.8 1.1l1.5 .9l.5 .3l2 1.1l.5 .6l1.2 2l.3 .6l.5 1.4l.4 2l1.1 1.1l2 .8l.3 .1l1.7 1.1l.8 .9l.9 2l.3 2l2 1.1l1.5 .9l.5 .5l.8 .7l-.6 .6l-.2-.2l-1.4-1.6l-.6-.4l-2-1.2l-.3-.4l-.3-2l-1-2l-.4-.4l-2-1.4l-.4-.2l-1.6-.6l-1.4-1.4l-.4-2l-.2-.5l-.6-1.5l-1.2-2l-.2-.2l-2-1.3l-1-.5l-1-.6l-2-1.1l-1.7-.3l-.3-.1l-.2 .1l-1.8 .4l-1.3-.4l-.7-.5l-1.6-1.5l-.4-.6l-.8-1.4l-1.1-2l-.1-.3l-.5-1.7l-.7-2l-.8-1.2l-1.2-.8l-.8-1.1v-.9v-1.4l.3-.6l1.7-1.4l.3-.6l.8-2l.9-1.8l.1-.2l1.1-2l.8-.7l2-.5l2 .2l2 .3l2 .1h2l2-.2l2-.4l2 .2l1.2 1l.8 .8l1.2 1.2l.8 .8l1.4 1.2l.6 .5l1.8 1.5l.2 .3l2 1.4l2-.3l2-1l.4-.4l1.6-1.2l.7-.8l1.3-1.9l.1-.1l.9-2l1-1l1.7-1l.3-.4l1.2-1.6zM236.4 54l1.6-.9h2l1.3 .2l.5 .5l-1.8-.2l-2-.1l-1 .5l-1 .8l-1.5 1.2l-.5 .4l-1 .6l1-1l-.1-.1h.1l2-1.6zM309.4 56l.6-.8v.7l-.1 .1l-.9 2l-.7 2l-.3 .8l-.9 1.2l-.8 2l1.2 2l.5 .5l.9 1.5l.5 2l.6 1.7v.3v1.1l-.5-1.1l-.6-2l-.7-2l-.2-.4l-1.6-1.6l-.4-.6l-2-.4l-1.1 1l-.9 .4l-2 1.4l-.4 .2l-1.6 1.3l-1 .7l-1 .9l-1.4 1.1l-.3 .3l-.3-.3l-.8-.8l.8-.4l1-.8l1-.5l2-1.3l.2-.2l1.8-1l1.4-1l.6-.7l1.4-1.3l-1-2l-.4-.2l-2-1.2l-1-.6l-1-.5l-2-.6l-2-.1l-2 .2l-1.3 .3l1.2-1.2h.1l2 .1l2 .2l2 .7l1.8 .9l.2 .1l2 1.1l1.9 .8l.1 .3l1.4-.3h.6l1.6-2l.4-.6l.5-1.4zM229.2 58.8l.6-.6l.2-.1l.2-.1h1l-1.2 .5zM247.9 84h.1l2-.9l2 .3l1.2 .6l.8 .5l1.5 1.5l.5 .5l1 1.5l.9 2l.1 .9l.2 1.1l1.6 2l.2 .5l.6 1.5l.2 2l.2 2l.2 2v2l-.4 2l-.1 2l1.3 .7l.9 .4l-.9 .9l-.3 .3l-.3-.3l-1.4-.9l-.7-1.1l.3-2l.4-1.2l.3-.8l.3-2l-.1-2v-2l-.3-2l-.2-.5l-.7-1.5l-1.3-1.6l-.3-.4l-.4-2l-1-2l-.3-.5l-1.5-1.5l-.5-.5l-2-1.3l-.6-.2l-1.4-.3l-.6 .3l-1.4 1.4l-.3 .6l.1 2l.2 1.2l.1 .8l.3 2l.2 2l.2 2l-.1 2l-.7 1.5l-.4 .5l-1.6 1.8l-.3 .2l-1.7 1.2v-1.2l.1-.1l1.9-1.2l.7-.7l1.3-1.5l.2-.5l.1-2l-.2-2l-.1-.9l-.1-1.1l-.4-2l-.4-2l-.1-2zM139.8 98l.2-.4l1.5-1.6h.5l.8 .8l-.8 .8l-.4 .4l-1.6 1.8l-.1 .1l-.9-.9zM116.5 108l1.5-1.1l2-.3l2 .3l2 .8l.7 .3l1.3 1.3l1.4 .7l.6 .5l2-.4v1.8l-.1 .1l-.1 .2l-1.8 1.8v1.9v.1l-1 2h-1h-1.9l1.9-1.2l.5-.8l-.5-1.2l-2-.2l-1.5 1.4l1.3 2h-1.8v-2l-1.6-1.6l.9-.4l.7-.2l2-1.2l.8-.6l.2-2l-1-1l-1.2-1l-.8-.3h-2l-.8 .3l-1.2 1.4l-.5 .6l-.5 2l.6 1.6l-1.6-1.6l-1.6-1.6l.3-.4l1.3-1.2z"/><path fill="#f8a270" stroke="#f8a270" d="M207.6 8.4l.4-.4h.3l-.2 2h-.1h-.2zM200 12l2-2l-1.6 2l-.4 1.7l-.1 .3l.1 .5l.2 1.5l1.3 2l.5 .3l1.7 1.7l.3 .3l1.2 1.7l.8 1.6l.2 .4l.8 2l.7 2l.3 1.4l.1 .6l.3 2v2v2l-.2 2l-.2 1.3l-.2 .7l-.2 2l.1 2l.3 2l-.5 2l.4 2l.1 .2l.9 1.8l1.1 1.6l.2 .4l1.6 2l.2 .2l2 1l1.7 .8l.3 .1l2 .5l2 .2l2 .5l2 .2h2l1.3-.2l.4 .4l-1.7 .2h-2l-2-.2l-2-.6l-2-.1l-2-.3l-1.6-.7l-.4-.2l-2-.8l-1.3-1l-.7-.9l-.9-1.1l-1.1-1.8l-.2-.2l-1.4-2l-.4-.9l-.4-1.1l.4-1l.4-1l.4-2v-2l.3-2l.5-2l.1-2l-.1-2v-2l-.3-2l-.4-2l-.8-2l-.1-.2l-.9-1.8l-1-2l-.1-.1l-1.9-1.9l-.1-.1l-2-.8l-2-.8l-.2-.3l-.7-2l-.1-1l1-1zM102.9 14l1.1-1.8l.1-.2h1.9l-1.3 2l-.7 .8l-1 1.2l-1 1.2l-.4 .8v2l.4 1l2 .8h2l2 .2h.1l1.9 .2l2 .4l2 .3l2-.6h2l2 .6l2 .2l2-.2l2 .1l2 .1l2-.7l1.3-.4l.7-.3l2-.2h2l2-.4h2l2 .5l.6 .4l1.4 1l1 1l1 1.6l.3 .4l.4 1.3l-.7 .7h-.1l-.6-2l-1.3-1.9v-.1l-2-1.5l-1.2-.5l-.8-.2l-2-.2l-2 .3l-2 .1l-2 .3l-2 .7l-2 .7l-2-.1h-2l-2 .3l-2-.2l-2-.8l-2 .1l-1.9 1h-.1h-.4l-1.6-.3l-2-.4h-2l-2 .1l-2 .3l-1.1 .3l-.9 .3l-2 .6l-1.3-.9l-.3-2l1.2-2l.4-.9l.4-1.1l1-2l.6-1.1zM6 22l.1-.1l1.9-.3l2-.3l2-.2l2 .3l2 .5l.3 .1l1.7 .4l2 .7l2 .8l.3 .1l1.7 .8l1.8 1.2l.2 .1l1.9 1.9l.1 .2l.7 1.8l-.7 1l-.9 1l-1.1 .9l-1.2 1.1l-.8 .5l-2 1.1l-1.4 .4l-.6 .1h-2l-2 .1l-2 .3l-2 .5l-2 .5l-2 .2l-2 .2l-1 .1l-1 .1h-2l-.3-.1l-1.7-.5l-2-.6v-.5l2 .6l2 .6h2l2-.1l2-.3l2-.2l2-.5l1.9-.5h.1l2-.3l2-.1h2l2-.5l1.7-1.1l.3-.2l2-1.8l1.8-2l-1.1-2l-.7-.6l-1.6-1.4l-.4-.3l-2-1l-1.8-.7l-.2-.1l-2-.6l-2-.6l-2-.4l-2-.3l-2 .2l-2 .2l-2 .4l-2 .5l-1.9 .7h-.1l1.4-1.4l.6-.3l1.6-.3zM-2 26.7v-.7l.4 .4zM301.8 28l.2-.1l2-1.5l.5-.4h1.5v.2l-2 1.6l-.2 .2l-1.8 .9l-1 1.1l-.2 2l1.2 1.4l.7 .6l1.3 1.1l.9 .9l1.1 .6l2 .6l2 .4v.4v.1l-.6-.1l-1.4-.3l-2-.6l-2-1.1l-2-1.7l-.4-.3l-1.6-2v-.6v-1.4zM97.5 30l.5-.5l.2 .5l.4 2l-.5 2l-.1 .4l-.3-.4l-1.7-.8l-.3-1.2l.3-1.1zM44.5 48l1.5-1.3l2 1.2l.2 .1l1.8 1.2l2 .8h.2l1.8 .3l2 .2l2 .3l2 .6l2 .4h2l2-.3l2-.6h2l2 .6l2-.2l2-.7l1.2-.6l.8-.4l2 .2l2-.2l2-.2l.8 .6l1.2 1.2l.5 .8l.3 2l.2 2l1 1.4l.9 .6l1.1 .4l2 .4l2-.2l2-.4l2-.2l2 1.2l2 .6l2 .1h.1l-.1 .1l.6 .6l-.6-.1l-2-.2l-1.1-.3l-.9-.3l-2-1.1l-2-.1l-2 .4l-2 .2l-2-.5l-1.7-.6l-.3-.2l-1.3-1.8l-.1-2l-.3-2l-.3-.4l-1.6-1.6l-.4-.3l-2 .2l-.6 .1l-1.4 .1l-1.2-.1l-.8-.1l-.2 .1l-1.8 .8l-2 .8l-2 .1l-2-.5l-2-.1l-2 .7l-.9 .2l-1.1 .2h-2l-.9-.2l-1.1-.3l-2-.7l-2-.3h-2l-2-.3l-1.4-.4l-.6-.2l-2-1.2l-.7-.6l-1.3-.8l-.9 .8l-.7 2l-.4 .5l-1 1.5l-1 .9l-2 .9l-.2 .2l-.7 2l-.8 2l-.3 .5l-1.1 1.5l-.9 1l-1 1l-1 1.3l-.7 .7l-1.3 2l-2 1.8l-1.2 .2l-.8 .1l-.1-.1l-1.8-2l.1-2l.3-2l-.5-.6l-1.1-1.4l-.9-.9l-1.1-1.1l-.9-.9l-1.1-1.1l-.9-1l-2-.6l-2 .4l-2 .1h-2l-2-.4l-1.9-.5h-.1l-2-.5l-1.6 .5l-.4 .2l-1.1 1.8l-.8 2l-.1 .3l-.6 1.7l-.7 2l-.6 2l.9 2l1 1.7l.2 .3l.4 2l.9 2l.5 .9l.9 1.1l1.1 1.6l.3 .4l1.7 1.2l2-.4l2 .5l.7 .7l1.3 .7l2 1.3h.1l1.9 .9l.8 1.1l1.2 1.9l.1 .1l.7 2l.4 2l.8 .8l2 .8l1 .4l1 .7l1.3 1.3l.7 1.7l.1 .3l.9 2l1 .5l2 1.1l.6 .4l.7 .7l-.5 .5l-.8-.7l-.5-.5l-1.5-.9l-2-1.1l-.3-2l-.9-2l-.8-.9l-1.7-1.1l-.3-.1l-2-.8l-1.1-1.1l-.4-2l-.5-1.4l-.3-.6l-1.2-2l-.5-.6l-2-1.1l-.5-.3l-1.5-.9l-1.8-1.1l-.2-.2l-2-.4l-1.8 .6l-.2 .1l-.2-.1l-1.8-1.4l-.7-.6l-1.3-2l-1.2-2l-.8-2l-.5-2l-1.3-2l-.2-.4l-1.3-1.6l1.1-2l.2-.2l.9-1.8l.7-2l.4-.8l.5-1.2l1.2-2l.3-.3l2-.5l2 .3l2 .4l1.1 .1l.9 .1h2l1.1-.1l.9-.1l2-.4l2 .3l.2 .2l1.8 1.9l.1 .1l1.9 1.9l.1 .1l1.9 1.8l.3 .2l1.4 2l.1 2l-.5 2l.7 .8l2-.8v-.1l1.1-1.9l.9-.6l1.4-1.4l.6-.3l1.8-1.7l.2-.1l1.5-1.9l.5-.7l.6-1.3l.8-2l.6-.6l2-1.1l.3-.3l1.4-2l.3-.8zM237 54l1-.5l2 .1l1.8 .2l.2 .2v.4l-2-.4h-.2l-1.8-.2l-.3 .2l-1.7 1.3l-.9 .7l-1.1 .9l-1.8 1.1l-.2 .1l-2 .9l-1.4 .4l.6-.6l.8-.3l1.2-.5h.8l1-1l1-.6l.5-.4l1.5-1.2zM309.9 56l.1-.1v.1v.8l-.6 1.2l-.6 2l-.7 2l-.1 .4l-.6 1.6l.6 1.1l.4 .9l1.1 2l.4 2l.1 .4v1.3l-.6-1.7l-.5-2l-.9-1.5l-.5-.5l-1.2-2l.8-2l.9-1.2l.3-.8l.7-2zM290 60l.7-.7l1.3-.3l2-.2l2 .1l2 .6l1 .5l1 .6l2 1.2l.4 .2l1 2l-1.4 1.3l-.6 .7l-1.4 1l-1.8 1l-.2 .2l-2 1.3l-1 .5l-1 .8l-.8 .4l-1.1-1.1l.1-.1l1.8-.8l2-.9l.5-.3l1.5-.7l2-1.1l.2-.2l1.8-2l-.5-2l-1.5-1l-1.8-1l-.2-.1l-2-.6l-2 .1l-2 .4l-.6 .2l-1.4 .7zM247.1 84l.9-.7l2-.8l2 .1l2 1l.5 .4l1.5 1.5l.4 .5l1.3 2l.3 .7l.4 1.3l.4 2l1.2 1.7l.1 .3l1 2l.1 2l.2 2l.5 2l.1 .9l.3 1.1l.2 2l1.5 1.6l.3 .1l-.3 .3l-1.1 1.1l-.9-.4l-1.3-.7l.1-2l.4-2v-2l-.2-2l-.2-2l-.2-2l-.6-1.5l-.2-.5l-1.6-2l-.2-1.1l-.1-.9l-.9-2l-1-1.5l-.5-.5l-1.5-1.5l-.8-.5l-1.2-.6l-2-.3l-2 .9h-.1l-.9 2l.1 2l.4 2l.4 2l.1 1.1l.1 .9l.2 2l-.1 2l-.2 .5l-1.3 1.5l-.7 .7l-1.9 1.2l1.9-1.9v-.3l1.5-1.7l.4-2l-.3-2l-.3-2l-.3-2l-.6-2l-.2-2zM139.4 96h.6h1.5l-1.5 1.6l-.2 .4l-.8 1l-.9-.9l.1-.1zM36 102zM116.2 106l1.8-.7l2 .3l1.5 .4l.5 .1l2 .7l2 .9l.6 .3l1.4 1h2l1.7-1l.3-.2v.2l-2 2v.1l-2 .4l-.6-.5l-1.4-.7l-1.3-1.3l-.7-.3l-2-.8l-2-.3l-2 .3l-1.5 1.1l-.5 .8l-1.3 1.2l-.3 .4l-.4-.4l-1.4-1.4l.7-.6l.7-.4l2-1.5zM122.5 116l1.5-1.4l2 .2l.5 1.2l-.5 .8l-1.9 1.2h-.1h-.2z"/><path fill="#f79262" stroke="#f79262" d="M106 12h2l.2 .2l-.2 .4l-.8 1.4l-1.2 1.9l-.1 .1l-.7 2l.8 .7l2 1l.5 .3l1.5 .3l2 .8l2 .3l2-.3l2 .1l1.6 .8l.4 .1l2 .3l2-.2l2 .2l2 .2l1.7-.6l.3-.1l2-.7l2-.1h2l2-.6l2-.1l2 .4l2 1.1l.1 .1l1.9 1.9l.1 .1l1.2 2l.2 .5l-.8 .8l-.4-1.3l-.3-.4l-1-1.6l-1-1l-1.4-1l-.6-.4l-2-.5h-2l-2 .4h-2l-2 .2l-.7 .3l-1.3 .4l-2 .7l-2-.1l-2-.1l-2 .2l-2-.2l-2-.6h-2l-2 .6l-2-.3l-2-.4l-1.9-.2h-.1l-2-.2h-2l-2-.8l-.4-1v-2l.4-.8l1-1.2l1-1.2l.7-.8zM196 16l1-1l.1 1l.7 2l.2 .3l2 .8l2 .8l.1 .1l1.9 1.9l.1 .1l1 2l.9 1.8l.1 .2l.8 2l.4 2l.3 2v2l.1 2l-.1 2l-.5 2l-.3 2v2l-.4 2l-.4 1l-.4 1l.4 1.1l.4 .9l1.4 2l.2 .2l1.1 1.8l.9 1.1l.7 .9l1.3 1l2 .8l.4 .2l1.6 .7l2 .3l2 .1l2 .6l2 .2h2l1.7-.2l.3 .3l.6-.6l1.4-.4l2-.9l.2-.1l1.8-1.1l1.1-.9l.9-.7l1.7-1.3l.3-.2l1.8 .2h.2l2 .4v.6l-2-.5l-2-.3l-2 1.5l-.3 .3l-1.7 1.5l-.9 .5l-1.1 .4l-2 1l-1.8 .6h-.2l-2 .2h-2l-2-.2h-.1l-1.9-.5l-2-.1l-2-.2l-2-.7l-1.4-.5l-.6-.2l-2-1.4l-.5-.4l-1.5-1.9l-.1-.1l-1.7-2l-.2-.2l-1.4-1.8l-.6-1.9v-.1v-.1l.5-1.9l1.3-2l.2-1.8v-.2l.3-2l.6-2l.1-2l-.1-2l-.1-2l-.2-2l-.6-2v-.1l-1-1.9l-1-2l-1.1-2l-.9-.9h-2l-1.9 .9h-.1h-.5l-1.5-.3l-.8-1.7l-.5-2l-.7-2zM2.1 24l1.9-.7l2-.5l2-.4l2-.2l2-.2l2 .3l2 .4l2 .6l2 .6l.2 .1l1.8 .7l2 1l.4 .3l1.6 1.4l.7 .6l1.1 2l-1.8 2l-2 1.8l-.3 .2l-1.7 1.1l-2 .5h-2l-2 .1l-2 .3h-.1l-1.9 .5l-2 .5l-2 .2l-2 .3l-2 .1h-2l-2-.6l-2-.6v-.4v-.1l.2 .1l1.8 .5l2 .5l2 .2l2-.1l2-.3l2-.3l2-.5h.1l1.9-.4l2-.3l2-.1l2-.1l2-.6l.8-.5l1.2-1.1l1.1-.9l.9-1.7l.3-.3l-.3-.5l-.6-1.5l-1.4-1.2l-1.2-.8l-.8-.4l-2-.9l-2-.6l-.3-.1l-1.7-.5l-2-.4l-2-.2l-2 .1l-2 .3l-2 .3l-1.4 .4l-.6 .1l-2 .9v-1zM-2 28v-1.3l.4-.3l.7 .7l-1 .9l-.1 .2zM303.8 28l.2-.2l2-1.6v1.4l-.5 .4l-1.5 1.4l-2 .6l-.3 2l.3 .4l1.8 1.6l.2 .2l1.7 1.8l.3 .1l2 .5l2 .5v.5l-2-.4l-2-.6l-1.1-.6l-.9-.9l-1.3-1.1l-.7-.6l-1.2-1.4l.2-2l1-1.1zM45.1 48l.9-.8l1.3 .8l.7 .6l2 1.2l.6 .2l1.4 .4l2 .3h2l2 .3l2 .7l1.1 .3l.9 .2h2l1.1-.2l.9-.2l2-.7l2 .1l2 .5l2-.1l2-.8l1.8-.8l.2-.1l.8 .1l1.2 .1l1.4-.1l.6-.1l2-.2l.4 .3l1.6 1.6l.3 .4l.3 2l.1 2l1.3 1.8l.3 .2l1.7 .6l2 .5l2-.2l2-.4l2 .1l2 1.1l.9 .3l1.1 .3l2 .2l.6 .1l.7 .7l-1.3-.2l-2-.4l-2-.6l-.4-.1l-1.6-.9l-2-.4l-2 .4l-2 .3l-2-.5l-2-.7l-.2-.2l-1.4-2v-2l-.4-2l-2-2h-.1l-1.9 .2l-2 .1l-2-.1l-2 .9l-2 .8l-1.4 .1h-.6h-.1l-1.9-.6h-2l-1.7 .6l-.3 .1l-2 .4l-2-.1l-2-.3l-.2-.1l-1.8-.7l-2-.3l-2 .1l-2-.2l-2-.6l-.9-.3l-1.1-.6l-1.5-1.4l-.5-.3l-.3 .3l-.5 2l-1.2 1.6l-.3 .4l-1.7 1.4l-1.4 .6l-.6 .7l-.4 1.3l-.5 2l-1.1 1.8l-.1 .2l-1.7 2l-.2 .4l-1.2 1.6l-.8 1.7l-.2 .3l-1.5 2l-.3 .3l-2 1.1h-2l-2-1l-.4-.4l-.9-2l.1-2l.2-2l-1-1.3l-.5-.7l-1.5-1.7l-.3-.3l-1.7-1.7l-.6-.3l-1.4-.5l-2 .1l-2 .1l-2-.1l-2-.4l-2-.8l-1.5-.4l-.5-.1l-.4 .1l-1.6 .9l-.7 1.1l-1 2l-.3 2l-.5 2l-.6 2l.9 2l.2 .3l1 1.7l.2 2l.8 1.7l.3 .3l1.6 2l.1 .2l1.5 1.8l.5 .4l2-.1l2 .4l1.3 1.3l.7 .4l2 1.3l1 .3l1 .5l1.1 1.5l.9 1.4l.4 .6l.7 2l.4 2l.5 .5l2 .8l1.7 .7l.3 .2l1.7 1.8l.3 .7l.6 1.3l1.4 2h.1l1.9 .8l1.8 1.2l.1 .1l-.6 .6l-.7-.7l-.6-.4l-2-1.1l-1-.5l-.9-2l-.1-.3l-.7-1.7l-1.3-1.3l-1-.7l-1-.4l-2-.8l-.8-.8l-.4-2l-.7-2l-.1-.1l-1.2-1.9l-.8-1.1l-1.9-.9h-.1l-2-1.3l-1.3-.7l-.7-.7l-2-.5l-2 .4l-1.7-1.2l-.3-.4l-1.1-1.6l-.9-1.1l-.5-.9l-.9-2l-.4-2l-.2-.3l-1-1.7l-.9-2l.6-2l.7-2l.6-1.7l.1-.3l.8-2l1.1-1.8l.4-.2l1.6-.5l2 .5h.1l1.9 .5l2 .4h2l2-.1l2-.4l2 .6l.9 1l1.1 1.1l.9 .9l1.1 1.1l.9 .9l1.1 1.4l.5 .6l-.3 2l-.1 2l1.8 2l.1 .1l.8-.1l1.2-.2l2-1.8l1.3-2l.7-.7l1-1.3l1-1l.9-1l1.1-1.5l.3-.5l.8-2l.7-2l.2-.2l2-.9l1-.9l1-1.5l.4-.5zM309.4 58l.6-1.2v.9l-.1 .3l-.5 2l-.5 2l-.5 2l.9 2l.7 1.5v.5v2v.4l-.1-.4l-.4-2l-1.1-2l-.4-.9l-.6-1.1l.6-1.6l.1-.4l.7-2zM291.4 60l.6-.2l2-.4l2-.1l2 .6l.2 .1l1.8 1l1.5 1l.5 2l-1.8 2l-.2 .2l-2 1.1l-1.5 .7l-.5 .3l-2 .9l-1.8 .8l-.1 .1l-.1-.1l-1.8-1.8l1.8-.1l.7-.1l1.3-.2l2-.5l2-.8l.9-.5l1.1-.7l1.2-1.3l-.5-2l-.7-.5l-2-1.3l-1-.2l-1-.3l-2 .3h-.1l-1.9 1l-1.8 1l-.2 .3v-.3v-1.3zM117.8 82l.2-.2l2-.8l2-.1l2 .4l1.2 .7l.8 .8l.6 1.2l-.6 1.2l-.7 .8l-1.3 .4l-2-.3l-1.2-.1l-.8-.1l-2-.9l-.9-1zM249.6 82l.4-.1h2l.3 .1l1.7 .7l1.5 1.3l.5 .5l1.1 1.5l.9 1.4l.3 .6l.7 2l.3 2l.7 .9l.4 1.1l1.1 2l.1 2l.3 2l.1 .5l.8 1.5l.8 2l.4 .9l1.6 1.1l.2 .2l-1.5 1.5l-.3-.1l-1.5-1.6l-.2-2l-.3-1.1l-.1-.9l-.5-2l-.2-2l-.1-2l-1-2l-.1-.3l-1.2-1.7l-.4-2l-.4-1.3l-.3-.7l-1.3-2l-.4-.5l-1.5-1.5l-.5-.4l-2-1l-2-.1l-2 .8l-.9 .7l-.9 2l.2 2l.6 2l.3 2l.3 2l.3 2l-.4 2l-1.5 1.7v-1l.7-.7l.7-2l-.3-2l-.3-2l-.4-2l-.4-1.4l-.3-.6l-.4-2l.7-1.6l.2-.4l1.8-1.4zM138 96h1.4l-1.2 2l-.1 .1l-.1-.1zM36 102v-1.7l1.5 1.7h-1.5zM112.4 106l1.6-.8l2-.7l2-.4l2 .8l2 .6l2 .5l2 .9l2 .9l2 .1l2-1v.9l-.3 .2l-1.7 1h-2l-1.4-1l-.6-.3l-2-.9l-2-.7l-.5-.1l-1.5-.4l-2-.3l-1.8 .7l-.2 .1l-2 1.5l-.7 .4l-.7 .6l-.6-.6h-2h-1.6l1.6-.7l2-1.1zM101.5 110l.5-.3l2-.3l2-.5l1.7-.6l-1.7 1.7h-2l-2 2h-2h-1.7l1.7-1.1z"/><path fill="#f58154" stroke="#f58154" d="M107.2 14l.8-1.4l.2-.4l1.8 1.8h.6l-.1 2l1.4 2l.1 .1l2 1l2 .3l2 .3l1.1 .3l.9 .2l2 .7l2 .4l2 .4l2 .3l2-.8l2-.6h2l2 .1l1.9-.7l.1-.1l2-.1l2 .2h.2l1.8 .8l1.5 1.2l.5 .5l1.4 1.5l.6 1.1l.4 .9h-.4l-.5 .5l-.2-.5l-1.2-2l-.1-.1l-1.9-1.9l-.1-.1l-2-1.1l-2-.4l-2 .1l-2 .6h-2l-2 .1l-2 .7l-.3 .1l-1.7 .6l-2-.2l-2-.2l-2 .2l-2-.3l-.4-.1l-1.6-.8l-2-.1l-2 .3l-2-.3l-2-.8l-1.5-.3l-.5-.3l-2-1l-.8-.7l.7-2l.1-.1zM190.6 16h1.4h2l.7 2l.5 2l.8 1.7l1.5 .3h.5h.1l1.9-.9h2l.9 .9l1.1 2l1 2l1 1.9v.1l.6 2l.2 2l.1 2l.1 2l-.1 2l-.6 2l-.3 2v.2l-.2 1.8l-1.3 2l-.5 1.9v.1v.1l.6 1.9l1.4 1.8l.2 .2l1.7 2l.1 .1l1.5 1.9l.5 .4l2 1.4l.6 .2l1.4 .5l2 .7l2 .2l2 .1l1.9 .5h.1l2 .2h2l2-.2h.2l1.8-.6l2-1l1.1-.4l.9-.5l1.7-1.5l.3-.3l2-1.5l2 .3l2 .5v.7l-2-.8l-2-.4l-1.8 1.5l-.2 .2l-2 1.8l-2 .7l-2 1.1l-.5 .2l-1.5 .3l-2 .2l-2-.1l-2-.1l-1.2-.3l-.8-.2h-2l-2-.1l-2-.5l-2-.7l-1.4-.5l-.6-.3l-1.9-1.6l-.1-.1l-2-2v-2l-2-2l-2-2l-.2-.2v-1.8l.2-.3l2-1.6l.1-.1l.6-2l.8-2l.5-1.5l.1-.5l.1-2l-.1-2l-.1-1.9v-.1l-.1-2l-.6-2l-1.3-2l-1.6-2l-.4-.9l-2-.1l-2 .4l-2-.2l-1.7-1.2l-.3-.6l-.9-1.4l-1.1-2zM4.6 24l1.4-.4l2-.3l2-.3l2-.1l2 .2l2 .4l1.7 .5l.3 .1l2 .6l2 .9l.8 .4l1.2 .8l1.4 1.2l.6 1.5l.3 .5l-.3 .3l-.9 1.7l-1.1 .9l-1.2 1.1l-.8 .5l-2 .6l-2 .1l-2 .1l-2 .3l-1.9 .4h-.1l-2 .5l-2 .3l-2 .3l-2 .1l-2-.2l-2-.5l-1.8-.5l-.2-.1v-1.4l2 1.4l.2 .1l1.8 .5l2 .3l2-.1l2-.4l2-.2l.2-.1l1.8-.3l2-.4l2-.4l2-.2l2-.1l1.7-.6l.3-.1l2-1.8l.1-.1l1-2l-1-2h-.1l-2-1.7l-1-.3l-1-.4l-2-.9l-2-.5l-1.5-.2l-.5-.1l-2-.2l-2 .2l-.9 .1l-1.1 .1l-2 .2l-2 .6l-1.9 1.1h-.1l-.2 .2l.2-.2v-1l2-.9zM-.9 27.1l.7 .7l-.3 .2l-1.5 2v-1.8l.1-.2zM305.5 28l.5-.4v.4l.3 .3l-.3 .9l-.8 .8l-1.2 1.7l-.3 .3l.3 .3l.9 1.7l1.1 1.2l1.6 .8l.4 .1l2 .6v.4l-2-.5l-2-.5l-.3-.1l-1.7-1.8l-.2-.2l-1.8-1.6l-.3-.4l.3-2l2-.6zM45.7 48l.3-.3l.5 .3l1.5 1.4l1.1 .6l.9 .3l2 .6l2 .2l2-.1l2 .3l1.8 .7l.2 .1l2 .3l2 .1l2-.4l.3-.1l1.7-.6h2l1.9 .6h.1h.6l1.4-.1l2-.8l2-.9l2 .1l2-.1l1.9-.2h.1l2 2l.4 2v2l1.4 2l.2 .2l2 .7l2 .5l2-.3l2-.4l2 .4l1.6 .9l.4 .1l2 .6l2 .4l1.3 .2l.7 .7l-2-.3l-2-.5l-2-.7l-1.4-.5l-.6-.3l-2-.8l-2 .5l-2 .3l-2-.5l-2-.8l-.6-.4l-1.4-2l.1-2l-.1-.7l-.3-1.3l-1.7-1.7l-2 .2h-2l-2-.1l-2 1l-1.5 .6l-.5 .1l-2 .1l-.8-.2l-1.2-.4h-2l-1 .4l-1 .4l-2 .4l-2-.1l-2-.4l-.8-.3l-1.2-.5l-2-.2l-2 .2l-2-.2l-2-.5l-2-.7l-2-.1l-1.5 2l-.5 .5l-2 1.5l-1.9 2l-.1 .9l-.2 1.1l-1 2l-.8 1.2l-.6 .8l-1.3 2l-.1 .5l-.6 1.5l-.9 2l-.5 .8l-1.3 1.2l-.7 .4l-2 .6l-2-.1l-2-.8l-.2-.1l-1.8-1.7l-.2-.3l-.8-2l.1-2v-2l-1.1-1.9v-.1l-1.5-2l-.5-.4l-2-1h-2h-2l-2-.3l-1.3-.3l-.7-.2l-2-.9l-2-.7l-2 1.4l-.3 .4l-1.1 2l-.3 2l-.1 2l-.2 1.1l-.2 .9l.2 .6l1 1.4l.8 2v2l.2 .4l1.7 1.6l.3 .5l1.4 1.5l.6 .8l2 .7l1.3 .5l.7 .1l1.9 1.9l.1 .1l2 1.4l1.8 .5l.2 .1l1.4 1.9l.6 1l.7 1l.7 2l.4 2l.2 .2l2 .8l2 .8l.2 .2l1.8 1.9l.1 .1l1 2l.9 1.2l1.9 .8l.1 .1l2 1.2l1.2 .7l.8 .8l1.2 1.2l.8 .9l1.2 1.1h-1.2h-.5l-1.5-1.7v-.3l-2-2l-.1 .1l-.1-.1l-1.8-1.2l-1.9-.8h-.1l-1.4-2l-.6-1.3l-.3-.7l-1.7-1.8l-.3-.2l-1.7-.7l-2-.8l-.5-.5l-.4-2l-.7-2l-.4-.6l-.9-1.4l-1.1-1.5l-1-.5l-1-.3l-2-1.3l-.7-.4l-1.3-1.3l-2-.4l-2 .1l-.5-.4l-1.5-1.8l-.1-.2l-1.6-2l-.3-.3l-.8-1.7l-.2-2l-1-1.7l-.2-.3l-.9-2l.6-2l.5-2l.3-2l1-2l.7-1.1l1.6-.9l.4-.1l.5 .1l1.5 .4l2 .8l2 .4l2 .1l2-.1l2-.1l1.4 .5l.6 .3l1.7 1.7l.3 .3l1.5 1.7l.5 .7l1 1.3l-.2 2l-.1 2l.9 2l.4 .4l2 1h2l2-1.1l.3-.3l1.5-2l.2-.3l.8-1.7l1.2-1.6l.2-.4l1.7-2l.1-.2l1.1-1.8l.5-2l.4-1.3l.6-.7l1.4-.6l1.7-1.4l.3-.4l1.2-1.6zM309.9 58l.1-.3v.3v1.8l-.1 .2l-.2 2l-.3 2l.6 1.6v.4v1.5l-.7-1.5l-.9-2l.5-2l.5-2zM293.9 60h.1l2-.3l1 .3l1 .2l2 1.3l.7 .5l.5 2l-1.2 1.3l-1.1 .7l-.9 .5l-2 .8l-2 .5l-1.3 .2l-.7 .1l-1.8 .1l-.2-.2v-2v-2v-1.7l.2-.3l1.8-1zM294 60.7l-1.8 1.3l-.2 .7l-.8 1.3l.8 1.7l.4 .3l1.6 .4l2-.1l.9-.3l1.1-.2l2-1.4l.4-.4l-.4-2l-2-1.5l-2-.4zM115.7 80l.3-.2l2-1.2l.4-.2l1.6 1.6h2h2h2h2l1.6 2l.4 1.7l.1 .3l-.1 .2l-.6 1.8l-1.4 1l-2 .9l-.5 .1l-1.5 .1l-1.7-.1h-.3l-2-.4l-2-.5l-2-1v-.1l-.7-.7l-1-1.3l-.2-2zM118 81.8l-.2 .2l-.7 2l.9 1l2 .9l.8 .1l1.2 .1l2 .3l1.3-.4l.7-.8l.6-1.2l-.6-1.2l-.8-.8l-1.2-.7l-2-.4l-2 .1zM247.9 82h.1l2-.6l2-.1l2 .6l.2 .1l1.8 1.6l.2 .4l1.6 2l.2 .3l.7 1.7l.9 2l.3 2l.1 .1l.7 1.9l1.2 2v2l.1 .3l.4 1.7l1.4 2l.2 .4l1.9 1.6l.1 .1v1.9l-.2 .2l-.2-.2l-1.6-1.1l-.4-.9l-.8-2l-.8-1.5l-.1-.5l-.3-2l-.1-2l-1.1-2l-.4-1.1l-.7-.9l-.3-2l-.7-2l-.3-.6l-.9-1.4l-1.1-1.5l-.5-.5l-1.5-1.3l-1.7-.7l-.3-.1h-2l-.4 .1l-1.6 .6l-1.8 1.4l-.2 .4l-.7 1.6l.4 2l.3 .6l.4 1.4l.4 2l.3 2l.3 2l-.7 2l-.7 .7v-.7l-.1-.1l.1-.1l.9-1.8l-.3-2l-.4-2l-.2-1.2l-.1-.8l-1-2l-.6-2l.6-2l1.1-.5zM111.8 104l.2-.1l2-.7l2-.2l2 .3l1.6 .7l.4 .2l2 .7l2 .6l1.9 .5l.1 .1l2 1.1l2 .2l1.9-1.4l.1-.1v.1v.9l-2 1l-2-.1l-2-.9l-2-.9l-2-.5l-2-.6l-2-.8l-2 .4l-2 .7l-1.6 .8l-.4 .2l-2 1.1l-1.6 .7h-.4l-.3 .3l-1.7 .6l-2 .5l-2 .3l-.5 .3l-1.5 .9l-1.7 1.1h-.3l-2-2v-.3l2-.9l1.2-.8l.8-.3l2-.6l2-.1l2-.5l1.3-.5l.7-.2l2-.9z"/><path fill="#f47045" stroke="#f47045" d="M112 14l1.9-1.9l-.1 1.9l.2 .4l.8 1.6l1.2 1l2 .5l2 .2l.5 .3l1.5 1.2l1.4 .8l.6 .3l2 .6l2 .3l2-.6l1.9-.6h.1h.3l1.7 .1l2 .2l.8-.3l1.2-.5l2-.3l2 .2l2 .4l.2 .2l1.8 1.5l.6 .5l1.4 1.5l.5 .5l1.2 2h-1.3l-.4-.9l-.6-1.1l-1.4-1.5l-.5-.5l-1.5-1.2l-1.8-.8h-.2l-2-.2l-2 .1l-.1 .1l-1.9 .7l-2-.1h-2l-2 .6l-2 .8l-2-.3l-2-.4l-2-.4l-2-.7l-.9-.2l-1.1-.3l-2-.3l-2-.3l-2-1l-.1-.1l-1.4-2l.1-2zM186.2 16h1.8h2h.6l1.4 2l1.1 2l.9 1.4l.3 .6l1.7 1.2l2 .2l2-.4l2 .1l.4 .9l1.6 2l1.3 2l.6 2l.1 2v.1l.1 1.9l.1 2l-.1 2l-.1 .5l-.5 1.5l-.8 2l-.6 2l-.1 .1l-2 1.6l-.2 .3v1.8l-1.2-1.2v-.6l1.3-2l.1-.1l1.6-1.9l.4-.8l.6-1.2l.8-2l.2-2l-.1-2v-2l-.1-2l-.9-2l-.5-.8l-1.1-1.2l-.9-1.1l-2-.6h-2l-2-.1l-.6-.2l-1.4-1.1l-1.1-.9l-.9-1.1l-.8-.9l-1.2-1.2l-1.1-.8l-.9-.9zM9.1 24l.9-.1l2-.2l2 .2l.5 .1l1.5 .2l2 .5l2 .9l1 .4l1 .3l2 1.7h.1l1 2l-1 2l-.1 .1l-2 1.8l-.3 .1l-1.7 .6l-2 .1l-2 .2l-2 .4l-2 .4l-1.8 .3l-.2 .1l-2 .2l-2 .4l-2 .1l-2-.3l-1.8-.5l-.2-.1l-2-1.4v-.5v-2l.4 2l1.6 1.3l2 .7h.2l1.8 .4l2-.1l1.3-.3l.7-.1l2-.1l2-.4l2-.5l2-.4l2-.2l2-.2l.3-.1l1.7-.5l1.6-1.5l.4-1.8l.1-.2l-.1-.2l-.7-1.8l-1.3-1l-2-.8l-.6-.2l-1.4-.7l-2-.6l-2-.4l-2-.1l-2 .1l-2 .2l-2 .3l-2 .9l-.5 .3l-1.5 .6l-1.5 1.4l-.5 .5l-1.3 1.5l-.7 2v-2l1.5-2l.3-.2l.2 .2l1.8-1.8l.2-.2h.1l1.9-1.1l2-.6l2-.2zM305.2 30l.8-.8l.3-.9l.4 .4l-.4 1.3l-.3 .7l-1 1.3l1 2l2 1.6l1.4 .4l.6 .2v.5l-2-.6l-.4-.1l-1.6-.8l-1.1-1.2l-.9-1.7l-.3-.3l.3-.3zM44.5 52l1.5-2l2 .1l2 .7l2 .5l2 .2l2-.2l2 .2l1.2 .5l.8 .3l2 .4l2 .1l2-.4l1-.4l1-.4h2l1.2 .4l.8 .2l2-.1l.5-.1l1.5-.6l2-1l2 .1h2l2-.2l1.7 1.7l.3 1.3l.1 .7l-.1 2l1.4 2l.6 .4l2 .8l2 .5l2-.3l2-.5l2 .8l.6 .3l1.4 .5l2 .7l2 .5l2 .3v.3l-2-.2l-.6-.1l-1.4-.4l-2-.8l-1.8-.6l-.2-.2l-.1 .1l-.1-.1l-1.8-.9l-2 .5l-1.8 .4h-.2h-.1l-1.9-.6l-2-.8l-.9-.6l-1.1-1.6l-.2-.4l.1-2l-.6-2l-1.3-1.3h-2l-2 .1l-2-.2l-2 1.1l-.7 .3l-1.3 .3l-2 .1l-1.5-.4l-.5-.2l-2 .1l-.3 .1l-1.7 .6l-2 .4h-2l-2-.5l-1.5-.5l-.5-.2l-2-.3l-2 .4l-2-.1l-2-.6l-2-.4l-2 .3l-.6 .9l-1.4 1.2l-1 .8l-1 .7l-1.2 1.3l-.3 2l-.5 1.6l-.2 .4l-1.5 2l-.3 .4l-1.3 1.6l-.2 2l-.2 2l-.3 .7l-1 1.3l-1 1l-1.5 1l-.5 .3l-2 .1l-2-.2l-.6-.2l-1.4-.8l-2-.9l-.5-.3l-1.5-1.8l-.2-.2l-.4-2l.1-2l-.1-2l-.5-2l-.9-1.1l-1.4-.9l-.6-.3l-2-.1l-2-.1l-2-.5l-2-.6l-.7-.4l-1.3-.7l-2-.7l-1.8 1.4l-.2 .2l-1.1 1.8l-.2 2l.1 2l.1 2l1.1 1.6l.3 .4l.5 2l.4 2l.8 .8l1.1 1.2l.9 1l1.2 1l.8 .4l2 1l.4 .6l1.6 1.5l.3 .5l1.7 1.2l2 .6l.3 .2l1.4 2l.3 .5l1 1.5l.7 2l.3 1.7l.1 .3l1.9 .7l2 .8l.5 .5l1.5 1.6l.6 .4l1.1 2l.3 .5l2 1l1.4 .5l.6 .3l2 1.4l.4 .3l1.6 1.6l.5 .4l1.5 1.5l.9 .5h-.9h-.8l-1.2-1.1l-.8-.9l-1.2-1.2l-.8-.8l-1.2-.7l-2-1.2l-.1-.1l-1.9-.8l-.9-1.2l-1-2l-.1-.1l-1.8-1.9l-.2-.2l-2-.8l-2-.8l-.2-.2l-.4-2l-.7-2l-.7-1l-.6-1l-1.4-1.9l-.2-.1l-1.8-.5l-2-1.4l-.1-.1l-1.9-1.9l-.7-.1l-1.3-.5l-2-.7l-.6-.8l-1.4-1.5l-.3-.5l-1.7-1.6l-.2-.4v-2l-.8-2l-1-1.4l-.2-.6l.2-.9l.2-1.1l.1-2l.3-2l1.1-2l.3-.4l2-1.4l2 .7l2 .9l.7 .2l1.3 .3l2 .3h2h2l2 1l.5 .4l1.5 2v.1l1.1 1.9v2l-.1 2l.8 2l.2 .3l1.8 1.7l.2 .1l2 .8l2 .1l2-.6l.7-.4l1.3-1.2l.5-.8l.9-2l.6-1.5l.1-.5l1.3-2l.6-.8l.8-1.2l1-2l.2-1.1l.1-.9l1.9-2l2-1.5zM236.2 56l1.8-1.5l2 .4l2 .8v.3v.2l-.5-.2l-1.5-.6l-2-.5l-1.3 1.1l-.7 .7l-1.5 1.3l-.5 .3l-2 .7l-1.7 1l-.3 .2l-2 .4l-2 .2l-2-.2l-2-.1l-2-.4h-2l-2 .1l-1.4-.2l-.6-.1l-2-.8l-1.3-.4l-.7-.7l-1.9-1.9l1.9 1.6l.6 .3l1.4 .5l2 .7l2 .5l2 .1h2l.8 .2l1.2 .3l2 .1l2 .1l2-.2l1.5-.3l.5-.2l2-1.1l2-.7l2-1.8zM309.9 60l.1-.2v.2v2v2v1.6l-.6-1.6l.3-2zM292.2 62l1.8-1.3l2-.6l2 .4l2 1.5l.4 2l-.4 .4l-2 1.4l-1.1 .2l-.9 .3l-2 .1l-1.6-.4l-.4-.3l-.8-1.7l.8-1.3zM294 61.3l-.9 .7l-.4 2l1.3 1.3l2 .3l2-.3l1.7-1.3l-.1-2l-1.6-1.1l-2-.5zM112.7 80l1.3-1.1l1-.9h1h2l.4 .4l-.4 .2l-2 1.2l-.3 .2l-1.6 2l.2 2l1 1.3l-1.3-1.3h-2l-.5 .5l-.2-.5v-2l.7-1.1zM128 80h2l2 2h2v2v2h-2l-2 2l-.9 .9l-1.1 .1l-2 .2h-2l-2-.3l-2-.3l-2-.2l-1.7-.4l-.3-.2l-1.1-.7l1.1-1.1v.1l2 1l2 .5l2 .4h.3l1.7 .1l1.5-.1l.5-.1l2-.9l1.4-1l.6-1.8l.1-.2l-.1-.3l-.4-1.7zM247 82l1-.4l2-.7l2-.1l2 .5l1 .7l1 .9l.7 1.1l1.3 1.6l.2 .4l.9 2l.9 1.8l.1 .2l.1 2l.8 2l1 1.7l.2 .3l.1 2l.7 2l1 1.4l1.2 .6l.8 .7l1 .3l-1 1v.1l-.1-.1l-1.9-1.6l-.2-.4l-1.4-2l-.4-1.7l-.1-.3v-2l-1.2-2l-.7-1.9l-.1-.1l-.3-2l-.9-2l-.7-1.7l-.2-.3l-1.6-2l-.2-.4l-1.8-1.6l-.2-.1l-2-.6l-2 .1l-2 .6h-.1l-1.9 1.5l-1.1 .5l-.6 2l.6 2l1 2l.1 .8l.2 1.2l.4 2l.3 2l-.9 1.8l-.1 .1l-.6-.6l.7-.5l.4-.8l-.3-2l-.1-.3l-.3-1.7l-.3-2l-1.3-2l-.1-.3l-.6-1.7l.2-2l.4-.3l2-.9zM277.4 82h.6v2v2v2l-2 2l.8-2l.1-2l.2-2zM275.4 92l.6-2v2v2l-.8 .8l.1-.8zM273.2 100l.8-1.5v1.5zM111.9 102l.1-.1l2-.3l2 .2l.5 .2l1.5 .6l2 1.1l1.2 .3l.8 .3l2 .7l2 .6l1 .4l1 .6l2 .2l1.1-.8l.9-.8v.7l-.1 .1l-1.9 1.4l-2-.2l-2-1.1l-.1-.1l-1.9-.5l-2-.6l-2-.7l-.4-.2l-1.6-.7l-2-.3l-2 .2l-2 .7l-.2 .1l-1.8 .9l-2 .9l-.7 .2l-1.3 .5l-2 .5l-2 .1l-2 .6l-.8 .3l-1.2 .8l-2 .9v-1.7v-.5l2-.5l2-.7l.7-.3l1.3-.2l2-.1l2-.5l2-1.1l.2-.1l1.8-.8z"/><path fill="#f16740" stroke="#f16740" d="M114 12l1.9-1.9l-.3 1.9l.2 2l.2 .3l1.8 1.7l.2 .1l2 .6l2 1.1l.3 .2l1.7 1.3l1.5 .7l.5 .2l2 .3l1.7-.5l.3-.1l2-.4l2 .2l2 .1l2-.8l2-.4l2 .1l2 .6l1 .7l1 .8l1.4 1.2l.6 .6l1.4 1.4l.6 1l.8 1h-.8h-.3l-1.2-2l-.5-.5l-1.4-1.5l-.6-.5l-1.8-1.5l-.2-.2l-2-.4l-2-.2l-2 .3l-1.2 .5l-.8 .3l-2-.2l-1.7-.1h-.3h-.1l-1.9 .6l-2 .6l-2-.3l-2-.6l-.6-.3l-1.4-.8l-1.5-1.2l-.5-.3l-2-.2l-2-.5l-1.2-1l-.8-1.6l-.2-.4l.1-1.9zM176.9 14h1.1l1.6 1.6l-1.6-.8zM180.3 16h1.7h2h2h.2l1.8 1.1l.9 .9l1.1 .8l1.2 1.2l.8 .9l.9 1.1l1.1 .9l1.4 1.1l.6 .2l2 .1h2l2 .6l.9 1.1l1.1 1.2l.5 .8l.9 2l.1 2v2l.1 2l-.2 2l-.8 2l-.6 1.2l-.4 .8l-1.6 1.9l-.1 .1l-1.3 2v.6l-.6-.6v-.7l.9-1.3l1.1-1.2l.7-.8l1.1-2l.2-.5l.7-1.5l.3-2v-2v-2l-.1-2l-.9-1.8l-.2-.2l-1.8-1.9l-.1-.1l-1.9-.9l-2-.1l-2-.2l-2-.7l-.1-.1l-1.9-1.6l-.5-.4l-1.5-1.5l-.7-.5l-1.3-1l-2-1h-.2l-1.8-.8l-2-.6zM3.5 26l.5-.3l2-.9l2-.3l2-.2l2-.1l2 .1l2 .4l2 .6l1.4 .7l.6 .2l2 .8l1.3 1l.7 1.8l.1 .2l-.1 .2l-.4 1.8l-1.6 1.5l-1.7 .5l-.3 .1l-2 .2l-2 .2l-2 .4l-2 .5l-2 .4l-2 .1l-.7 .1l-1.3 .3l-2 .1l-1.8-.4h-.2l-2-.7l-1.6-1.3l-.4-2l.7-2l1.3-1.5l.5-.5l1.5-1.4zM6 25.4l-1.3 .6l-.7 .3l-2 1l-.8 .7l-1.2 1.4l-.6 .6l-.8 2l.5 2l.9 .7l2 .9l2 .4l2-.1l2-.2l2-.2l2-.4l2-.5l2-.5l.6-.1l1.4-.1l2-.1l2-.6l1.3-1.2l.3-2l-1.1-2l-.5-.4l-2-1l-1.9-.6h-.1l-2-.8l-2-.5l-2-.1l-2 .1l-2 .3zM306.7 28.7l.5 .5l-.3 .8l-.9 2l.6 2l1.4 1.1l2 .7v.2v.2l-.6-.2l-1.4-.4l-2-1.6l-1-2l1-1.3l.3-.7zM45.4 52l.6-.9l2-.3l2 .4l2 .6l2 .1l2-.4l2 .3l.5 .2l1.5 .5l2 .5h2l2-.4l1.7-.6l.3-.1l2-.1l.5 .2l1.5 .4l2-.1l1.3-.3l.7-.3l2-1.1l2 .2l2-.1h2l1.3 1.3l.6 2l-.1 2l.2 .4l1.1 1.6l.9 .6l2 .8l1.9 .6h.1h.2l1.8-.4l2-.5l1.8 .9l.1 .1l-.2 .2l-.4-.3l-1.3-.6l-2 .5l-.6 .1l-1.4 .2l-.9-.2l-1.1-.3l-2-.8l-1.3-.9l-.7-1.1l-.4-.9v-2l-.7-2l-.9-.9l-2-.1h-2l-2-.1l-2 1.1l-2 .5l-2 .1l-2-.5h-2l-2 .8l-2 .4l-2-.1l-2-.5l-2-.6l-.6-.1l-1.4-.2l-1 .2l-1 .1h-2l-.9-.1l-1.1-.3l-2-.3l-1.6 .6l-.4 .2l-2 1.7l-.1 .1l-1.9 1.5l-.5 .5l-.4 2l-.5 2l-.6 .7l-1 1.3l-1 1.1l-.7 .9v2l.1 2l-.8 2l-.6 .8l-1.3 1.2l-.7 .5l-2 .8l-2 .1l-2-.4l-2-.8l-.5-.2l-1.5-.8l-1.8-1.2l-.2-.2l-1.4-1.8l-.4-2l.1-2v-2l-.3-1.4l-.2-.6l-1.8-1.3l-2-.2l-2-.1l-1.1-.4l-.9-.3l-2-.8l-1.6-.9l-.4-.2l-2-.8l-1.4 1l-.6 .6l-.9 1.4l-.1 2l.4 2l.6 1.8l.2 .2l1.4 2l.3 2l.1 .2l.9 1.8l1.1 1.1l.9 .9l1.1 .9l.8 1.1l1.2 .6l1 1.4l1 1l.6 1l1.4 1l2 .5l.6 .5l1.4 2l1.2 2l.8 1.9l.1 .1l.9 2l1 .4l2 .7l.8 .9l1.2 1.2l1 .8l1 1.8l.3 .2l1.7 1l2 .6l.6 .4l1.4 1l1.3 1l.7 .7l1.4 1.3l.6 .6l2 1.2v.2h-1.1l-.9-.5l-1.5-1.5l-.5-.4l-1.6-1.6l-.4-.3l-2-1.4l-.6-.3l-1.4-.5l-2-1l-.3-.5l-1.1-2l-.6-.4l-1.5-1.6l-.5-.5l-2-.8l-1.9-.7l-.1-.3l-.3-1.7l-.7-2l-1-1.5l-.3-.5l-1.4-2l-.3-.2l-2-.6l-1.7-1.2l-.3-.5l-1.6-1.5l-.4-.6l-2-1l-.8-.4l-1.2-1l-.9-1l-1.1-1.2l-.8-.8l-.4-2l-.5-2l-.3-.4l-1.1-1.6l-.1-2l-.1-2l.2-2l1.1-1.8l.2-.2l1.8-1.4l2 .7l1.3 .7l.7 .4l2 .6l2 .5l2 .1l2 .1l.6 .3l1.4 .9l.9 1.1l.5 2l.1 2l-.1 2l.4 2l.2 .2l1.5 1.8l.5 .3l2 .9l1.4 .8l.6 .2l2 .2l2-.1l.5-.3l1.5-1l1-1l1-1.3l.3-.7l.2-2l.2-2l1.3-1.6l.3-.4l1.5-2l.2-.4l.5-1.6l.3-2l1.2-1.3l1-.7l1-.8zM236.7 56l1.3-1.1l2 .5l1.5 .6l.5 .2v.3l-1.6-.5l-.4-.2l-2-.5l-.9 .7l-1.1 1.1l-1 .9l-1 .6l-2 .7l-1.2 .7l-.8 .4l-2 .5l-2 .1l-2-.2h-2l-2-.5l-2 .1l-2 .1l-1.7-.2l-.3-.3h-1.4l-.6-.2l-.3-.1l-1-1l1.3 .4l2 .8l.6 .1l1.4 .2l2-.1h2l2 .4l2 .1l2 .2l2-.2l2-.4l.3-.2l1.7-1l2-.7l.5-.3l1.5-1.3zM98.7 60.7l-.5-.5l1.8 .6l2 .8l1.4 .4l.6 .1l2 .2v.4l-2-.3l-2-.4l-2-.9zM172.6 62l1.4-1.8l1.5 1.8l-1.5 1.3zM293.1 62l.9-.7l2-.9l2 .5l1.6 1.1l.1 2l-1.7 1.3l-2 .3l-2-.3l-1.3-1.3zM296 60.7l-2 1.3v.2l-.3 1.8l.3 .3l2 .8l2-.3l1-.8l.1-2l-1.1-.8zM110.7 80l1.3-1l1.1-1h.9h1l-1 .9l-1.3 1.1l-.7 .9l-.7 1.1v2l.2 .5l-1.3 1.3l-.2-.4l-1.1-1.4v-2l1.1-1zM246.2 82l1.8-.8l2-.8l2-.2l2 .6l1.8 1.2l.2 .1l1.1 1.9l.9 1l.5 1l1 2l.5 .9l.3 1.1l.2 2l.8 2l.7 1.1l.5 .9l.2 2l.9 2l.4 .6l2 1.1l2 .2h.1l-.1 .1l-1 1l-1-.3l-.8-.7l-1.2-.6l-1-1.4l-.7-2l-.1-2l-.2-.3l-1-1.7l-.8-2l-.1-2l-.1-.2l-.9-1.8l-.9-2l-.2-.4l-1.3-1.6l-.7-1.1l-1-.9l-1-.7l-2-.5l-2 .1l-2 .7l-1 .4l-1 .8l-2 .9l-.4 .3l-.2 2l.6 1.7l.1 .3l1.3 2l.3 2l.3 1.7l.1 .3l.3 2l-.4 .8l-.7 .5l-.5-.5l1-.8l-.3-2l-.3-2l-.3-2l-.9-1.3l-.7-.7l-.8-2v-2l1.5-1l2-.9zM275.7 84l.3-1.4l.1-.6h1.3l-.3 2l-.2 2l-.1 2l-.8 2l-.6 2l-.1 2l-.1 .8l-1.2 1.2v2v.5l-.8 1.5h-1.2h-.2l.2-.2l1.2-1.8l.6-2l.2-1.8v-.2v-.6v-1.4v-.1l.8-1.9l.7-2l.1-2zM114 88l.9-.9l1.1 .7l.3 .2l1.7 .4l2 .2l2 .3l2 .3h2l2-.2l1.1-.1l-1.1 1.1l-.3 .3h-1.7l-2-.1l-1.2-.2l-.8-.1l-2-.5l-2-.3l-2-.4l-2-.6l-.3-.1zM109.9 102l.1-.2l2-1.1h2l2 .4l2 .8l.1 .1l1.9 1.2l2 .6l.7 .2l1.3 .5l2 .7l2 .8h.4l1.6 .2l.3-.2l1.7-1.6v.8l-.9 .8l-1.1 .8l-2-.2l-1-.6l-1-.4l-2-.6l-2-.7l-.8-.3l-1.2-.3l-2-1.1l-1.5-.6l-.5-.2l-2-.2l-2 .3l-.1 .1l-1.9 1.2l-1.8 .8l-.2 .1l-2 1.1l-2 .5l-2 .1l-1.3 .2l-.7 .3l-2 .7l-2 .5v-1.2l1-.3l1-.2l2-.3l2-.2l2-.2l2-.8l.4-.3l1.6-.8z"/><path fill="#ec5d3b" stroke="#ec5d3b" d="M115.9 10.1l.1-.1h2h1l.1 2l.9 1.7l.2 .3l1.8 1.5l.4 .5l1.6 1.3l.9 .7l1.1 .6l2 .4l2-.2l2-.1l2 .1h2l2-.7l.3-.1l1.7-.5h2l1.6 .5l.4 .1l2 1.2l.8 .7l1.2 1l1.3 1l.7 .7l1.5 1.3l.5 .6l1.9 1.4h-1.9h-1.2l-.8-1l-.6-1l-1.4-1.4l-.6-.6l-1.4-1.2l-1-.8l-1-.7l-2-.6l-2-.1l-2 .4l-2 .8l-2-.1l-2-.2l-2 .4l-.3 .1l-1.7 .5l-2-.3l-.5-.2l-1.5-.7l-1.7-1.3l-.3-.2l-2-1.1l-2-.6l-.2-.1l-1.8-1.7l-.2-.3l-.2-2zM168 16l2-2h2h2h2h.9l1.1 .8l1.6 .8l.4 .4h.3l1.7 .6l2 .6l1.8 .8h.2l2 1l1.3 1l.7 .5l1.5 1.5l.5 .4l1.9 1.6l.1 .1l2 .7l2 .2l2 .1l1.9 .9l.1 .1l1.8 1.9l.2 .2l.9 1.8l.1 2v2v2l-.3 2l-.7 1.5l-.2 .5l-1.1 2l-.7 .8l-1.1 1.2l-.9 1.3v-1.3v-1.3l.6-.7l1.4-1.7l.2-.3l1-2l.6-2l.2-2v-1.3v-.7v-2l-1.6-2l-.4-.5l-2-1l-2-.3l-2-.2l-2-.5l-2-1l-.8-.5l-1.2-.9l-1.8-1.1l-.2-.1l-2-.7l-2 .1l-1.8 .7l-.2 .1l-2 .3l-1.6-.4l-.4-.1l-2-.2l-.7 .3l-1.3 .3l-2 .7l-2-.6l-.9-.4l-1.1-.8l-1.2-1.2l-.5-2l.3-2zM4.7 26l1.3-.6l2-.4l2-.3l2-.1l2 .1l2 .5l2 .8h.1l1.9 .6l2 1l.5 .4l1.1 2l-.3 2l-1.3 1.2l-2 .6l-2 .1l-1.4 .1l-.6 .1l-2 .5l-2 .5l-2 .4l-2 .2l-2 .2l-2 .1l-2-.4l-2-.9l-.9-.7l-.5-2l.8-2l.6-.6l1.2-1.4l.8-.7l2-1zM8 25.8l-.6 .2l-1.4 .3l-2 .8l-1.4 .9l-.6 .5l-1.4 1.5l-.6 1.6l-.2 .4l.2 .6l.5 1.4l1.5 .9l2 .6h2l2-.3l2-.2l2-.5l1.7-.5l.3-.1l2-.5l2-.2h2l2-.8l.5-.4l.2-2l-.7-1.1l-1.1-.9l-.9-.5l-2-.7l-2-.6l-.5-.2l-1.5-.5l-2-.1l-2 .1zM162 30l1.2-1.2l.5 1.2l.3 1.1l.2 .9l.2 2h-.4h-2v-2zM307.2 29.2l.8 .8l.6-.6l-.6 .6v.1l-.8 1.9l.7 2l.1 .1l2 1v.7l-2-.7l-1.4-1.1l-.6-2l.9-2zM46.4 52l1.6-.6l2 .3l1.1 .3l.9 .1h2l1-.1l1-.2l1.4 .2l.6 .1l2 .6l2 .5l2 .1l2-.4l2-.8h2l2 .5l2-.1l2-.5l2-1.1l2 .1h2l2 .1l.9 .9l.7 2v2l.4 .9l.7 1.1l1.3 .9l2 .8l1.1 .3l.9 .2l1.4-.2l.6-.1l2-.5l1.3 .6l.4 .3l-.3 .3l-1-.6l-.4-.2l-.7 .2l-1.3 .3l-2 .3l-2-.5l-.4-.1l-1.6-.7l-2-1.3l-.9-2v-2l-.9-2l-.2-.2l-2-.3h-2l-2-.2l-1.2 .7l-.8 .4l-2 .5l-2 .1l-2-.5l-2 .2l-2 .7l-2 .5l-2-.1l-2-.6l-2-.8l-2-.1l-2 .3l-2 .1l-2-.1l-2-.1l-2 1l-.6 .5l-1.4 1.3l-.9 .7l-.7 2l-.4 2l-1.4 2l-.6 .8l-1 1.2l.2 2l.8 1.7l.2 .3l-.1 2l-.1 .1l-1.7 1.9l-.3 .3l-1.6 1.7l-.4 .4l-1.8 1.6l-.2 .6l-.6 1.4l-.4 2l-1 .7l-1.2-.7l-.1-2l-.7-1.5l-.2-.5l-1.8-1.2l-1.2-.8l-.8-.3l-2-.9l-2-.7l-.4-.1l-1.6-1.1l-2-.4l-2 .3l-2-.6l-.9 1.8l.1 2l.8 1.5l.2 .5l1.2 2l.6 .5l2 .3l1.2 1.2l.8 1.1l.5 .9l1.3 2l.2 .4l.9 1.6l1.1 1.6l.7 .4l1.3 .4l1.4 1.6l.6 .6l1.8 1.4l.2 .3l2 1.6l.3 .1l1.7 .5l2 1l.7 .5l1.3 1l1.2 1l.8 .7l2 1.3v1.8l-2-1.2l-.6-.6l-1.4-1.3l-.7-.7l-1.3-1l-1.4-1l-.6-.4l-2-.6l-1.7-1l-.3-.2l-1-1.8l-1-.8l-1.2-1.2l-.8-.9l-2-.7l-1-.4l-.9-2l-.1-.1l-.8-1.9l-1.2-2l-1.4-2l-.6-.5l-2-.5l-1.4-1l-.6-1l-1-1l-1-1.4l-1.2-.6l-.8-1.1l-1.1-.9l-.9-.9l-1.1-1.1l-.9-1.8l-.1-.2l-.3-2l-1.4-2l-.2-.2l-.6-1.8l-.4-2l.1-2l.9-1.4l.6-.6l1.4-1l2 .8l.4 .2l1.6 .9l2 .8l.9 .3l1.1 .4l2 .1l2 .2l1.8 1.3l.2 .6l.3 1.4v2l-.1 2l.4 2l1.4 1.8l.2 .2l1.8 1.2l1.5 .8l.5 .2l2 .8l2 .4l2-.1l2-.8l.7-.5l1.3-1.2l.6-.8l.8-2l-.1-2v-2l.7-.9l1-1.1l1-1.3l.6-.7l.5-2l.4-2l.5-.5l1.9-1.5l.1-.1l2-1.7zM6 55.7l-.4 .3l-1.6 1.5l-.3 .5v2l.3 .8l.9 1.2l1.1 1.1l2 .5l.9 .4l1.1 1.8l.2 .2l1.8 1.9l.2 .1l1.8 1.5l1-1.5l1-.8l.6-1.2l.6-2v-2l-1.2-1.1l-2-.8l-.1-.1l-1.9-.6l-1.8-1.4l-.2-.1l-2-1.2l-1.2-.7zM237.1 56l.9-.7l2 .5l.4 .2l1.6 .5v.8l-2-.6l-2-.6l-1.9 1.9l-.1 .1l-2 1l-2 .8l-.2 .1l-1.8 .9l-2 .5l-2 .2l-2-.3h-2l-2-.4l-2 .1l-2 .1l-1-.1l-.7-.7l1.7 .2l2-.1l2-.1l2 .5h2l2 .2l2-.1l2-.5l.8-.4l1.2-.7l2-.7l1-.6l1-.9zM212 60l-.3-.3l.3 .1l.6 .2zM99.7 61.7l-1-1l1.3 .4l2 .9l2 .4l2 .3v.7l-2-.5l-2-.4l-1.6-.5l-.4-.2zM172 60h2h2v2l-2 2l-2-2zM174 60.2l-1.4 1.8l1.4 1.3l1.5-1.3zM294 62l2-1.3l2 .5l1.1 .8l-.1 2l-1 .8l-2 .3l-2-.8l-.3-.3l.3-1.8zM296 61.3l-1.1 .7l.9 2l.2 .1l.7-.1l1.3-.8l.3-1.2l-.3-.2zM109.5 78l.5-.3l1.1-.6l.9 .9h1.1l-1.1 1l-1.3 1l-.7 1l-1.1 1v2l1.1 1.4l.2 .4l-.2 .2l2 2h1.7l.3 .1l2 .6l2 .4l2 .3l2 .5l.8 .1l1.2 .2l2 .1h1.7l-1.6 1.6h-.1l-2-.3l-2-.3l-2-.5l-2-.3l-2-.2l-2-.1l-2-.2h-.2l-1.8-.2l-2-.8l-1.2-1l-.8-.6l-1.4-1.4l-.6-.7l-.8-1.3l-.7-2l.3-2l1.2-.8h2l2-.4zM239.3 80l.7-.5l1 .5l1 1l2 .6l2-.2l2-1l1-.4l1-.5l2-.2l2 .4l.5 .3l1.5 .9l.8 1.1l1.2 1.9v.1l1.1 2l.9 1.6l.2 .4l.6 2l.2 2l.9 2l.1 .1l1.2 1.9l.3 2l.5 1l1.7 1l.3 .2h2l.5-.2l1.5-.8l1.1-1.2l.9-1.9l.1-.1l.2-2l-.2-2l.7-2l.7-2l.2-2l.2-2l.1-.8l.2-1.2v-1.8l1.8 1.8h.1l-.1 .6l-.3 1.4l-.1 2l-.1 2l-.7 2l-.8 1.9v.1v1.4v.6v.2l-.2 1.8l-.6 2l-1.2 1.8l-.2 .2h-1.8l-1.9 1.9h-.1l-2-.2l-2-1.1l-.4-.6l-.9-2l-.2-2l-.5-.9l-.7-1.1l-.8-2l-.2-2l-.3-1.1l-.5-.9l-1-2l-.5-1l-.9-1l-1.1-1.9l-.2-.1l-1.8-1.2l-2-.6l-2 .2l-2 .8l-1.8 .8l-.2 .1l-2 .9l-1.5 1v2l.8 2l.7 .7l.9 1.3l.3 2l.3 2l.3 2l-1 .8l-.8-.8l-.6-.6l.6-.5l.3-.9l-.1-2l-.2-1.1l-.4-.9l-1.6-1.6l-.4-.4l-1.3-2l-.3-.9l-.5-1.1l-.5-2zM109.9 96l.1-.3l.2 .3l1.8 1l1 1l1 .5l2 1l.7 .5l1.3 .6l1.6 1.4l.4 .2l2 .7l2 .6l1 .5l1 .4l2 .8l2 .2l1.4-1.4l.6-1.6v1.6v.4l-1.7 1.6l-.3 .2l-1.6-.2h-.4l-2-.8l-2-.7l-1.3-.5l-.7-.2l-2-.6l-1.9-1.2l-.1-.1l-2-.8l-2-.4h-2l-2 1.1l-.1 .2l-1.9 1.2l-1.6 .8l-.4 .3l-2 .8l-2 .2l-2 .2l-2 .3l-1 .2l-1 .3v-.3v-1.9l2 .1h2l2 .1l1.4-.3l.6-.1l2-1l1.4-.9l.6-.7l1.1-1.3l.4-2z"/><path fill="#e64e35" stroke="#e64e35" d="M119 10h1h2h.3l.3 2l1.1 2l.3 .3l1.5 1.7l.5 .4l2 .9l2 .3l2 .1l2 .3l2-.3l2-.9l2-.5l2-.1l2 .3l2 1l.7 .5l1.3 1.1l1.2 .9l.8 .5l2 1.5l2 .9l1.2-.1l-1.2 1.2v2h-.1l-1.9-1.4l-.5-.6l-1.5-1.3l-.7-.7l-1.3-1l-1.2-1l-.8-.7l-2-1.2l-.4-.1l-1.6-.5h-2l-1.7 .5l-.3 .1l-2 .7h-2l-2-.1l-2 .1l-2 .2l-2-.4l-1.1-.6l-.9-.7l-1.6-1.3l-.4-.5l-1.8-1.5l-.2-.3l-.9-1.7zM162 18l2-2h2h.6l-.3 2l.5 2l1.2 1.2l1.1 .8l.9 .4l2 .6l2-.7l1.3-.3l.7-.3l2 .2l.4 .1l1.6 .4l2-.3l.2-.1l1.8-.7l2-.1l2 .7l.2 .1l1.8 1.1l1.2 .9l.8 .5l2 1l2 .5l2 .2l2 .3l2 1l.4 .5l1.6 2v2v.7v1.3l-.2 2l-.6 2l-1 2l-.2 .3l-1.4 1.7l-.6 .7v-.7v-1.9l.1-.1l1.4-2l.5-1l.4-1l.3-2l.1-2l-.2-2l-.6-.7l-1.9-1.3l-.1-.1l-2-.4l-2-.2l-2-.2l-2-.6l-1.1-.5l-.9-.4l-2-1.2l-1.1-.4l-.9-.3l-.9 .3l-1.1 .4l-2 .8l-2 .1l-2-.4l-2-.4l-2 .2l-2 .5l-2-.2l-2 .2l-1.2 .8l-.2 2l.5 2l.6 2v.3l-1.7 1.7h-1.6l-.2-2l-.2-.9l-.3-1.1l-.5-1.2l.8-.8l-2-2l-2-2h-2l-1.1-1.1l1.1-.4l1-.5l1-.8l.9-1.2l.6-2zM7.4 26l.6-.2l2-.3l2-.1l2 .1l1.5 .5l.5 .2l2 .6l2 .7l.9 .5l1.1 .9l.7 1.1l-.2 2l-.5 .4l-2 .8h-2l-2 .2l-2 .5l-.3 .1l-1.7 .5l-2 .5l-2 .2l-2 .3h-2l-2-.6l-1.5-.9l-.5-1.4l-.2-.6l.2-.4l.6-1.6l1.4-1.5l.6-.5l1.4-.9l2-.8zM4 28l-2 1.7l-.3 .3l-.8 2l.9 2l.2 .1l2 .8l2 .1l2-.3l2-.2l1.8-.5l.2-.1l2-.6l2-.5l2-.2h2l1.5-.6l.3-2l-1.8-1.5l-.9-.5l-1.1-.4l-2-.6l-2-.7l-2-.2l-2 .2l-2 .4l-2 .4zM308.6 29.4l1.4-1.4v1.1l-.9 .9l-.8 2l.9 2l.8 .4v.7l-2-1l-.1-.1l-.7-2l.8-1.9v-.1zM76.8 52l1.2-.7l2 .2h2l2 .3l.2 .2l.9 2v2l.9 2l2 1.3l1.6 .7l.4 .1l2 .5l2-.3l1.3-.3l.7-.2l.4 .2l1 .6l-.4 .4l-1-.6l-2 .4l-2 .2l-2-.5l-1.6-.5l-.4-.2l-2-1.2l-.6-.6l-.7-2l-.1-2l-.6-1.2l-1.8-.8h-.2l-2-.1l-2-.1l-.4 .2l-1.6 .8l-2 .4l-2 .2l-2-.4l-2 .2l-2 .7l-.2 .1l-1.8 .4l-2-.1l-.8-.3l-1.2-.4l-2-.8l-2-.1l-2 .4l-2 .2l-2 .1l-2 .3l-.7 .3l-1.3 1.1l-.9 .9l-.9 2l-.2 2l-1.2 2l-.8 1.1l-.6 .9l.2 2l.4 .6l.6 1.4v2l-.6 1.3l-.5 .7l-1.5 2l-1.6 2l-.4 .6l-1 1.4l-1 1.5l-.3 .5l-1.7 1.7l-.5 .3l-1.5 .5l-1.8-.5l-.2-.1l-1.2-1.9l-.5-2l-.3-.5l-1-1.5l-1-.7l-2-1l-.9-.3l-1.1-.3l-2-.7l-2-.1l-2 .7l-.4 .4l-.2 2l.6 1.7l.4 .3l1.6 .2l1.9 1.8l.1 .2l1.1 1.8l.9 1.4l.9 .6l.8 2l.3 .4l2 1l.5 .6l1.5 1.9l.1 .1l1.9 1.1l1.8 .9l.2 .1l2 .8l2 1.1l2 1.2l1.1 .8l.9 .7l1.9 1.3h.1v2l-2-1.3l-.8-.7l-1.2-1l-1.3-1l-.7-.5l-2-1l-1.7-.5l-.3-.1l-2-1.6l-.2-.3l-1.8-1.4l-.6-.6l-1.4-1.6l-1.3-.4l-.7-.4l-1.1-1.6l-.9-1.6l-.2-.4l-1.3-2l-.5-.9l-.8-1.1l-1.2-1.2l-2-.3l-.6-.5l-1.2-2l-.2-.5l-.8-1.5l-.1-2l.9-1.8l2 .6l2-.3l2 .4l1.6 1.1l.4 .1l2 .7l2 .9l.8 .3l1.2 .8l1.8 1.2l.2 .5l.7 1.5l.1 2l1.2 .7l1-.7l.4-2l.6-1.4l.2-.6l1.8-1.6l.4-.4l1.6-1.7l.3-.3l1.7-1.9l.1-.1l.1-2l-.2-.3l-.8-1.7l-.2-2l1-1.2l.6-.8l1.4-2l.4-2l.7-2l.9-.7l1.4-1.3l.6-.5l2-1l2 .1l2 .1l2-.1l2-.3l2 .1l2 .8l2 .6l2 .1l2-.5l2-.7l2-.2l2 .5l2-.1l2-.5zM5.6 56l.4-.3l.8 .3l1.2 .7l2 1.2l.2 .1l1.8 1.4l1.9 .6l.1 .1l2 .8l1.2 1.1v2l-.6 2l-.6 1.2l-1 .8l-1 1.5l-1.8-1.5l-.2-.1l-1.8-1.9l-.2-.2l-1.1-1.8l-.9-.4l-2-.5l-1.1-1.1l-.9-1.2l-.3-.8v-2l.3-.5zM6 56.5l-1.5 1.5l.2 2l1.3 1.5l2 .2l1.8-1.7l-1.3-2l-.5-.3zM236.1 58l1.9-1.9l2 .6l2 .6v.7h-.1l-1.9-.4h-2l-.4 .4l-1.6 .8l-2 .9l-.8 .3l-1.2 .4l-2 1l-2 .6h-.5l-1.5 .1l-.5-.1l-1.5-.2h-2l-2-.3l-2 .1l-2 .2h-.2l-.8-.8l1 .1l2-.1l2-.1l2 .4h2l2 .3l2-.2l2-.5l1.8-.9l.2-.1l2-.8l2-1zM100 62l-.3-.3l.3 .1l.4 .2l1.6 .5l2 .4l2 .5v.6l.2 .2l-.2-.1l-.1-.1l-1.9-.6l-2-.4l-2-.6zM248.6 60h1.4l1.7 1.7l-1.7-1zM294.9 62l1.1-.7l2 .5l.3 .2l-.3 1.2l-1.3 .8l-.7 .1l-.2-.1zM296 61.8l-.2 .2l.2 .5l.6-.5zM109.3 76l.7-.5v.5l1.1 1.1l-1.1 .6l-.5 .3l-1.5 .8l-2 .4h-2l-1.2 .8l-.3 2l.7 2l.8 1.3l.6 .7l1.4 1.4l.8 .6l1.2 1l2 .8l1.8 .2h.2l2 .2l2 .1l2 .2l2 .3l2 .5l2 .3l2 .3h.1l-.1 .1v1.7l-2-.5l-2-.3l-2-.6l-1.1-.3l-.9-.1l-1.3 .1l-.7 .2l-2 1.8v.1l.7 1.9l1.3 1.3l.8 .7l1.2 .8l1.2 1.2l.8 .7l1.8 1.3l.2 .1l2 .5l2 .9l.8 .5l1.2 .5l2 .1l.7-.6l.4-2l.1-2l-.2-1l1 1v2v.4l-.6 1.6l-1.4 1.4l-2-.2l-2-.8l-1-.4l-1-.5l-2-.6l-2-.7l-.4-.2l-1.6-1.4l-1.3-.6l-.7-.5l-2-1l-1-.5l-1-1l-1.8-1l-.2-.3l-.1 .3l-.4 2l-.4 2l-1.1 1.3l-.6 .7l-1.4 .9l-2 1l-.6 .1l-1.4 .3l-2-.1h-2l-2-.1v-.1l-2-2v-.8l2 .6l.5 .2l1.5 .4l2 .4l2 .4l2-.3l1.5-.9l.5-.5l1.2-1.5l.4-2l-.5-2l-.8-2l-.3-.7l-.9-1.3l-1.1-1.3l-.8-.7l-1.2-1.2l-.8-.8l-1.1-2l-.1-1l-.1-1l.1-.3l.3-1.7l.8-2l.9-.9l1.7-1.1l.3-.2l2-.4l2-.6zM237.4 80l.6-.6l2-1l2 .7l1.4 .9l.6 .3l2 .4l1.4-.7l.6-.5l2-.9l2-.2l2 .3l2 1l.3 .3l1.4 2l.3 .5l.6 1.5l1.1 2l.3 .5l.8 1.5l.4 2l.3 2l.5 1.1l.7 .9l1.2 2l.1 .7l1.2 1.3l.8 .5l2-.3l.4-.2l1.6-1.5l.3-.5l.6-2v-2l.4-2l.6-2l.1-.7l.2-1.3l.2-2l.1-2l-.2-2h1.7l.2 .2v1.8l-.2 1.2l-.1 .8l-.2 2l-.2 2l-.7 2l-.7 2l.2 2l-.2 2l-.1 .1l-.9 1.9l-1.1 1.2l-1.5 .8l-.5 .2h-2l-.3-.2l-1.7-1l-.5-1l-.3-2l-1.2-1.9l-.1-.1l-.9-2l-.2-2l-.6-2l-.2-.4l-.9-1.6l-1.1-2v-.1l-1.2-1.9l-.8-1.1l-1.5-.9l-.5-.3l-2-.4l-2 .2l-1 .5l-1 .4l-2 1l-2 .2l-2-.6l-1-1l-1-.5l-.7 .5l-.3 2l.5 2l.5 1.1l.3 .9l1.3 2l.4 .4l1.6 1.6l.4 .9l.2 1.1l.1 2l-.3 .9l-.6 .5l-1.4-1.4l-1.8-1.8l.2-.2l-.4-.7v-1.3l-2-2l-.1-.1l-.8-1.9l-.4-2v-2z"/><path fill="#df402f" stroke="#df402f" d="M122.3 10h1.7h2v.2l.3 1.8l1.2 2l.5 .5l2 1l1.7 .5h.3l2 .2l1.5-.2h.5h2h2h2h2h2h2h.1l1.9 1.2l1.1 .8l.9 .7l2 .6l1.5-1.3l.5-1l.3-.7l1.7 1.7h2h1.5l-.6 2l-.9 1.2l-1 .8l-1 .5l-1.1 .4l-.9-.9l-.8 .8l-1.2 .1l-2-.9l-2-1.5l-.8-.5l-1.2-.9l-1.3-1.1l-.7-.5l-2-1l-2-.3l-2 .1l-2 .5l-2 .9l-2 .3l-2-.3l-2-.1l-2-.3l-2-.9l-.5-.4l-1.5-1.7l-.3-.3l-1.1-2zM185.1 24l.9-.3l.9 .3l1.1 .4l2 1.2l.9 .4l1.1 .5l2 .6l2 .2l2 .2l2 .4l.1 .1l1.9 1.3l.6 .7l.2 2l-.1 2l-.3 2l-.4 1l-.5 1l-1.4 2l-.1 .1v-.1v-2l-.5-.5l.5-.7l.5-.8l.7-2l.3-2l-.9-2l-.6-.4l-2-.7h-2h-2l-2-.2l-2-.4l-1.4-.3l-.6-.1l-2-.2l-1.4 .3h-.6h-2h-2l-.9 .9l-1.1-.4l-1-.5l-1-.3l-2 .1l-.4 .2l-.8 2l.3 .9l-1.1 1.1h-2h-2l-.3 .3v-.3l-.6-2l-.5-2l.2-2l1.2-.8l2-.2l2 .2l2-.5l2-.2l2 .4l2 .4l2-.1l2-.8zM4 28l2-.9l2-.4l2-.4l2-.2l2 .2l2 .7l2 .6l1.1 .4l.9 .5l1.8 1.5l-.3 2l-1.5 .6h-2l-2 .2l-2 .5l-2 .6l-.2 .1l-1.8 .5l-2 .2l-2 .3l-2-.1l-2-.8l-.2-.1l-.9-2l.8-2l.3-.3zM6 28h-.1l-1.9 1.1l-1.1 .9l-.9 1.9v.1v.1l1 1.9l1 .4l2 .1l2-.2l1.8-.3l.2-.1l2-.6l2-.5l2-.6l1.7-.2l.3-.2l.7 .2l1.3 .1l.2-.1l.2-2l-.4-.3l-2-.8l-1.3-.9l-.7-.2l-2-.7l-2-.2l-2 .2l-2 .3zM309.1 30l.9-.9v.9v.5l-.6 1.5l.6 1.3v.7v.4l-.8-.4l-.9-2zM77.6 52l.4-.2l2 .1l2 .1h.2l1.8 .8l.6 1.2l.1 2l.7 2l.6 .6l2 1.2l.4 .2l1.6 .5l2 .5l2-.2l2-.4l1 .6l-.4 .4l-.6-.4l-2 .2l-2 .1l-2-.5l-2-.5l-.7-.3l-1.3-.8l-1.2-1.2l-.6-2l-.1-2l-.1-.1l-2-1.2l-2-.2l-2-.2l-2 .9l-2 .4l-2 .2l-2-.3l-2 .2l-.8 .3l-1.2 .6l-2 .4l-2-.2l-2-.7l-.1-.1l-1.9-.8l-2-.1l-2 .5l-2 .3l-.8 .1l-1.2 .3l-2 1.1l-.8 .6l-.8 2l.1 2l-.5 1.7l-.2 .3l-1.8 1.8l-.1 .2l.1 2v.1l.4 1.5l-.4 .4v2v1.5l-.2 .5l-.9 2l-.9 1.5l-.4 .5l-.7 1.1l-.9 .9l-2 2l-2 2l-2 2l.5 .5l-.5 .4l-2 .2l-2-.7l-2 .2l-1.1 1.4l.8 2l.3 .3l2 1.3l2-.6l1.5 1l.5 .1l2 1.5l.4 .4l1.6 1l1.5 1l.5 .4l2 1.5l.3 .1l1.2 .5l-1.5 1.5h-.1l-1.9-1.3l-.9-.7l-1.1-.8l-2-1.2l-2-1.1l-2-.8l-.2-.1l-1.8-.9l-1.9-1.1l-.1-.1l-1.5-1.9l-.5-.6l-2-1l-.3-.4l-.8-2l-.9-.6l-.9-1.4l-1.1-1.8l-.1-.2l-1.9-1.8l-1.6-.2l-.4-.3l-.6-1.7l.2-2l.4-.4l2-.7l2 .1l2 .7l1.1 .3l.9 .3l2 1l1 .7l1 1.5l.3 .5l.5 2l1.2 1.9l.2 .1l1.8 .5l1.5-.5l.5-.3l1.7-1.7l.3-.5l1-1.5l1-1.4l.4-.6l1.6-2l1.5-2l.5-.7l.6-1.3v-2l-.6-1.4l-.4-.6l-.2-2l.6-.9l.8-1.1l1.2-2l.2-2l.9-2l.9-.9l1.3-1.1l.7-.3l2-.3l2-.1l2-.2l2-.4l2 .1l2 .8l1.2 .4l.8 .3l2 .1l1.8-.4l.2-.1l2-.7l2-.2l2 .4l2-.2l2-.4zM18 75.5l-.5 .5l.5 .4l1.2 1.6l.8 .7l.7 1.3l.9 2l.4 .6l2 1.1l2-1.2l.7-.5l.3-2l-.5-2l-.5-.7l-1.5-1.3l-.5-.3l-2-.5l-2-.2zM4.5 58l1.5-1.5l2 1.2l.5 .3l1.3 2l-1.8 1.7l-2-.2l-1.3-1.5zM6 57.5l-.5 .5l.4 2l.1 .1l.4-.1l.4-2zM237.6 58l.4-.4h2l1.9 .4h.1l1.3 1.3l-1.3-.3l-2-.5l-2 .3l-2 .8l-1 .4l-1 .3l-2 .6l-2 .9l-.5 .2l-1.5 .6l-2 .1l-2-.4l-2 .2l-2-.4l-2 .1l-2 .5v-.7l-.2-.2h.2l2-.2l2-.1l2 .3h2l1.5 .2l.5 .1l1.5-.1h.5l2-.6l2-1l1.2-.4l.8-.3l2-.9zM245.8 60h.2h2h.6l1.4 .7l1.7 1l.3 .3v1.3l-1.6-1.3l-.4-.2l-2-1.1l-2-.7zM295.8 62l.2-.2l.6 .2l-.6 .5zM100 63v-.6l2 .6l2 .4l1.9 .6l.1 .1l.2 .1l1.8 1.8v.2l-.1-.2l-1.9-1.1l-1.8-.9l-.2-.1l-2-.4zM109.2 74l.8-1.2v1.2v1.5l-.7 .5l-1.3 .8l-2 .6l-2 .4l-.3 .2l-1.7 1.1l-.9 .9l-.8 2l-.3 1.7l-.1 .3l.1 1l.1 1l1.1 2l.8 .8l1.2 1.2l.8 .7l1.1 1.3l.9 1.3l.3 .7l.8 2l.5 2l-.4 2l-1.2 1.5l-.5 .5l-1.5 .9l-2 .3l-2-.4l-2-.4l-1.5-.4l-.5-.2l-2-.6v-1.2l2-2v-.6l.3 .6l1.7 1.6l.3 .4l1.7 1l1.6 1l.4 .1l.8-.1l1.2-.3l1.6-1.7l.4-1.7l.1-.3l-.1-.1l-1.1-1.9l-.9-1.2l-1.5-.8l-.5-.4v-1.6l-2-2l-2-2h-2h-2h-1.8l.3-2l1.5-.7l1.8-1.3l.2-.1l1.8-1.9l.2-.2l1.4-1.8l.6-.6l1.4-1.4l.6-.5l2-.9l1.9-.6h.1l2-1.1zM260.3 72h1.7l2 2l1.1 1.1l-1.1-.2l-2-.2l-.6-.7zM237.3 78l.7-.4l2-.6l2 .4l1 .6l1 .6l1.9 1.4h.1h.1l1.9-1.6l1.2-.4l.8-.3l2-.2l2 .1l1.7 .4l.3 .1l1.7 1.9l.3 .5l.5 1.5l.7 2l.8 1.4l.3 .6l1 2l.4 2l.3 2v.1l1.6 1.9l.4 .8l1.8 1.2l.2 .2l1.8-.2h.2l1.4-2l.3-2l.3-1.4l.1-.6l.4-2l.3-2l.1-2v-2l-.4-2l-.5-1l-.6-1h.6l2 2h.3l.2 2l-.1 2l-.2 2l-.2 1.3l-.1 .7l-.6 2l-.4 2v2l-.6 2l-.3 .5l-1.6 1.5l-.4 .2l-2 .3l-.8-.5l-1.2-1.3l-.1-.7l-1.2-2l-.7-.9l-.5-1.1l-.3-2l-.4-2l-.8-1.5l-.3-.5l-1.1-2l-.6-1.5l-.3-.5l-1.4-2l-.3-.3l-2-1l-2-.3l-2 .2l-2 .9l-.6 .5l-1.4 .7l-2-.4l-.6-.3l-1.4-.9l-2-.7l-2 1l-.6 .6l-.7 2v2l.4 2l.8 1.9l-1.9-1.9v-2v-2v-2v-.7zM116.7 92l1.3-.1l.9 .1l1.1 .3l2 .6l2 .3l2 .5v.3l2 2l2 2l1 1l.2 1l-.1 2l-.4 2l-.7 .6l-2-.1l-1.2-.5l-.8-.5l-2-.9l-2-.5l-.2-.1l-1.8-1.3l-.8-.7l-1.2-1.2l-1.2-.8l-.8-.7l-1.3-1.3l-.7-1.9v-.1l2-1.8zM120 95l-1.3 1l1.2 2l.1 .1l1.6 1.9l.4 .3l2 1.1l.8 .6l1.2 .5l2 1.1l2-.7l.1-.9l-.1-2v-.1l-1-1.9l-1-1.2l-1.3-.8l-.7-.3l-2-.5l-2-.2zM240 92v-.7l.4 .7l-.2 .2z"/><path fill="#d83228" stroke="#d83228" d="M126 10h2l2 2l2 2l2 2h1.5l-1.5 .2l-2-.2h-.3l-1.7-.5l-2-1l-.5-.5l-1.2-2l-.3-1.8zM150 16l2-2h2h2v2l.3 .3l-.3 .7l-.5 1l-1.5 1.3l-2-.6l-.9-.7l-1.1-.8l-1.9-1.2zM5.9 28h.1l2-.6l2-.3l2-.2l2 .2l2 .7l.7 .2l1.3 .9l2 .8l.4 .3l-.2 2l-.2 .1l-1.3-.1l-.7-.2l-.3 .2l-1.7 .2l-2 .6l-2 .5l-2 .6l-.2 .1l-1.8 .3l-2 .2l-2-.1l-1-.4l-1-1.9v-.1v-.1l.9-1.9l1.1-.9zM10 27.9l-.6 .1l-1.4 .4l-2 .6l-1.7 1l-.3 .3l-1 1.7l1 1.6l1.5 .4h.5h.3l1.7-.4l2-.4l2-.6l2-.4l.7-.2l1.3-1.1l1.3-.9l-1.3-.8l-1.6-1.2l-.4-.1l-2-.2zM173.6 28l.4-.2l2-.1l1 .3l1 .5l1.1 .4l-1.1 1.1h-2h-2l-.9 .9l-.3-.9zM184.6 28l1.4-.3l2 .2l.6 .1l1.4 .3l2 .4l2 .2h2h2l2 .7l.6 .4l.9 2l-.3 2l-.7 2l-.5 .8l-.5 .7l-1.5-1.5h-.8l.8-.5l1-1.5l.6-2l-1.6-1.4l-2 .3l-2 .6l-2 .5l-2-2l-2-2h-2zM309.4 32l.6-1.5v1.5v1.3zM51.2 54l.8-.1l2-.3l2-.5l2 .1l1.9 .8l.1 .1l2 .7l2 .2l2-.4l1.2-.6l.8-.3l2-.2l2 .3l2-.2l2-.4l2-.9l2 .2l2 .2l2 1.2l.1 .1l.1 2l.6 2l1.2 1.2l1.3 .8l.7 .3l2 .5l2 .5l2-.1l2-.2l.6 .4l-.3 .3l-.3-.2l-2 .1l-2 .1l-2-.5l-2-.4l-1.8-.8l-.2-.1l-1.8-1.9l-.2-.8l-.5-1.2l-.6-2l-.9-.5l-2-.4l-2-.1l-2 .6l-2 .4h-.4l-1.6 .3l-1.7-.3h-.3h-.4l-1.6 .3l-2 .9l-2 .3l-2-.2l-2-.6l-.9-.7l-1.1-.5h-2l-1.8 .5l-.2 .1l-2 .8l-2 .8l-.4 .3l-1.1 2v2l-.3 2l-.2 .5l-1 1.5l-.3 1.3l-.7 .7l-1.6 1.6l-.4-1.5v-.1l-.1-2l.1-.2l1.8-1.8l.2-.3l.5-1.7l-.1-2l.8-2l.8-.6l2-1.1zM5.5 58l.5-.5l.8 .5l-.4 2l-.4 .1l-.1-.1zM235 60l1-.4l2-.8l2-.3l2 .5l1.3 .3l.7 .7h1.8h.2l2 .7l2 1.1l.4 .2l1.6 1.3v.7h-1.2l-.8-.7l-1.3-1.3l-.7-.4l-2-.4l-2-.6l-1.7-.6l-.3-.1l-2-.2l-2 .2l-.4 .1l-1.6 .6l-2 .5l-2 .3l-1.2 .6l-.8 .6l-2 .7l-2 .1l-2-.3l-2 .1l-2-.1l-2 .2l-2 .4v-1l2-.5l2-.1l2 .4l2-.2l2 .4l2-.1l1.5-.6l.5-.2l2-.9l2-.6zM100 63.6v-.6l2 .5l2 .4l.2 .1l1.8 .9l1.9 1.1l.1 .2v1.5l-1.4-1.7l-.6-.4l-2-1.1l-2-.4l-.2-.1zM254.7 68h1.3l2 2l2 2h.3l1.1 2l.6 .7l2 .2l1.1 .2l.9 .9l2 2h1.4l.6 1l.5 1l.4 2v2l-.1 2l-.3 2l-.4 2l-.1 .6l-.3 1.4l-.3 2l-1.4 2h-.2l-1.8 .2l-.2-.2l-1.8-1.2l-.4-.8l-1.6-1.9v-.1l-.3-2l-.4-2l-1-2l-.3-.6l-.8-1.4l-.7-2l-.5-1.5l-.3-.5l-1.7-1.9l-.3-.1l-1.7-.4l-2-.1l-2 .2l-.8 .3l-1.2 .4l-1.9 1.6h-.1h-.1l-1.9-1.4l-1-.6l-1-.6l-2-.4l-2 .6l-.7 .4l-1.3 1.3v-1.3l2-2l-.1-.1l.1-.1l2-.3l2 .2l.7 .3l1.3 .5l2 .8l2-.5l2-.4l2-.1l2-.1l1.5-.2l.5-.2l1.5-1.8l-.2-2l-1-2l-.3-.4zM260 77.6l-.4 .4l-.4 2l.1 2l.5 2l.2 .3l1 1.7l.9 2l.1 .7l.3 1.3l.6 2l1.1 1.4l1.9 .6l.1 .1l.2-.1l1.8-.9l.3-1.1l.5-2l.3-2l.2-2l.2-2l-.2-2l-.8-2l-.5-.7l-1.5-1.3l-.5-.4l-2-.4l-2 .1zM43.8 72l.2-.5v.5v2l-2 2l-1.1 1.1l.7-1.1l.4-.5l.9-1.5zM109 71l1 1v.8l-.8 1.2l-1.2 .9l-2 1.1h-.1l-1.9 .6l-2 .9l-.6 .5l-1.4 1.4l-.6 .6l-1.4 1.8l-.2 .2l-1.8 1.9l-.2 .1l-1.8 1.3l-1.5 .7l-.3 2h-.2h-2l-2-2l-2-2l-2-2l-2-2v-2l-1.1-1.1l.2-.9l.9-.8l2-.7l2 1.2l.2 .3l.4 2l-.6 1l-.9 1l.4 2l.5 .5l2 .4l2-.5l1.3-.4l.7-.2l2-.4l2-.8l.8-.6l1.2-.7l1.4-1.3l.6-.4l2-1.4l.5-.2l1.5-.6l2-.9l.9-.5l1.1-1.1l.7-.9zM17.5 76l.5-.5l2-.5l2 .2l2 .5l.5 .3l1.5 1.3l.5 .7l.5 2l-.3 2l-.7 .5l-2 1.2l-2-1.1l-.4-.6l-.9-2l-.7-1.3l-.8-.7l-1.2-1.6zM22 77.3l-.6 .7l.3 2l.3 1l2 .5l1-1.5l-.3-2l-.7-.6zM26.9 86l1.1-1.4l2-.2l2 .7l2-.2l.5-.4l1.5 1.5v2l2 2l.4-.4l.1 .4l1.5 1.9l.1 .1l1.9 1.6l1.1 .4l.9 .3v1.7l-.5 .5l-1.2-.5l-.3-.1l-2-1.5l-.5-.4l-1.5-1l-1.6-1l-.4-.4l-2-1.5l-.5-.1l-1.5-1l-2 .6l-2-1.3l-.3-.3zM102 94v-.4l.5 .4l1.5 .8l.9 1.2l1.1 1.9l.1 .1l-.1 .3l-.4 1.7l-1.6 1.7l-1.2 .3l-.8 .1l-.4-.1l-1.6-1l-1.7-1l-.3-.4l-1.7-1.6l-.3-.6v-1.4h2h2zM102 97.9l-.1 .1l.1 .4l2 .8l.2-1.2l-.2-.3zM118.7 96l1.3-1h2l2 .2l2 .5l.7 .3l1.3 .8l1 1.2l1 1.9v.1l.1 2l-.1 .9l-2 .7l-2-1.1l-1.2-.5l-.8-.6l-2-1.1l-.4-.3l-1.6-1.9l-.1-.1zM126 99l-.8 1l.8 .4l1.7 1.6l.3 .1l.2-.1l-.1-2l-.1-.1z"/><path fill="#cd2727" stroke="#cd2727" d="M9.4 28l.6-.1l2-.2l2 .2l.4 .1l1.6 1.2l1.3 .8l-1.3 .9l-1.3 1.1l-.7 .2l-2 .4l-2 .6l-2 .4l-1.7 .4h-.3h-.5l-1.5-.4l-1-1.6l1-1.7l.3-.3l1.7-1l2-.6zM8 29.5l-1.6 .5l-.4 .3l-1.8 1.7l1.8 .9l2-.2l2-.3l1.8-.4l.2-.1l2-.8l1.3-1.1l-1.3-1l-2-.2l-2 .3zM192 32l2-.5l2-.6l2-.3l1.6 1.4l-.6 2l-1 1.5l-.8 .5h-1.2l-2-2zM54.2 54l1.8-.5h2l1.1 .5l.9 .7l2 .6l2 .2l2-.3l2-.9l1.6-.3h.4h.3l1.7 .3l1.6-.3h.4l2-.4l2-.6l2 .1l2 .4l.9 .5l.6 2l.5 1.2l.2 .8l1.8 1.9l.2 .1l1.8 .8l2 .4l2 .5l2-.1l2-.1l.3 .2l-.3 .3l-.2 .2l-1.8-.1h-2l-.2-.1l-1.8-.5l-2-.2l-2-.6l-1-.7l-1-1.1l-.7-.9l-.7-2l-.6-1.4l-.8-.6l-1.2-.3l-2-.1l-2 .4h-.2l-1.8 .6l-2 .3l-2-.1l-2 .4l-2 .6l-1.6 .2l-.4 .1l-.3-.1l-1.7-.2l-2-.5l-1.8-1.3l-.2-.1h-2l-.2 .1l-1.8 1.1l-2 .9l-1.7 2l-.3 1.8v.2l-.3 2l-.4 2h-1.3l-1.3 1.3l.3-1.3l1-1.5l.2-.5l.3-2v-2l1.1-2l.4-.3l2-.8l2-.8zM237.6 60l.4-.1l2-.2l2 .2l.3 .1l1.7 .6l2 .6l2 .4l.7 .4l1.3 1.3l.8 .7h-.8l-.9 .9l-.5-.9l-.6-.6l-2-.9l-1.6-.5l-.4-.1l-2-.5l-2-.3l-2 .2l-2 .3l-2 .2l-2 .1l-.1 .1l-1.9 1.4l-2 .5l-2 .1l-2-.2l-2 .1l-2 .1l-1.6 .4l-.4-.4h-2v-.3l2-.4l2-.2l2 .1l2-.1l2 .3l2-.1l2-.7l.8-.6l1.2-.6l2-.3l2-.5zM100 64v-.4l1.8 .4l.2 .1l2 .4l2 1.1l.6 .4l1.4 1.7v.3v2l1 1l-.3 1l-.7 .9l-1.1 1.1l-.9 .5l-2 .9l-1.5 .6l-.5 .2l-2 1.4l-.6 .4l-1.4 1.3l-1.2 .7l-.8 .6l-2 .8l-2 .4l-.7 .2l-1.3 .4l-2 .5l-2-.4l-.5-.5l-.4-2l.9-1l.6-1l-.4-2l-.2-.3l-2-1.2l-2 .7l-.9 .8l-.2 .9l-.9-.9v-2v-.2l2-1l2-.3l2 .7l.9 .8l1.1 1.4l.5 .6l1.3 2l.2 .1l2 .6h2l2-.3l.8-.4l1.2-.6l1.9-1.4l.1-.1l2-1.1l2-.7l.1-.1l1.9-1l1.1-1l.5-2l-.7-2l-.9-1.1l-.6-.9l-1.4-.9l-2-.3l-2-.4zM251.9 68h.1h2h.7l1.3 1.6l.3 .4l1 2l.2 2l-1.5 1.8l-.5 .2l-1.5 .2l-2 .1l-2 .1l-2 .4l-2 .5l-2-.8l-1.3-.5l-.7-.3l-2-.2l-2 .3l-.1 .1l-1.5-1.5l1.2-.4l.4-.2l2-.4l2 .1l2 .5h.1l1.9 .5l2 .2h2l2 .2l2-.7l.3-.2l.2-2l-.5-1l-.6-1l-1.4-1.9zM21.4 78l.6-.7l2 .1l.7 .6l.3 2l-1 1.5l-2-.5l-.3-1zM259.6 78l.4-.4l2-.3l2-.1l2 .4l.5 .4l1.5 1.3l.5 .7l.8 2l.2 2l-.2 2l-.2 2l-.3 2l-.5 2l-.3 1.1l-1.8 .9l-.2 .1l-.1-.1l-1.9-.6l-1.1-1.4l-.6-2l-.3-1.3l-.1-.7l-.9-2l-1-1.7l-.2-.3l-.5-2l-.1-2zM262 79.1l-1.1 .9l-.8 2l.4 2l1.2 2l.3 .7l.8 1.3l.2 2l1 2v.1l2 .1l.2-.2l1.1-2l.3-2l.2-2l.2-2l-.4-2l-1.3-2l-.3-.3l-2-.8zM38.4 89.6l1.6-1.6h2h1.2l.2 2l.6 .4v1.6v2v.3l-.9-.3l-1.1-.4l-1.9-1.6l-.1-.1l-1.5-1.9zM101.9 98l.1-.1l2-.2l.2 .3l-.2 1.2l-2-.8zM125.2 100l.8-1l2 .9l.1 .1l.1 2l-.2 .1l-.3-.1l-1.7-1.6z"/><path fill="#c21c27" stroke="#c21c27" d="M6.4 30l1.6-.5l2-.4l2-.3l2 .2l1.3 1l-1.3 1.1l-2 .8l-.2 .1l-1.8 .4l-2 .3l-2 .2l-1.8-.9l1.8-1.7zM55.8 54l.2-.1h2l.2 .1l1.8 1.3l2 .5l1.7 .2l.3 .1l.4-.1l1.6-.2l2-.6l2-.4l2 .1l2-.3l1.8-.6h.2l2-.4l2 .1l1.2 .3l.8 .6l.6 1.4l.7 2l.7 .9l1 1.1l1 .7l2 .6l2 .2l1.8 .5l.2 .1h2l1.8 .1l-1 1l-.8-.1h-2l-1.6-1.1l-.4-.1l-2-.1l-2-.3l-2-1.1l-.4-.4l-1.3-2l-.3-1l-.5-1l-1.5-1.2l-2-.4l-2 .3l-2 .5l-2 .4l-2 .1l-1.6 .3l-.4 .2l-2 .7l-2 .2l-2-.4l-1.7-.7l-.3-.1l-2-1l-2 .1l-1.9 1l-.1 .1l-1.8 1.9l-.2 .7l-.3 1.3l-.2 2l-.1 .6l-1.4 1.4h-.7l.4-2l.3-2v-.2l.3-1.8l1.7-2l2-.9zM231.9 62l.1-.1l2-.1l2-.2l2-.3l2-.2l2 .3l2 .5l.4 .1l1.6 .5l2 .9l.6 .6l.5 .9l-1.1 1.1l2 2h1.9l.1 .1l1.4 1.9l.6 1l.5 1l-.2 2l-.3 .2l-2 .7l-2-.2h-2l-2-.2l-1.9-.5h-.1l-2-.5l-2-.1l-2 .4l-.4 .2l-1.2 .4l-.4-.4l-1.5-1.5l1-.5l.5-.4l2-.9l2-.3l2-.1l2-.1l2-.1l.6-.1l.9-2l-1-2l-.5-.4l-2-1.3l-.6-.3l-1.4-.4l-2-.3h-2l-2 .1l-2-.1l-2 .2l-1.1 .5l-.9 .4l-2 .8h-2l-2-.1l-2 .2l-2 .3h-.4l-1.2-1.2l1.6-.4l2-.1l2-.1l2 .2l2-.1l2-.5zM85.9 66l.1-.1l.2 .1l-.2 .4zM100 65.3v-.9l2 .4l2 .3l1.4 .9l.6 .9l.9 1.1l.7 2l-.5 2l-1.1 1l-1.9 1l-.1 .1l-2 .7l-2 1.1l-.1 .1l-1.9 1.4l-1.2 .6l-.8 .4l-2 .3h-2l-2-.6l-.2-.1l-1.3-2l-.5-.6l-1.1-1.4l-.9-.8l-2-.7l-2 .3l-2 1v-1.8l1.7-1.7l.3-.1l.9-.2l1.1-.4l1.1 .4l.9 .2l2 1.6l.2 .2l1.8 2l2 2l.4-.4l1.2 .4l.4 .1l2 .1l.4-.2l1.6-.7l2-1.1l.4-.2l1.6-.7l2-.8l1-.5l1-1.5l.2-.5l-.2-.6l-.4-1.4l-1.2-2l-.4-.2l-2-.3zM260.9 80l1.1-.9l2-.2l2 .8l.3 .3l1.3 2l.4 2l-.2 2l-.2 2l-.3 2l-1.1 2l-.2 .2l-2-.1v-.1l-1-2l-.2-2l-.8-1.3l-.3-.7l-1.2-2l-.4-2zM262 80.7l-.9 1.3v2l.9 1.4l1 .6l.9 2l-.1 2l.2 .5l1.2-.5l-.2-2l1-1.1l.1-.9l.3-2l-.4-1.4l-.2-.6l-1.8-1.4zM43.2 88h.8v2v.4l-.6-.4z"/><path fill="#b61126" stroke="#b61126" d="M54.1 56l1.9-1l2-.1l2 1l.3 .1l1.7 .7l2 .4l2-.2l2-.7l.4-.2l1.6-.3l2-.1l2-.4l2-.5l2-.3l2 .4l1.5 1.2l.5 1l.3 1l1.3 2l.4 .4l2 1.1l2 .3l2 .1l.4 .1l1.6 1.1h2l.8 .1l-.8 .8v.4l-2-.4h-.1l-1.9-.4l-1.4 .4l.8 2l.2 2l.4 1.1l.5 .9l1.5 1.7l.2 .1l-.2 .2l-2 2l-1.8-2l-.2-.2l-2-1.6l-.9-.2l-1.1-.4l-1.1 .4l-.9 .2l-.3 .1l.3-.3v-2l-.9-.9l.9-.8l.3-.3l1.4-2l-.4-2l-1.3-1.6l-.2-.4l-1.2-2l-.6-1.3l-.6-.7l-1.4-.4h-2l-2 .3l-.7 .1l-1.3 .5l-2 .5l-2 .7l-1.3 .3l-.7 .3l-2-.1l-.3-.2l-1.7-.4l-2-.5l-2-.9l-2 .3l-1.6 1.5l-.1 .3l-.3-.3l-2 2v2l-.6 .6l.1-.6l.2-2l.3-1.3l.2-.7l1.8-1.9zM86 65.9l-.1 .1l.1 .4l.2-.4zM64.6 64l1.4-1.1l1.5 1.1l.5 1.8v.2v.3l-1.2 1.7l-.8 .8l-.5-.8l-1.3-2zM230.9 64l1.1-.5l2-.2l2 .1l2-.1h2l2 .3l1.4 .4l.6 .3l2 1.3l.5 .4l1 2l-.9 2l-.6 .1l-2 .1l-2 .1l-2 .1l-2 .3l-2 .9l-.5 .4l-1 .5l-.5-.5l-2-2l-.4-.4l.4-1l.2-.6l-.2-.4l-2-.8l-2 .3l-.8 .1l-1.2-1.2h-2h-2h-2l-.4-.4h.4l2-.3l2-.2l2 .1h2l2-.8zM242 64h-2l-2 2l2 2h2l2-2zM100 66v-.7l2 .2l2 .3l.4 .2l1.2 2l.4 1.4l.2 .6l-.2 .5l-1 1.5l-1 .5l-2 .8l-1.6 .7l-.4 .2l-2 1.1l-1.6 .7l-.4 .2l-2-.1l-.4-.1l-1.2-.4l1.6-1.6h2l1-1l1-.3l2-.6l.2-.1l1.8-.8l2-1.2v-.1l.1-1.9l-.1-.1l-2-1.2l-2-.1zM66.6 72l1.4-.9l2-.1v1v2l-2 2l-2-2l-1-1l1-.7zM261.1 82l.9-1.3l2-.1l1.8 1.4l.2 .6l.4 1.4l-.3 2l-.1 .9l-1 1.1l.2 2l-1.2 .5l-.2-.5l.1-2l-.9-2l-1-.6l-.9-1.4zM262 82.6l-.2 1.4l.2 .3l2 .3l.4-.6l-.4-1z"/><path fill="#ab0626" stroke="#ab0626" d="M73.3 56l.7-.1l2-.3h2l1.4 .4l.6 .7l.6 1.3l1.2 2l.2 .4l1.3 1.6l.4 2l-1.4 2l-.3 .3l-.9 .8l-1.1-1.1h-2v-2l-2-2h-2l-2 2l-2 2v2v2v1l-2 .1l-1.4 .9l-.6 .3l-1 .7l-1-1l-2-2v-2l-2-2v-2l-2-2l-2-2l-1.7-1.7l.1-.3l1.6-1.5l2-.3l2 .9l2 .5l1.7 .4l.3 .2l2 .1l.7-.3l1.3-.3l2-.7l2-.5zM66 62.9l-1.4 1.1l-.4 2l1.3 2l.5 .8l.8-.8l1.2-1.7v-.3v-.2l-.5-1.8zM88.6 64l1.4-.4l1.9 .4h.1l2 .4v1.6v2v2l-1.8 1.8l-.2-.1l-1.5-1.7l-.5-.9l-.4-1.1l-.2-2zM100 68v-1.4l2 .1l2 1.2l.1 .1l-.1 1.9v.1l-2 1.2l-1.8 .8l-.2 .1l-2 .6l-1 .3l1-1v-2zM228 68l-.8-.8l.8-.1l2-.3l2 .8l.2 .4l-.2 .6l-.4 1l-1.6-1.6zM261.8 84l.2-1.4l2 .4l.4 1l-.4 .6l-2-.3z"/></g></g><path d="M50.4 7.2h1.6v1.4h-1.6zm-5.1 5.3h1.6v1.4h-1.6zm2.6 0h1.6v1.4h-1.6zm25.6 0h1.6v1.4h-1.6zm2.5 0h1.6v1.4h-1.6zm-30.7 2.7h1.6v1.4h-1.6zm15.4 0h1.6v1.4h-1.6zm2.5 0h1.6v1.4h-1.6zm2.6 0h1.6v1.4h-1.6zm2.6 0h1.6v1.4h-1.6zm2.5 0h1.6v1.4h-1.6zm2.6 0h1.6v1.4h-1.6zm2.5 0h1.6v1.4h-1.6zm2.6 0h1.6v1.4h-1.6zm2.6 0h1.6v1.4h-1.6zm-30.8 2.6h1.6v1.4h-1.6zm2.6 0h1.6v1.4h-1.6zm2.6 0h1.6v1.4h-1.6zm2.5 0h1.6v1.4h-1.6zm2.6 0h1.6v1.4h-1.6zm2.5 0h1.6v1.4h-1.6zm2.6 0h1.6v1.4h-1.6zm2.6 0h1.6v1.4h-1.6zm2.5 0h1.6v1.4h-1.6zm2.6 0h1.6v1.4h-1.6zm2.5 0h1.6v1.4h-1.6zm2.6 0h1.6v1.4h-1.6zm2.6 0h1.6v1.4h-1.6zm51.2 0h1.6v1.4h-1.6zm2.6 0h1.6v1.4h-1.6zm12.8 0h1.6v1.4h-1.6zm2.5 0h1.6v1.4h-1.6zm2.6 0h1.6v1.4h-1.6zm-112.7 2.7h1.6v1.4h-1.6zm2.5 0h1.6v1.4h-1.6zm2.6 0h1.6v1.4h-1.6zm2.6 0h1.6v1.4h-1.6zm2.5 0h1.6v1.4h-1.6zm2.6 0h1.6v1.4h-1.6zm2.6 0h1.6v1.4h-1.6zm2.5 0h1.6v1.4h-1.6zm2.6 0h1.6v1.4h-1.6zm2.5 0h1.6v1.4h-1.6zm2.6 0h1.6v1.4h-1.6zm2.6 0h1.6v1.4h-1.6zm2.5 0h1.6v1.4h-1.6zm2.6 0h1.6v1.4h-1.6zm76.8 0h1.6v1.4h-1.6zm2.6 0h1.6v1.4h-1.6zm2.6 0h1.6v1.4h-1.6zm2.5 0h1.6v1.4h-1.6zm2.6 0h1.6v1.4h-1.6zm-120.4 2.6h1.6v1.4h-1.6zm2.5 0h1.6v1.4h-1.6zm2.6 0h1.6v1.4h-1.6zm2.6 0h1.6v1.4h-1.6zm135.7 0h1.6v1.4h-1.6zm2.6 0h1.6v1.4h-1.6zm-174.2 2.7h1.6v1.4h-1.6zm156.3 0h1.6v1.4h-1.6zm2.5 0h1.6v1.4h-1.6zm2.6 0h1.6v1.4h-1.6zm2.6 0h1.6v1.4h-1.6zm2.5 0h1.6v1.4h-1.6zm7.7 0h1.6v1.4h-1.6zm2.6 0h1.6v1.4h-1.6zm-181.9 2.6h1.6v1.4h-1.6zm5.1 0h1.6v1.4h-1.6zm7.7 0h1.6v1.4h-1.6zm115.3 0h1.6v1.4h-1.6zm35.8 0h1.6v1.4h-1.6zm20.5 0h1.6v1.4h-1.6zm2.6 0h1.6v1.4h-1.6zm2.5 0h1.6v1.4h-1.6zm2.6 0h1.6v1.4h-1.6zm-192.1 2.7h1.6v1.4h-1.6zm7.7 0h1.6v1.4h-1.6zm2.5 0h1.6v1.4h-1.6zm2.6 0h1.6v1.4h-1.6zm41 0h1.6v1.4h-1.6zm2.5 0h1.6v1.4h-1.6zm2.6 0h1.6v1.4h-1.6zm66.6 0h1.6v1.4h-1.6zm2.6 0h1.6v1.4h-1.6zm61.4 0h1.6v1.4h-1.6zm2.6 0h1.6v1.4h-1.6zm2.6 0h1.6v1.4h-1.6zm51.2 0h1.6v1.4h-1.6zm-251 2.6h1.6v1.4h-1.6zm2.5 0h1.6v1.4h-1.6zm2.6 0h1.6v1.4h-1.6zm2.5 0h1.6v1.4h-1.6zm48.7 0h1.6v1.4h-1.6zm2.6 0h1.6v1.4h-1.6zm2.5 0h1.6v1.4h-1.6zm2.6 0h1.6v1.4h-1.6zm2.6 0h1.6v1.4h-1.6zm2.5 0h1.6v1.4h-1.6zm2.6 0h1.6v1.4h-1.6zm2.5 0h1.6v1.4h-1.6zm38.5 0h1.6v1.4h-1.6zm2.5 0h1.6v1.4h-1.6zm5.2 0h1.6v1.4h-1.6zm76.8 0h1.6v1.4h-1.6zm2.6 0h1.6v1.4h-1.6zm51.2 0h1.6v1.4h-1.6zm2.6 0h1.6v1.4h-1.6zm-197.3 2.6h1.6v1.4h-1.6zm2.6 0h1.6v1.4h-1.6zm2.5 0h1.6v1.4h-1.6zm2.6 0h1.6v1.4h-1.6zm2.6 0h1.6v1.4h-1.6zm2.5 0h1.6v1.4h-1.6zm2.6 0h1.6v1.4h-1.6zm2.5 0h1.6v1.4h-1.6zm41 0h1.6v1.4h-1.6zm-58.9 2.7h1.6v1.4h-1.6zm2.6 0h1.6v1.4h-1.6zm2.5 0h1.6v1.4h-1.6zm2.6 0h1.6v1.4h-1.6zm2.6 0h1.6v1.4h-1.6zm2.5 0h1.6v1.4h-1.6zm2.6 0h1.6v1.4h-1.6zm2.5 0h1.6v1.4h-1.6zm-15.3 2.6h1.6v1.4h-1.6zm2.5 0h1.6v1.4h-1.6zm2.6 0h1.6v1.4h-1.6zm2.6 0h1.6v1.4h-1.6zm2.5 0h1.6v1.4h-1.6zm2.6 0h1.6v1.4h-1.6zm2.5 0h1.6v1.4h-1.6zm-7.6 2.7h1.6v1.4h-1.6zm2.5 0h1.6v1.4h-1.6zm2.6 0h1.6v1.4h-1.6zm148.6 2.6h1.6v1.4h-1.6zm2.5 0h1.6v1.4h-1.6zm-5.1 2.7h1.6v1.4h-1.6zm2.6 0h1.6v1.4h-1.6zm2.5 0h1.6v1.4h-1.6zm2.6 0h1.6v1.4h-1.6zm-151.2 2.6h1.6v1.4h-1.6zm2.6 0h1.6v1.4h-1.6zm2.6 0h1.6v1.4h-1.6zm138.3 0h1.6v1.4h-1.6zm2.6 0h1.6v1.4h-1.6zm2.5 0h1.6v1.4h-1.6zm2.6 0h1.6v1.4h-1.6zm-181.9 2.7h1.6v1.4h-1.6zm2.6 0h1.6v1.4h-1.6zm2.5 0h1.6v1.4h-1.6zm2.6 0h1.6v1.4h-1.6zm2.6 0h1.6v1.4h-1.6zm2.5 0h1.6v1.4h-1.6zm2.6 0h1.6v1.4h-1.6zm2.5 0h1.6v1.4h-1.6zm2.6 0h1.6v1.4h-1.6zm2.6 0h1.6v1.4h-1.6zm2.5 0h1.6v1.4h-1.6zm2.6 0h1.6v1.4h-1.6zm2.5 0h1.6v1.4h-1.6zm2.6 0h1.6v1.4h-1.6zm2.6 0h1.6v1.4h-1.6zm2.5 0h1.6v1.4h-1.6zm-79.4 2.6h1.6v1.4h-1.6zm2.6 0h1.6v1.4h-1.6zm35.8 0h1.6v1.4h-1.6zm2.6 0h1.6v1.4h-1.6zm2.6 0h1.6v1.4h-1.6zm10.2 0h1.6v1.4h-1.6zm2.6 0h1.6v1.4h-1.6zm2.5 0h1.6v1.4h-1.6zm2.6 0h1.6v1.4h-1.6zm2.6 0h1.6v1.4h-1.6zm2.5 0h1.6v1.4h-1.6zm2.6 0h1.6v1.4h-1.6zm2.5 0h1.6v1.4h-1.6zm2.6 0h1.6v1.4h-1.6zm2.6 0h1.6v1.4h-1.6zm2.5 0h1.6v1.4h-1.6zm-76.8 2.7h1.6v1.4h-1.6zm2.5 0h1.6v1.4h-1.6zm33.3 0h1.6v1.4h-1.6zm2.6 0h1.6v1.4h-1.6zm2.6 0h1.6v1.4h-1.6zm12.8 0h1.6v1.4h-1.6zm2.5 0h1.6v1.4h-1.6zm2.6 0h1.6v1.4h-1.6zm2.6 0h1.6v1.4h-1.6zm2.5 0h1.6v1.4h-1.6zm2.6 0h1.6v1.4h-1.6zm5.1 0h1.6v1.4h-1.6zm2.6 0h1.6v1.4h-1.6zm2.5 0h1.6v1.4h-1.6zm2.6 0h1.6v1.4h-1.6zm2.6 0h1.6v1.4h-1.6zm151.1 0h1.6v1.4h-1.6zm-197.3 2.6h1.6v1.4h-1.6zm2.6 0h1.6v1.4h-1.6zm17.9 0h1.6v1.4h-1.6zm2.6 0h1.6v1.4h-1.6zm2.6 0h1.6v1.4h-1.6zm2.5 0h1.6v1.4h-1.6zm10.3 0h1.6v1.4h-1.6zm2.5 0h1.6v1.4h-1.6zm2.6 0h1.6v1.4h-1.6zm2.6 0h1.6v1.4h-1.6zm130.6 0h1.6v1.4h-1.6zm2.6 0h1.6v1.4h-1.6zm2.5 0h1.6v1.4h-1.6zm2.6 0h1.6v1.4h-1.6zm2.5 0h1.6v1.4h-1.6zm15.4 0h1.6v1.4h-1.6zm-181.9 2.6h1.6v1.4h-1.6zm2.6 0h1.6v1.4h-1.6zm17.9 0h1.6v1.4h-1.6zm2.6 0h1.6v1.4h-1.6zm2.6 0h1.6v1.4h-1.6zm2.5 0h1.6v1.4h-1.6zm138.3 0h1.6v1.4h-1.6zm2.6 0h1.6v1.4h-1.6zm2.6 0h1.6v1.4h-1.6zm-171.7 2.7h1.6v1.4h-1.6zm2.6 0h1.6v1.4h-1.6zm17.9 0h1.6v1.4h-1.6zm2.6 0h1.6v1.4h-1.6zm2.6 0h1.6v1.4h-1.6zm2.5 0h1.6v1.4h-1.6zm140.9 0h1.6v1.4h-1.6zm2.6 0h1.6v1.4h-1.6zm-169.1 2.6h1.6v1.4h-1.6zm17.9 0h1.6v1.4h-1.6zm5.2 0h1.6v1.4h-1.6zm17.9 0h1.6v1.4h-1.6zm130.6 0h1.6v1.4h-1.6zm2.6 0h1.6v1.4h-1.6zm2.6 0h1.6v1.4h-1.6zm2.5 0h1.6v1.4h-1.6zm2.6 0h1.6v1.4h-1.6zm2.5 0h1.6v1.4h-1.6zm2.6 0h1.6v1.4h-1.6zm-238.2 2.7h1.6v1.4h-1.6zm2.5 0h1.6v1.4h-1.6zm2.6 0h1.6v1.4h-1.6zm2.6 0h1.6v1.4h-1.6zm17.9 0h1.6v1.4h-1.6zm46.1 0h1.6v1.4h-1.6zm12.8 0h1.6v1.4h-1.6zm143.5 0h1.6v1.4h-1.6zm2.5 0h1.6v1.4h-1.6zm2.6 0h1.6v1.4h-1.6zm2.5 0h1.6v1.4h-1.6zm2.6 0h1.6v1.4h-1.6zm2.6 0h1.6v1.4h-1.6zm2.5 0h1.6v1.4h-1.6zm2.6 0h1.6v1.4h-1.6zm-245.9 2.6h1.6v1.4h-1.6zm2.5 0h1.6v1.4h-1.6zm2.6 0h1.6v1.4h-1.6zm2.6 0h1.6v1.4h-1.6zm2.5 0h1.6v1.4h-1.6zm12.8 0h1.6v1.4h-1.6zm46.1 0h1.6v1.4h-1.6zm2.6 0h1.6v1.4h-1.6zm10.2 0h1.6v1.4h-1.6zm2.6 0h1.6v1.4h-1.6zm143.5 0h1.6v1.4h-1.6zm2.5 0h1.6v1.4h-1.6zm2.6 0h1.6v1.4h-1.6zm2.5 0h1.6v1.4h-1.6zm2.6 0h1.6v1.4h-1.6zm2.6 0h1.6v1.4h-1.6zm2.5 0h1.6v1.4h-1.6zm2.6 0h1.6v1.4h-1.6zm2.6 0h1.6v1.4h-1.6zm-243.4 2.7h1.6v1.4h-1.6zm2.6 0h1.6v1.4h-1.6zm2.5 0h1.6v1.4h-1.6zm2.6 0h1.6v1.4h-1.6zm7.7 0h1.6v1.4h-1.6zm51.2 0h1.6v1.4h-1.6zm7.7 0h1.6v1.4h-1.6zm2.5 0h1.6v1.4h-1.6zm2.6 0h1.6v1.4h-1.6zm143.5 0h1.6v1.4h-1.6zm2.5 0h1.6v1.4h-1.6zm10.3 0h1.6v1.4h-1.6zm2.5 0h1.6v1.4h-1.6zm2.6 0h1.6v1.4h-1.6zm2.6 0h1.6v1.4h-1.6zm-240.8 2.6h1.6v1.4h-1.6zm2.5 0h1.6v1.4h-1.6zm2.6 0h1.6v1.4h-1.6zm2.5 0h1.6v1.4h-1.6zm2.6 0h1.6v1.4h-1.6zm53.8 0h1.6v1.4h-1.6zm2.6 0h1.6v1.4h-1.6zm169 0h1.6v1.4h-1.6zm2.6 0h1.6v1.4h-1.6zm2.6 0h1.6v1.4h-1.6zm2.5 0h1.6v1.4h-1.6zm2.6 0h1.6v1.4h-1.6zm2.5 0h1.6v1.4h-1.6zm-261.3 2.7h1.6v1.4h-1.6zm2.6 0h1.6v1.4h-1.6zm10.3 0h1.6v1.4h-1.6zm2.5 0h1.6v1.4h-1.6zm2.6 0h1.6v1.4h-1.6zm2.5 0h1.6v1.4h-1.6zm230.6 0h1.6v1.4h-1.6zm2.6 0h1.6v1.4h-1.6zm2.5 0h1.6v1.4h-1.6zm2.6 0h1.6v1.4h-1.6zm2.5 0h1.6v1.4h-1.6zm-258.7 2.6h1.6v1.4h-1.6zm15.4 0h1.6v1.4h-1.6zm2.5 0h1.6v1.4h-1.6zm2.6 0h1.6v1.4h-1.6zm69.2 0h1.6v1.4h-1.6zm158.8 0h1.6v1.4h-1.6zm2.6 0h1.6v1.4h-1.6zm2.5 0h1.6v1.4h-1.6zm2.6 0h1.6v1.4h-1.6zm2.5 0h1.6v1.4h-1.6zm-243.3 2.7h1.6v1.4h-1.6zm2.5 0h1.6v1.4h-1.6zm2.6 0h1.6v1.4h-1.6zm228 0h1.6v1.4h-1.6zm2.6 0h1.6v1.4h-1.6zm2.5 0h1.6v1.4h-1.6zm2.6 0h1.6v1.4h-1.6zm-235.7 2.6h1.6v1.4h-1.6zm7.7 0h1.6v1.4h-1.6zm74.3 0h1.6v1.4h-1.6zm148.6 0h1.6v1.4h-1.6zm2.5 0h1.6v1.4h-1.6zm2.6 0h1.6v1.4h-1.6zm-230.6 2.7h1.6v1.4h-1.6zm2.6 0h1.6v1.4h-1.6zm64 0h1.6v1.4h-1.6zm10.3 0h1.6v1.4h-1.6zm2.5 0h1.6v1.4h-1.6zm2.6 0h1.6v1.4h-1.6zm2.6 0h1.6v1.4h-1.6zm140.9 0h1.6v1.4h-1.6zm2.5 0h1.6v1.4h-1.6zm2.6 0h1.6v1.4h-1.6zm-228 2.6h1.6v1.4h-1.6zm61.5 0h1.6v1.4h-1.6zm2.5 0h1.6v1.4h-1.6zm12.8 0h1.6v1.4h-1.6zm2.6 0h1.6v1.4h-1.6zm2.6 0h1.6v1.4h-1.6zm2.5 0h1.6v1.4h-1.6zm140.9 0h1.6v1.4h-1.6zm2.6 0h1.6v1.4h-1.6zm-171.7 2.6h1.6v1.4h-1.6zm2.6 0h1.6v1.4h-1.6zm2.6 0h1.6v1.4h-1.6zm2.5 0h1.6v1.4h-1.6zm15.4 0h1.6v1.4h-1.6zm2.6 0h1.6v1.4h-1.6zm2.5 0h1.6v1.4h-1.6zm2.6 0h1.6v1.4h-1.6zm0 2.7h1.6v1.4h-1.6zm2.5 0h1.6v1.4h-1.6zm20.5 10.6h1.6v1.4h-1.6zm-5.1 2.6h1.6v1.4h-1.6zm2.6 0h1.6v1.4h-1.6z" fill="#2a0a06" fill-opacity="0.7"/><use href="#land" fill="none" stroke="#1a1a1a" stroke-width="0.45"/><path d="M172.1 60.0h1v1h-1zM170.7 59.5h1v1h-1zM123.1 67.0h1v1h-1zM123.9 65.5h1v1h-1zM114.3 72.4h1v1h-1zM134.6 72.8h1v1h-1zM129.1 72.4h1v1h-1zM117.4 70.5h1v1h-1zM145.7 72.6h1v1h-1zM142.7 71.2h1v1h-1zM147.2 77.6h1v1h-1zM147.1 76.1h1v1h-1zM172.5 77.2h1v1h-1zM108.3 78.2h1v1h-1zM123.7 63.0h1v1h-1zM161.7 32.3h1v1h-1zM141.2 69.0h1v1h-1zM143.8 70.5h1v1h-1zM145.5 73.7h1v1h-1zM143.6 72.4h1v1h-1zM140.8 70.8h1v1h-1zM137.8 68.8h1v1h-1zM146.8 78.7h1v1h-1zM148.5 79.9h1v1h-1zM149.8 81.1h1v1h-1zM160.5 81.5h1v1h-1zM157.9 82.8h1v1h-1zM172.6 77.2h1v1h-1zM170.8 75.4h1v1h-1zM169.9 74.7h1v1h-1zM168.6 73.7h1v1h-1zM119.5 70.2h1v1h-1zM122.3 72.4h1v1h-1zM124.2 72.3h1v1h-1zM127.2 71.4h1v1h-1zM130.7 74.0h1v1h-1zM131.9 75.5h1v1h-1zM133.8 72.7h1v1h-1zM136.7 73.1h1v1h-1zM138.7 74.2h1v1h-1zM123.5 66.4h1v1h-1zM124.0 64.2h1v1h-1zM123.9 62.3h1v1h-1zM123.6 61.2h1v1h-1zM170.1 59.6h1v1h-1zM168.7 58.6h1v1h-1zM166.3 58.1h1v1h-1zM164.9 57.9h1v1h-1zM160.3 56.1h1v1h-1zM156.8 54.4h1v1h-1zM141.8 61.9h1v1h-1z" fill="#e95638" fill-opacity="0.6"/><path d="M173.4 60.5h1v1h-1zM152.5 86.4h1v1h-1zM142.0 92.5h1v1h-1zM136.1 87.3h1v1h-1zM134.0 85.9h1v1h-1zM135.3 86.2h1v1h-1zM137.4 88.1h1v1h-1zM133.5 85.0h1v1h-1zM187.4 86.8h1v1h-1zM188.2 87.5h1v1h-1zM213.5 102.8h1v1h-1zM125.0 80.6h1v1h-1zM127.6 87.3h1v1h-1zM128.4 87.5h1v1h-1zM130.6 89.0h1v1h-1zM110.5 85.9h1v1h-1zM111.8 85.7h1v1h-1zM114.3 84.3h1v1h-1zM102.8 60.8h1v1h-1zM286.7 65.7h1v1h-1zM286.2 64.2h1v1h-1zM287.3 64.8h1v1h-1zM6.9 75.8h1v1h-1zM59.3 122.4h1v1h-1zM58.4 122.3h1v1h-1zM304.3 26.8h1v1h-1zM158.3 32.8h1v1h-1zM155.8 33.2h1v1h-1zM151.5 33.1h1v1h-1zM147.2 32.2h1v1h-1zM150.9 84.3h1v1h-1zM152.1 85.5h1v1h-1zM150.0 83.9h1v1h-1zM160.7 87.0h1v1h-1zM173.8 82.4h1v1h-1zM177.3 88.9h1v1h-1zM178.6 87.7h1v1h-1zM172.0 86.8h1v1h-1zM169.4 88.1h1v1h-1zM165.3 88.5h1v1h-1zM187.3 86.7h1v1h-1zM187.8 86.7h1v1h-1zM188.3 88.1h1v1h-1zM155.4 54.0h1v1h-1zM131.0 57.4h1v1h-1zM141.8 90.9h1v1h-1zM141.1 88.3h1v1h-1zM142.1 87.5h1v1h-1zM136.0 89.1h1v1h-1zM137.8 88.1h1v1h-1zM134.6 85.5h1v1h-1zM133.6 85.3h1v1h-1zM136.5 86.3h1v1h-1zM137.0 87.3h1v1h-1zM132.3 84.2h1v1h-1zM131.4 83.5h1v1h-1zM150.8 89.9h1v1h-1zM65.7 112.2h1v1h-1zM279.2 82.3h1v1h-1zM238.5 102.1h1v1h-1zM216.9 102.3h1v1h-1zM205.9 53.3h1v1h-1z" fill="#f5784d" fill-opacity="0.6"/><path d="M159.9 90.9h1v1h-1zM161.1 91.5h1v1h-1zM158.3 95.3h1v1h-1zM151.5 94.6h1v1h-1zM152.6 93.5h1v1h-1zM151.1 94.4h1v1h-1zM143.2 94.5h1v1h-1zM142.3 93.3h1v1h-1zM144.1 96.1h1v1h-1zM179.2 94.4h1v1h-1zM177.5 93.6h1v1h-1zM183.1 93.0h1v1h-1zM185.6 94.3h1v1h-1zM190.8 98.3h1v1h-1zM141.6 98.3h1v1h-1zM143.0 97.6h1v1h-1zM142.5 97.2h1v1h-1zM105.2 57.4h1v1h-1zM120.9 55.0h1v1h-1zM301.1 24.2h1v1h-1zM305.8 25.7h1v1h-1zM300.9 28.2h1v1h-1zM301.5 27.5h1v1h-1zM153.4 93.4h1v1h-1zM167.5 94.8h1v1h-1zM172.1 96.3h1v1h-1zM172.6 96.7h1v1h-1zM161.8 95.6h1v1h-1zM176.9 93.4h1v1h-1zM178.0 93.7h1v1h-1zM180.5 94.4h1v1h-1zM180.9 92.1h1v1h-1zM182.7 92.8h1v1h-1zM183.7 93.6h1v1h-1zM184.8 93.5h1v1h-1zM186.5 94.8h1v1h-1zM186.8 95.2h1v1h-1zM188.4 97.2h1v1h-1zM188.7 97.8h1v1h-1zM191.6 99.3h1v1h-1zM179.3 99.5h1v1h-1zM180.8 100.0h1v1h-1zM177.6 98.7h1v1h-1zM195.8 101.0h1v1h-1zM120.2 57.0h1v1h-1zM120.8 55.4h1v1h-1zM105.6 57.4h1v1h-1zM135.4 106.7h1v1h-1zM143.0 93.2h1v1h-1zM142.6 91.5h1v1h-1zM144.5 96.7h1v1h-1zM156.2 90.6h1v1h-1zM154.8 91.5h1v1h-1zM158.4 92.9h1v1h-1zM157.5 96.3h1v1h-1zM158.1 96.3h1v1h-1zM154.5 94.8h1v1h-1zM153.1 93.2h1v1h-1zM151.8 95.5h1v1h-1zM43.6 119.8h1v1h-1zM31.8 120.2h1v1h-1zM281.9 97.0h1v1h-1zM239.5 108.5h1v1h-1zM237.9 108.7h1v1h-1z" fill="#fabc86" fill-opacity="0.6"/><path d="M157.3 97.6h1v1h-1zM170.4 97.6h1v1h-1zM108.7 55.5h1v1h-1zM110.1 53.9h1v1h-1zM110.9 52.1h1v1h-1zM285.1 45.5h1v1h-1zM283.0 44.9h1v1h-1zM292.5 50.0h1v1h-1zM292.8 53.9h1v1h-1zM293.6 54.2h1v1h-1zM295.3 53.3h1v1h-1zM294.9 53.8h1v1h-1zM291.6 53.6h1v1h-1zM5.1 78.6h1v1h-1zM302.0 92.9h1v1h-1zM294.6 85.8h1v1h-1zM251.7 50.4h1v1h-1zM276.2 126.8h1v1h-1zM275.3 126.6h1v1h-1zM7.2 41.7h1v1h-1zM140.8 30.4h1v1h-1zM141.4 30.2h1v1h-1zM183.7 103.2h1v1h-1zM111.5 56.1h1v1h-1zM107.8 55.7h1v1h-1zM109.1 55.1h1v1h-1zM142.9 104.5h1v1h-1zM157.4 97.5h1v1h-1zM298.4 114.4h1v1h-1zM296.4 111.6h1v1h-1zM284.4 130.4h1v1h-1z" fill="#ffffbf" fill-opacity="0.6"/><path d="M229.2 79.4h1v1h-1zM229.8 79.4h1v1h-1zM230.5 79.7h1v1h-1zM228.9 78.8h1v1h-1zM61.3 85.3h1v1h-1zM46.8 82.9h1v1h-1zM254.2 68.2h1v1h-1zM248.1 68.1h1v1h-1zM247.1 67.9h1v1h-1zM237.5 61.9h1v1h-1zM79.6 72.5h1v1h-1zM39.0 87.2h1v1h-1zM39.9 89.1h1v1h-1zM46.0 92.9h1v1h-1zM47.8 88.1h1v1h-1zM232.6 74.0h1v1h-1z" fill="#c82127" fill-opacity="0.6"/><path d="M106.7 75.8h1v1h-1zM107.8 75.1h1v1h-1zM46.9 97.5h1v1h-1zM48.7 96.8h1v1h-1zM36.5 89.2h1v1h-1zM37.4 89.6h1v1h-1zM38.0 90.2h1v1h-1zM254.4 64.6h1v1h-1zM254.8 66.0h1v1h-1zM254.6 67.2h1v1h-1zM256.1 67.2h1v1h-1zM254.5 65.3h1v1h-1zM253.3 63.6h1v1h-1zM251.6 63.3h1v1h-1zM82.2 89.6h1v1h-1zM89.8 88.1h1v1h-1zM44.8 67.9h1v1h-1zM53.6 96.3h1v1h-1zM212.2 62.3h1v1h-1zM209.0 62.7h1v1h-1z" fill="#db392b" fill-opacity="0.6"/><path d="M62.3 75.2h1v1h-1zM61.8 78.9h1v1h-1zM78.7 67.9h1v1h-1zM78.8 68.7h1v1h-1zM61.2 70.1h1v1h-1zM61.8 71.6h1v1h-1zM61.7 69.0h1v1h-1zM62.2 77.1h1v1h-1zM61.9 72.9h1v1h-1zM237.2 67.9h1v1h-1zM213.8 69.8h1v1h-1z" fill="#b10b26" fill-opacity="0.6"/><path d="M7.3 43.6h1v1h-1zM11.6 45.8h1v1h-1zM20.8 47.8h1v1h-1zM2.0 44.0h1v1h-1zM20.0 47.7h1v1h-1zM15.7 13.2h1v1h-1zM299.6 16.3h1v1h-1zM154.9 104.6h1v1h-1zM135.2 127.0h1v1h-1z" fill="#bfd9c7" fill-opacity="0.6"/><path d="M27.8 48.0h1v1h-1zM129.7 37.0h1v1h-1zM127.2 38.5h1v1h-1zM125.4 39.2h1v1h-1zM144.0 125.2h1v1h-1zM141.2 123.6h1v1h-1z" fill="#7fb3d0" fill-opacity="0.6"/><path d="M132.3 34.6h1v1h-1zM156.4 117.7h1v1h-1zM152.2 122.7h1v1h-1z" fill="#6297c6" fill-opacity="0.6"/></g></g><rect x="375.0" y="4.4" width="307.4" height="132.3" fill="none" stroke="#333" stroke-width="0.8"/><path d="M371.8 4.40H375.0" stroke="#333" stroke-width="0.7"/><text x="369.8" y="7.40" text-anchor="end" font-size="7">90°N</text><path d="M371.8 30.86H375.0" stroke="#333" stroke-width="0.7"/><text x="369.8" y="33.86" text-anchor="end" font-size="7">60°N</text><path d="M371.8 57.32H375.0" stroke="#333" stroke-width="0.7"/><text x="369.8" y="60.32" text-anchor="end" font-size="7">30°N</text><path d="M371.8 83.78H375.0" stroke="#333" stroke-width="0.7"/><text x="369.8" y="86.78" text-anchor="end" font-size="7">0°S</text><path d="M371.8 110.24H375.0" stroke="#333" stroke-width="0.7"/><text x="369.8" y="113.24" text-anchor="end" font-size="7">30°S</text><path d="M371.8 136.70H375.0" stroke="#333" stroke-width="0.7"/><text x="369.8" y="139.70" text-anchor="end" font-size="7">60°S</text><path d="M375.00 136.70000000000002v3.2" stroke="#333" stroke-width="0.7"/><text x="375.00" y="147.40" text-anchor="middle" font-size="7">0°</text><path d="M451.85 136.70000000000002v3.2" stroke="#333" stroke-width="0.7"/><text x="451.85" y="147.40" text-anchor="middle" font-size="7">90°E</text><path d="M528.70 136.70000000000002v3.2" stroke="#333" stroke-width="0.7"/><text x="528.70" y="147.40" text-anchor="middle" font-size="7">180°</text><path d="M605.55 136.70000000000002v3.2" stroke="#333" stroke-width="0.7"/><text x="605.55" y="147.40" text-anchor="middle" font-size="7">90°W</text><path d="M682.40 136.70000000000002v3.2" stroke="#333" stroke-width="0.7"/><text x="682.40" y="147.40" text-anchor="middle" font-size="7">0°</text><text x="383.0" y="132.8" font-size="9.1">n = 34</text><g transform="translate(29.3,204.3) scale(1,1.003)"><g clip-path="url(#cax)"><g clip-path="url(#cland)"><rect x="-5" y="-5" width="400" height="200" fill="#3690C0"/><path fill="#F16913" stroke="#F16913" stroke-width="0.3" d="M232 6l2-2h2h2h2h2h2h2h2h2h2h2l2 2h2l2-2h2h2h2h2h2h2h2h2h2h2h2h2h2h2h2l2 2h2h2h2v2l-1.1 1.1l-.9 .8l-.1 .1l-1.9 1.4l-1.5 .6l-.5 .3l-2 1.3l-1 .4l-1 .5l-2 1.2l-1 .3l-1 .4l-2 .2l-1.3-.6l-.7-.3l-2-1.5l-1.4-.2l-.6-.1l-2-.1l-2-.2l-2-.5l-2-.6l-2-.4l-.8-.1l-1.2-.1l-2-.1h-2l-2 .1l-1.5 .1l-.5 .1l-2 .4l-2 .7l-2 .6l-.9 .2l-1.1 .4l-2 .6l-2 .7l-1.3 .3l-.7 .3l-2 1.7h-.1l-1.9 1.9l-.2 .1l-1.8 1.2l-2 .2l-2-.4l-2-.7l-.8-.3l-1.2-.2l-2-.7l-2-.8l-.9-.3l-1.1-.2l-2-.4l-2-.3l-2-.4l-2-.3l-2-.4h-.1l-1.9-.3l-2-1.2l-.8-.5l-1.2-1.5l-.4-.5l-.8-2h1.2l2-2h2h2h2h2h2h2h2l2-2h2h2h2zM127.2 18l.8-.2l2 .2h1.8h.2l2 .2l2-.2h.1l1.9-1l2-.5h2l2 .4l2 1.1l2 1.6l.6 .4l1.4 1.8l.1 .2l-.1 .2l-2 1.7l-2-.3l-2-1.2l-1.1-.4l-.9-.2h-2l-.3 .2l-1.7 .9l-2 .9l-2-.6l-2-1.1l-1.4-.1h-.6l-2-1.5l-.5-.5zM233.7 30l.3-.4l2-1l2 .5l.8 .9l1.2 1.2l.4 .8l1.3 2l.3 .7l.5 1.3l1.1 2l.4 1.9v.1l.7 2l.8 2l.2 .3l-1.7 1.7v2l-2 2l-2 2l2 2v2v1.9l-2-.5l-2-.1l-.7 .7l-1.3 .7l-2 .8l-1.1 .5l-.9 .3l-2 .7l-2 .3l-1.5-1.3l1.1-.4l.4 .4l1.3-1.3l.7-.4l.4-.3h1.6l2-2l-1.8-1.8v-.2l-.2-1.9v-.1l-1.1-2l-.9-1.7l-.2-.3l-1.5-2l-.3-.7l-.8-1.3l-1.1-2l.2-2l.8-2l.9-1.4l.3-.6l1.7-1.9l.1-.1l1.7-2l.2-.4zM166 32v-.2v.2l.2 1.8l-.2 .2h-.3zM30.9 48l1.1-.2l1.1 .2l.9 .7l.6 1.3l.8 2l.1 2l.2 2l.3 .3l2 1.2l2-.8l1.5-.7l.5-.3l2-1.1l.7 1.4l-.7 1.5l-.3 .5l-.1 2l-1.3 2l-.3 .4l-1.2 1.6l.3 2l.9 1.4l.3 .6v2l-.3 .6l-1.1 1.4l-.9 1.2l-.7 .8l-1.3 1.6l-.3 .4l-1.4 2l-.3 .5l-2 .4l-.6-.9l-1.4-.4l-1.7 .4l-.3 .2l-.2-.2l-1.8-1.2l-.5-.8l-1.5-1.1l-2-.9l-2-.7l-2-.7l-2-.1l-2 .6l-.9 .9v2l.8 2l.1 .1l2 .3l1.7 1.6l.3 .4l1 1.6l1 1.6l.6 .4l1 2l.4 .6l2 1.1l.2 .3l1.7 2l.1 .4l2 .9l1.3 .7l-1.3 1.3h-2h-2h-2l-2 .6l-.2 .1l-.8 2l.2 2l.8 2l2 1.9l.1 .1l1.9 .4l2 1.1l.5 .5l.9 .6l-1.4 1.4l-2 2l-2 2h-2h-2l-2 2h-2l-2-2v-2l-2-2v-2l-2-2v-2v-2l-2-2v-2v-2v-2l1.9-1.9l.1 .1h2l.2-.2l1.8-1.1l.7-.9l-.1-2l-.6-.6l-2-.4l-2 .1l-.9 .9l-.6 2l1.1 1.6l-1.6-1.6v-2l-2-2v-2v-2l-2-2h-2h-2h-2v-2v-2v-2v-2v-2v-2v-2v-.9l2-.7l.1-.4l1.9-1.7l.6-.3l1.4-.8l.2 .8l.3 2l1.5 1.8l1.3 .2l.7 .2l2-.1l.3-.1l.2-2l-.5-.3l-1.2-1.7l-.8-2h-.1h.1h2h.2l1.8 .3l2 1.2l.5 .5l1.5 .6l2-.3l.6-.3l1.1-2l.3-.4l.8-1.6l1.2-1.4l.5-.6l1.5-1.3l1.3-.7l.7-.3l2-1l2-.5zM0 62.9l-.6 1.1l-.8 2l.4 2l.8 2l.2 .4l2 1.4h2l2-1.6l.1-.2l.1-2l-.2-1l-.4-1l-1.6-1.5l-1.1-.5l-.9-.4zM26 59.9l-.4 .1l-1.6 1.2l-.4 .8l.4 2l1.8 2l.2 .1l2 .8h2l.9-.9l-.1-2l-.6-2l-.2-.7l-1.6-1.3l-.4-.1zM64.3 48l1.7-.7l2 .4l2 .3h.1l1.9 .5l2 .4l2 .4l2 .4l2-.3l2-.1l1.7 .7l.3 .5l2 .2l2 .3l2-.1l2 .7l1.9 .4h.1l2 1.6l2 .1l2-.4l1.8 .7l.2 .1l2 1l1.6 .9l.4 .2v1.8l-2 2l2 2v1.9l-2-.6l-2-.4l-2-.6v-.3l-2-2l-.9 .9l-1.1-.7l-2 .5l-2 .2l-2-.5l-1.3-.4l-.7-.3l-2-1.2l-.5-.5l-.7-2l-.1-2l-.7-1.5l-1.3-.5l-.7-.5l-2-.3l-2-.7l-.5 1.5l-1.5 .7l-2 .2l-2 .2l-2-.2l-2 .2l-2 .7l-.6 .2l-1.4 .3l-2-.1l-.5-.2l-1.5-.9l-2-.8l-2-.3h-1.3l1.3-.2l2-.8l2-.9l.3-.1l1.7-.9l2-1zM45.4 54l.6-.2l.2 .2l-.2 .2zM310 58v2v2v1.9l-2-1l-1.3 1.1l-.7 1.8v.2v.3l.2 1.7l1 2l.8 1l2 .9v.1v2v2h-2h-2h-2h-2h-2h-2l-2-2l-2-2l-2-2l-2-2v-2v-2v-2v-1l2-.1l2-.2l.9 1.3l1.1 .8l1-.8l1-1.6l2-.4l2 .1l2 .4l2 .7l1.4-1.2l.6-.3zM172 60h2h2v2l-2 2l-2-2zM249.1 60h.9l1.2 1.2l-1.2-.7zM109.9 76l.1-.1v.1l2 2h2h2h2l2 2h.1v2v2l.2 2l.7 2l1 2l1.7 2l-1.7 .5l-1.6-.5l-.4-.2l-2-.2l-2 .1l-1.2 .3l-.8 .7l-.9 1.3l.9 1.7l.1 .3l1.9 1.9l.1 .1l1.9 1.3l.7 .7l1.3 1l1.3 1l.7 .2l2 .6l2 .9l.5 .3l1.5 .7l2 .2l1.4-.9l.1-2l.2-2l-.1-.4l.4 .4v2v2v2v.6l-.5 1.4l-1.5 1.3l-2 .6l-2-.4l-2-.7l-1.4-.8l-.6-.4l-2-.5l-2 .1l-2 .5h-2l-2-.2l-2-.5l-2-.6l-1.6-.4l-.4-.1l-2-.4l-2-.6l-2-.4l-2-.2l-2-.3l-2-2v-.1l.4 .1l1.6 1.9l2-.1h2l2-.1l2-.4l1.9-1.3l.1-.2l1.5-1.8l.4-2l-.4-2l-.7-2l-.8-2l-1.7-2l-.3-.3l-1.7-1.7l-.3-.4l-1-1.6l-.5-2l.2-2l.7-2l.6-.6l2-1.3l.5-.1l1.5-.3l2-.6zM114 84h-2l-2 2l2 2h2l2-2zM237.8 80l.2-.2l2-1.2l2 .8l1 .6l1 .5l2 .4l1.7-.9l.3-.2l2-1l2-.2l2 .3l2 1.1l1.5 2l.5 .8l.5 1.2l1 2l.5 .7l.7 1.3l-.7 1.6l-2-1.4l-2-.1l-2 1.3l-.4 .6l-1.3 2l-.3 1.4l-.3 .6l.3 .7l.2 1.3l-.2 .3l-.6-.3l-1.4-1l-1.3-1l-.7-.2l-1.9-1.8l-.1-.2l-1.5-1.8l-.5-2l-1.7-2l-.3-.4l-2-1.4l-1.3-.2l-.7-.1l-.9-1.9zM272.7 80h1.3l2 2h2v2v2v2l-2 2v2v2l-2 2v2v2h-2h-2l-2 2l-2 2v.3l-.2-.3l-1.7-2v-2l-.1-.5l-.1-1.5l.1-.3l.3 .3l1.7 .8l2-.2l1-.6l1-.9l.7-1.1l.4-2v-2l.5-2l.4-1.5l.2-.5l.3-2l.2-2l.2-2z"/><path fill="#FDD0A2" stroke="#FDD0A2" stroke-width="0.3" d="M127.4 10h.6l2 2l2 2l2 2h2h2h2h2h2h2h2h2l1.9-1.9l-.3 1.9l-.3 2l-.4 2l-.9 .9l-1.3-.9l-.7-.4l-2-1.6l-2-1.1l-2-.4h-2l-2 .5l-1.9 1h-.1l-2 .2l-2-.2h-.2h-1.8l-2-.2l-1.9-1.8l.4-2l.6-2zM168 26l2-1.4l2 .2l2-.5l2 .2l2 1.4l.3 .1l1.7 1.3l1.4 .7h-1.4l-2 2h-2h-2l-2 2h-2h-2l-.9 .9l-.1-.9l-.6-2l.3-2zM188.1 28l1.9-1l2-.7l2 .4l2 .4l2 .2l1.8 .7l.2 .1l1.4 1.9l.2 2l-.6 2l-1 1.3l-.8 .7l-.5 .7l-.7-.7h-2l-2-2l-2-2l-2-2l-2-2zM77.5 52l.5-.3l2 .1l2 .1l.7 .1l1.3 .5l.7 1.5l.1 2l.7 2l.5 .5l2 1.2l.7 .3l1.3 .4l2 .5l2-.2l2-.5l1.1 .7l-1.1 1.1l-2 2v2v2v2l-2 2l-2 2l2 2l2-2h2l2-2v-2l2-2v-2v-2v-1.7l2 .6l2 .4l2 .6v.1l2 2v2v2l2 2v2v1.9l-.1 .1l-1.9 1.1l-2 .6l-1.5 .3l-.5 .1l-2 1.3l-.6 .6l-.7 2l-.2 2l.5 2l1 1.6l.3 .4l1.7 1.7l.3 .3l1.7 2l.8 2l.7 2l.4 2l-.4 2l-1.5 1.8l-.1 .2l-1.9 1.1l-2 .3l-2-.3l-2-.4l-2-.4l-1.6-.3l-.4-.1v-1.9l2-2v-2h2h2l2-2v-2l-2-2l-2-2h-2h-2h-2h-2l-2-2l-2-2l-2-2l-2-2v-2l-2-2v-2v-2l2-2v-2l-2-2h-2v-2l-2-2h-2l-2 2l-2 2v2v2v2v2l-2 2l-2-2l-2-2l-2-2v-2l-2-2v-2l-2-2l-2-2l-2-2l-2 2v2l-2 2h-2l-2 2l-2 2v2v2v2l-2 2l-2 2l-2 2l-2 2l-2 2l2 2v2l1 1l-1 .8l-.2 .2l-1.8 2l-2 .5l-.6-.5l-1.4-.7l-2-1.2l-.1-.1l-1.7-2l-.2-.3l-2-1.1l-.4-.6l-1-2l-.6-.4l-1-1.6l-1-1.6l-.3-.4l-1.7-1.6l-2-.3l-.1-.1l-.8-2v-2l.9-.9l2-.6l2 .1l2 .7l2 .7l2 .9l1.5 1.1l.5 .8l.7 1.2l-.4 2l.8 2l.9 .1l2 .1l.5-.2l1.5-.8l1.1-1.2l.9-1.5l.3-.5l1.4-2l.3-.4l1.3-1.6l.7-.8l.9-1.2l1.1-1.4l.3-.6v-2l-.3-.6l-.9-1.4l-.3-2l1.2-1.6l.3-.4l1.3-2l.2-2l.2-.5l.7-1.5l1.3-1.3l.9-.7l1.1-.5l2-.3h2l2 .1l2-.3h2l2 .5l1.5 .5l.5 .2l2 .2l1.4-.4l.6-.2l2-.7l2-.2l2 .4l2-.1l2-.5zM4.4 58l1.6-1.5l2 1l.8 .5l1.2 1.7l.5 .3l-.2 2l-.3 .1l-2 .1l-.7-.2l-1.3-.2l-1.5-1.8zM237.3 58l.7-.7l2 .1l2 .5v.1l2 2h2h2h1.1l.9 .5l1.2 .7l.8 .8v2h-2l-2 2l2 2h2h2h2l2 2l2 2h2l2 2l2 2l2 2h2l2 2h.7l.2 2l-.2 2l-.2 2l-.3 2l-.2 .5l-.4 1.5l-.5 2v2l-.4 2l-.7 1.1l-1 .9l-1 .6l-2 .2l-1.4-.8l-.6-.6l-.3-1.4l-1.1-2l-.6-2l-.7-2l-.6-2l-.7-1.3l-.4-.7l-1.1-2l-.5-1.2l-.5-.8l-1.5-2l-2-1.1l-2-.3l-2 .2l-2 1l-.3 .2l-1.7 .9l-2-.4l-1-.5l-1-.6l-2-.8l-2 1.2l-.2 .2l-.7 2l-1.1 2v-2v-2v-2l2-2l-2-2l-2-2l-2-2l-2-2h-2l-2-2h-2h-2h-2l-2-2h-2v-2l-.4-.4l.4 .1l2-.3h2l2 .3h2l2 .3l2-.1l2-.6l2-1l.9-.3l1.1-.4l2-.9zM242 64h-2l-2 2l2 2h2l2-2zM295.6 62l.4-.3l1 .3l-1 .8zM114.8 92l1.2-.3l2-.1l2 .3l.4 .1l1.6 .5l2 .4l2 .9v.2l2 2l2 2l1 1l.4 1l-.1 2l-.5 2l-.8 .8l-2-.1l-1.5-.7l-.5-.3l-2-.9l-2-.6l-.7-.2l-1.3-1l-1.3-1l-.7-.7l-1.9-1.3l-.1-.1l-1.9-1.9l-.1-.3l-.9-1.7l.9-1.3z"/><path fill="#D0D1E6" stroke="#D0D1E6" stroke-width="0.3" d="M121.6 10h.4h2h2h1.4l-.3 2l-.6 2l-.4 2l-.1 .1l-.1-.1l-1.9-.9l-1-1.1l-1-1.8l-.1-.2zM151.9 14.1l.1-.1h2h2v2l2 2h2h2l.6-.6v.6l-.4 2l-.2 .5l-.9 1.5l-1.1 .7l-2 .7l-.4 .2l-1.6-1.6l-1.4 1.4l-.6 .1l-2-1l-.6-.5l-.5-2l.4-2l.3-2zM183.5 24l.5-.2l2-.5l2 .5l.3 .2l1.7 1.1l1.8 .9l-1.8 1l-1.9 1h-.1h-2h-2h-2h-.6l-1.4-.7l-1.7-1.3l1.7-.9l2-.5zM11.7 26h.3h.3l1.7 .2l2 .6l2 .7l1.5 .5l.5 .2l2 1.7v.1v.4l-.3 1.6l-1.7 .7h-2l-2 .3l-2 .5l-1.8 .5l-.2 .1l-2 .5l-2 .2l-2 .3l-2-.1l-2-.7l-.5-.3l-.8-2l.8-2l.5-.6l1.7-1.4l.3-.2l2-.8l2-.5l2-.3zM165.8 26l.2-.4l1.6 .4l-1.4 2l-.2 .6l-.2-.6zM199.9 28l.1-.1l.3 .1l-.3 .1zM201.4 30l.6-.9l.7 .9v2l.3 2l-.4 2l-.6 1.9l-.1 .1l-1.4 2l-.5 .6v-.6v-2l-1.2-1.2l.4-.8l.8-.7l1-1.3l.6-2zM308.9 30l1.1-1.1v1.1v2v2v.6l-1.1-.6l-.8-2zM29.1 82l.9-.3l1.2 .3l-1.2 .1zM236 86v-2l1.7 2l.3 .5l.8 1.5l1.2 1.4l.6 .6l1.4 1.7l.1 .3l-.1 .6l-.6 .8l-1.4-1.4v-2l-2-2zM35.8 90l.2-.2l1-.8l1 1l2-2h2h2v2v2v2v2l-2 2v.4l-.7-.4l-1.3-.8l-1.4-1.2l-.6-.4l-2-1.3l-.7-.3l-1.3-2zM262 92z"/><path fill="#014636" stroke="#014636" stroke-width="0.3" d="M11.5 6.5l.5-.5h2h2h2h2h.8l-.8 .4l-2 1.2l-1.2 .4l-.8 .2l-2-.1l-.3-.1l-1.7-.9zM49.7 8l.3-.7l.9-1.3h1.1h2l2 2l2 2h2v2l2 2h2h2l2-2h2h2l1.3-1.3l.7 .1l1.5 1.2l.5 .5l2 1.2l.6 .3l1.4 .9l2 .7l.7 .4l-.1 2l-.6 .6l-1.8 1.4l-.2 .3l-2 .7l-2 .8l-.7 .2l-1.3 .2l-2-.1h-2l-2 .3l-2 .2l-2 .1l-2 .1l-2-.1h-2l-2 .1l-2 .2l-2 .1l-2 .2l-1.8 .7l-.2 .1l-2 1.1l-2 .3l-2-.8l-.7-.7l-1.3-1.8l-.1-.2l-.1-2l.2-.3l2-1.7v-.1l1.3-1.9l.7-1.5l.3-.5l1.4-2l.3-.3l1.9-1.7l.1-.1zM132.4 30l1.6-1l2 .3l.7 .7l.4 2l-.6 1.5l-.5 .5l-1.2 1.2l-.8 .4h-2v-1.6l-1.4-1.4v-.6l1.4-1.5zM59.4 32l.6-.4l2-.3l2 .2h2h2l1.6 .5l.4 .1l2 .6l2 .1l2 .6l.7 .6l1.3 1.3l.4 .7l.8 2v2l-.9 2l-.3 .3l-1.8 1.7l-.2 .1l-2 1.1l-1.8 .8l-.2 .1l-2 .3l-2-.2l-.3-.2l-.6-2l-1.1-1.2l-2-.6l-2 .1h-2l-.1-.3l-1.4-2l-.5-.8l-.9-1.2l-.6-2l.4-2l1.1-1zM253.5 32l.5-.2l.4 .2l1.6 .6l1 1.4l-.3 2l-.7 .3l-2 .1l-.9-.4l-1.1-1.4l-.4-.6l.4-.9zM113.5 34l.5-.4l2 .2l2-1.2l2-.2l2 .3l2 1.1v.2v2v2l.1 .1l-.1 .1l-1.6 1.8l-.4 .3l-2 .6l-2-.9l-1.2-2l.5-2l-1.3-1.9l-2 1.7zM222.4 46l1.6-.1l.3 .1l1.7 .5l1.5 1.5l.5 .5l1.1 1.5l-1 2l-.1 .1l-2 1.1l-2 .3l-2-.7l-2-.6l-.2-.2l-.8-2l1-1.9v-.1l2-2zM147.3 112l.7-.6l2-.4l2 .7l.5 .3l1.5 1.7v.3l-2 2l-2 2l-2 2l-1 1l-1-1l-.6-2l.3-2l.3-1.1l.2-.9z"/><path fill="#7F2704" stroke="#7F2704" stroke-width="0.3" d="M9.1 84l.9-.9l2-.1l2 .4l.6 .6l.1 2l-.7 .9l-1.8 1.1l-.2 .2h-2l-.1-.1l.1-.1l-.4-.4l-1.1-1.6z"/></g><use href="#land" fill="none" stroke="#1a1a1a" stroke-width="0.45"/><path d="M172.1 60.0h1v1h-1zM170.7 59.5h1v1h-1zM173.4 60.5h1v1h-1zM123.1 67.0h1v1h-1zM123.9 65.5h1v1h-1zM114.3 72.4h1v1h-1zM134.6 72.8h1v1h-1zM129.1 72.4h1v1h-1zM117.4 70.5h1v1h-1zM145.7 72.6h1v1h-1zM142.7 71.2h1v1h-1zM147.2 77.6h1v1h-1zM147.1 76.1h1v1h-1zM172.5 77.2h1v1h-1zM110.5 85.9h1v1h-1zM111.8 85.7h1v1h-1zM114.3 84.3h1v1h-1zM108.3 78.2h1v1h-1zM102.8 60.8h1v1h-1zM105.2 57.4h1v1h-1zM123.7 63.0h1v1h-1zM286.7 65.7h1v1h-1zM286.2 64.2h1v1h-1zM287.3 64.8h1v1h-1zM5.1 78.6h1v1h-1zM6.9 75.8h1v1h-1zM302.0 92.9h1v1h-1zM294.6 85.8h1v1h-1zM141.2 69.0h1v1h-1zM143.8 70.5h1v1h-1zM145.5 73.7h1v1h-1zM143.6 72.4h1v1h-1zM140.8 70.8h1v1h-1zM137.8 68.8h1v1h-1zM146.8 78.7h1v1h-1zM148.5 79.9h1v1h-1zM149.8 81.1h1v1h-1zM150.9 84.3h1v1h-1zM150.0 83.9h1v1h-1zM170.8 75.4h1v1h-1zM169.9 74.7h1v1h-1zM168.6 73.7h1v1h-1zM119.5 70.2h1v1h-1zM122.3 72.4h1v1h-1zM124.2 72.3h1v1h-1zM136.7 73.1h1v1h-1zM138.7 74.2h1v1h-1zM123.5 66.4h1v1h-1zM124.0 64.2h1v1h-1zM123.9 62.3h1v1h-1zM123.6 61.2h1v1h-1zM105.6 57.4h1v1h-1zM170.1 59.6h1v1h-1zM168.7 58.6h1v1h-1zM166.3 58.1h1v1h-1zM164.9 57.9h1v1h-1zM160.3 56.1h1v1h-1zM141.8 61.9h1v1h-1zM298.4 114.4h1v1h-1zM296.4 111.6h1v1h-1zM281.9 97.0h1v1h-1zM279.2 82.3h1v1h-1z" fill="#F16913" fill-opacity="0.65"/><path d="M152.5 86.4h1v1h-1zM159.9 90.9h1v1h-1zM161.1 91.5h1v1h-1zM157.3 97.6h1v1h-1zM158.3 95.3h1v1h-1zM151.5 94.6h1v1h-1zM152.6 93.5h1v1h-1zM151.1 94.4h1v1h-1zM143.2 94.5h1v1h-1zM142.0 92.5h1v1h-1zM142.3 93.3h1v1h-1zM144.1 96.1h1v1h-1zM136.1 87.3h1v1h-1zM134.0 85.9h1v1h-1zM135.3 86.2h1v1h-1zM137.4 88.1h1v1h-1zM133.5 85.0h1v1h-1zM179.2 94.4h1v1h-1zM177.5 93.6h1v1h-1zM187.4 86.8h1v1h-1zM188.2 87.5h1v1h-1zM183.1 93.0h1v1h-1zM185.6 94.3h1v1h-1zM190.8 98.3h1v1h-1zM170.4 97.6h1v1h-1zM213.5 102.8h1v1h-1zM141.6 98.3h1v1h-1zM143.0 97.6h1v1h-1zM142.5 97.2h1v1h-1zM125.0 80.6h1v1h-1zM127.6 87.3h1v1h-1zM128.4 87.5h1v1h-1zM130.6 89.0h1v1h-1zM108.7 55.5h1v1h-1zM110.1 53.9h1v1h-1zM110.9 52.1h1v1h-1zM120.9 55.0h1v1h-1zM285.1 45.5h1v1h-1zM283.0 44.9h1v1h-1zM292.5 50.0h1v1h-1zM292.8 53.9h1v1h-1zM293.6 54.2h1v1h-1zM295.3 53.3h1v1h-1zM294.9 53.8h1v1h-1zM291.6 53.6h1v1h-1zM251.7 50.4h1v1h-1zM276.2 126.8h1v1h-1zM275.3 126.6h1v1h-1zM59.3 122.4h1v1h-1zM58.4 122.3h1v1h-1zM301.1 24.2h1v1h-1zM305.8 25.7h1v1h-1zM304.3 26.8h1v1h-1zM300.9 28.2h1v1h-1zM301.5 27.5h1v1h-1zM7.2 41.7h1v1h-1zM7.3 43.6h1v1h-1zM11.6 45.8h1v1h-1zM20.8 47.8h1v1h-1zM27.8 48.0h1v1h-1zM2.0 44.0h1v1h-1zM20.0 47.7h1v1h-1zM153.4 93.4h1v1h-1zM15.7 13.2h1v1h-1zM299.6 16.3h1v1h-1zM140.8 30.4h1v1h-1zM141.4 30.2h1v1h-1zM132.3 34.6h1v1h-1zM129.7 37.0h1v1h-1zM127.2 38.5h1v1h-1zM125.4 39.2h1v1h-1zM158.3 32.8h1v1h-1zM155.8 33.2h1v1h-1zM161.7 32.3h1v1h-1zM151.5 33.1h1v1h-1zM147.2 32.2h1v1h-1zM152.1 85.5h1v1h-1zM160.5 81.5h1v1h-1zM157.9 82.8h1v1h-1zM160.7 87.0h1v1h-1zM172.6 77.2h1v1h-1zM173.8 82.4h1v1h-1zM177.3 88.9h1v1h-1zM178.6 87.7h1v1h-1zM172.0 86.8h1v1h-1zM169.4 88.1h1v1h-1zM165.3 88.5h1v1h-1zM167.5 94.8h1v1h-1zM172.1 96.3h1v1h-1zM172.6 96.7h1v1h-1zM161.8 95.6h1v1h-1zM176.9 93.4h1v1h-1zM178.0 93.7h1v1h-1zM180.5 94.4h1v1h-1zM180.9 92.1h1v1h-1zM182.7 92.8h1v1h-1zM183.7 93.6h1v1h-1zM184.8 93.5h1v1h-1zM186.5 94.8h1v1h-1zM186.8 95.2h1v1h-1zM188.4 97.2h1v1h-1zM188.7 97.8h1v1h-1zM191.6 99.3h1v1h-1zM187.3 86.7h1v1h-1zM187.8 86.7h1v1h-1zM188.3 88.1h1v1h-1zM179.3 99.5h1v1h-1zM180.8 100.0h1v1h-1zM177.6 98.7h1v1h-1zM183.7 103.2h1v1h-1zM195.8 101.0h1v1h-1zM127.2 71.4h1v1h-1zM130.7 74.0h1v1h-1zM131.9 75.5h1v1h-1zM133.8 72.7h1v1h-1zM120.2 57.0h1v1h-1zM120.8 55.4h1v1h-1zM111.5 56.1h1v1h-1zM107.8 55.7h1v1h-1zM109.1 55.1h1v1h-1zM156.8 54.4h1v1h-1zM155.4 54.0h1v1h-1zM131.0 57.4h1v1h-1zM142.9 104.5h1v1h-1zM135.4 106.7h1v1h-1zM156.4 117.7h1v1h-1zM154.9 104.6h1v1h-1zM144.0 125.2h1v1h-1zM141.2 123.6h1v1h-1zM135.2 127.0h1v1h-1zM152.2 122.7h1v1h-1zM143.0 93.2h1v1h-1zM142.6 91.5h1v1h-1zM144.5 96.7h1v1h-1zM141.8 90.9h1v1h-1zM141.1 88.3h1v1h-1zM142.1 87.5h1v1h-1zM136.0 89.1h1v1h-1zM137.8 88.1h1v1h-1zM134.6 85.5h1v1h-1zM133.6 85.3h1v1h-1zM136.5 86.3h1v1h-1zM137.0 87.3h1v1h-1zM132.3 84.2h1v1h-1zM131.4 83.5h1v1h-1zM156.2 90.6h1v1h-1zM154.8 91.5h1v1h-1zM158.4 92.9h1v1h-1zM157.5 96.3h1v1h-1zM158.1 96.3h1v1h-1zM157.4 97.5h1v1h-1zM154.5 94.8h1v1h-1zM153.1 93.2h1v1h-1zM151.8 95.5h1v1h-1zM150.8 89.9h1v1h-1zM65.7 112.2h1v1h-1zM43.6 119.8h1v1h-1zM31.8 120.2h1v1h-1zM284.4 130.4h1v1h-1zM239.5 108.5h1v1h-1zM237.9 108.7h1v1h-1zM238.5 102.1h1v1h-1zM216.9 102.3h1v1h-1zM205.9 53.3h1v1h-1z" fill="#3690C0" fill-opacity="0.65"/><path d="M229.2 79.4h1v1h-1zM229.8 79.4h1v1h-1zM230.5 79.7h1v1h-1zM228.9 78.8h1v1h-1zM106.7 75.8h1v1h-1zM107.8 75.1h1v1h-1zM62.3 75.2h1v1h-1zM61.8 78.9h1v1h-1zM61.3 85.3h1v1h-1zM254.4 64.6h1v1h-1zM254.8 66.0h1v1h-1zM254.6 67.2h1v1h-1zM254.2 68.2h1v1h-1zM256.1 67.2h1v1h-1zM254.5 65.3h1v1h-1zM253.3 63.6h1v1h-1zM251.6 63.3h1v1h-1zM248.1 68.1h1v1h-1zM247.1 67.9h1v1h-1zM237.5 61.9h1v1h-1zM78.7 67.9h1v1h-1zM78.8 68.7h1v1h-1zM79.6 72.5h1v1h-1zM82.2 89.6h1v1h-1zM89.8 88.1h1v1h-1zM44.8 67.9h1v1h-1zM61.2 70.1h1v1h-1zM61.8 71.6h1v1h-1zM61.7 69.0h1v1h-1zM62.2 77.1h1v1h-1zM61.9 72.9h1v1h-1zM232.6 74.0h1v1h-1zM237.2 67.9h1v1h-1zM213.8 69.8h1v1h-1z" fill="#FDD0A2" fill-opacity="0.65"/><path d="M46.9 97.5h1v1h-1zM48.7 96.8h1v1h-1zM46.8 82.9h1v1h-1zM36.5 89.2h1v1h-1zM37.4 89.6h1v1h-1zM38.0 90.2h1v1h-1zM39.0 87.2h1v1h-1zM39.9 89.1h1v1h-1zM46.0 92.9h1v1h-1zM47.8 88.1h1v1h-1zM53.6 96.3h1v1h-1zM212.2 62.3h1v1h-1zM209.0 62.7h1v1h-1z" fill="#D0D1E6" fill-opacity="0.65"/></g></g><rect x="29.3" y="204.3" width="307.4" height="132.6969" fill="none" stroke="#333" stroke-width="0.8"/><path d="M26.1 204.30H29.3" stroke="#333" stroke-width="0.7"/><text x="24.1" y="207.30" text-anchor="end" font-size="7">90°N</text><path d="M26.1 230.84H29.3" stroke="#333" stroke-width="0.7"/><text x="24.1" y="233.84" text-anchor="end" font-size="7">60°N</text><path d="M26.1 257.38H29.3" stroke="#333" stroke-width="0.7"/><text x="24.1" y="260.38" text-anchor="end" font-size="7">30°N</text><path d="M26.1 283.92H29.3" stroke="#333" stroke-width="0.7"/><text x="24.1" y="286.92" text-anchor="end" font-size="7">0°S</text><path d="M26.1 310.46H29.3" stroke="#333" stroke-width="0.7"/><text x="24.1" y="313.46" text-anchor="end" font-size="7">30°S</text><path d="M26.1 337.00H29.3" stroke="#333" stroke-width="0.7"/><text x="24.1" y="340.00" text-anchor="end" font-size="7">60°S</text><path d="M29.30 336.9969v3.2" stroke="#333" stroke-width="0.7"/><text x="29.30" y="347.70" text-anchor="middle" font-size="7">0°</text><path d="M106.15 336.9969v3.2" stroke="#333" stroke-width="0.7"/><text x="106.15" y="347.70" text-anchor="middle" font-size="7">90°E</text><path d="M183.00 336.9969v3.2" stroke="#333" stroke-width="0.7"/><text x="183.00" y="347.70" text-anchor="middle" font-size="7">180°</text><path d="M259.85 336.9969v3.2" stroke="#333" stroke-width="0.7"/><text x="259.85" y="347.70" text-anchor="middle" font-size="7">90°W</text><path d="M336.70 336.9969v3.2" stroke="#333" stroke-width="0.7"/><text x="336.70" y="347.70" text-anchor="middle" font-size="7">0°</text><text x="-0.6" y="8.1" font-size="12" font-weight="bold" fill="#000">a</text><text x="345.1" y="8.1" font-size="12" font-weight="bold" fill="#000">b</text><text x="-0.8" y="208.4" font-size="12" font-weight="bold" fill="#000">c</text><text x="509" y="208.7" font-size="12" font-weight="bold" fill="#000">d</text><rect x="134.9" y="174.2" width="419.8" height="5.6" fill="url(#cbar)"/><path d="M151.38 174.2v5.6" stroke="#fff" stroke-width="0.5" stroke-opacity="0.85"/><text x="151.38" y="190.8" text-anchor="middle" font-size="7.6">-0.6</text><path d="M183.55 174.2v5.6" stroke="#fff" stroke-width="0.5" stroke-opacity="0.85"/><text x="183.55" y="190.8" text-anchor="middle" font-size="7.6">-0.5</text><path d="M215.72 174.2v5.6" stroke="#fff" stroke-width="0.5" stroke-opacity="0.85"/><text x="215.72" y="190.8" text-anchor="middle" font-size="7.6">-0.4</text><path d="M247.89 174.2v5.6" stroke="#fff" stroke-width="0.5" stroke-opacity="0.85"/><text x="247.89" y="190.8" text-anchor="middle" font-size="7.6">-0.3</text><path d="M280.06 174.2v5.6" stroke="#fff" stroke-width="0.5" stroke-opacity="0.85"/><text x="280.06" y="190.8" text-anchor="middle" font-size="7.6">-0.2</text><path d="M312.23 174.2v5.6" stroke="#fff" stroke-width="0.5" stroke-opacity="0.85"/><text x="312.23" y="190.8" text-anchor="middle" font-size="7.6">-0.1</text><path d="M344.40 174.2v5.6" stroke="#fff" stroke-width="0.5" stroke-opacity="0.85"/><text x="344.40" y="190.8" text-anchor="middle" font-size="7.6">0</text><path d="M376.57 174.2v5.6" stroke="#fff" stroke-width="0.5" stroke-opacity="0.85"/><text x="376.57" y="190.8" text-anchor="middle" font-size="7.6">0.1</text><path d="M408.74 174.2v5.6" stroke="#fff" stroke-width="0.5" stroke-opacity="0.85"/><text x="408.74" y="190.8" text-anchor="middle" font-size="7.6">0.2</text><path d="M440.91 174.2v5.6" stroke="#fff" stroke-width="0.5" stroke-opacity="0.85"/><text x="440.91" y="190.8" text-anchor="middle" font-size="7.6">0.3</text><path d="M473.08 174.2v5.6" stroke="#fff" stroke-width="0.5" stroke-opacity="0.85"/><text x="473.08" y="190.8" text-anchor="middle" font-size="7.6">0.4</text><path d="M505.25 174.2v5.6" stroke="#fff" stroke-width="0.5" stroke-opacity="0.85"/><text x="505.25" y="190.8" text-anchor="middle" font-size="7.6">0.5</text><path d="M537.42 174.2v5.6" stroke="#fff" stroke-width="0.5" stroke-opacity="0.85"/><text x="537.42" y="190.8" text-anchor="middle" font-size="7.6">0.6</text><text x="344.5" y="170.2" text-anchor="middle" font-size="9.3">Correlation with Niño 3.4</text><rect x="360.6" y="219.8" width="14.3" height="14.3" fill="#BFD3E6"/><text x="379.9" y="229.5" font-size="7.2" fill="#000">N_P</text><rect x="404.3" y="219.8" width="14.3" height="14.3" fill="#8C6BB1"/><text x="423.8" y="229.5" font-size="7.2" fill="#000">N_NS</text><rect x="453.4" y="219.8" width="14.3" height="14.3" fill="#4D004B"/><text x="473.1" y="229.5" font-size="7.2" fill="#000">N_N</text><rect x="360.6" y="239.1" width="14.3" height="14.3" fill="#D0D1E6"/><text x="379.9" y="248.8" font-size="7.2" fill="#000">NS_P</text><rect x="404.3" y="239.1" width="14.3" height="14.3" fill="#3690C0"/><text x="423.8" y="248.8" font-size="7.2" fill="#000">NS_NS</text><rect x="453.4" y="239.1" width="14.3" height="14.3" fill="#014636"/><text x="473.1" y="248.8" font-size="7.2" fill="#000">NS_N</text><rect x="360.6" y="258.4" width="14.3" height="14.3" fill="#FDD0A2"/><text x="379.9" y="268.1" font-size="7.2" fill="#000">P_P</text><rect x="404.3" y="258.4" width="14.3" height="14.3" fill="#F16913"/><text x="423.8" y="268.1" font-size="7.2" fill="#000">P_NS</text><rect x="453.4" y="258.4" width="14.3" height="14.3" fill="#7F2704"/><text x="473.1" y="268.1" font-size="7.2" fill="#000">P_N</text><path d="M598.7 276.4L598.70 211.20A65.2 65.2 0 0 1 655.60 244.56Z" fill="#FDD0A2" stroke="#fff" stroke-width="0.55" stroke-linejoin="round"/><path d="M598.7 276.4L655.60 244.56A65.2 65.2 0 0 1 621.64 337.43Z" fill="#F16913" stroke="#fff" stroke-width="0.55" stroke-linejoin="round"/><path d="M598.7 276.4L621.64 337.43A65.2 65.2 0 0 1 620.36 337.90Z" fill="#7F2704" stroke="#fff" stroke-width="0.55" stroke-linejoin="round"/><path d="M598.7 276.4L620.36 337.90A65.2 65.2 0 0 1 619.71 338.12Z" fill="#BFD3E6" stroke="#fff" stroke-width="0.55" stroke-linejoin="round"/><path d="M598.7 276.4L619.71 338.12A65.2 65.2 0 0 1 618.96 338.37Z" fill="#8C6BB1" stroke="#fff" stroke-width="0.55" stroke-linejoin="round"/><path d="M598.7 276.4L618.96 338.37A65.2 65.2 0 0 1 611.59 340.31Z" fill="#D0D1E6" stroke="#fff" stroke-width="0.55" stroke-linejoin="round"/><path d="M598.7 276.4L611.59 340.31A65.2 65.2 0 0 1 583.48 213.00Z" fill="#3690C0" stroke="#fff" stroke-width="0.55" stroke-linejoin="round"/><path d="M598.7 276.4L583.48 213.00A65.2 65.2 0 0 1 598.70 211.20Z" fill="#014636" stroke="#fff" stroke-width="0.55" stroke-linejoin="round"/><text x="622.8" y="242.9" text-anchor="middle" font-size="9.7" style="stroke:none">16.88%</text><text x="633.4" y="297.7" text-anchor="middle" font-size="9.7" style="stroke:none">27.4%</text><text x="562.3" y="290.6" text-anchor="middle" font-size="9.7" style="stroke:none">49.42%</text></svg></body></html>
